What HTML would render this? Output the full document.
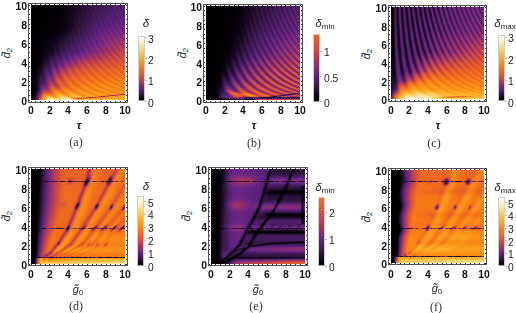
<!DOCTYPE html><html><head><meta charset="utf-8"><style>
*{margin:0;padding:0}
html,body{width:516px;height:313px;background:#fff;overflow:hidden}
body{position:relative;font-family:"Liberation Sans",sans-serif}
.hm{position:absolute;display:flex;flex-direction:column}
.hm i{display:block;height:1px;flex:0 0 1px;background:linear-gradient(90deg,var(--g))}
.fr{position:absolute;border:1px solid #505050;box-sizing:border-box}
b{position:absolute;background:#2a2a2a;display:block}
.t{position:absolute;white-space:nowrap;line-height:1;will-change:transform}
.tk{font-weight:bold;font-size:10.4px;color:#111}
.cl{font-size:10.3px;color:#1a1a1a}
.ctl{font-size:11.5px;color:#222}
.ctl sub{font-size:8px;vertical-align:-2px}
.cb{position:absolute;box-sizing:border-box;border:1px solid #cdcdcd;border-bottom-color:#999}
b.ct{width:2px;height:1px;background:#bbb}
.tau{font-size:11px;font-weight:bold;font-style:italic;color:#111}
.g0,.d2{font-size:11px;color:#222}
.d2{will-change:auto}
.g0 sub,.d2 sub{font-size:8px;vertical-align:-2px}
.cap{font-family:"Liberation Serif",serif;font-size:12px;color:#333}
</style></head><body>
<div class="hm" style="left:31px;top:5px;width:94px;height:95px"><i style="--g:#000000 0px,#040106 30px,#0f0517 40px,#14071e 44px,#1a0a25 46px,#190924 48px,#230e30 50px,#1d0b2a 52px,#291137 55px,#250f32 57px,#311541 59px,#2a1138 61px,#371749 64px,#301440 66px,#3e1952 68px,#361747 70px,#421a59 73px,#3a184c 75px,#471b5f 77px,#3e1952 79px,#3f1954 80px,#4b1c66 82px,#401a56 84px,#4f1d6b 86px,#451b5d 89px,#541f71 91px,#471b60 93px"></i><i style="--g:#000000 0px,#040106 30px,#0f0517 40px,#14071e 44px,#1b0a27 46px,#190924 48px,#230e31 50px,#210d2e 53px,#2b123a 55px,#250f32 57px,#321542 59px,#2d133c 62px,#39184c 64px,#311541 66px,#3e1952 68px,#381749 71px,#441a5b 73px,#3b184e 75px,#471b60 78px,#3e1953 80px,#4c1d67 82px,#421a59 84px,#441a5b 85px,#511e6d 87px,#451b5d 89px,#551f71 91px,#4a1c64 93px"></i><i style="--g:#000000 0px,#040106 30px,#0f0517 40px,#1a0a25 45px,#1e0c2b 49px,#240f32 51px,#210d2e 53px,#2d133c 55px,#260f34 57px,#341645 60px,#2d133c 62px,#3b184e 64px,#331644 66px,#411a56 69px,#38184a 71px,#441b5c 73px,#3d1951 76px,#4a1c64 78px,#3f1955 80px,#4d1d69 83px,#431a5a 85px,#521e6f 87px,#471b60 89px,#481c62 90px,#572074 92px,#501d6c 93px"></i><i style="--g:#000000 0px,#040106 30px,#0f0517 40px,#1a0a25 45px,#1d0b29 47px,#1e0c2a 49px,#261034 51px,#210d2e 53px,#2e133d 55px,#2a1138 58px,#361748 60px,#2e133d 62px,#3c184f 65px,#351746 67px,#421a59 69px,#3a184d 71px,#471b60 74px,#3d1951 76px,#4a1c65 78px,#411a58 81px,#501d6c 83px,#441b5c 85px,#541f70 88px,#481b61 90px,#582075 92px,#561f72 93px"></i><i style="--g:#000000 0px,#040106 30px,#0e0517 40px,#190925 45px,#1f0c2b 47px,#1d0b2a 49px,#281036 51px,#220e2f 53px,#30143f 56px,#2a1138 58px,#381749 60px,#321543 63px,#3e1953 65px,#361748 67px,#431a5a 69px,#3b184f 72px,#491c62 74px,#3f1954 76px,#411a56 77px,#4d1d68 79px,#421a58 81px,#501e6c 83px,#501e6c 84px,#461b5e 86px,#561f73 88px,#4a1c64 90px,#4b1c66 91px,#5a2077 93px"></i><i style="--g:#000000 0px,#040106 30px,#12061c 41px,#190924 45px,#210d2e 47px,#1e0b2a 49px,#291138 51px,#260f34 54px,#321542 56px,#2a1239 58px,#39184b 61px,#321542 63px,#401955 65px,#3a184d 68px,#461b5e 70px,#3c1950 72px,#491c62 74px,#4a1c64 75px,#401a56 77px,#4e1d6a 79px,#451b5c 81px,#451b5d 82px,#531f70 84px,#471b60 86px,#572074 89px,#4a1c65 91px,#5b2179 93px"></i><i style="--g:#000000 0px,#040107 30px,#12061c 41px,#190924 45px,#230e30 47px,#1e0c2a 49px,#2b1239 52px,#260f34 54px,#341644 56px,#2f143e 59px,#3b184e 61px,#331644 63px,#411a57 66px,#3a184d 68px,#471b60 70px,#3f1955 73px,#4c1d68 75px,#421a58 77px,#501e6c 80px,#451b5d 82px,#541f71 84px,#491c63 87px,#5a2077 89px,#4c1d68 91px,#592076 93px"></i><i style="--g:#000000 0px,#040107 30px,#12061c 41px,#1f0c2c 46px,#220e2f 48px,#230e30 50px,#2d133c 52px,#261034 54px,#341645 56px,#2f143e 59px,#3c1950 61px,#371749 64px,#431a5b 66px,#3b184e 68px,#491c63 71px,#3f1955 73px,#4d1d69 75px,#441a5b 78px,#521e6f 80px,#471b60 82px,#491c62 83px,#572074 85px,#4a1c64 87px,#592076 89px,#5a2077 90px,#4d1d69 92px,#551f72 93px"></i><i style="--g:#000000 0px,#050207 30px,#12061c 41px,#180923 44px,#240f32 48px,#220e2f 50px,#2e133e 52px,#281036 54px,#371749 57px,#2f143f 59px,#3e1952 62px,#371749 64px,#451b5c 66px,#3e1953 69px,#4c1c66 71px,#411a57 73px,#501d6c 76px,#441b5c 78px,#521e6f 80px,#531e70 81px,#481b61 83px,#582075 85px,#4c1d67 88px,#5d217b 90px,#4f1d6b 92px,#511e6d 93px"></i><i style="--g:#000000 0px,#050208 30px,#12061c 41px,#1b0a27 43px,#1e0c2b 46px,#271035 48px,#220e30 50px,#2f143f 52px,#2b123a 55px,#38184b 57px,#311541 59px,#401955 62px,#38184a 64px,#471b5f 67px,#3e1953 69px,#4c1d67 71px,#431a59 74px,#511e6e 76px,#471b60 79px,#561f73 81px,#491c63 83px,#5a2077 86px,#4c1d67 88px,#5d217a 90px,#5e217b 91px,#501d6c 93px"></i><i style="--g:#000000 0px,#040107 28px,#12061c 41px,#1c0b28 44px,#1e0c2a 46px,#291137 48px,#230e30 50px,#321542 53px,#2b123a 55px,#39184c 57px,#341644 60px,#411a57 62px,#3b184f 65px,#491c63 67px,#401956 69px,#4f1d6b 72px,#441a5b 74px,#531e6f 77px,#471b60 79px,#571f73 81px,#4b1c65 84px,#5c2179 86px,#4f1d6b 89px,#61227e 91px,#521e6e 93px"></i><i style="--g:#000000 0px,#040107 28px,#0d0415 37px,#180923 42px,#1e0c2a 44px,#1e0c2a 46px,#2a1139 48px,#271035 51px,#341644 53px,#2c123b 55px,#3b184f 58px,#351645 60px,#431a5a 63px,#3b184f 65px,#4a1c64 67px,#421a58 70px,#511e6d 72px,#461b5f 75px,#551f72 77px,#491c63 79px,#4b1c65 80px,#5a2077 82px,#4c1c67 84px,#5e217b 87px,#4f1d6b 89px,#60227e 91px,#62227f 92px,#582075 93px"></i><i style="--g:#000000 0px,#040107 28px,#0d0415 37px,#170923 42px,#200d2c 44px,#1e0c2a 46px,#2b123a 48px,#271035 51px,#351746 53px,#301440 56px,#3d1951 58px,#361748 60px,#451b5d 63px,#3d1951 65px,#4d1d68 68px,#431a5a 70px,#521e6f 73px,#461b5f 75px,#561f72 77px,#4d1d69 79px,#4a1c64 80px,#5b2178 82px,#4e1d69 85px,#60227d 87px,#521e6e 90px,#642382 92px,#5f227d 93px"></i><i style="--g:#000000 0px,#040107 28px,#11061a 38px,#170822 42px,#210d2e 44px,#1e0c2b 46px,#2d133c 49px,#271035 51px,#361748 54px,#301440 56px,#3e1952 58px,#38184a 61px,#461b5e 63px,#3f1955 66px,#4f1d6b 68px,#461b5e 71px,#551f71 73px,#491c62 75px,#4a1c64 76px,#592076 78px,#4c1c67 80px,#5e217b 83px,#4f1d6b 85px,#62227f 88px,#521e6e 90px,#652383 93px"></i><i style="--g:#000000 0px,#040107 28px,#11061a 38px,#170822 42px,#230e30 44px,#230e30 47px,#2f143f 49px,#281137 51px,#38184a 54px,#311541 56px,#401a56 59px,#39184b 61px,#481c62 64px,#401955 66px,#4f1d6b 68px,#501e6d 69px,#461b5e 71px,#551f72 73px,#491c63 76px,#5a2077 78px,#4d1d68 81px,#5f227c 83px,#501e6d 86px,#632381 88px,#541f71 91px,#682485 93px"></i><i style="--g:#000000 0px,#040107 28px,#11061a 38px,#1d0b2a 43px,#240f32 45px,#230e30 47px,#301440 49px,#2c123b 52px,#39184c 54px,#351646 57px,#421a58 59px,#3c1950 62px,#4a1c65 64px,#421a58 66px,#441a5b 67px,#531e70 69px,#481b61 71px,#592075 74px,#4b1c66 76px,#5d217a 79px,#4e1d6a 81px,#61227f 84px,#521e6e 86px,#652483 89px,#551f72 91px,#652483 93px"></i><i style="--g:#000000 0px,#040107 28px,#11061a 38px,#170822 41px,#261034 45px,#230e30 47px,#321542 50px,#2c123b 52px,#3a184d 54px,#351646 57px,#421a59 59px,#3c1950 62px,#4b1c66 64px,#431a5b 67px,#541f71 69px,#491c63 72px,#5a2077 74px,#4c1d68 77px,#5e217b 79px,#501d6c 82px,#622380 84px,#531e70 87px,#672485 89px,#571f74 92px,#60227e 93px"></i><i style="--g:#000000 0px,#040107 28px,#10051a 38px,#180924 41px,#1c0b28 43px,#281036 45px,#240e31 47px,#341645 50px,#2d133c 52px,#3d1951 55px,#361747 57px,#451b5d 60px,#3d1952 62px,#4e1d6a 65px,#451b5c 67px,#572074 70px,#4a1c65 72px,#5c2179 75px,#4e1d6a 77px,#61227e 80px,#511e6e 82px,#652383 85px,#551f71 87px,#6a2584 90px,#582075 92px,#5b2178 93px"></i><i style="--g:#000000 0px,#040107 28px,#100519 38px,#1a0a26 41px,#1c0b28 43px,#291138 45px,#271036 48px,#351746 50px,#311440 53px,#3e1952 55px,#39184b 58px,#471b5f 60px,#401a56 63px,#501e6c 65px,#481b61 68px,#592076 70px,#4c1d68 73px,#5e217b 75px,#4f1d6c 78px,#62237f 80px,#531e6f 83px,#662484 85px,#561f73 88px,#6b2583 90px,#5e227b 92px,#592076 93px"></i><i style="--g:#000000 0px,#040107 28px,#150820 39px,#1c0b28 43px,#2b123a 46px,#271035 48px,#361747 50px,#301440 53px,#3e1953 55px,#39184b 58px,#471b60 60px,#431a5a 62px,#411a56 63px,#501d6c 65px,#521e6f 66px,#481c61 68px,#5b2178 71px,#4d1d69 73px,#60227d 76px,#511e6d 78px,#642382 81px,#541f71 83px,#692484 86px,#582075 88px,#5a2077 89px,#662484 90px,#6f2681 91px,#662484 92px,#5c2179 93px"></i><i style="--g:#000000 0px,#040107 28px,#150720 39px,#1c0b28 42px,#220e2f 44px,#2d133c 46px,#281036 48px,#38184a 51px,#311542 53px,#411a57 56px,#3a184d 58px,#4b1c65 61px,#421a59 63px,#551f71 66px,#4b1c65 68px,#561f73 70px,#5e217b 71px,#501d6c 74px,#62237f 76px,#531e6f 79px,#652483 81px,#561f72 84px,#6a2584 86px,#692484 87px,#592076 89px,#6e2682 91px,#702681 92px,#632380 93px"></i><i style="--g:#000000 0px,#040107 28px,#15071f 39px,#1f0c2c 41px,#210d2e 44px,#2f143e 46px,#2c123b 49px,#3a184c 51px,#351746 54px,#421a59 56px,#3d1951 59px,#4c1c67 61px,#441b5c 64px,#551f72 66px,#4c1c67 69px,#5d217b 71px,#5f227c 72px,#501e6c 74px,#632381 77px,#541f70 79px,#682484 82px,#582074 84px,#5a2077 85px,#652483 86px,#6e2681 87px,#662484 88px,#5c2179 89px,#5c2179 90px,#682485 91px,#74277f 92px,#6d2582 93px"></i><i style="--g:#000000 0px,#040107 28px,#12061c 37px,#1b0a27 40px,#210d2e 44px,#301440 46px,#2c123b 49px,#3a184d 51px,#351746 54px,#441b5c 57px,#3d1951 59px,#4e1d6b 62px,#451b5d 64px,#5a2076 67px,#4e1d6a 69px,#62237f 72px,#531e70 75px,#662483 77px,#561f72 80px,#6a2584 82px,#682485 83px,#592075 85px,#6e2682 87px,#6f2681 88px,#5c2179 90px,#76277e 93px"></i><i style="--g:#000000 0px,#050208 28px,#14071e 37px,#1b0a27 40px,#230e30 42px,#220d2f 44px,#331543 47px,#2d133c 49px,#3d1951 52px,#371748 54px,#461b5f 57px,#3f1954 59px,#4a1c64 61px,#511e6d 62px,#481c62 65px,#5b2178 67px,#501d6c 70px,#622380 72px,#622380 73px,#531f70 75px,#682485 78px,#572074 80px,#662484 82px,#6e2681 83px,#662483 84px,#5c2179 85px,#5c217a 86px,#682484 87px,#74277f 88px,#5f227c 91px,#6a2584 92px,#78287d 93px"></i><i style="--g:#000000 0px,#050208 25px,#11061a 35px,#1c0b28 40px,#260f34 42px,#230e30 44px,#361746 47px,#2f143e 49px,#3f1954 52px,#3a184c 55px,#481b61 57px,#411a57 60px,#511e6e 62px,#4d1d68 64px,#491c63 65px,#5f227c 68px,#521e6e 70px,#662484 73px,#572074 75px,#572074 76px,#6b2583 78px,#672485 79px,#592076 81px,#702681 83px,#702681 84px,#5d217a 86px,#73277f 88px,#78287d 89px,#6b2583 90px,#61227e 91px,#642382 92px,#74277e 93px"></i><i style="--g:#000000 0px,#060209 25px,#12061b 35px,#180923 38px,#1d0b29 40px,#291138 42px,#291137 45px,#381749 47px,#331543 50px,#401a56 52px,#3b184e 55px,#4b1c66 58px,#431a5a 60px,#561f73 63px,#4c1d67 65px,#582075 67px,#61227f 68px,#541f71 71px,#672485 73px,#5e217b 75px,#582074 76px,#6a2583 78px,#702681 79px,#652383 80px,#5c2179 81px,#5f227c 82px,#6c2582 83px,#77287d 84px,#62237f 86px,#61227e 87px,#6d2582 88px,#7c297b 89px,#79287c 90px,#692584 91px,#632381 92px,#6d2582 93px"></i><i style="--g:#000000 0px,#050208 24px,#0c0413 30px,#13061d 35px,#1c0b28 38px,#1e0c2a 40px,#2c123b 42px,#2a1138 45px,#39184b 47px,#341645 50px,#441a5b 53px,#3c1950 55px,#4e1d6a 58px,#461b5f 61px,#582075 63px,#4e1d6a 66px,#642382 69px,#561f73 71px,#652383 73px,#6d2582 74px,#662484 75px,#5b2179 77px,#662484 78px,#73277f 79px,#702681 80px,#5e227c 82px,#672485 83px,#77287d 84px,#7a287c 85px,#632380 87px,#672485 88px,#832a78 90px,#692484 92px,#692484 93px"></i><i style="--g:#000000 0px,#060209 24px,#0d0414 30px,#12061c 33px,#1b0a27 36px,#1f0c2c 40px,#301440 43px,#2c123a 45px,#3d1951 48px,#371748 50px,#461b5f 53px,#3f1955 56px,#4f1d6b 58px,#471b60 61px,#5c217a 64px,#511e6d 66px,#5f227c 68px,#672485 69px,#592075 72px,#6f2681 74px,#6f2681 75px,#5d217a 77px,#722680 79px,#79287c 80px,#622380 82px,#632381 83px,#802a79 85px,#7b297b 86px,#6b2583 87px,#662484 88px,#852b77 90px,#862b76 91px,#6b2583 93px"></i><i style="--g:#000000 0px,#07020a 24px,#0e0516 30px,#160820 33px,#160820 35px,#240e31 38px,#210d2e 40px,#341644 43px,#2e133e 45px,#3f1954 48px,#3a184c 51px,#471b60 53px,#411a57 56px,#541f70 59px,#4a1c64 61px,#561f72 63px,#5f227c 64px,#531e6f 67px,#672485 69px,#6b2583 70px,#5b2178 72px,#6b2583 74px,#75277e 75px,#62227f 77px,#60227e 78px,#6c2583 79px,#7c297b 80px,#7b287b 81px,#642382 83px,#6c2582 84px,#7f2979 85px,#862b76 86px,#6b2583 88px,#6d2582 89px,#8d2d71 91px,#882b75 92px,#76277e 93px"></i><i style="--g:#000000 0px,#060209 20px,#0d0414 26px,#0f0517 30px,#190925 33px,#170922 35px,#281036 38px,#230e31 40px,#371748 43px,#331543 46px,#411a56 48px,#3b184e 51px,#4c1c67 54px,#431a5a 56px,#451b5d 57px,#561f72 59px,#4c1c67 62px,#622380 65px,#551f72 67px,#652383 69px,#702681 70px,#5d217a 73px,#662484 74px,#76277e 75px,#78287d 76px,#6b2583 77px,#62237f 78px,#662484 79px,#822a78 81px,#6a2583 83px,#682484 84px,#892c74 86px,#882c75 87px,#6e2682 89px,#78287d 90px,#8b2c73 91px,#922f6d 92px,#872b75 93px"></i><i style="--g:#000000 0px,#07020a 20px,#0e0516 26px,#100519 30px,#1d0b29 33px,#190a25 35px,#2b123a 38px,#291137 41px,#38184b 43px,#341645 46px,#441b5c 49px,#3d1951 51px,#471b60 53px,#4e1d69 54px,#451b5d 57px,#5a2077 60px,#4e1d6a 62px,#652383 65px,#582075 68px,#702681 70px,#73277f 71px,#682485 72px,#5f227d 73px,#632380 74px,#7e297a 76px,#652383 79px,#832a77 81px,#862b76 82px,#6b2583 84px,#722680 85px,#902e6f 87px,#77287d 89px,#74277f 90px,#952f6b 92px,#952f6b 93px"></i><i style="--g:#000000 0px,#07020b 20px,#0f0517 26px,#160821 31px,#200d2d 33px,#200c2c 36px,#2e133d 38px,#2a1139 41px,#3c1950 44px,#371748 46px,#471b5f 49px,#3f1955 52px,#4e1d6a 54px,#4c1c67 56px,#471b60 57px,#5c2179 60px,#511e6d 63px,#652383 65px,#692484 66px,#5b2178 68px,#5e217b 69px,#6c2583 70px,#78287d 71px,#62227f 74px,#6c2583 75px,#7d297a 76px,#822a78 77px,#682484 79px,#6c2583 80px,#8c2c73 82px,#862b76 83px,#76277e 84px,#702681 85px,#902e6f 87px,#942f6c 88px,#79287c 90px,#7c297b 91px,#9c3265 93px"></i><i style="--g:#000000 0px,#08030c 20px,#100519 26px,#13061d 29px,#170922 31px,#240e31 33px,#210d2e 36px,#321542 39px,#2c123c 41px,#3f1954 44px,#3a184c 47px,#481b61 49px,#451b5c 51px,#411a57 52px,#541f70 55px,#4a1c65 58px,#5d217a 60px,#592076 62px,#531e70 63px,#6d2582 66px,#5d217a 69px,#662484 70px,#77287d 71px,#7c297b 72px,#652382 74px,#672485 75px,#862b76 77px,#822a78 78px,#6b2583 80px,#8a2c74 82px,#902e6f 83px,#76277e 85px,#77287d 86px,#983068 88px,#96306a 89px,#7c297b 91px,#9a3167 93px"></i><i style="--g:#000000 0px,#050208 15px,#0b0412 21px,#11061a 26px,#190924 28px,#180924 31px,#271035 33px,#230e30 36px,#361747 39px,#321543 42px,#411a56 44px,#3b184e 47px,#4c1d67 50px,#451b5c 53px,#551f72 55px,#4c1c67 58px,#632380 61px,#561f73 64px,#6d2582 66px,#722680 67px,#672485 68px,#60227d 69px,#632380 70px,#802a79 72px,#7c297b 73px,#662484 75px,#842b77 77px,#8b2c73 78px,#722680 80px,#722680 81px,#932f6c 83px,#922f6d 84px,#78287d 86px,#812a78 87px,#9e3263 89px,#872b76 91px,#822a78 92px,#912e6e 93px"></i><i style="--g:#000000 0px,#050208 15px,#0c0413 21px,#11061b 26px,#1c0b28 28px,#1a0a25 31px,#291138 33px,#250f32 36px,#38184a 39px,#331644 42px,#441b5c 45px,#3d1951 47px,#4e1d6a 50px,#451b5e 53px,#5a2077 56px,#4f1d6c 59px,#632381 61px,#5e227b 63px,#582075 64px,#692584 66px,#76277e 67px,#622380 70px,#6c2583 71px,#7e297a 72px,#852b77 73px,#6c2583 75px,#6d2582 76px,#8e2d71 78px,#8d2d71 79px,#74277f 81px,#7c297b 82px,#9a3167 84px,#7e297a 87px,#9e3263 89px,#a3345f 90px,#882c75 92px,#8a2c74 93px"></i><i style="--g:#000000 0px,#060209 15px,#0d0414 21px,#12061c 26px,#1f0c2b 28px,#1b0a27 31px,#2e133e 34px,#281036 36px,#3a184d 39px,#351746 42px,#471b5f 45px,#401955 48px,#4f1d6b 50px,#4d1d68 52px,#481b61 53px,#5c2179 56px,#511e6d 59px,#6a2584 62px,#5b2178 65px,#652383 66px,#75277e 67px,#7b287c 68px,#652483 70px,#672485 71px,#872b75 73px,#862b76 74px,#6e2682 76px,#76277e 77px,#942f6c 79px,#78287d 82px,#993167 84px,#9e3263 85px,#842b77 87px,#862b76 88px,#a7355b 90px,#a6355d 91px,#8b2c73 93px"></i><i style="--g:#000000 0px,#060209 15px,#0d0414 21px,#11061a 24px,#13061d 26px,#210d2e 28px,#1d0b29 31px,#311542 34px,#2c123b 37px,#3e1953 40px,#381749 42px,#481c62 45px,#411a57 48px,#541f71 51px,#4a1c64 54px,#60227d 57px,#551f71 60px,#6b2583 62px,#6d2582 63px,#5d217b 65px,#61227f 66px,#7e297a 68px,#7c297b 69px,#672485 71px,#8d2d71 74px,#76277e 76px,#73277f 77px,#942f6c 79px,#983069 80px,#7e297a 82px,#802a79 83px,#a23360 85px,#a03361 86px,#872b75 88px,#8f2d70 89px,#ae3856 91px,#a7355b 92px,#963069 93px"></i><i style="--g:#000000 0px,#050207 14px,#0a030f 19px,#13061d 24px,#13071e 26px,#240e31 28px,#1f0c2c 31px,#341645 34px,#2e133d 37px,#411a56 40px,#3b184e 43px,#4c1d67 46px,#441a5b 48px,#4d1d68 50px,#571f73 52px,#4c1c67 54px,#622380 57px,#561f72 60px,#692484 62px,#72277f 63px,#60227e 66px,#6b2583 67px,#7d297a 68px,#842b77 69px,#6d2582 71px,#6d2582 72px,#8e2d71 74px,#902e6f 75px,#76287e 77px,#7b297b 78px,#9c3165 80px,#993167 81px,#812a78 83px,#8a2c74 84px,#a8355a 86px,#8c2d72 89px,#ac3758 91px,#b23a53 92px,#a8355b 93px"></i><i style="--g:#000000 0px,#050208 14px,#0b0411 19px,#160820 24px,#15071f 26px,#291137 29px,#250f32 32px,#361748 34px,#301440 37px,#431a59 40px,#3c1950 43px,#4e1d6a 46px,#461b5e 49px,#5a2077 52px,#4f1d6b 55px,#662484 58px,#592076 60px,#5a2077 61px,#652383 62px,#73277f 63px,#76277e 64px,#632381 66px,#662484 67px,#872b76 69px,#862b76 70px,#6e2681 72px,#76277e 73px,#952f6b 75px,#902e6f 76px,#7a287c 78px,#a13360 81px,#862b76 84px,#a7355b 86px,#ad3757 87px,#932f6c 89px,#922f6d 90px,#b43b52 92px,#b63c51 93px"></i><i style="--g:#000000 0px,#050208 14px,#0c0412 19px,#14071e 22px,#190924 24px,#160821 26px,#2c123b 29px,#260f34 32px,#3b184e 35px,#351746 38px,#461b5e 41px,#3e1953 43px,#481c61 45px,#511e6d 47px,#481b61 49px,#5c2179 52px,#511e6d 55px,#692484 58px,#5b2178 61px,#712680 63px,#7b297b 64px,#652483 67px,#8d2d72 70px,#76277e 72px,#73277f 73px,#932f6c 75px,#993167 76px,#812a78 78px,#802a79 79px,#a23360 81px,#a5355d 82px,#8c2d72 84px,#8d2d71 85px,#af3855 87px,#b03955 88px,#96306a 90px,#9a3167 91px,#ba3e4d 93px"></i><i style="--g:#000000 0px,#060209 14px,#0d0414 19px,#14071f 22px,#1c0b28 24px,#180923 26px,#2f143f 29px,#281036 32px,#3d1951 35px,#371748 38px,#491c62 41px,#411a57 44px,#541f71 47px,#4b1c65 50px,#60227d 53px,#541f71 56px,#692484 58px,#6e2682 59px,#662484 60px,#5f227d 62px,#6b2583 63px,#7c297b 64px,#7f2a79 65px,#692584 67px,#6c2583 68px,#8e2d71 70px,#8f2e70 71px,#77287d 73px,#7b287b 74px,#9c3265 76px,#9c3265 77px,#832a77 79px,#892c74 80px,#aa3659 82px,#a8355b 83px,#8f2d70 85px,#96306a 86px,#b63c51 88px,#b23a53 89px,#993167 91px,#b53b51 93px"></i><i style="--g:#000000 0px,#040105 11px,#0e0516 19px,#0f0517 21px,#1f0c2b 24px,#1a0a25 26px,#311541 29px,#2a1139 32px,#3f1954 35px,#39184b 38px,#4b1c65 41px,#431a5a 44px,#571f73 47px,#4c1c67 50px,#622380 53px,#551f72 56px,#662484 58px,#722680 59px,#60227d 62px,#662484 63px,#842b77 65px,#6c2583 68px,#942f6b 71px,#7a287c 74px,#a23460 77px,#872b75 80px,#af3955 83px,#932f6c 86px,#bb3e4d 89px,#9e3263 92px,#ab3659 93px"></i><i style="--g:#000000 0px,#040106 11px,#0e0516 17px,#0f0518 21px,#210d2f 24px,#1f0c2b 27px,#331643 29px,#321543 31px,#2f143f 33px,#401a56 35px,#401955 37px,#3c1950 39px,#4e1d6a 42px,#461b5f 45px,#5a2077 48px,#501d6c 51px,#662484 54px,#592076 57px,#632381 58px,#77287d 60px,#642382 62px,#642382 63px,#832a77 65px,#892c75 66px,#722780 68px,#722680 69px,#932f6c 71px,#983068 72px,#812a78 74px,#802a79 75px,#a13361 77px,#a7355c 78px,#8f2d70 80px,#8d2d71 81px,#ae3856 83px,#b43b52 84px,#9b3166 86px,#993167 87px,#ba3e4d 89px,#c04149 90px,#a7355b 92px,#a4345e 93px"></i><i style="--g:#000000 0px,#040106 11px,#0b0411 16px,#11061a 19px,#100519 21px,#240f32 24px,#200d2d 27px,#39184b 30px,#311441 33px,#461b5e 36px,#3e1952 39px,#511e6d 42px,#471b60 45px,#5d217a 48px,#511e6d 51px,#692484 54px,#5b2178 57px,#6e2682 59px,#7a287c 60px,#78287d 61px,#652483 63px,#6c2583 64px,#8c2d72 66px,#8b2c73 67px,#74277f 69px,#7a287c 70px,#9b3166 72px,#9a3166 73px,#832a77 75px,#882c75 76px,#a93659 78px,#aa3659 79px,#912e6e 81px,#942f6b 82px,#b63c51 84px,#b73c50 85px,#9e3263 87px,#a03361 88px,#c24248 90px,#c44346 91px,#aa3659 93px"></i><i style="--g:#000000 0px,#040106 11px,#0b0411 16px,#12061d 19px,#10051a 21px,#261034 24px,#220d2f 27px,#3b184e 30px,#331643 33px,#481b61 36px,#401955 39px,#531e6f 42px,#4a1c64 45px,#60227d 49px,#541f70 51px,#5e227c 53px,#692584 54px,#6e2582 55px,#5e227c 57px,#5f227c 58px,#692484 59px,#79287c 60px,#802a79 61px,#6c2583 63px,#6a2584 64px,#8a2c74 66px,#912e6e 67px,#78287d 70px,#a13361 73px,#872b76 76px,#af3955 79px,#ac3758 80px,#942f6b 82px,#9c3264 83px,#bc3f4c 85px,#ba3e4e 86px,#a13360 88px,#a8355b 89px,#c84544 91px,#c74545 92px,#b93d4e 93px"></i><i style="--g:#000000 0px,#040106 11px,#100518 17px,#12061c 20px,#160820 22px,#281037 24px,#240e31 27px,#3c1950 30px,#3a184c 32px,#38184a 34px,#491c62 36px,#471b60 38px,#431a5a 40px,#572074 43px,#4c1d67 46px,#632381 49px,#561f72 52px,#672485 54px,#722680 55px,#60227d 58px,#652383 59px,#832a77 61px,#832a78 62px,#6d2582 64px,#712680 65px,#922f6d 67px,#942f6b 68px,#7d297a 70px,#7f2979 71px,#a03361 73px,#a5355d 74px,#8e2d70 76px,#8c2d72 77px,#ad3857 79px,#b43b52 80px,#993167 83px,#c24248 86px,#a6355c 89px,#cd4941 92px,#ca4643 93px"></i><i style="--g:#000000 0px,#040107 11px,#100519 17px,#170822 19px,#160821 22px,#2e133d 25px,#271035 27px,#341645 29px,#411a57 31px,#39184c 34px,#4e1d6a 37px,#441b5c 40px,#5a2077 43px,#4e1d6a 46px,#652383 49px,#5f227d 51px,#5b2178 53px,#642382 54px,#77287d 56px,#652382 58px,#642382 59px,#8a2c74 62px,#712680 65px,#9a3167 68px,#8a2c74 70px,#802a79 71px,#882c75 72px,#a9365a 74px,#a9365a 75px,#902e6f 77px,#932f6c 78px,#b53b51 80px,#b93d4f 81px,#a03361 83px,#9f3362 84px,#c04149 86px,#c74445 87px,#ab3758 90px,#d14c3f 93px"></i><i style="--g:#000000 0px,#050208 11px,#11061a 17px,#1a0a26 19px,#170822 22px,#321542 25px,#2b123a 28px,#441b5c 31px,#3b184f 34px,#511e6d 37px,#471b61 40px,#5e227c 44px,#531e6f 47px,#662484 49px,#6c2582 50px,#672485 51px,#5c2179 53px,#712680 55px,#7d297a 56px,#6f2681 58px,#672485 59px,#6c2582 60px,#8d2d72 62px,#8f2e70 63px,#78287d 65px,#79287c 66px,#9a3167 68px,#a03361 69px,#872b76 72px,#b03955 75px,#ac3758 76px,#952f6b 78px,#9c3265 79px,#bd3f4c 81px,#bd3f4c 82px,#a4345e 84px,#a6355c 85px,#c74545 87px,#cb4742 88px,#b43b52 90px,#b03955 91px,#ce4941 93px"></i><i style="--g:#000000 0px,#060209 11px,#12061c 17px,#1e0c2a 19px,#190925 22px,#361748 25px,#2e133e 28px,#471b60 31px,#431a5a 33px,#411a57 35px,#541f70 37px,#531e6f 39px,#4c1c67 41px,#642382 44px,#571f73 47px,#662484 49px,#73277f 50px,#74277f 51px,#622380 53px,#632381 54px,#812a78 56px,#872b75 57px,#6f2681 60px,#973069 63px,#7e297a 66px,#852b77 67px,#a5345d 69px,#a6355c 70px,#8f2d70 72px,#8f2e70 73px,#b03955 75px,#b63c50 76px,#9b3166 79px,#c44347 82px,#c14149 83px,#a9365a 85px,#ae3856 86px,#cd4941 88px,#ce4a40 89px,#b73c50 91px,#b63c51 92px,#c44247 93px"></i><i style="--g:#000000 0px,#07020a 11px,#14071e 17px,#220e30 19px,#1c0b28 22px,#3a184d 25px,#321543 28px,#401a56 30px,#4d1d68 32px,#431a5a 35px,#5c2179 38px,#501d6c 41px,#692484 44px,#642382 46px,#5e217b 48px,#672485 49px,#7f2a79 51px,#682485 54px,#8f2e70 57px,#8f2e70 58px,#78287d 60px,#7b297b 61px,#9b3165 63px,#a13361 64px,#872b76 67px,#af3955 70px,#ac3757 71px,#942f6b 73px,#993167 74px,#ba3e4e 76px,#bd3f4c 77px,#a5345e 79px,#a23460 80px,#c24148 82px,#c94643 83px,#c54346 84px,#ae3857 86px,#b53b51 87px,#d24d3e 89px,#d24d3e 90px,#bb3e4d 92px,#ba3e4e 93px"></i><i style="--g:#000000 0px,#050207 10px,#0f0517 14px,#160820 17px,#271035 19px,#200c2c 22px,#331543 24px,#401a56 26px,#371749 28px,#38184a 29px,#521e6e 32px,#461b5f 35px,#60227d 38px,#5c2179 40px,#571f73 42px,#6d2582 44px,#76277e 45px,#672485 47px,#682484 49px,#882b75 51px,#892c75 52px,#73277f 54px,#73277f 55px,#932f6c 57px,#9a3166 58px,#802a79 61px,#9b3166 63px,#a8355a 64px,#a8355a 65px,#902e6f 67px,#912e6e 68px,#b13954 70px,#b83d4f 71px,#9b3165 74px,#c34247 77px,#c24248 78px,#a93659 80px,#aa3659 81px,#c94643 83px,#ce4a40 84px,#b23a53 87px,#d7503b 90px,#ca4743 92px,#be404b 93px"></i><i style="--g:#000000 0px,#060209 10px,#11061a 14px,#11061b 16px,#2b123a 19px,#240e31 22px,#281036 23px,#401955 25px,#451b5c 26px,#3b184e 29px,#561f72 32px,#4b1c65 35px,#571f74 37px,#682484 39px,#5b2178 42px,#6f2681 44px,#7e297a 45px,#7f2a79 46px,#6b2583 48px,#6c2583 49px,#8c2d73 51px,#942f6c 52px,#7a287c 55px,#932f6c 57px,#a13360 58px,#a3345f 59px,#8c2d72 61px,#8b2c73 62px,#b23a53 65px,#973069 68px,#9c3265 69px,#bc3f4c 71px,#bf404a 72px,#a7355b 74px,#a3345f 75px,#ca4643 78px,#c74445 79px,#ae3856 81px,#b13a54 82px,#cf4a40 84px,#d34d3d 85px,#b73c50 88px,#da5338 91px,#d95239 92px,#cd4941 93px"></i><i style="--g:#000000 0px,#06020a 10px,#13061d 14px,#13061d 16px,#2f143f 19px,#2e133d 21px,#2a1139 23px,#491c63 26px,#3e1953 29px,#4d1d69 31px,#5c2179 33px,#4f1d6b 36px,#642381 38px,#6f2681 39px,#662484 41px,#632380 43px,#8b2c73 46px,#73277f 49px,#7a287c 50px,#9a3166 52px,#9d3264 53px,#872b75 55px,#852b76 56px,#ad3757 59px,#aa3659 60px,#922f6d 62px,#96306a 63px,#b63c51 65px,#bb3e4d 66px,#9e3263 69px,#c64346 72px,#c54346 73px,#ac3758 75px,#ab3658 76px,#c94644 78px,#cf4a40 79px,#b33a53 82px,#b83d4f 83px,#d54e3c 85px,#d7503b 86px,#bc3f4c 89px,#dd5634 92px,#db5437 93px"></i><i style="--g:#000000 0px,#07020b 10px,#160821 14px,#1b0a27 17px,#331543 19px,#371749 20px,#2d133c 23px,#4c1d68 26px,#4e1d69 27px,#421a59 29px,#441a5b 30px,#61227f 33px,#531e70 36px,#642382 38px,#7a287c 40px,#662484 43px,#922e6e 46px,#932f6c 47px,#7e297a 49px,#7d297a 50px,#a7355c 53px,#8d2d71 56px,#912e6e 57px,#b13954 59px,#b63c51 60px,#9a3167 63px,#c14149 66px,#c24148 67px,#aa3659 69px,#a7355c 70px,#cc4842 73px,#bc3f4c 75px,#b03954 76px,#b23a53 77px,#cf4b40 79px,#d44e3d 80px,#b83d4f 83px,#d95239 86px,#d14c3e 88px,#c14149 90px,#df5832 93px"></i><i style="--g:#000000 0px,#08030d 10px,#190a25 14px,#1d0b29 17px,#3b184f 20px,#311440 23px,#441a5b 25px,#4f1d6b 26px,#4e1d6a 28px,#461b5e 30px,#652383 33px,#5f227d 35px,#5a2077 37px,#642381 38px,#822a78 40px,#76277e 42px,#6e2682 43px,#72277f 44px,#95306a 46px,#9d3264 47px,#852b77 50px,#8c2c73 51px,#ac3758 53px,#b03955 54px,#95306b 57px,#bc3f4c 60px,#bd3f4c 61px,#a5345d 63px,#a2345f 64px,#c94643 67px,#c74445 68px,#ae3856 70px,#af3955 71px,#cc4842 73px,#d24c3e 74px,#b53b51 77px,#ba3e4e 78px,#d54f3c 80px,#d8513a 81px,#bd3f4c 84px,#dc5535 87px,#d44e3c 89px,#c54346 91px,#db5437 93px"></i><i style="--g:#000000 0px,#09030e 10px,#1d0b29 14px,#1f0c2b 17px,#3f1954 20px,#351746 23px,#39184b 24px,#511e6d 26px,#582075 27px,#491c63 30px,#5b2178 32px,#682485 33px,#6f2681 34px,#60227d 36px,#5d217a 37px,#642382 38px,#872b75 40px,#8c2d72 41px,#77287d 44px,#a4345e 47px,#a6355c 48px,#902e6f 50px,#8e2d70 51px,#b83d4f 54px,#ac3758 56px,#9f3362 57px,#9f3362 58px,#c64445 61px,#b53b51 63px,#ab3659 64px,#ac3757 65px,#ca4743 67px,#d04b3f 68px,#b43b52 71px,#b73c50 72px,#d34d3d 74px,#d7503b 75px,#bb3e4d 78px,#da5338 81px,#d44e3d 83px,#c24148 85px,#df5832 88px,#d8513a 90px,#c84544 92px,#d04b3f 93px"></i><i style="--g:#000000 0px,#08030d 9px,#13071d 12px,#210d2d 14px,#210d2e 17px,#421a59 20px,#3f1954 22px,#3a184d 24px,#5d217a 27px,#551f72 29px,#501d6c 31px,#6a2583 33px,#77287d 34px,#632381 37px,#652483 38px,#8a2c74 40px,#942f6b 41px,#892c75 43px,#802a79 44px,#852b76 45px,#a7355b 47px,#b03955 48px,#96306a 51px,#9a3166 52px,#ba3e4d 54px,#c24148 55px,#a6355d 58px,#aa3659 59px,#c84544 61px,#c74445 63px,#b03955 65px,#b63c51 66px,#d24c3e 68px,#d54f3c 69px,#b93d4e 72px,#d95239 75px,#d34d3d 77px,#c0414a 79px,#dd5634 82px,#d8513a 84px,#c64445 86px,#e25a2f 89px,#db5437 91px,#cb4742 93px"></i><i style="--g:#000000 0px,#07020a 7px,#0f0517 11px,#250f33 14px,#240e31 17px,#451b5d 20px,#491c63 21px,#3d1951 24px,#61227f 27px,#652383 28px,#541f70 31px,#6c2583 33px,#7d297a 34px,#822a78 35px,#6b2583 38px,#9b3166 41px,#9f3362 42px,#8b2c73 45px,#b53b51 48px,#b83d4f 49px,#9e3263 52px,#c74445 55px,#c84644 56px,#ad3757 59px,#d04b3f 62px,#ca4643 64px,#b73c50 66px,#d95239 69px,#d14c3e 71px,#bf404a 73px,#dd5634 76px,#d7503b 78px,#c54346 80px,#e15930 83px,#db5337 85px,#ca4643 87px,#e55d2c 90px,#de5733 92px,#d44e3d 93px"></i><i style="--g:#000000 0px,#050208 6px,#100519 11px,#2a1138 14px,#271035 17px,#3c184f 19px,#4e1d6a 21px,#411a57 24px,#461b5f 25px,#652383 27px,#6f2681 28px,#60227d 30px,#5a2077 31px,#5e227c 32px,#6e2682 33px,#832a77 34px,#8d2d71 35px,#75277e 38px,#7a287c 39px,#aa3659 42px,#9d3264 44px,#942f6b 45px,#973069 46px,#c14149 49px,#b33a53 51px,#a9365a 52px,#a9365a 53px,#cf4a40 56px,#c34247 58px,#b63c50 59px,#b43b52 60px,#d7513a 63px,#cc4841 65px,#be3f4b 67px,#dd5634 70px,#d44e3c 72px,#c54346 74px,#e15930 77px,#da5238 79px,#c94644 81px,#e45c2c 84px,#de5633 86px,#cd4941 88px,#e75f29 91px,#e25a2f 93px"></i><i style="--g:#000000 0px,#060209 6px,#11061b 11px,#2f143e 14px,#2b123a 17px,#301440 18px,#531e6f 21px,#4b1c66 23px,#461b5e 24px,#491c62 25px,#682484 27px,#79287c 28px,#79287c 29px,#622380 31px,#622380 32px,#702681 33px,#96306a 35px,#983068 36px,#832a77 38px,#812a78 39px,#b03955 42px,#b43b52 43px,#9d3264 46px,#c54346 49px,#c44247 51px,#af3855 53px,#b43b52 54px,#d04b3f 56px,#d64f3b 57px,#bb3e4d 60px,#bd3f4c 61px,#d7503b 63px,#da5238 65px,#c64346 67px,#c54346 68px,#e15a30 71px,#d8513a 73px,#c94643 75px,#e45c2c 78px,#dc5535 80px,#cd4941 82px,#e75f29 85px,#e15a2f 87px,#d14c3f 89px,#ea6325 93px"></i><i style="--g:#000000 0px,#060209 6px,#13071e 11px,#341644 14px,#341645 16px,#331543 18px,#572074 21px,#531e70 23px,#4c1c66 25px,#6b2583 27px,#812a78 28px,#882b75 29px,#692484 32px,#73277f 33px,#9c3265 35px,#a5345e 36px,#8c2d73 39px,#902e6f 40px,#be404b 43px,#b23a53 45px,#a8355a 47px,#cf4a40 50px,#c74545 52px,#b73c50 54px,#d95239 57px,#d44e3d 59px,#c14149 61px,#e05931 65px,#c94643 68px,#d54f3c 70px,#e55d2b 72px,#cd4941 76px,#e75f29 79px,#e05831 81px,#d04b3f 83px,#ea6325 87px,#d54f3c 90px,#e15930 92px,#e96226 93px"></i><i style="--g:#000000 0px,#030105 5px,#160820 11px,#38174a 14px,#39184c 16px,#361747 18px,#5a2077 21px,#60227e 22px,#501e6c 25px,#582075 26px,#6c2583 27px,#872b76 28px,#922f6d 29px,#8e2d70 30px,#74277f 32px,#77287d 33px,#ae3856 36px,#af3856 37px,#993168 39px,#96306a 40px,#c44247 43px,#c34248 45px,#af3955 47px,#b43b52 48px,#d04b3f 50px,#d44e3d 52px,#c0414a 54px,#bf404a 55px,#de5733 58px,#d7503b 60px,#c74445 62px,#e45c2c 66px,#cd4941 69px,#da5338 71px,#e86028 73px,#d14c3e 77px,#e96226 80px,#e35b2d 82px,#d44e3c 84px,#ec6622 88px,#d95239 91px,#e15a30 93px"></i><i style="--g:#000000 0px,#030105 5px,#180923 11px,#3b184f 14px,#3f1954 16px,#38184a 18px,#3f1954 19px,#5d217a 21px,#662484 22px,#561f73 25px,#5a2077 26px,#6c2582 27px,#892c74 28px,#9b3166 29px,#9c3264 30px,#832a78 32px,#7f297a 33px,#8b2c73 34px,#b33a53 36px,#ba3e4e 37px,#a03361 40px,#a4345e 41px,#c54346 43px,#ce4a40 45px,#b73c50 48px,#d95238 51px,#d8513a 53px,#c64346 55px,#d24d3d 57px,#e35b2e 59px,#cb4842 63px,#e65e2a 66px,#e25a2f 68px,#d14c3e 70px,#dd5634 72px,#ea6424 74px,#d54f3c 78px,#eb6523 81px,#e75f29 83px,#d8513a 85px,#ef691f 89px,#db5337 93px"></i><i style="--g:#000000 0px,#040106 5px,#1a0a26 11px,#451b5c 15px,#3c184f 18px,#401956 19px,#5e227b 21px,#6c2583 22px,#6f2681 23px,#662483 24px,#5e217b 26px,#6d2582 27px,#a03361 29px,#a9365a 30px,#8a2c74 33px,#8e2d71 34px,#c24248 37px,#c34247 38px,#aa3659 41px,#d14c3e 44px,#d34d3d 46px,#c04149 48px,#c04149 49px,#e05831 52px,#da5337 54px,#ca4743 56px,#e75f29 60px,#d04b3f 64px,#e96226 67px,#e55d2b 69px,#d54f3c 71px,#e05930 73px,#ed6721 75px,#d8513a 79px,#ed6820 82px,#ea6325 84px,#db5437 86px,#e45c2c 88px,#f06c1d 90px,#e96226 92px,#e05931 93px"></i><i style="--g:#000000 0px,#040106 5px,#260f34 12px,#491c63 15px,#441b5c 17px,#411a58 19px,#5f227c 21px,#79287c 23px,#672485 25px,#632381 26px,#6e2682 27px,#a3345f 29px,#b13954 30px,#b03955 31px,#973069 33px,#942f6c 34px,#c74445 37px,#c84644 39px,#b33b52 41px,#b43b52 42px,#db5337 45px,#d7503b 47px,#c64445 49px,#d54f3c 51px,#e55d2b 53px,#cf4b3f 57px,#ea6325 61px,#d54f3c 65px,#ec6622 68px,#e86028 70px,#d95239 72px,#e35b2d 74px,#ef6a1e 76px,#db5437 80px,#f16c1d 84px,#dd5634 88px,#f16e1c 91px,#ed6721 93px"></i><i style="--g:#000000 0px,#040107 5px,#1c0b28 10px,#281036 12px,#4d1d68 15px,#4a1c64 17px,#441a5b 19px,#5e227c 21px,#832a78 23px,#812a78 24px,#6c2582 26px,#712680 27px,#882c75 28px,#b73c50 30px,#bc3f4c 31px,#9d3264 34px,#a2345f 35px,#c74544 37px,#d34d3d 39px,#bb3e4d 42px,#e15930 46px,#cb4842 50px,#e96226 54px,#d44e3c 58px,#ed6721 62px,#da5338 65px,#e05931 67px,#ef691f 69px,#ea6325 71px,#dc5536 73px,#e55d2b 75px,#f16d1c 77px,#ea6325 79px,#dd5634 81px,#f2701b 85px,#df5832 89px,#f3721b 93px"></i><i style="--g:#000000 0px,#050207 5px,#1f0c2b 10px,#2a1138 12px,#501e6c 15px,#501e6d 17px,#471b5f 19px,#4d1d69 20px,#5e217b 21px,#76277e 22px,#8b2c74 23px,#8f2e70 24px,#7a287c 26px,#78287d 27px,#882c75 28px,#b93d4e 30px,#c54346 31px,#c34248 32px,#aa3659 34px,#a7355b 35px,#d44e3d 38px,#d8513a 40px,#c34247 43px,#e65e2a 47px,#d14c3e 51px,#ec6622 55px,#d95239 59px,#ee6820 62px,#eb6424 64px,#dd5535 66px,#e35b2d 68px,#f16d1c 70px,#ed6721 72px,#df5732 74px,#e65f29 76px,#f2701b 78px,#ee6820 80px,#e05931 82px,#e96226 84px,#f3721b 86px,#ee691f 88px,#e25a2f 90px,#f26f1c 93px"></i><i style="--g:#000000 0px,#050208 5px,#220d2f 10px,#2b123a 12px,#531e6f 15px,#572074 17px,#4b1c65 19px,#4e1d6a 20px,#5e217b 21px,#77287d 22px,#902e6f 23px,#9b3166 24px,#822a78 27px,#8a2c74 28px,#c94644 31px,#c64445 33px,#b03955 35px,#b33a52 36px,#dc5535 39px,#da5338 41px,#c94643 43px,#d54f3c 45px,#e86028 47px,#e55d2b 49px,#d6503b 51px,#de5633 53px,#ed6820 55px,#ea6424 57px,#dc5535 59px,#e25b2e 61px,#f06c1d 63px,#ed6721 65px,#df5832 67px,#e55e2b 69px,#f26f1c 71px,#ef6a1e 73px,#e25a2f 75px,#e75f29 77px,#f3721b 79px,#f16d1c 81px,#e45c2d 83px,#e86127 85px,#f4741a 87px,#f26f1c 89px,#e65e2a 91px,#ea6325 93px"></i><i style="--g:#000000 0px,#060209 5px,#250f33 10px,#2d133c 12px,#551f71 15px,#5e217b 17px,#501e6c 19px,#511e6d 20px,#5e217b 21px,#78287d 22px,#952f6b 23px,#a5345d 24px,#a6355c 25px,#8f2e6f 27px,#8f2d70 28px,#ca4743 31px,#d34d3d 32px,#c84544 34px,#b83d4f 36px,#e25b2e 40px,#ce4940 44px,#dc5535 46px,#eb6523 48px,#e65f29 50px,#d95239 52px,#e25b2e 54px,#f06b1d 56px,#ec6622 58px,#de5733 60px,#e55d2b 62px,#f2701b 65px,#e15930 69px,#f3721b 72px,#f16f1c 74px,#e35b2e 77px,#f57719 81px,#e45d2c 85px,#f67918 89px,#e65e2a 93px"></i><i style="--g:#000000 0px,#06020a 5px,#281137 10px,#2f143f 12px,#62227f 16px,#5e227c 18px,#551f71 20px,#5e217b 21px,#77287d 22px,#ad3757 24px,#b33b52 25px,#973069 28px,#9e3263 29px,#c94644 31px,#d6503b 32px,#d44e3c 34px,#c14149 36px,#cc4842 38px,#e35b2d 40px,#e45c2c 42px,#d34d3d 45px,#ee6820 49px,#dc5436 53px,#f16f1c 57px,#ee6820 59px,#e15930 61px,#e75f29 63px,#f3741a 66px,#e35b2d 70px,#f57719 74px,#e55d2b 78px,#f67918 82px,#e75f29 86px,#ee6820 88px,#f67b18 90px,#f4741a 92px,#ef691f 93px"></i><i style="--g:#000001 0px,#07020a 5px,#2c123b 10px,#311541 12px,#471b5f 14px,#652382 16px,#6b2583 17px,#672484 18px,#5a2077 20px,#60227d 21px,#76277e 22px,#b13a54 24px,#be404b 25px,#bc3f4c 26px,#a3345f 28px,#a23360 29px,#d7503b 32px,#dd5634 34px,#c64445 37px,#d6503b 39px,#e86127 41px,#e65e2a 43px,#d8513a 46px,#f06c1d 50px,#de5733 54px,#f3721b 58px,#f06b1d 60px,#e35b2e 63px,#f4741a 66px,#f3721b 68px,#e55d2b 71px,#f67a18 75px,#e76028 79px,#ed6721 81px,#f67b18 83px,#f47619 85px,#e86127 88px,#f78018 92px,#f67c18 93px"></i><i style="--g:#010001 0px,#07020b 5px,#2f143f 10px,#3a184e 13px,#672485 16px,#73277f 17px,#672485 19px,#622380 21px,#75277e 22px,#b33a52 24px,#c64445 25px,#c94644 26px,#aa3659 29px,#af3955 30px,#df5832 33px,#e05831 35px,#cc4841 38px,#ec6622 42px,#e15930 45px,#dc5436 47px,#f06c1d 50px,#f06c1d 52px,#e15930 55px,#f4751a 59px,#f16e1c 61px,#e55d2b 64px,#f67a18 68px,#e76028 72px,#f4741a 75px,#f77d18 77px,#e96127 81px,#f88018 85px,#ea6424 89px,#f06c1d 91px,#f88018 93px"></i><i style="--g:#010001 0px,#08030c 5px,#331643 10px,#3b184f 13px,#692484 16px,#79287c 17px,#7d297b 18px,#672485 21px,#75277e 22px,#b33a53 24px,#c94643 25px,#d24c3e 26px,#c34247 28px,#b63c51 29px,#b33a53 30px,#df5732 33px,#e75f29 35px,#d34d3d 38px,#da5337 40px,#ef6a1e 43px,#de5633 47px,#ed6820 50px,#f3731a 52px,#e45c2d 56px,#f57819 60px,#f3721b 62px,#e75f29 65px,#f77d18 69px,#f3731a 71px,#ea6325 73px,#ee6820 75px,#f88118 78px,#ea6424 82px,#f16d1c 84px,#f88118 86px,#f77d18 88px,#ec6523 91px,#f3721b 93px"></i><i style="--g:#010001 0px,#08030d 5px,#371748 10px,#3d1951 13px,#561f73 15px,#692584 16px,#7e297a 17px,#872b76 18px,#712680 21px,#78287d 22px,#902e6f 23px,#ca4743 25px,#d8513a 26px,#d14c3e 28px,#bb3e4d 30px,#be404b 31px,#e75f29 34px,#e96325 36px,#d7503b 39px,#e05931 41px,#f06b1d 43px,#f06c1d 45px,#e15930 48px,#f06b1d 51px,#f57719 53px,#e65e2a 57px,#f77c18 62px,#e86127 66px,#f77f18 70px,#f67a18 72px,#ea6424 75px,#f88317 79px,#f67b18 81px,#ec6622 84px,#f98617 88px,#f77d18 90px,#ef691f 92px,#ed6820 93px"></i><i style="--g:#010001 0px,#09030e 5px,#3a184c 10px,#3e1953 13px,#551f72 15px,#692584 16px,#822a78 17px,#8f2e70 18px,#872b75 20px,#7d297a 21px,#7d297a 22px,#8f2d70 23px,#c94644 25px,#da5338 26px,#dc5535 28px,#c24248 31px,#ec6523 35px,#ec6523 37px,#db5337 40px,#f2701b 44px,#f26f1c 46px,#e35c2d 49px,#f16e1c 52px,#f67a18 54px,#e86127 58px,#f3731a 61px,#f78018 63px,#eb6424 67px,#f06c1d 69px,#f98417 72px,#ed6721 76px,#f16e1c 78px,#f98717 81px,#ee691f 85px,#f26f1c 87px,#fa8a17 90px,#f3721b 93px"></i><i style="--g:#010001 0px,#09030e 5px,#3d1951 10px,#411a57 13px,#551f72 15px,#692484 16px,#96306a 18px,#9c3165 19px,#862b76 22px,#8f2d70 23px,#d95239 26px,#e45c2d 28px,#c94643 31px,#d34d3d 33px,#f06b1d 36px,#ed6721 38px,#de5633 41px,#f4741a 45px,#f3721b 47px,#e65e2a 50px,#f2711b 53px,#f77e18 55px,#ea6424 59px,#ef691f 61px,#f88317 64px,#f26f1c 67px,#ec6622 69px,#f98717 73px,#f77f18 75px,#ee6820 78px,#f78018 81px,#fa8a17 83px,#ef6a1e 87px,#f4741a 89px,#fa8a17 91px,#fa8917 93px"></i><i style="--g:#010001 0px,#09030f 5px,#2b123a 8px,#401a56 10px,#4a1c64 14px,#692584 16px,#9c3265 18px,#a7355c 19px,#9b3166 21px,#912e6e 22px,#912e6e 23px,#a13361 24px,#d44e3d 26px,#e75f29 28px,#cc4941 32px,#db5337 34px,#ef691f 36px,#f26f1c 38px,#e15930 42px,#f57819 46px,#f47619 48px,#e86127 51px,#f3731a 54px,#f88218 56px,#ec6523 61px,#f98617 65px,#f88118 67px,#ee691f 70px,#f3721b 72px,#fa8b17 75px,#f06c1d 79px,#f2701b 81px,#fa8d18 84px,#f98617 86px,#f16d1c 89px,#f57819 91px,#fa8d18 93px"></i><i style="--g:#010001 0px,#0a030f 5px,#1d0b29 7px,#441a5b 10px,#4d1d68 14px,#6a2584 16px,#a23360 18px,#b03955 19px,#aa3659 21px,#973069 23px,#9d3264 24px,#dd5634 27px,#e86127 29px,#d04b3f 33px,#e05831 35px,#f16e1c 37px,#f3721b 39px,#e45c2c 43px,#f77c18 47px,#f67a18 49px,#eb6424 52px,#ef6a1e 54px,#f98517 57px,#f77e18 59px,#ee6820 62px,#f77d18 65px,#fa8b17 67px,#f06b1d 72px,#fa8c18 76px,#fa8917 78px,#f16e1c 81px,#f4741a 83px,#fb9019 86px,#f98817 88px,#f26f1c 91px,#f67a18 93px"></i><i style="--g:#010001 0px,#0a030f 5px,#1e0c2a 7px,#481b61 10px,#501e6d 12px,#521e6e 14px,#6b2583 16px,#a5355d 18px,#b73c50 19px,#bd3f4b 20px,#a03362 23px,#9d3264 24px,#c0414a 26px,#e35b2e 28px,#e86127 30px,#d44e3d 34px,#f3721b 38px,#f4741a 40px,#e75f29 44px,#f78018 48px,#f77f18 50px,#ee6820 53px,#f06b1d 55px,#f98817 58px,#f98517 60px,#f06c1d 63px,#f2701b 65px,#fa8d18 68px,#fa8917 70px,#f16e1c 73px,#f4741a 75px,#fb9019 78px,#fa8a17 80px,#f2701b 83px,#f57719 85px,#fb9319 88px,#fa8b17 90px,#f2711b 93px"></i><i style="--g:#010001 0px,#050208 4px,#11061a 6px,#4c1c67 10px,#582075 12px,#5d217b 15px,#6d2582 16px,#a7355c 18px,#bc3f4c 19px,#c64445 20px,#bb3e4d 22px,#a3345f 24px,#a6355d 25px,#dd5535 28px,#ea6424 30px,#d95239 35px,#f47619 39px,#f57819 41px,#e96226 45px,#f98717 50px,#ef691f 55px,#f77f18 58px,#fa8d18 60px,#f67a18 63px,#f16d1c 65px,#f88217 68px,#fb9219 70px,#fa8a17 72px,#f2701b 75px,#f57819 77px,#fb931a 80px,#fa8d18 82px,#f3721b 85px,#f67918 87px,#fc951a 90px,#fb8f19 92px,#f98517 93px"></i><i style="--g:#010001 0px,#050208 4px,#11061b 6px,#501e6c 10px,#60227e 12px,#622380 15px,#702681 16px,#8a2c74 17px,#c04149 19px,#cd4941 20px,#ca4743 22px,#ab3658 25px,#b13a54 26px,#e45c2d 29px,#ed6820 31px,#dd5535 35px,#ec6622 38px,#f77e18 41px,#ec6622 46px,#f67a18 49px,#fa8a17 51px,#f98417 53px,#f16d1c 56px,#f3731a 58px,#fb8f18 61px,#fa8d18 63px,#f2701b 67px,#fc951a 72px,#f88118 75px,#f3721b 77px,#f67b18 79px,#fc951a 82px,#fb9019 84px,#f4751a 87px,#f67918 89px,#fc951a 92px,#fc981b 93px"></i><i style="--g:#010001 0px,#050208 4px,#12061b 6px,#541f70 10px,#6a2584 12px,#6c2583 15px,#76277e 16px,#8d2d72 17px,#c34248 19px,#d95238 21px,#d14b3f 23px,#ba3e4e 25px,#b83d4f 26px,#e15930 29px,#f06c1d 31px,#eb6523 34px,#e35b2d 37px,#f77e18 41px,#f88317 43px,#ef691f 47px,#f67a18 50px,#fb8f18 53px,#f26f1c 58px,#f98417 61px,#fb931a 64px,#f4741a 68px,#f57719 70px,#fc971b 74px,#f88317 77px,#f4741a 79px,#f67b18 81px,#fc971b 84px,#fb941a 86px,#f4751a 90px,#fa8b17 93px"></i><i style="--g:#010001 0px,#060209 4px,#13061d 6px,#682485 11px,#7d297a 13px,#802a79 16px,#912e6e 17px,#c54346 19px,#e05931 21px,#e05930 23px,#c94644 26px,#d34d3d 28px,#f16e1c 31px,#f57719 33px,#e86028 38px,#f88217 42px,#fa8917 44px,#f16d1c 49px,#fb9219 54px,#f88317 57px,#f3721b 60px,#fc961b 65px,#f98617 68px,#f4751a 71px,#fc981b 76px,#f98717 79px,#f47619 82px,#fc9a1c 87px,#f98817 90px,#f57719 93px"></i><i style="--g:#010001 0px,#06020a 4px,#14071e 6px,#5b2178 10px,#702680 11px,#842b77 12px,#8e2d70 14px,#8e2d71 16px,#983068 17px,#d95239 20px,#eb6424 22px,#e25a2f 25px,#d7503b 27px,#df5832 29px,#f57918 32px,#f88018 34px,#ec6523 39px,#fa8c18 44px,#f88417 47px,#f2701b 50px,#f88217 53px,#fc961b 56px,#f4751a 61px,#f88317 64px,#fc991b 67px,#fa8917 70px,#f47619 73px,#fc991c 78px,#fa8d18 81px,#f57619 84px,#fa8a17 87px,#fc9b1c 90px,#f98617 93px"></i><i style="--g:#010001 0px,#07020b 4px,#160820 6px,#5f227c 10px,#7a287c 11px,#912e6e 12px,#a13360 14px,#a4345e 17px,#da5338 20px,#ef6a1e 22px,#f2701b 24px,#e15a2f 28px,#f06b1d 31px,#fa8817 34px,#f77c18 37px,#ef6a1e 40px,#f77c18 43px,#fb9319 46px,#f88417 49px,#f3731a 52px,#fc981b 57px,#fb8f18 60px,#f57719 63px,#f98417 66px,#fc9b1c 69px,#fa8d18 72px,#f57719 75px,#fa8917 78px,#fc9c1d 81px,#fa8a17 84px,#f57719 87px,#fc9b1c 92px,#fc9c1d 93px"></i><i style="--g:#010002 0px,#08030c 4px,#190924 6px,#662484 10px,#a13360 12px,#b73c50 14px,#b43b52 17px,#cb4743 19px,#f16e1c 22px,#f77e18 24px,#ea6325 29px,#f3731a 32px,#fb8f18 35px,#f98617 38px,#f2701b 41px,#f77d18 44px,#fc961a 47px,#fb8f18 50px,#f57819 53px,#f88417 56px,#fc9b1d 59px,#fb9219 62px,#f67a18 65px,#f88417 68px,#fc9c1d 71px,#fb931a 74px,#f57918 78px,#fc9d1d 84px,#f57918 90px,#fa8c18 93px"></i><i style="--g:#010002 0px,#09030e 4px,#1e0c2a 6px,#582075 9px,#76277e 10px,#b63c51 12px,#c84544 13px,#ce4a40 15px,#ca4743 18px,#e96226 21px,#f77e18 23px,#fa8c17 25px,#f06b1d 30px,#f57819 33px,#fc951a 36px,#fb9019 39px,#f4751a 43px,#f98717 46px,#fc9d1d 49px,#fb9219 52px,#f77c18 55px,#f98617 58px,#fda01f 62px,#f67b18 68px,#fa8b17 71px,#fc9f1e 74px,#fb931a 77px,#f67c18 80px,#f98617 83px,#fc9f1e 87px,#f67a18 93px"></i><i style="--g:#010002 0px,#0b0411 4px,#250f32 6px,#632381 9px,#8a2c74 10px,#ae3856 11px,#ca4743 12px,#e15930 14px,#dc5535 19px,#f2701b 22px,#fb941a 25px,#fa8d18 28px,#f3731a 31px,#f77d18 34px,#fc9f1e 38px,#fb941a 41px,#f67b18 45px,#fda220 51px,#fc981b 54px,#f77e18 58px,#fda320 64px,#fc971b 67px,#f77d18 71px,#fda21f 77px,#fc961a 80px,#f77c18 84px,#fda11f 90px,#fc951a 93px"></i><i style="--g:#020103 0px,#0d0414 4px,#2c123b 6px,#551f72 8px,#73277f 9px,#bf404a 11px,#d95239 12px,#ee691f 14px,#e96127 20px,#f77e18 23px,#fc9f1e 26px,#fc9f1e 28px,#f67a18 33px,#fa8b17 36px,#fda722 40px,#fb9119 44px,#f88118 47px,#fda823 54px,#f88218 60px,#fa8c18 63px,#fda622 67px,#fc991b 70px,#f78018 74px,#fc961b 78px,#fda521 81px,#f77d18 88px,#f88417 92px,#f77d18 93px"></i><i style="--g:#020103 0px,#08030d 3px,#1e0c2a 5px,#60227e 8px,#852b76 9px,#ce4941 11px,#f16d1c 13px,#f78018 15px,#f26f1c 21px,#fc971b 25px,#fdad2b 28px,#fb941a 32px,#f98517 35px,#fda722 40px,#fdae2b 43px,#fa8a17 48px,#fa8c18 51px,#fdac28 56px,#fda01f 59px,#f98517 63px,#fb8f18 66px,#fda824 70px,#fc9f1e 73px,#f88317 77px,#fb9119 83px,#f77e18 85px,#f16d1c 86px,#cb4842 88px,#993167 90px,#912e6e 91px,#9a3167 92px,#b03955 93px"></i><i style="--g:#020103 0px,#09030f 3px,#11061a 4px,#531e6f 7px,#702681 8px,#bd3f4c 10px,#da5337 11px,#ed6721 12px,#fa8c18 14px,#fc981b 16px,#f88118 22px,#fda521 26px,#febc41 29px,#feb83a 31px,#fc9f1e 34px,#fb9219 37px,#fda824 41px,#feb839 44px,#fdab27 47px,#fa8d18 51px,#fb9219 54px,#feb02e 59px,#fda421 62px,#fa8817 66px,#fb9219 70px,#fc9c1d 73px,#fa8d18 75px,#ef6a1e 77px,#ca4743 79px,#9c3265 81px,#932f6c 82px,#993167 83px,#c84544 85px,#f06a1e 87px,#fb8f18 89px,#fc9c1d 91px,#fc951a 93px"></i><i style="--g:#020104 0px,#0b0411 3px,#14071f 4px,#60227d 7px,#862b76 8px,#cd4941 10px,#f3731a 12px,#fc9d1d 14px,#feb230 16px,#feb231 18px,#fc9d1d 21px,#fc991c 24px,#fda925 26px,#fecd61 30px,#fece63 32px,#fda824 37px,#fc9f1e 40px,#feaf2c 43px,#febe43 46px,#feb737 49px,#fc9d1d 52px,#fb8e18 55px,#fda621 62px,#fa8a17 65px,#ec6622 67px,#b63c51 70px,#9c3264 72px,#9f3262 73px,#c24248 75px,#e96127 77px,#f88317 79px,#fc951a 81px,#fa8917 87px,#fda722 92px,#fdac29 93px"></i><i style="--g:#030104 0px,#0d0413 3px,#190924 4px,#4f1d6b 6px,#712680 7px,#bf404a 9px,#ed6721 11px,#f77f18 12px,#fc971b 13px,#febd42 15px,#fecf66 17px,#fed26a 18px,#fec958 20px,#feb332 23px,#feb332 26px,#fecc5f 29px,#fee18e 32px,#fee290 34px,#fed777 36px,#feba3c 39px,#fda521 42px,#fdae2b 49px,#fc961a 52px,#f57719 54px,#c54346 58px,#ac3757 60px,#ac3758 62px,#d7503b 65px,#ef6a1e 67px,#fa8b17 70px,#fb9119 77px,#fdad29 81px,#feb839 84px,#fda521 88px,#fb9019 92px,#fb9019 93px"></i><i style="--g:#030105 0px,#0e0516 3px,#1e0c2a 4px,#592076 6px,#842b77 7px,#ae3856 8px,#cf4a40 9px,#f2711b 11px,#fa8a17 12px,#fda220 13px,#fed97b 16px,#ffe6a2 18px,#ffe6a1 20px,#fec958 25px,#fec652 27px,#fed470 30px,#ffeab0 34px,#ffecb7 36px,#ffe6a1 38px,#fee18c 39px,#febb3f 41px,#fda11f 42px,#f98717 43px,#f16e1c 44px,#c14148 47px,#bc3f4d 48px,#f16d1c 54px,#fa8b17 58px,#fc981b 65px,#fdad2a 68px,#fec047 72px,#feb83a 75px,#fc9d1d 79px,#fc9a1c 83px,#fdac29 86px,#fec149 90px,#feba3e 93px"></i><i style="--g:#040105 0px,#100518 3px,#210d2e 4px,#61227f 6px,#922e6d 7px,#bc3e4d 8px,#d95239 9px,#f57819 11px,#fda823 13px,#fedf88 16px,#ffeebe 18px,#fff3d3 20px,#fff1c8 22px,#fed776 28px,#fed470 30px,#fee18e 33px,#ffefc3 37px,#ffefc2 39px,#ffe6a2 41px,#feb93b 45px,#fda823 47px,#fda622 51px,#fec856 58px,#fec550 61px,#fda622 66px,#fc9d1d 70px,#fdac28 73px,#fec754 78px,#fec44f 81px,#fda722 86px,#fda01f 90px,#feaf2d 93px"></i></div>
<div class="fr" style="left:28px;top:3px;width:100px;height:100px"></div><b style="left:30.50px;top:101px;width:1px;height:1px"></b><b style="left:30.50px;top:4px;width:1px;height:1px"></b><b style="left:29px;top:99.50px;width:1px;height:1px"></b><b style="left:126px;top:99.50px;width:1px;height:1px"></b><b style="left:35.20px;top:101px;width:1px;height:1px"></b><b style="left:35.20px;top:4px;width:1px;height:1px"></b><b style="left:29px;top:94.75px;width:1px;height:1px"></b><b style="left:126px;top:94.75px;width:1px;height:1px"></b><b style="left:39.90px;top:101px;width:1px;height:1px"></b><b style="left:39.90px;top:4px;width:1px;height:1px"></b><b style="left:29px;top:90.00px;width:1px;height:1px"></b><b style="left:126px;top:90.00px;width:1px;height:1px"></b><b style="left:44.60px;top:101px;width:1px;height:1px"></b><b style="left:44.60px;top:4px;width:1px;height:1px"></b><b style="left:29px;top:85.25px;width:1px;height:1px"></b><b style="left:126px;top:85.25px;width:1px;height:1px"></b><b style="left:49.30px;top:101px;width:1px;height:1px"></b><b style="left:49.30px;top:4px;width:1px;height:1px"></b><b style="left:29px;top:80.50px;width:1px;height:1px"></b><b style="left:126px;top:80.50px;width:1px;height:1px"></b><b style="left:54.00px;top:101px;width:1px;height:1px"></b><b style="left:54.00px;top:4px;width:1px;height:1px"></b><b style="left:29px;top:75.75px;width:1px;height:1px"></b><b style="left:126px;top:75.75px;width:1px;height:1px"></b><b style="left:58.70px;top:101px;width:1px;height:1px"></b><b style="left:58.70px;top:4px;width:1px;height:1px"></b><b style="left:29px;top:71.00px;width:1px;height:1px"></b><b style="left:126px;top:71.00px;width:1px;height:1px"></b><b style="left:63.40px;top:101px;width:1px;height:1px"></b><b style="left:63.40px;top:4px;width:1px;height:1px"></b><b style="left:29px;top:66.25px;width:1px;height:1px"></b><b style="left:126px;top:66.25px;width:1px;height:1px"></b><b style="left:68.10px;top:101px;width:1px;height:1px"></b><b style="left:68.10px;top:4px;width:1px;height:1px"></b><b style="left:29px;top:61.50px;width:1px;height:1px"></b><b style="left:126px;top:61.50px;width:1px;height:1px"></b><b style="left:72.80px;top:101px;width:1px;height:1px"></b><b style="left:72.80px;top:4px;width:1px;height:1px"></b><b style="left:29px;top:56.75px;width:1px;height:1px"></b><b style="left:126px;top:56.75px;width:1px;height:1px"></b><b style="left:77.50px;top:101px;width:1px;height:1px"></b><b style="left:77.50px;top:4px;width:1px;height:1px"></b><b style="left:29px;top:52.00px;width:1px;height:1px"></b><b style="left:126px;top:52.00px;width:1px;height:1px"></b><b style="left:82.20px;top:101px;width:1px;height:1px"></b><b style="left:82.20px;top:4px;width:1px;height:1px"></b><b style="left:29px;top:47.25px;width:1px;height:1px"></b><b style="left:126px;top:47.25px;width:1px;height:1px"></b><b style="left:86.90px;top:101px;width:1px;height:1px"></b><b style="left:86.90px;top:4px;width:1px;height:1px"></b><b style="left:29px;top:42.50px;width:1px;height:1px"></b><b style="left:126px;top:42.50px;width:1px;height:1px"></b><b style="left:91.60px;top:101px;width:1px;height:1px"></b><b style="left:91.60px;top:4px;width:1px;height:1px"></b><b style="left:29px;top:37.75px;width:1px;height:1px"></b><b style="left:126px;top:37.75px;width:1px;height:1px"></b><b style="left:96.30px;top:101px;width:1px;height:1px"></b><b style="left:96.30px;top:4px;width:1px;height:1px"></b><b style="left:29px;top:33.00px;width:1px;height:1px"></b><b style="left:126px;top:33.00px;width:1px;height:1px"></b><b style="left:101.00px;top:101px;width:1px;height:1px"></b><b style="left:101.00px;top:4px;width:1px;height:1px"></b><b style="left:29px;top:28.25px;width:1px;height:1px"></b><b style="left:126px;top:28.25px;width:1px;height:1px"></b><b style="left:105.70px;top:101px;width:1px;height:1px"></b><b style="left:105.70px;top:4px;width:1px;height:1px"></b><b style="left:29px;top:23.50px;width:1px;height:1px"></b><b style="left:126px;top:23.50px;width:1px;height:1px"></b><b style="left:110.40px;top:101px;width:1px;height:1px"></b><b style="left:110.40px;top:4px;width:1px;height:1px"></b><b style="left:29px;top:18.75px;width:1px;height:1px"></b><b style="left:126px;top:18.75px;width:1px;height:1px"></b><b style="left:115.10px;top:101px;width:1px;height:1px"></b><b style="left:115.10px;top:4px;width:1px;height:1px"></b><b style="left:29px;top:14.00px;width:1px;height:1px"></b><b style="left:126px;top:14.00px;width:1px;height:1px"></b><b style="left:119.80px;top:101px;width:1px;height:1px"></b><b style="left:119.80px;top:4px;width:1px;height:1px"></b><b style="left:29px;top:9.25px;width:1px;height:1px"></b><b style="left:126px;top:9.25px;width:1px;height:1px"></b><b style="left:124.50px;top:101px;width:1px;height:1px"></b><b style="left:124.50px;top:4px;width:1px;height:1px"></b><b style="left:29px;top:4.50px;width:1px;height:1px"></b><b style="left:126px;top:4.50px;width:1px;height:1px"></b>
<div class="t tk" style="left:30.80px;top:110.90px;transform:translate(-50%,-50%)">0</div><div class="t tk" style="left:26.90px;top:102.10px;transform:translate(-100%,-50%)">0</div><div class="t tk" style="left:49.60px;top:110.90px;transform:translate(-50%,-50%)">2</div><div class="t tk" style="left:26.90px;top:83.10px;transform:translate(-100%,-50%)">2</div><div class="t tk" style="left:68.40px;top:110.90px;transform:translate(-50%,-50%)">4</div><div class="t tk" style="left:26.90px;top:64.10px;transform:translate(-100%,-50%)">4</div><div class="t tk" style="left:87.20px;top:110.90px;transform:translate(-50%,-50%)">6</div><div class="t tk" style="left:26.90px;top:45.10px;transform:translate(-100%,-50%)">6</div><div class="t tk" style="left:106.00px;top:110.90px;transform:translate(-50%,-50%)">8</div><div class="t tk" style="left:26.90px;top:26.10px;transform:translate(-100%,-50%)">8</div><div class="t tk" style="left:124.80px;top:110.90px;transform:translate(-50%,-50%)">10</div><div class="t tk" style="left:26.90px;top:7.10px;transform:translate(-100%,-50%)">10</div>
<div class="cb" style="left:137.5px;top:35.7px;width:7px;height:65.8px;background:linear-gradient(0deg,#000000 0.0%,#14071f 4.3%,#321542 8.7%,#491c63 13.0%,#61227e 17.4%,#802a79 21.7%,#9f3263 26.1%,#b93d4e 30.4%,#cf4a40 34.8%,#de5733 39.1%,#ea6325 43.5%,#f2701b 47.8%,#f77e18 52.2%,#fa8d18 56.5%,#fc9a1c 60.9%,#fda824 65.2%,#feb636 69.6%,#fec34d 73.9%,#fed168 78.3%,#fede85 82.6%,#ffe6a1 87.0%,#ffeebe 91.3%,#fff5da 95.7%,#fffef8 100.0%)"></div><div class="t cl" style="left:148.00px;top:103.60px;transform:translate(0,-50%)">0</div><b class="ct" style="left:144.5px;top:101.0px"></b><div class="t cl" style="left:148.00px;top:82.24px;transform:translate(0,-50%)">1</div><b class="ct" style="left:144.5px;top:79.6px"></b><div class="t cl" style="left:148.00px;top:60.87px;transform:translate(0,-50%)">2</div><b class="ct" style="left:144.5px;top:58.3px"></b><div class="t cl" style="left:148.00px;top:39.51px;transform:translate(0,-50%)">3</div><b class="ct" style="left:144.5px;top:36.9px"></b><div class="t ctl" style="left:145.70px;top:23.50px;transform:translate(-50%,-50%)"><i>δ</i></div>
<div class="t tau" style="left:78.60px;top:124.50px;transform:translate(-50%,-50%)">τ</div><div class="t d2" style="left:6.50px;top:52.50px;transform:translate(-50%,-50%) rotate(-90deg)"><i>d&#771;</i><sub>2</sub></div><div class="t cap" style="left:75.80px;top:142.40px;transform:translate(-50%,-50%)">(a)</div>
<div class="hm" style="left:206px;top:6px;width:94px;height:94px"><i style="--g:#000000 0px,#040106 31px,#0b0410 39px,#12061c 41px,#0e0516 43px,#1d0b29 45px,#14071e 47px,#160820 48px,#271035 50px,#180924 52px,#2e133d 54px,#2c123b 55px,#200d2d 56px,#200c2c 57px,#371749 59px,#230e30 61px,#2b123a 62px,#3b184e 63px,#3b184f 64px,#2d133d 65px,#291138 66px,#431a5a 68px,#2e133d 70px,#341645 71px,#441b5c 72px,#471b60 73px,#311542 75px,#4d1d68 77px,#471b5f 78px,#371749 79px,#39184c 80px,#4b1c66 81px,#521e6e 82px,#38184b 84px,#561f73 86px,#521e6e 87px,#401955 88px,#3e1953 89px,#521e6e 90px,#5d217a 91px,#3f1954 93px"></i><i style="--g:#000000 0px,#040106 31px,#0a0310 39px,#13061d 41px,#0e0516 43px,#1d0b29 45px,#1e0c2a 46px,#15071f 48px,#281137 50px,#1a0a25 52px,#1e0c2b 53px,#2c123c 54px,#301440 55px,#1f0c2b 57px,#381749 59px,#341644 60px,#260f34 61px,#271035 62px,#38184a 63px,#3e1953 64px,#291137 66px,#421a59 68px,#411a57 69px,#331644 70px,#30143f 71px,#4a1c64 73px,#331643 75px,#39184c 76px,#4a1c65 77px,#4d1d68 78px,#3e1952 79px,#361748 80px,#531f70 82px,#4c1c67 83px,#3c184f 84px,#3e1952 85px,#511e6d 86px,#582075 87px,#3c1950 89px,#5c2179 91px,#592075 92px,#441b5c 93px"></i><i style="--g:#000000 0px,#040107 31px,#0a0310 39px,#14071e 41px,#11061b 44px,#200d2d 46px,#15071f 48px,#291137 50px,#271035 51px,#1c0b28 52px,#1c0b28 53px,#331543 55px,#200d2d 57px,#271035 58px,#371748 59px,#38184a 60px,#250f33 62px,#3f1955 64px,#3a184d 65px,#2c123b 66px,#2f143f 67px,#401955 68px,#451b5d 69px,#2f143f 71px,#491c63 73px,#471b60 74px,#38184a 75px,#351746 76px,#501e6c 78px,#38174a 80px,#3e1952 81px,#501e6c 82px,#531f70 83px,#3a184d 85px,#5a2077 87px,#531e6f 88px,#401a56 89px,#411a57 90px,#561f72 91px,#60227d 92px,#4f1d6b 93px"></i><i style="--g:#000000 0px,#020104 30px,#0b0411 38px,#0e0516 40px,#15071f 42px,#11061a 44px,#220e2f 46px,#160821 48px,#281137 50px,#2b1239 51px,#1c0b28 53px,#341644 55px,#30143f 56px,#230e30 57px,#240f32 58px,#341645 59px,#3b184e 60px,#261034 62px,#3f1954 64px,#3f1954 65px,#321542 66px,#2c123b 67px,#471b60 69px,#411a56 70px,#321543 71px,#361747 72px,#461b5e 73px,#4c1c67 74px,#341645 76px,#4f1d6c 78px,#4d1d69 79px,#3d1951 80px,#39184c 81px,#572074 83px,#4c1d67 84px,#3c1950 85px,#411a57 86px,#561f72 87px,#5b2178 88px,#3e1953 90px,#60227d 92px,#5b2178 93px"></i><i style="--g:#000000 0px,#040107 31px,#0c0413 38px,#0e0515 40px,#170822 42px,#11061a 44px,#230e31 46px,#180923 48px,#1a0a25 49px,#2d133d 51px,#1d0b29 53px,#331644 55px,#341645 56px,#230e30 58px,#3c1950 60px,#381749 61px,#291138 62px,#2b123a 63px,#3c1950 64px,#431a59 65px,#2d133c 67px,#461b5e 69px,#461b5f 70px,#38184b 71px,#321543 72px,#4e1d69 74px,#471b60 75px,#38174a 76px,#3a184c 77px,#4b1c66 78px,#531e6f 79px,#39184b 81px,#421a59 82px,#551f72 83px,#551f72 84px,#431a5a 85px,#3d1951 86px,#5e217b 88px,#541f71 89px,#421a58 90px,#441a5b 91px,#592076 92px,#622380 93px"></i><i style="--g:#000000 0px,#040107 31px,#0a0310 36px,#0d0415 40px,#190924 42px,#11061a 44px,#230e31 46px,#240f32 47px,#190924 49px,#2f143f 51px,#1f0c2b 53px,#220d2f 54px,#311541 55px,#381749 56px,#230e31 58px,#3c184f 60px,#3c1950 61px,#2f143f 62px,#291138 63px,#441a5b 65px,#3f1954 66px,#311441 67px,#321542 68px,#421a59 69px,#4a1c65 70px,#331644 72px,#3b184e 73px,#4c1c67 74px,#4d1d69 75px,#3e1953 76px,#371748 77px,#541f71 79px,#4e1d6a 80px,#3d1952 81px,#3d1951 82px,#4f1d6b 83px,#5a2077 84px,#3e1952 86px,#451b5d 87px,#5a2077 88px,#5e217b 89px,#401a56 91px,#632381 93px"></i><i style="--g:#000000 0px,#040107 31px,#0a0310 36px,#0d0414 40px,#1a0a26 42px,#12061c 44px,#271035 47px,#190924 49px,#2f143f 51px,#2f133e 52px,#230e30 53px,#200d2d 54px,#39184b 56px,#261034 58px,#291137 59px,#39184c 60px,#3f1955 61px,#2a1139 63px,#331644 64px,#431a59 65px,#441a5b 66px,#30143f 68px,#4b1c66 70px,#461b5f 71px,#381749 72px,#371748 73px,#511e6d 75px,#39184b 77px,#3e1953 78px,#501e6d 79px,#551f72 80px,#3b184e 82px,#5a2077 84px,#572074 85px,#441b5c 86px,#3f1955 87px,#61227f 89px,#571f73 90px,#441a5b 91px,#461b5e 92px,#5c2179 93px"></i><i style="--g:#000000 0px,#040107 31px,#0a0310 36px,#0f0518 38px,#0d0414 40px,#1b0a27 42px,#150720 45px,#291137 47px,#1a0a26 49px,#1f0c2c 50px,#2e133d 51px,#321543 52px,#200d2d 54px,#39184b 56px,#39184b 57px,#2b123a 58px,#271035 59px,#411a57 61px,#3c184f 62px,#2e133d 63px,#2f143f 64px,#3f1955 65px,#471b60 66px,#311541 68px,#38184b 69px,#491c62 70px,#4c1d67 71px,#351746 73px,#511e6d 75px,#4e1d6a 76px,#3e1953 77px,#3a184d 78px,#582075 80px,#4f1d6b 81px,#3e1953 82px,#401956 83px,#541f70 84px,#5e217b 85px,#3f1955 87px,#481b61 88px,#5e217b 89px,#61227e 90px,#421a59 92px,#511e6d 93px"></i><i style="--g:#000000 0px,#040107 31px,#0e0516 37px,#0d0415 40px,#1d0b29 43px,#15071f 45px,#2a1138 47px,#1d0b29 49px,#1e0b2a 50px,#351645 52px,#220e2f 54px,#271035 55px,#371749 56px,#3c184f 57px,#271035 59px,#401955 61px,#411a56 62px,#2d133c 64px,#481b61 66px,#441b5c 67px,#361747 68px,#341645 69px,#4f1d6b 71px,#38174a 73px,#3b184e 74px,#4d1d68 75px,#541f70 76px,#3a184d 78px,#421a59 79px,#561f72 80px,#572074 81px,#3d1951 83px,#5e217b 85px,#592076 86px,#461b5e 87px,#421a58 88px,#652383 90px,#5a2077 91px,#461b5e 92px,#481b61 93px"></i><i style="--g:#000000 0px,#050207 31px,#0a030f 34px,#0e0516 37px,#100519 39px,#11061a 41px,#1f0c2c 43px,#15071f 45px,#2a1138 47px,#2b123a 48px,#1d0b29 50px,#351746 52px,#331543 53px,#260f34 54px,#250f32 55px,#3e1952 57px,#2a1139 59px,#2d133c 60px,#3d1952 61px,#441a5b 62px,#2e133e 64px,#361748 65px,#461b5e 66px,#491c63 67px,#331644 69px,#4e1d6a 71px,#4d1d69 72px,#3e1952 73px,#38174a 74px,#551f72 76px,#4f1d6b 77px,#3e1953 78px,#3d1951 79px,#4f1d6b 80px,#5c2179 81px,#501e6c 82px,#3f1955 83px,#431a5a 84px,#582075 85px,#61227e 86px,#411a58 88px,#4b1c65 89px,#61227f 90px,#642382 91px,#441b5c 93px"></i><i style="--g:#000000 0px,#040107 30px,#0e0515 37px,#11061b 39px,#100519 41px,#210d2d 43px,#160821 45px,#1b0a27 46px,#2e133d 48px,#1d0b2a 50px,#351645 52px,#371748 53px,#240f32 55px,#3e1952 57px,#3c1950 58px,#2f143f 59px,#2b123a 60px,#451b5d 62px,#401a56 63px,#331543 64px,#321542 65px,#4c1c67 67px,#361747 69px,#39184c 70px,#4a1c65 71px,#521e6e 72px,#39184b 74px,#401955 75px,#521e6e 76px,#561f73 77px,#3c184f 79px,#5a2077 81px,#5a2077 82px,#471b60 83px,#3f1954 84px,#62227f 86px,#5c2179 87px,#481b61 88px,#441a5b 89px,#692484 91px,#5d217b 92px,#481c62 93px"></i><i style="--g:#000000 0px,#030105 28px,#0a030f 35px,#13071d 39px,#100519 41px,#220d2f 43px,#190a25 46px,#30143f 48px,#1f0c2c 50px,#230e30 51px,#39184c 53px,#260f33 55px,#2c123b 56px,#3c1950 57px,#401a56 58px,#2b123a 60px,#441a5b 62px,#461b5e 63px,#311441 65px,#4c1c66 67px,#4a1c65 68px,#3c184f 69px,#371748 70px,#531e6f 72px,#4e1d69 73px,#3d1952 74px,#3b184e 75px,#592076 77px,#501e6c 78px,#3f1954 79px,#401a56 80px,#531f70 81px,#5f227c 82px,#411a57 84px,#461b5e 85px,#5c2179 86px,#642382 87px,#441a5b 89px,#4c1d68 90px,#642382 91px,#692484 92px,#541f70 93px"></i><i style="--g:#000000 0px,#030105 28px,#0b0411 35px,#0d0414 37px,#150720 39px,#100519 41px,#220d2f 43px,#230e31 44px,#190924 46px,#301440 48px,#2e133e 49px,#230e30 50px,#210d2e 51px,#3a184d 53px,#371748 54px,#291138 55px,#291138 56px,#421a59 58px,#2e133e 60px,#311441 61px,#411a56 62px,#491c62 63px,#331643 65px,#38174a 66px,#481c62 67px,#4f1d6b 68px,#371749 70px,#3e1953 71px,#501e6c 72px,#541f71 73px,#3a184d 75px,#572074 77px,#592075 78px,#3e1952 80px,#5e227b 82px,#5c2179 83px,#491c62 84px,#411a58 85px,#652383 87px,#5f227d 88px,#4a1c65 89px,#461b5e 90px,#592076 91px,#6d2582 92px,#62237f 93px"></i><i style="--g:#000000 0px,#030105 28px,#0c0412 35px,#0c0413 37px,#170822 39px,#100519 41px,#260f34 44px,#190925 46px,#2f143f 48px,#321543 49px,#210d2e 51px,#3a184d 53px,#3b184e 54px,#281036 56px,#421a59 58px,#411a57 59px,#341645 60px,#2e133e 61px,#491c63 63px,#461b5e 64px,#38184a 65px,#351645 66px,#501e6d 68px,#4b1c65 69px,#3b184f 70px,#3a184d 71px,#572074 73px,#4e1d6a 74px,#3e1953 75px,#3e1953 76px,#501e6d 77px,#5d217a 78px,#511e6e 79px,#411a56 80px,#431a5a 81px,#572074 82px,#622380 83px,#431a5a 85px,#481c62 86px,#5f227c 87px,#682485 88px,#461b5e 90px,#4e1d6a 91px,#662484 92px,#6e2682 93px"></i><i style="--g:#000000 0px,#040105 28px,#0d0414 35px,#0c0413 37px,#180923 39px,#14071e 42px,#281036 44px,#1b0a27 46px,#1f0c2b 47px,#351746 49px,#230e30 51px,#281036 52px,#38184a 53px,#3e1952 54px,#2a1138 56px,#311440 57px,#401a56 58px,#451b5d 59px,#2f143f 61px,#381749 62px,#471b60 63px,#4b1c65 64px,#351645 66px,#3d1952 67px,#4e1d6a 68px,#511e6d 69px,#39184b 71px,#551f72 73px,#561f73 74px,#3c1950 76px,#5b2178 78px,#5b2178 79px,#401955 81px,#62237f 83px,#5f227d 84px,#4b1c66 85px,#431a5b 86px,#692484 88px,#642381 89px,#4e1d69 90px,#471b60 91px,#5a2077 92px,#712680 93px"></i><i style="--g:#000000 0px,#040106 28px,#0a030f 33px,#0c0413 37px,#180924 39px,#13071d 42px,#281137 44px,#1d0b2a 47px,#361747 49px,#260f34 51px,#260f33 52px,#3f1954 54px,#3b184e 55px,#2e133d 56px,#2d133c 57px,#471b5f 59px,#331644 61px,#331644 62px,#4d1d69 64px,#38184a 66px,#39184b 67px,#491c63 68px,#541f71 69px,#4b1c65 70px,#3c1850 71px,#3d1952 72px,#4f1d6b 73px,#5a2077 74px,#4f1d6b 75px,#3f1954 76px,#411a58 77px,#551f72 78px,#60227e 79px,#421a59 81px,#461b5e 82px,#5b2178 83px,#662484 84px,#451b5d 86px,#4a1c64 87px,#61227e 88px,#6d2582 89px,#5b2178 90px,#491c62 91px,#4e1d6a 92px,#662484 93px"></i><i style="--g:#000000 0px,#040106 28px,#09030f 33px,#0d0414 36px,#100519 38px,#1b0a27 40px,#13071d 42px,#281037 44px,#2a1239 45px,#1d0b29 47px,#361747 49px,#371748 50px,#250f33 52px,#3f1954 54px,#3f1954 55px,#2c123b 57px,#461b5f 59px,#461b5e 60px,#321542 62px,#4d1d68 64px,#4c1d67 65px,#3e1953 66px,#371749 67px,#541f70 69px,#531e6f 70px,#431a59 71px,#3b184e 72px,#5a2077 74px,#582075 75px,#461b5f 76px,#3e1953 77px,#5f227d 79px,#5e217b 80px,#4a1c65 81px,#421a58 82px,#652383 84px,#632381 85px,#4e1d6a 86px,#451b5d 87px,#6c2582 89px,#692484 90px,#521e6e 91px,#491c62 92px,#5a2077 93px"></i><i style="--g:#000000 0px,#040106 28px,#0d0415 34px,#0f0518 38px,#1d0b29 40px,#14071e 42px,#2d133c 45px,#1e0c2b 47px,#240f32 48px,#341645 49px,#39184c 50px,#261034 52px,#2d133c 53px,#3d1951 54px,#421a59 55px,#2e133d 57px,#341645 58px,#431a5b 59px,#4a1c64 60px,#341644 62px,#39184b 63px,#491c63 64px,#511e6d 65px,#39184b 67px,#3d1952 68px,#4f1d6b 69px,#582074 70px,#3d1951 72px,#411a57 73px,#541f71 74px,#5e217b 75px,#411a56 77px,#441b5c 78px,#592076 79px,#642381 80px,#441b5c 82px,#481b61 83px,#5e217b 84px,#6a2583 85px,#5b2178 86px,#481c61 87px,#4b1c66 88px,#622380 89px,#72277f 90px,#61227e 91px,#4c1c67 92px,#4e1d6a 93px"></i><i style="--g:#000000 0px,#040106 28px,#0d0414 34px,#0f0517 38px,#1e0c2a 40px,#160820 42px,#180923 43px,#2f143e 45px,#210d2e 47px,#220e2f 48px,#3b184e 50px,#2a1138 52px,#2a1139 53px,#441a5b 55px,#3f1955 56px,#321543 57px,#311441 58px,#4b1c66 60px,#461b5f 61px,#39184b 62px,#361747 63px,#521e6e 65px,#4d1d69 66px,#3e1953 67px,#3a184d 68px,#582075 70px,#541f71 71px,#431a5a 72px,#3d1952 73px,#5e217b 75px,#5b2178 76px,#481b61 77px,#411a56 78px,#632381 80px,#61227e 81px,#4d1d68 82px,#441a5b 83px,#682484 85px,#672485 86px,#521e6f 87px,#471b60 88px,#561f72 89px,#6f2681 90px,#702681 91px,#582075 92px,#4a1c64 93px"></i><i style="--g:#000000 0px,#040106 28px,#0d0414 34px,#11061a 36px,#0f0517 38px,#1f0c2b 40px,#170922 43px,#2f143f 45px,#2f143f 46px,#210d2e 48px,#3b184e 50px,#3b184e 51px,#291137 53px,#431a5a 55px,#441b5c 56px,#301440 58px,#4a1c63 60px,#4c1c66 61px,#361747 63px,#3e1953 64px,#4f1d6b 65px,#531e70 66px,#3a184d 68px,#421a58 69px,#541f71 70px,#5b2178 71px,#3e1953 73px,#441b5c 74px,#582075 75px,#61227e 76px,#421a59 78px,#471b60 79px,#5c2179 80px,#672485 81px,#471b60 83px,#491c63 84px,#5f227d 85px,#6f2681 86px,#60227e 87px,#4b1c66 88px,#4c1c67 89px,#622380 90px,#77287d 91px,#672485 92px,#501e6c 93px"></i><i style="--g:#000000 0px,#040106 28px,#0c0413 34px,#12061c 36px,#0f0517 38px,#210d2e 41px,#180923 43px,#2e133e 45px,#331543 46px,#220d2f 48px,#2a1138 49px,#39184c 50px,#3e1952 51px,#2a1239 53px,#311541 54px,#411a57 55px,#471b60 56px,#321543 58px,#361748 59px,#4f1d6b 61px,#39184b 63px,#3a184c 64px,#561f72 66px,#4e1d6a 67px,#3e1953 68px,#3d1951 69px,#5c217a 71px,#561f73 72px,#441b5c 73px,#401955 74px,#61227f 76px,#5d217b 77px,#4a1c64 78px,#431a59 79px,#662484 81px,#652383 82px,#461b5e 84px,#531f70 85px,#6b2583 86px,#6e2682 87px,#491c63 89px,#551f72 90px,#702680 91px,#78287d 92px,#5f227c 93px"></i><i style="--g:#000000 0px,#040106 28px,#09030f 32px,#13071d 36px,#0f0517 38px,#240e31 41px,#190924 43px,#1e0c2a 44px,#351646 46px,#240f32 48px,#271035 49px,#3f1955 51px,#2e133e 53px,#2e133d 54px,#491c62 56px,#451b5c 57px,#381749 58px,#341644 59px,#4f1d6b 61px,#4d1d68 62px,#3e1953 63px,#38174a 64px,#541f71 66px,#551f72 67px,#3c1950 69px,#592076 71px,#5d217b 72px,#401a56 74px,#471b60 75px,#5c2179 76px,#642382 77px,#451b5c 79px,#491c62 80px,#5e227c 81px,#6c2583 82px,#5e217b 83px,#4a1c64 84px,#4a1c64 85px,#60227e 86px,#74277f 87px,#662484 88px,#501e6c 89px,#4c1d67 90px,#61227f 91px,#7b297b 92px,#712680 93px"></i><i style="--g:#000000 0px,#040106 28px,#0a0310 32px,#11061a 35px,#12061c 37px,#12061c 39px,#250f33 41px,#1c0b28 44px,#361747 46px,#341644 47px,#281036 48px,#250f33 49px,#3f1955 51px,#3f1955 52px,#2d133c 54px,#471b60 56px,#4a1c64 57px,#341645 59px,#3c184f 60px,#4c1c67 61px,#521e6e 62px,#3a184c 64px,#3e1953 65px,#4f1d6c 66px,#5a2077 67px,#4f1d6b 68px,#401955 69px,#401a56 70px,#60227e 72px,#582075 73px,#461b5e 74px,#421a59 75px,#652383 77px,#61227e 78px,#4d1d68 79px,#451b5c 80px,#692584 82px,#6a2583 83px,#481b61 85px,#541f70 86px,#6d2582 87px,#75277e 88px,#5e227b 89px,#4c1d67 90px,#541f70 91px,#6f2681 92px,#7e297a 93px"></i><i style="--g:#000000 0px,#040106 28px,#0b0412 32px,#100519 35px,#150720 37px,#11061b 39px,#260f34 41px,#1c0b28 44px,#361746 46px,#381749 47px,#260f34 49px,#3e1953 51px,#431a5a 52px,#2f143f 54px,#351646 55px,#4d1d68 57px,#381749 59px,#38174a 60px,#541f70 62px,#4e1d6a 63px,#3f1954 64px,#3b184e 65px,#592076 67px,#582075 68px,#3e1953 70px,#5e217b 72px,#61227e 73px,#421a59 75px,#4a1c64 76px,#5f227d 77px,#692484 78px,#471b60 80px,#4a1c64 81px,#60227e 82px,#722680 83px,#632381 84px,#4e1d6a 85px,#4b1c66 86px,#60227d 87px,#78287d 88px,#702681 89px,#561f73 90px,#4d1d69 91px,#5f227c 92px,#7c297b 93px"></i><i style="--g:#000000 0px,#040106 26px,#0c0413 32px,#0c0412 34px,#180923 37px,#12061c 39px,#2a1138 42px,#1d0b29 44px,#240f32 45px,#341645 46px,#3a184d 47px,#281137 49px,#2b123a 50px,#451b5c 52px,#401a56 53px,#341645 54px,#321542 55px,#4d1d68 57px,#4b1c66 58px,#3d1952 59px,#371748 60px,#521e6e 62px,#551f71 63px,#3b184f 65px,#421a59 66px,#551f72 67px,#5e217b 68px,#411a58 70px,#431a5b 71px,#642382 73px,#5c2179 74px,#481c62 75px,#451b5c 76px,#6a2584 78px,#662484 79px,#511e6d 80px,#471b60 81px,#551f71 82px,#6d2582 83px,#722780 84px,#5c2179 85px,#4b1c66 86px,#531f70 87px,#6e2681 88px,#7d297a 89px,#672485 90px,#511e6d 91px,#531e6f 92px,#6d2582 93px"></i><i style="--g:#000000 0px,#030105 25px,#09030f 30px,#0c0413 33px,#100519 35px,#1b0a26 37px,#13061d 39px,#2d133c 42px,#200c2c 44px,#220e2f 45px,#3c184f 47px,#39184b 48px,#2d133c 49px,#2a1139 50px,#451b5c 52px,#451b5d 53px,#321542 55px,#3b184f 56px,#4b1c65 57px,#501e6c 58px,#39184b 60px,#3c1950 61px,#4d1d69 62px,#582075 63px,#501d6c 64px,#401a56 65px,#3e1953 66px,#5f227c 68px,#5b2178 69px,#411a57 71px,#622380 73px,#652383 74px,#451b5d 76px,#4c1d67 77px,#632380 78px,#702681 79px,#5f227d 80px,#4b1c66 81px,#4c1c67 82px,#62227f 83px,#78287d 84px,#6d2582 85px,#541f71 86px,#4d1d68 87px,#5f227d 88px,#7d297b 89px,#7c297b 90px,#60227d 91px,#501e6c 92px,#5c2179 93px"></i><i style="--g:#000000 0px,#030105 25px,#09030f 30px,#0e0515 33px,#100518 35px,#1d0b29 37px,#15071f 39px,#180923 40px,#2e133e 42px,#220d2f 45px,#3c184f 47px,#3d1952 48px,#2b1239 50px,#341644 51px,#431a5a 52px,#491c63 53px,#351746 55px,#371749 56px,#521e6f 58px,#4c1d68 59px,#3e1952 60px,#3a184d 61px,#582075 63px,#582075 64px,#3e1952 66px,#471b60 67px,#5b2178 68px,#622380 69px,#441b5b 71px,#461b5f 72px,#5b2178 73px,#6a2584 74px,#60227e 75px,#4c1d67 76px,#471b60 77px,#6f2681 79px,#6e2682 80px,#4a1c64 82px,#561f72 83px,#712680 84px,#7c297b 85px,#642382 86px,#501e6c 87px,#531f70 88px,#6e2682 89px,#862b76 90px,#76277e 91px,#592076 92px,#531e6f 93px"></i><i style="--g:#000000 0px,#030105 25px,#0a030f 30px,#0f0518 33px,#0f0518 35px,#1f0c2c 37px,#170923 40px,#2f143f 42px,#311542 43px,#220e30 45px,#401a56 48px,#2e133d 50px,#301440 51px,#4a1c65 53px,#471b60 54px,#3a184d 55px,#361747 56px,#511e6d 58px,#531e6f 59px,#3b184e 61px,#411a57 62px,#531f70 63px,#5d217a 64px,#421a59 66px,#421a58 67px,#642382 69px,#5f227d 70px,#4c1d67 71px,#441a5b 72px,#662484 74px,#6c2583 75px,#481c62 77px,#4e1d6a 78px,#652483 79px,#77287d 80px,#672485 81px,#511e6d 82px,#4d1d69 83px,#622380 84px,#7e297a 85px,#79287c 86px,#5d217a 87px,#501d6c 88px,#5e217b 89px,#7e297a 90px,#892c75 91px,#6d2582 92px,#561f72 93px"></i><i style="--g:#000000 0px,#040106 25px,#0e0516 31px,#11061b 33px,#0f0518 35px,#200d2d 37px,#180923 40px,#351746 43px,#250f33 45px,#281137 46px,#421a58 48px,#3f1954 49px,#331644 50px,#2f143e 51px,#4a1c64 53px,#4c1d67 54px,#371748 56px,#3d1951 57px,#4d1d69 58px,#571f74 59px,#4e1d6a 60px,#3f1954 61px,#3d1952 62px,#5d217b 64px,#5b2178 65px,#411a56 67px,#4b1c65 68px,#60227d 69px,#672485 70px,#471b60 72px,#491c63 73px,#5e217b 74px,#712680 75px,#662484 76px,#511e6d 77px,#4a1c64 78px,#5a2077 79px,#74277f 80px,#78287d 81px,#5f227c 82px,#4e1d6a 83px,#561f72 84px,#722680 85px,#852b77 86px,#722680 87px,#572074 88px,#541f70 89px,#6b2583 90px,#8b2c73 91px,#862b76 92px,#652382 93px"></i><i style="--g:#000000 0px,#040106 25px,#0e0516 31px,#13071e 33px,#100519 35px,#250f33 38px,#1a0a25 40px,#1f0c2b 41px,#371749 43px,#271035 46px,#421a58 48px,#431a5a 49px,#301440 51px,#371749 52px,#471b5f 53px,#4f1d6b 54px,#3b184e 56px,#39184c 57px,#572074 59px,#561f72 60px,#3d1951 62px,#461b5e 63px,#592076 64px,#61227f 65px,#441b5c 67px,#451b5d 68px,#692584 70px,#642382 71px,#501e6c 72px,#471b5f 73px,#531f70 74px,#6b2583 75px,#74277f 76px,#5f227d 77px,#4c1d68 78px,#501d6c 79px,#672485 80px,#7e297a 81px,#722780 82px,#582075 83px,#4f1d6b 84px,#61227f 85px,#812a78 86px,#862b76 87px,#682484 88px,#551f71 89px,#5c2179 90px,#7c297b 91px,#912e6e 92px,#802a79 93px"></i><i style="--g:#000000 0px,#040106 25px,#0e0516 31px,#160821 33px,#10051a 35px,#281036 38px,#1e0c2a 41px,#381749 43px,#39184b 44px,#281036 46px,#461b5f 49px,#341645 51px,#341645 52px,#501e6c 54px,#4f1d6b 55px,#39184c 57px,#421a58 58px,#541f70 59px,#5b2178 60px,#411a57 62px,#411a57 63px,#632380 65px,#5f227d 66px,#431a5b 68px,#4e1d6a 69px,#642382 70px,#6e2682 71px,#5d217a 72px,#4b1c65 73px,#4b1c66 74px,#60227e 75px,#77287d 76px,#702681 77px,#572074 78px,#4c1d67 79px,#5a2077 80px,#77287d 81px,#822a78 82px,#692484 83px,#531f70 84px,#551f72 85px,#702680 86px,#8c2c73 87px,#822a78 88px,#61227f 89px,#551f72 90px,#662484 91px,#8b2c73 92px,#932f6c 93px"></i><i style="--g:#000000 0px,#040106 25px,#0a0310 29px,#180924 33px,#12061b 35px,#200c2c 37px,#291138 38px,#1e0c2a 41px,#371749 43px,#3c184f 44px,#2b1239 46px,#2e133d 47px,#481b61 49px,#451b5d 50px,#331644 52px,#4e1d69 54px,#541f70 55px,#3c1950 57px,#3d1952 58px,#5c217a 60px,#592076 61px,#401955 63px,#4a1c64 64px,#5f227c 65px,#662484 66px,#471b60 68px,#481b61 69px,#5b2178 70px,#702681 71px,#6b2583 72px,#491c63 74px,#551f71 75px,#6f2681 76px,#7c297b 77px,#672485 78px,#521e6e 79px,#511e6d 80px,#672485 81px,#842b77 82px,#7f2a79 83px,#61227f 84px,#531e6f 85px,#5f227c 86px,#812a78 87px,#902e6f 88px,#7b287c 89px,#5d217a 90px,#5a2077 91px,#76277e 92px,#95306b 93px"></i><i style="--g:#000000 0px,#040106 25px,#0b0411 29px,#0e0515 31px,#1a0a26 33px,#14071f 36px,#2a1139 38px,#2d133c 39px,#1f0c2c 41px,#250f33 42px,#3e1952 44px,#2c123b 47px,#471b60 49px,#4a1c64 50px,#361747 52px,#3a184c 53px,#561f72 55px,#511e6d 56px,#421a59 57px,#3c184f 58px,#5a2076 60px,#5f227d 61px,#431a5a 63px,#441b5c 64px,#682485 66px,#642382 67px,#461b5f 69px,#511e6d 70px,#682484 71px,#75277e 72px,#632381 73px,#4f1d6b 74px,#4d1d69 75px,#61227f 76px,#7d297a 77px,#7b287b 78px,#60227d 79px,#501d6c 80px,#592076 81px,#78287d 82px,#8b2c73 83px,#79287c 84px,#5c2179 85px,#561f72 86px,#6c2583 87px,#8e2d70 88px,#912e6e 89px,#722780 90px,#5a2077 91px,#61227f 92px,#862b76 93px"></i><i style="--g:#000000 0px,#040107 25px,#0c0413 29px,#0e0515 31px,#1c0b28 33px,#15071f 36px,#301440 39px,#220e2f 41px,#240e31 42px,#3e1953 44px,#3f1954 45px,#2d133c 47px,#351746 48px,#4d1d68 50px,#3a184d 52px,#371749 53px,#541f71 55px,#582074 56px,#3e1952 58px,#411a58 59px,#62227f 61px,#5c2179 62px,#421a59 64px,#4e1d6a 65px,#632381 66px,#6d2582 67px,#5d217b 68px,#4b1c66 69px,#4a1c64 70px,#5e217b 71px,#76277e 72px,#74277f 73px,#5c2179 74px,#4d1d68 75px,#561f72 76px,#712680 77px,#842b77 78px,#74277f 79px,#592076 80px,#521e6e 81px,#652383 82px,#872b75 83px,#8c2d72 84px,#702681 85px,#582075 86px,#5c2179 87px,#7d297b 88px,#973069 89px,#8e2d71 90px,#6a2584 91px,#5b2178 92px,#6c2583 93px"></i><i style="--g:#000000 0px,#050207 25px,#0e0515 29px,#0e0515 31px,#1f0c2c 34px,#160821 36px,#321543 39px,#230e31 42px,#3d1952 44px,#431a59 45px,#311441 47px,#321542 48px,#4d1d69 50px,#4d1d68 51px,#38174a 53px,#3f1954 54px,#501e6c 55px,#5b2178 56px,#531e70 57px,#441a5b 58px,#3f1954 59px,#5f227c 61px,#642382 62px,#461b5e 64px,#471b60 65px,#5b2178 66px,#6f2681 67px,#6a2583 68px,#491c63 70px,#531e6f 71px,#6c2583 72px,#7d297a 73px,#6c2582 74px,#551f71 75px,#4f1d6b 76px,#61227f 77px,#802a79 78px,#862b76 79px,#6b2583 80px,#551f72 81px,#582075 82px,#75277e 83px,#912e6e 84px,#8a2c74 85px,#672485 86px,#582075 87px,#652483 88px,#8c2d72 89px,#9c3265 90px,#892c75 91px,#652382 92px,#5e227c 93px"></i><i style="--g:#000000 0px,#040106 24px,#0f0518 29px,#0e0516 31px,#220d2f 34px,#180924 36px,#1a0a26 37px,#331644 39px,#351646 40px,#250f32 42px,#2b123a 43px,#441b5c 45px,#411a57 46px,#311541 48px,#4b1c66 50px,#511e6e 51px,#3b184f 53px,#3b184f 54px,#5a2077 56px,#5b2178 57px,#401a56 59px,#451b5d 60px,#672485 62px,#61227e 63px,#4e1d6a 64px,#451b5d 65px,#511e6d 66px,#672485 67px,#75277e 68px,#642381 69px,#4f1d6b 70px,#4c1d67 71px,#5f227c 72px,#7b297b 73px,#7e297a 74px,#642381 75px,#511e6d 76px,#551f72 77px,#702680 78px,#8b2c73 79px,#822a78 80px,#632380 81px,#551f71 82px,#62227f 83px,#862b76 84px,#96306a 85px,#842b77 86px,#622380 87px,#5b2178 88px,#74277f 89px,#983068 90px,#9e3263 91px,#822a78 92px,#62237f 93px"></i><i style="--g:#000000 0px,#040106 23px,#0b0411 27px,#0f0517 30px,#12061c 32px,#240e31 34px,#1a0a26 37px,#331643 39px,#38184a 40px,#281036 42px,#291138 43px,#451b5c 45px,#461b5e 46px,#331543 48px,#38184a 49px,#531e70 51px,#4f1d6b 52px,#3a184e 54px,#441a5b 55px,#561f73 56px,#60227d 57px,#561f73 58px,#461b5e 59px,#411a58 60px,#642382 62px,#692584 63px,#491c62 65px,#4a1c64 66px,#5d217b 67px,#75277e 68px,#73277f 69px,#5c2179 70px,#4c1d68 71px,#541f70 72px,#6e2682 73px,#842b77 74px,#79287c 75px,#5d217a 76px,#511e6d 77px,#5f227d 78px,#812a78 79px,#902e6f 80px,#7b297b 81px,#5d217b 82px,#582075 83px,#6f2681 84px,#922f6d 85px,#983068 86px,#7c297b 87px,#5f227c 88px,#61227e 89px,#842b77 90px,#a13360 91px,#9d3264 92px,#7a287c 93px"></i><i style="--g:#000000 0px,#040106 23px,#0b0411 27px,#11061a 30px,#12061b 32px,#250f33 34px,#1b0a27 37px,#3a184d 40px,#291137 43px,#431a5a 45px,#4a1c63 46px,#371749 48px,#361747 49px,#521e6e 51px,#551f72 52px,#3d1952 54px,#3f1954 55px,#60227d 57px,#5f227c 58px,#421a59 60px,#481c61 61px,#5d217a 62px,#6e2582 63px,#662484 64px,#481b61 66px,#531e6f 67px,#6c2583 68px,#7c297b 69px,#6c2582 70px,#551f72 71px,#4e1d6a 72px,#5f227c 73px,#7e297a 74px,#882c75 75px,#702680 76px,#582074 77px,#551f72 78px,#6d2582 79px,#8e2d71 80px,#902e6f 81px,#73277f 82px,#5a2077 83px,#5e217b 84px,#7f2a79 85px,#9c3265 86px,#96306a 87px,#74277e 88px,#5e227b 89px,#692484 90px,#922e6e 91px,#a8355b 92px,#9a3167 93px"></i><i style="--g:#000000 0px,#040107 23px,#0b0411 27px,#14071e 29px,#11061b 32px,#260f34 34px,#2a1138 35px,#1d0b29 37px,#210d2d 38px,#3b184e 40px,#3c184f 41px,#2a1139 43px,#311441 44px,#4b1c66 46px,#491c62 47px,#361747 49px,#3d1952 50px,#4e1d6a 51px,#592076 52px,#521e6e 53px,#431a5a 54px,#3d1951 55px,#5c2179 57px,#652382 58px,#481c62 60px,#441b5c 61px,#692484 63px,#712680 64px,#5f227d 65px,#4d1d68 66px,#4b1c66 67px,#5f227c 68px,#7a287c 69px,#7d297a 70px,#642382 71px,#511e6d 72px,#541f70 73px,#6d2582 74px,#8a2c74 75px,#872b76 76px,#672485 77px,#551f72 78px,#5d217a 79px,#7e297a 80px,#973069 81px,#8e2d71 82px,#6b2583 83px,#5a2077 84px,#672485 85px,#8e2d70 86px,#a23460 87px,#932f6c 88px,#6e2682 89px,#60227d 90px,#76277e 91px,#9d3264 92px,#ac3758 93px"></i><i style="--g:#000000 0px,#030104 22px,#0b0411 27px,#150820 30px,#11061b 32px,#2c123c 35px,#200d2d 38px,#3a184d 40px,#3f1954 41px,#2e133d 43px,#2e133d 44px,#4a1c65 46px,#4e1d69 47px,#38184b 49px,#3a184c 50px,#582075 52px,#5a2077 53px,#3f1955 55px,#421a59 56px,#652483 58px,#642381 59px,#451b5d 61px,#4b1c65 62px,#60227e 63px,#75277e 64px,#6e2682 65px,#4b1c65 67px,#541f70 68px,#6e2682 69px,#842b77 70px,#79287c 71px,#5d217a 72px,#501e6d 73px,#5d217a 74px,#7e297a 75px,#902e6f 76px,#812a78 77px,#61227e 78px,#561f73 79px,#662484 80px,#8d2d71 81px,#9b3165 82px,#882c75 83px,#652383 84px,#5d217a 85px,#74277e 86px,#9b3166 87px,#a6355d 88px,#8e2d70 89px,#692584 90px,#632381 91px,#832a77 92px,#a7355b 93px"></i><i style="--g:#000000 0px,#030105 22px,#0b0411 27px,#180923 30px,#12061c 32px,#2e133e 35px,#200d2d 38px,#411a57 41px,#3e1953 42px,#2e133d 44px,#511e6d 47px,#4b1c66 48px,#3e1952 49px,#38184a 50px,#541f71 52px,#5e217b 53px,#551f72 54px,#451b5d 55px,#401955 56px,#61227e 58px,#6b2583 59px,#5e227c 60px,#4c1c66 61px,#461b5f 62px,#6e2681 64px,#7a287c 65px,#662484 66px,#521e6e 67px,#4d1d68 68px,#5f227c 69px,#7e297a 70px,#882b75 71px,#702680 72px,#572074 73px,#541f70 74px,#692484 75px,#8c2d72 76px,#932f6d 77px,#79287c 78px,#5c217a 79px,#5a2077 80px,#76277e 81px,#983168 82px,#9d3264 83px,#812a78 84px,#62227f 85px,#61227f 86px,#832a77 87px,#a5345d 88px,#a7355b 89px,#672485 91px,#692484 92px,#8f2e70 93px"></i><i style="--g:#000000 0px,#030105 22px,#100518 28px,#1b0a26 30px,#14071e 32px,#170822 33px,#2f143f 35px,#321542 36px,#230e30 38px,#261034 39px,#411a58 41px,#431a5a 42px,#301440 44px,#341645 45px,#511e6d 47px,#511e6e 48px,#3a184d 50px,#3e1952 51px,#5e227c 53px,#5e217b 54px,#421a58 56px,#451b5d 57px,#592076 58px,#6c2583 59px,#6a2584 60px,#481b61 62px,#4c1d67 63px,#622380 64px,#7b297b 65px,#78287d 66px,#5f227d 67px,#4e1d6a 68px,#541f70 69px,#6e2682 70px,#8a2c74 71px,#862b76 72px,#672485 73px,#551f71 74px,#5a2077 75px,#7a287c 76px,#96306a 77px,#912e6e 78px,#712680 79px,#5a2077 80px,#61227f 81px,#862b76 82px,#a23360 83px,#9c3265 84px,#7b287c 85px,#60227e 86px,#682484 87px,#912e6e 88px,#ad3757 89px,#a7355c 90px,#842b77 91px,#662484 92px,#712680 93px"></i><i style="--g:#000000 0px,#030105 22px,#0f0518 28px,#1d0b29 30px,#160821 33px,#351746 36px,#261034 38px,#250f33 39px,#401a56 41px,#461b5f 42px,#351746 44px,#321542 45px,#4f1d6b 47px,#561f73 48px,#4d1d69 49px,#3f1954 50px,#3b184e 51px,#5b2178 53px,#632381 54px,#592076 55px,#481b61 56px,#421a59 57px,#652383 59px,#73277f 60px,#642382 61px,#501e6c 62px,#481c62 63px,#561f73 64px,#722680 65px,#822a78 66px,#722780 67px,#582075 68px,#4f1d6b 69px,#5d217b 70px,#7f297a 71px,#902e6f 72px,#812a79 73px,#61227e 74px,#551f71 75px,#642381 76px,#8a2c74 77px,#9c3265 78px,#8e2d71 79px,#692484 80px,#5b2178 81px,#6b2583 82px,#932f6c 83px,#a8355b 84px,#9a3167 85px,#74277e 86px,#61227f 87px,#73277f 88px,#9d3264 89px,#b23a53 90px,#a6355d 91px,#802a79 92px,#672485 93px"></i><i style="--g:#000000 0px,#030105 22px,#0f0517 28px,#1f0c2b 30px,#170822 33px,#371749 36px,#361747 37px,#260f33 39px,#2e133d 40px,#481b61 42px,#461b5e 43px,#331643 45px,#3a184c 46px,#582074 48px,#551f72 49px,#3c1950 51px,#411a57 52px,#642382 54px,#632381 55px,#441b5c 57px,#481b61 58px,#5c2179 59px,#72277f 60px,#73277f 61px,#5d217a 62px,#4c1c66 63px,#4d1d69 64px,#632380 65px,#802a79 66px,#842b77 67px,#692584 68px,#541f70 69px,#531e6f 70px,#6a2584 71px,#8d2d72 72px,#932f6d 73px,#79287c 74px,#5c2179 75px,#582075 76px,#712680 77px,#96306a 78px,#a03362 79px,#882c75 80px,#642382 81px,#5e217b 82px,#78287d 83px,#9f3362 84px,#ac3758 85px,#96306a 86px,#702681 87px,#632381 88px,#7f2979 89px,#a8355b 90px,#b73c50 91px,#a4345e 92px,#7c297b 93px"></i><i style="--g:#000000 0px,#030105 22px,#0e0516 28px,#200c2c 30px,#1d0b29 32px,#180923 33px,#1d0b29 34px,#38184a 36px,#3a184d 37px,#281036 39px,#2b123a 40px,#481b61 42px,#4b1c66 43px,#371748 45px,#371748 46px,#561f72 48px,#5b2178 49px,#411a57 51px,#3e1952 52px,#60227e 54px,#6a2584 55px,#5e227c 56px,#4b1c66 57px,#441b5c 58px,#511e6d 59px,#692484 60px,#7b297b 61px,#6d2582 62px,#561f73 63px,#4b1c65 64px,#561f73 65px,#73277f 66px,#8a2c74 67px,#802a79 68px,#62237f 69px,#521e6e 70px,#5a2077 71px,#7b297b 72px,#96306a 73px,#912e6e 74px,#702680 75px,#592076 76px,#5e227c 77px,#812a78 78px,#a03361 79px,#a03361 80px,#822a78 81px,#62237f 82px,#622380 83px,#862b76 84px,#aa3659 85px,#ae3856 86px,#932f6d 87px,#6d2582 88px,#672485 89px,#8a2c74 90px,#b13954 91px,#ba3e4e 92px,#a23460 93px"></i><i style="--g:#000000 0px,#030105 22px,#0c0413 26px,#0e0516 28px,#250f32 31px,#1a0a26 33px,#1c0b28 34px,#381749 36px,#3d1951 37px,#2a1138 40px,#4e1d6a 43px,#491c63 44px,#361747 46px,#3f1954 47px,#511e6d 48px,#5e217b 49px,#5a2076 50px,#3e1953 52px,#441b5c 53px,#582075 54px,#6b2583 55px,#6a2584 56px,#471b60 58px,#491c63 59px,#5d217b 60px,#78287d 61px,#7d297a 62px,#652483 63px,#501e6d 64px,#4e1d69 65px,#61227f 66px,#832a77 67px,#8f2e70 68px,#7a287c 69px,#5c2179 70px,#531e70 71px,#642382 72px,#8b2c73 73px,#9d3264 74px,#8e2d71 75px,#692484 76px,#592076 77px,#662484 78px,#902e6f 79px,#a8365a 80px,#9f3362 81px,#7b297b 82px,#61227e 83px,#692484 84px,#932f6d 85px,#b13a54 86px,#af3955 87px,#6b2583 89px,#6d2582 90px,#b83d4f 92px,#bd3f4c 93px"></i><i style="--g:#000000 0px,#030105 22px,#0e0515 26px,#0e0516 28px,#271036 31px,#1c0b28 34px,#3f1954 37px,#3d1952 38px,#2b123a 40px,#321542 41px,#4f1d6b 43px,#501d6c 44px,#39184b 46px,#3a184d 47px,#5c217a 49px,#61227e 50px,#441a5b 52px,#401a56 53px,#652383 55px,#73277f 56px,#652383 57px,#501e6c 58px,#471b5f 59px,#521e6e 60px,#6c2583 61px,#832a77 62px,#7a287c 63px,#5e227c 64px,#4e1d6a 65px,#541f71 66px,#712680 67px,#902e6f 68px,#902e6f 69px,#722680 70px,#582075 71px,#582074 72px,#73277f 73px,#983069 74px,#a03361 75px,#892c75 76px,#642381 77px,#5b2178 78px,#73277f 79px,#9c3265 80px,#ae3856 81px,#9d3264 82px,#76277e 83px,#61227f 84px,#73277f 85px,#9e3263 86px,#b83d4f 87px,#b03955 88px,#8c2d72 89px,#6b2583 90px,#73277f 91px,#be404b 93px"></i><i style="--g:#000000 0px,#040106 22px,#0f0518 26px,#0e0516 28px,#2a1138 31px,#230e30 33px,#1d0b2a 34px,#230e30 35px,#401955 37px,#421a59 38px,#2f143e 40px,#2f143e 41px,#4e1d69 43px,#551f72 44px,#4d1d68 45px,#3f1954 46px,#39184c 47px,#431a5b 48px,#582074 49px,#652383 50px,#5f227d 51px,#411a57 53px,#471b60 54px,#5c2179 55px,#74277f 56px,#75277e 57px,#5e227c 58px,#4b1c66 59px,#4a1c64 60px,#5e217b 61px,#7d297a 62px,#892c74 63px,#74277f 64px,#582075 65px,#4f1d6b 66px,#5e227c 67px,#832a77 68px,#983068 69px,#8d2d71 70px,#692584 71px,#561f73 72px,#5e227c 73px,#832a77 74px,#a23460 75px,#a13360 76px,#822a78 77px,#61227e 78px,#5f227d 79px,#802a79 80px,#a7355b 81px,#b13a54 82px,#9a3166 83px,#722680 84px,#632381 85px,#7c297b 86px,#a8355a 87px,#bd3f4c 88px,#b03955 89px,#8a2c74 90px,#6b2583 91px,#79287c 92px,#a5345d 93px"></i><i style="--g:#000000 0px,#040107 22px,#12061c 26px,#13061d 29px,#2b123a 31px,#2f143f 32px,#210d2d 34px,#210d2f 35px,#3f1954 37px,#461b5f 38px,#2f143e 41px,#39184b 42px,#582075 44px,#561f73 45px,#3c184f 47px,#3e1953 48px,#642382 50px,#692584 51px,#5b2178 52px,#481b61 53px,#431a5a 54px,#521e6e 55px,#6c2583 56px,#7e297a 57px,#712680 58px,#582075 59px,#4a1c64 60px,#521e6e 61px,#6e2682 62px,#8c2d73 63px,#8b2c73 64px,#6c2582 65px,#551f71 66px,#531e70 67px,#6c2583 68px,#922f6d 69px,#9e3263 70px,#892c74 71px,#642382 72px,#572074 73px,#672485 74px,#922f6d 75px,#aa3659 76px,#a13361 77px,#7c297b 78px,#5f227d 79px,#652382 80px,#8d2d71 81px,#b03955 82px,#b43b52 83px,#973069 84px,#6f2681 85px,#652383 86px,#862b76 87px,#b03954 88px,#c24148 89px,#b13954 90px,#882c75 91px,#6c2583 92px,#7e297a 93px"></i><i style="--g:#000000 0px,#050208 22px,#150820 26px,#13061d 29px,#341644 32px,#220d2f 35px,#2c123b 36px,#481c62 38px,#481b61 39px,#321542 41px,#351746 42px,#572074 44px,#5e217b 45px,#531e6f 46px,#421a59 47px,#3d1951 48px,#481c62 49px,#5f227c 50px,#702681 51px,#682484 52px,#451b5d 54px,#491c63 55px,#60227d 56px,#7d297a 57px,#832a77 58px,#6a2584 59px,#521e6e 60px,#4c1c67 61px,#5d217a 62px,#812a78 63px,#952f6b 64px,#892c75 65px,#652383 66px,#531e6f 67px,#5b2178 68px,#7e297a 69px,#9f3263 70px,#a13361 71px,#832a77 72px,#60227d 73px,#5a2077 74px,#75277e 75px,#9f3362 76px,#b03955 77px,#9f3362 78px,#77287d 79px,#5f227d 80px,#6c2582 81px,#993168 82px,#b73c50 83px,#b63c51 84px,#6d2582 86px,#682484 87px,#8e2d70 88px,#b73c50 89px,#c64346 90px,#b13954 91px,#872b75 92px,#6c2582 93px"></i><i style="--g:#000000 0px,#050207 19px,#08030c 23px,#190925 26px,#13071e 29px,#371748 32px,#361748 33px,#240e31 35px,#291137 36px,#491c62 38px,#4d1d69 39px,#38184a 41px,#341644 42px,#401955 43px,#541f70 44px,#62237f 45px,#5e227b 46px,#3f1954 48px,#421a59 49px,#561f73 50px,#6f2681 51px,#77287d 52px,#632381 53px,#4e1d6a 54px,#461b5e 55px,#541f70 56px,#722680 57px,#8a2c74 58px,#822a78 59px,#632380 60px,#4f1d6b 61px,#511e6e 62px,#6c2583 63px,#912e6e 64px,#9a3166 65px,#832b77 66px,#60227d 67px,#541f71 68px,#642382 69px,#8f2e70 70px,#a9365a 71px,#a13361 72px,#7d297a 73px,#5e217b 74px,#5f227c 75px,#832a77 76px,#aa3659 77px,#b43b52 78px,#9d3264 79px,#73277f 80px,#60227e 81px,#75277e 82px,#a3345f 83px,#be404b 84px,#b73c50 85px,#6c2583 87px,#6c2583 88px,#be3f4b 90px,#c84644 91px,#b23a53 92px,#872b75 93px"></i><i style="--g:#000000 0px,#040106 18px,#0d0415 24px,#1d0b29 26px,#15071f 29px,#1b0a27 30px,#38184a 32px,#3b184e 33px,#281137 35px,#271035 36px,#511e6d 39px,#4d1d69 40px,#361747 42px,#3b184e 43px,#62227f 45px,#672485 46px,#471b5f 48px,#401956 49px,#4c1d68 50px,#652483 51px,#7d297a 52px,#77287d 53px,#5d217a 54px,#4a1c64 55px,#4b1c65 56px,#61227f 57px,#852b77 58px,#912e6e 59px,#7d297a 60px,#5c217a 61px,#4e1d6a 62px,#5a2077 63px,#7f2a79 64px,#9e3264 65px,#9c3265 66px,#7d297a 67px,#5c2179 68px,#582074 69px,#722780 70px,#9d3264 71px,#af3955 72px,#9f3362 73px,#77287d 74px,#5d217a 75px,#652383 76px,#b33a53 78px,#b73c50 79px,#9b3166 80px,#6f2681 81px,#62237f 82px,#7e297a 83px,#ac3758 84px,#c34247 85px,#b93d4f 86px,#6c2583 88px,#6f2681 89px,#c34248 91px,#cb4842 92px,#b43b52 93px"></i><i style="--g:#000000 0px,#040107 18px,#0d0415 24px,#200c2c 26px,#1d0b29 28px,#170822 29px,#1a0a26 30px,#38184a 32px,#3f1954 33px,#281036 36px,#311541 37px,#521e6f 39px,#551f72 40px,#3b184f 42px,#38184a 43px,#5d217a 45px,#6e2682 46px,#672485 47px,#431a5a 49px,#451b5d 50px,#5a2077 51px,#79287c 52px,#852b76 53px,#722680 54px,#561f73 55px,#491c63 56px,#541f70 57px,#73277f 58px,#932f6c 59px,#942f6c 60px,#76277e 61px,#572074 62px,#511e6d 63px,#652483 64px,#912e6e 65px,#a7355b 66px,#9c3265 67px,#76277e 68px,#5a2077 69px,#5d217a 70px,#822a78 71px,#aa3659 72px,#b43b52 73px,#9d3264 74px,#722680 75px,#5d217a 76px,#6d2582 77px,#9b3166 78px,#bb3e4d 79px,#b93d4e 80px,#993168 81px,#6d2582 82px,#642381 83px,#852b76 84px,#b33a53 85px,#c74544 86px,#bb3e4d 87px,#922f6d 88px,#6c2583 89px,#722680 90px,#c64445 92px,#ce4a40 93px"></i><i style="--g:#000000 0px,#050207 18px,#0a0310 22px,#0e0515 24px,#271035 27px,#1a0a25 30px,#411a58 33px,#411a57 34px,#2b123a 36px,#2d133d 37px,#501e6d 39px,#5b2178 40px,#541f70 41px,#39184c 43px,#3f1955 44px,#551f71 45px,#6d2582 46px,#75277e 47px,#622380 48px,#4c1d67 49px,#431a5a 50px,#4f1d6b 51px,#6b2583 52px,#892c74 53px,#882b75 54px,#692484 55px,#501e6d 56px,#4c1c67 57px,#60227d 58px,#882b75 59px,#9d3264 60px,#922f6d 61px,#6d2582 62px,#541f71 63px,#561f73 64px,#76277e 65px,#a03362 66px,#ad3857 67px,#993167 68px,#6f2681 69px,#592076 70px,#642381 71px,#b33a53 73px,#b73c50 74px,#9a3166 75px,#6e2582 76px,#5e227c 77px,#75277e 78px,#a5355d 79px,#c14149 80px,#bc3e4d 81px,#6c2582 83px,#662483 84px,#8c2c73 85px,#b83d4f 86px,#cb4742 87px,#be3f4b 88px,#942f6c 89px,#6d2582 90px,#73277f 91px,#c94644 93px"></i><i style="--g:#000000 0px,#030104 17px,#0d0414 21px,#0e0515 24px,#2b123a 27px,#1b0a27 30px,#220e2f 31px,#421a59 33px,#461b5f 34px,#321542 36px,#2c123b 37px,#39184b 38px,#5d217a 40px,#5e217b 41px,#3f1954 43px,#3c1850 44px,#4b1c66 45px,#652483 46px,#7c297b 47px,#75277e 48px,#5b2178 49px,#471b60 50px,#471b60 51px,#5c2179 52px,#802a79 53px,#932f6d 54px,#852b77 55px,#61227f 56px,#4d1d69 57px,#521e6e 58px,#702681 59px,#983068 60px,#a4345e 61px,#8f2d70 62px,#662483 63px,#531f70 64px,#5e217b 65px,#882c75 66px,#ac3757 67px,#b13a54 68px,#96306a 69px,#6a2584 70px,#5a2077 71px,#6d2582 72px,#9c3265 73px,#bb3e4d 74px,#b93d4e 75px,#983069 76px,#6b2583 77px,#60227d 78px,#7e297a 79px,#ae3856 80px,#c74445 81px,#be404b 82px,#6c2583 84px,#672485 85px,#902e6f 86px,#bd3f4b 87px,#ce4a40 88px,#c14149 89px,#6e2682 91px,#73277f 92px,#a13361 93px"></i><i style="--g:#000000 0px,#030105 17px,#0f0517 21px,#0e0516 24px,#2f143e 27px,#2f143e 28px,#1d0b2a 30px,#200d2d 31px,#411a58 33px,#4a1c64 34px,#461b5f 35px,#2f143e 37px,#341644 38px,#5b2178 40px,#652382 41px,#5c2179 42px,#3d1951 44px,#431a5a 45px,#5b2178 46px,#7a287c 47px,#852b77 48px,#6f2681 49px,#541f70 50px,#461b5e 51px,#4f1d6b 52px,#6e2682 53px,#922e6e 54px,#983069 55px,#7e297a 56px,#5b2178 57px,#4d1d69 58px,#5b2178 59px,#842b77 60px,#a5345d 61px,#a7355b 62px,#8a2c74 63px,#61227e 64px,#551f71 65px,#672485 66px,#973069 67px,#b63c51 68px,#b43b52 69px,#922f6d 70px,#662484 71px,#5c2179 72px,#77287d 73px,#a8355b 74px,#c24248 75px,#bb3e4d 76px,#692484 78px,#62237f 79px,#852b76 80px,#b43b52 81px,#ca4743 82px,#c14149 83px,#6c2582 85px,#682484 86px,#922f6d 87px,#c14149 88px,#d24c3e 89px,#c64446 90px,#702681 92px,#722680 93px"></i><i style="--g:#000000 0px,#040105 17px,#11061b 21px,#0e0516 24px,#230e31 26px,#311541 27px,#351646 28px,#220e2f 30px,#200c2c 31px,#2c123b 32px,#4c1d68 34px,#4e1d6a 35px,#351746 37px,#311541 38px,#3f1954 39px,#551f72 40px,#682485 41px,#682485 42px,#431a5b 44px,#3f1954 45px,#4f1d6b 46px,#6e2681 47px,#8a2c74 48px,#862b76 49px,#662484 50px,#4e1d69 51px,#481c62 52px,#5c2179 53px,#842b77 54px,#9e3263 55px,#993168 56px,#75277e 57px,#561f72 58px,#501e6c 59px,#662484 60px,#95306b 61px,#af3955 62px,#a8355b 63px,#832a77 64px,#5d217a 65px,#582075 66px,#75277e 67px,#a5355d 68px,#be404b 69px,#b53b51 70px,#8f2d70 71px,#642381 72px,#5e227c 73px,#812a79 74px,#b13954 75px,#c74544 76px,#bd3f4c 77px,#682484 79px,#632381 80px,#8a2c74 81px,#ba3e4e 82px,#ce4a40 83px,#c54346 84px,#6e2682 86px,#692484 87px,#932f6c 88px,#c34248 89px,#d54f3c 90px,#ca4743 91px,#73277f 93px"></i><i style="--g:#000000 0px,#040106 17px,#14071e 22px,#0f0518 24px,#14071e 25px,#321542 27px,#39184b 28px,#210d2e 31px,#281036 32px,#4c1d68 34px,#541f71 35px,#4d1d68 36px,#331644 38px,#39184c 39px,#662484 41px,#74277f 42px,#662484 43px,#411a57 45px,#461b5f 46px,#5f227d 47px,#852b76 48px,#942f6c 49px,#822a78 50px,#5f227c 51px,#4b1c65 52px,#4e1d6a 53px,#6b2583 54px,#973069 55px,#a7355b 56px,#963069 57px,#6d2582 58px,#531e6f 59px,#561f72 60px,#78287d 61px,#a5345d 62px,#b73c50 63px,#a8355b 64px,#7d297a 65px,#5b2178 66px,#5c2179 67px,#832a78 68px,#b13954 69px,#c54346 70px,#b63c50 71px,#8c2d72 72px,#622380 73px,#61227f 74px,#892c74 75px,#b83d4f 76px,#cc4842 77px,#c0404a 78px,#682484 80px,#652382 81px,#8e2d71 82px,#be3f4b 83px,#d24c3e 84px,#c84544 85px,#702680 87px,#692484 88px,#922e6e 89px,#c34247 90px,#d8513a 91px,#cf4b40 92px,#a9365a 93px"></i><i style="--g:#000000 0px,#050207 17px,#180924 22px,#11061a 24px,#13061d 25px,#3c1950 28px,#3b184f 29px,#250f33 31px,#260f33 32px,#582075 35px,#572074 36px,#3a184c 38px,#371748 39px,#451b5e 40px,#60227d 41px,#79287c 42px,#79287c 43px,#61227e 44px,#4a1c64 45px,#431a59 46px,#521e6e 47px,#75277e 48px,#96306a 49px,#983068 50px,#7b297b 51px,#582075 52px,#4b1c65 53px,#582075 54px,#812a78 55px,#a6355c 56px,#ad3757 57px,#922f6d 58px,#652483 59px,#521e6f 60px,#5d217a 61px,#892c74 62px,#b23a54 63px,#bd3f4c 64px,#a6355c 65px,#78287d 66px,#5a2077 67px,#61227f 68px,#8f2e70 69px,#bb3e4d 70px,#c94643 71px,#b73c50 72px,#8a2c74 73px,#62237f 74px,#632381 75px,#902e6f 76px,#be404b 77px,#cf4b3f 78px,#c34247 79px,#692584 81px,#652383 82px,#8f2e70 83px,#c04149 84px,#d54f3c 85px,#cd4941 86px,#a6355d 87px,#74277f 88px,#672485 89px,#8e2d71 90px,#c14149 91px,#d95239 92px,#d54f3c 93px"></i><i style="--g:#000000 0px,#040106 15px,#0b0411 19px,#1d0b29 22px,#13061d 25px,#301440 27px,#3e1952 28px,#411a57 29px,#260f34 32px,#311541 33px,#592076 35px,#60227e 36px,#561f72 37px,#38184a 39px,#3e1953 40px,#561f72 41px,#75277e 42px,#872b76 43px,#78287d 44px,#5a2077 45px,#471b5f 46px,#481c61 47px,#61227e 48px,#8c2d72 49px,#a23460 50px,#983068 51px,#722780 52px,#531e6f 53px,#4e1d69 54px,#642382 55px,#952f6b 56px,#b23a53 57px,#af3855 58px,#8d2d71 59px,#61227e 60px,#531f70 61px,#662483 62px,#983068 63px,#bc3f4c 64px,#c14149 65px,#a5345d 66px,#74277f 67px,#5b2178 68px,#662484 69px,#c34247 71px,#cd4941 72px,#b83d4f 73px,#892c74 74px,#62237f 75px,#652483 76px,#942f6b 77px,#c34247 78px,#d34d3d 79px,#c74445 80px,#6c2583 82px,#652383 83px,#8e2d70 84px,#c14149 85px,#d8513a 86px,#d24c3e 87px,#ae3856 88px,#7a287c 89px,#672485 90px,#882c75 91px,#bd3f4c 92px,#da5238 93px"></i><i style="--g:#000000 0px,#020104 14px,#0b0411 19px,#210d2e 22px,#14071e 25px,#1b0a27 26px,#3e1952 28px,#451b5d 29px,#411a58 30px,#291137 32px,#2d133c 33px,#561f73 35px,#662484 36px,#632380 37px,#3f1953 39px,#3b184e 40px,#4b1c65 41px,#692484 42px,#8a2c74 43px,#8d2d71 44px,#722780 45px,#531e70 46px,#461b5e 47px,#511e6e 48px,#75277e 49px,#9e3263 50px,#aa3659 51px,#952f6b 52px,#692484 53px,#501e6d 54px,#541f70 55px,#76277e 56px,#a6355d 57px,#bb3e4d 58px,#b03955 59px,#882b75 60px,#5e217b 61px,#561f73 62px,#712680 63px,#a6355c 64px,#c64346 65px,#c54346 66px,#a4345e 67px,#722680 68px,#5c2179 69px,#6d2582 70px,#a23360 71px,#c94644 72px,#d04b3f 73px,#bb3e4d 74px,#8a2c74 75px,#622380 76px,#662484 77px,#c64445 79px,#d7503b 80px,#cb4842 81px,#6f2681 83px,#642382 84px,#8b2c73 85px,#bf404a 86px,#d95239 87px,#d7503a 88px,#b83d4f 89px,#842b77 90px,#662484 91px,#7f2a79 92px,#b53b51 93px"></i><i style="--g:#000000 0px,#030104 14px,#0b0411 19px,#250f33 22px,#160821 25px,#190925 26px,#481c62 29px,#491c62 30px,#301440 32px,#2b123a 33px,#39184c 34px,#662484 36px,#702681 37px,#60227e 38px,#3c1950 40px,#421a59 41px,#5b2178 42px,#822a78 43px,#983068 44px,#8e2d71 45px,#692484 46px,#4e1d6a 47px,#491c63 48px,#5e217b 49px,#8c2d72 50px,#ad3757 51px,#ae3856 52px,#902e6f 53px,#622380 54px,#501e6c 55px,#5b2179 56px,#892c75 57px,#b33b52 58px,#c24148 59px,#af3955 60px,#822a78 61px,#5c2179 62px,#5a2077 63px,#7e297a 64px,#b13954 65px,#cc4842 66px,#c84544 67px,#a4345e 68px,#712680 69px,#5d217a 70px,#722680 71px,#a8355b 72px,#cd4941 73px,#d44e3c 74px,#bf404b 75px,#8d2d71 76px,#642381 77px,#662484 78px,#c74545 80px,#d95238 81px,#d04b3f 82px,#aa3659 83px,#75277e 84px,#642382 85px,#852b76 86px,#bb3e4d 87px,#da5338 88px,#dc5436 89px,#c44247 90px,#902e6f 91px,#682484 92px,#75277e 93px"></i><i style="--g:#000000 0px,#030104 14px,#0b0411 19px,#291137 22px,#2a1139 23px,#1a0a26 25px,#190924 26px,#250f32 27px,#491c63 29px,#4f1d6b 30px,#481b61 31px,#2e133d 33px,#341644 34px,#622380 36px,#78287d 37px,#73277f 38px,#5b2178 39px,#451b5c 40px,#3e1953 41px,#4e1d69 42px,#702680 43px,#973069 44px,#a03361 45px,#8a2c74 46px,#61227f 47px,#4b1c66 48px,#4f1d6b 49px,#6f2681 50px,#9f3362 51px,#b73c50 52px,#af3855 53px,#8a2c74 54px,#5e217b 55px,#521e6e 56px,#642382 57px,#983068 58px,#bf404a 59px,#c74445 60px,#af3856 61px,#7e297a 62px,#5b2178 63px,#5e217b 64px,#882c75 65px,#ba3e4e 66px,#d14c3f 67px,#ca4743 68px,#a6355d 69px,#712680 70px,#5e217b 71px,#75277e 72px,#ac3758 73px,#d04b3f 74px,#d8513a 75px,#c44247 76px,#922f6d 77px,#652483 78px,#662484 79px,#942f6c 80px,#c74445 81px,#db5436 82px,#d6503b 83px,#b43b52 84px,#7e297a 85px,#642381 86px,#7d297b 87px,#b43b52 88px,#d95239 89px,#df5832 90px,#ce4a40 91px,#9f3362 92px,#6f2681 93px"></i><i style="--g:#000000 0px,#030105 14px,#0b0411 19px,#2b123a 22px,#30143f 23px,#1a0a25 26px,#210d2e 27px,#481b61 29px,#531e70 30px,#511e6d 31px,#351746 33px,#311541 34px,#401955 35px,#5a2077 36px,#78287d 37px,#832a77 38px,#6f2681 39px,#541f70 40px,#421a58 41px,#441b5c 42px,#5d217b 43px,#8a2c74 44px,#a7355c 45px,#a4345e 46px,#832a77 47px,#5b2178 48px,#4b1c66 49px,#582075 50px,#842b77 51px,#af3955 52px,#bf404a 53px,#af3856 54px,#832b77 55px,#5b2178 56px,#551f71 57px,#702680 58px,#a6355c 59px,#c84544 60px,#ca4743 61px,#af3856 62px,#7c297b 63px,#5b2178 64px,#61227f 65px,#902e6f 66px,#c24248 67px,#d64f3b 68px,#ce4a40 69px,#a9365a 70px,#73277f 71px,#5f227c 72px,#76277e 73px,#ad3757 74px,#d34d3d 75px,#db5437 76px,#c94643 77px,#692484 79px,#642382 80px,#8f2e70 81px,#c44347 82px,#dc5535 83px,#db5436 84px,#c0404a 85px,#8b2c73 86px,#652483 87px,#73277f 88px,#a9365a 89px,#d44e3c 90px,#e25a2f 91px,#d95239 92px,#b23a54 93px"></i><i style="--g:#000000 0px,#030105 14px,#0c0412 17px,#0b0412 19px,#1e0b2a 21px,#341645 23px,#271035 25px,#1d0b29 26px,#1f0c2b 27px,#551f72 30px,#5a2077 31px,#4f1d6b 32px,#331644 34px,#39184c 35px,#4f1d6b 36px,#702681 37px,#8b2c74 38px,#872b75 39px,#682485 40px,#4d1d69 41px,#421a59 42px,#4e1d6a 43px,#722680 44px,#9f3362 45px,#b13954 46px,#a3345f 47px,#7a287c 48px,#561f73 49px,#4e1d6a 50px,#632380 51px,#96306a 52px,#bc3f4c 53px,#c54346 54px,#ae3856 55px,#7e297a 56px,#5a2077 57px,#582075 58px,#7c297b 59px,#b13954 60px,#ce4940 61px,#cd4941 62px,#af3955 63px,#7c297b 64px,#5c2179 65px,#642382 66px,#96306a 67px,#c74545 68px,#d95238 69px,#d24c3e 70px,#ad3857 71px,#77287d 72px,#5f227d 73px,#75277e 74px,#ac3758 75px,#d34e3d 76px,#dd5634 77px,#d04b3f 78px,#702681 80px,#632381 81px,#872b76 82px,#be3f4b 83px,#dc5536 84px,#df5831 85px,#cc4842 86px,#9a3166 87px,#6b2583 88px,#6a2583 89px,#993167 90px,#cd4941 91px,#e25a2f 92px,#e05831 93px"></i><i style="--g:#000000 0px,#040106 14px,#0e0515 17px,#100519 20px,#38174a 23px,#39184b 24px,#230e30 26px,#1f0c2b 27px,#2a1138 28px,#541f70 30px,#60227d 31px,#5c2179 32px,#3b184e 34px,#371748 35px,#451b5d 36px,#622380 37px,#882b75 38px,#952f6b 39px,#852b76 40px,#61227f 41px,#491c63 42px,#461b5e 43px,#5b2178 44px,#8b2c74 45px,#af3955 46px,#b73c50 47px,#a03362 48px,#722680 49px,#531e70 50px,#521e6e 51px,#712680 52px,#a6355c 53px,#c64445 54px,#c84544 55px,#ac3757 56px,#7a287c 57px,#592076 58px,#5c217a 59px,#872b76 60px,#ba3e4e 61px,#d34d3d 62px,#d04b3f 63px,#b13a54 64px,#7d297a 65px,#5d217b 66px,#662484 67px,#ca4743 69px,#dc5535 70px,#d6503b 71px,#b43b52 72px,#7e297a 73px,#60227e 74px,#712680 75px,#a8355b 76px,#d24d3e 77px,#e05831 78px,#d7503b 79px,#b13954 80px,#7a287c 81px,#622380 82px,#7c297b 83px,#b33a52 84px,#d95238 85px,#e35b2e 86px,#d7503b 87px,#ad3857 88px,#77287d 89px,#652483 90px,#882b75 91px,#bf404a 92px,#df5733 93px"></i><i style="--g:#000000 0px,#040107 14px,#100519 17px,#100519 20px,#3a184d 23px,#3e1953 24px,#220e2f 27px,#261034 28px,#632380 31px,#672485 32px,#5a2077 33px,#39184c 35px,#3e1952 36px,#541f71 37px,#7b287b 38px,#993168 39px,#9a3166 40px,#802a79 41px,#5b2178 42px,#481b61 43px,#4d1d68 44px,#6b2583 45px,#9e3263 46px,#bb3e4d 47px,#ba3e4e 48px,#9b3165 49px,#6a2583 50px,#521e6e 51px,#582075 52px,#802a79 53px,#b33a53 54px,#cd4941 55px,#ca4743 56px,#ab3758 57px,#77287d 58px,#592076 59px,#60227d 60px,#8e2d71 61px,#c04149 62px,#d7503b 63px,#d34e3d 64px,#b53b51 65px,#812a79 66px,#5f227c 67px,#662484 68px,#ca4743 70px,#de5634 71px,#da5338 72px,#bc3f4c 73px,#872b76 74px,#622380 75px,#6c2583 76px,#cf4a40 78px,#e15930 79px,#dc5535 80px,#bf404a 81px,#892c74 82px,#642382 83px,#702681 84px,#a5345e 85px,#d34d3d 86px,#e35c2d 87px,#df5732 88px,#c24248 89px,#8c2d73 90px,#662484 91px,#74277f 92px,#aa3659 93px"></i><i style="--g:#000000 0px,#020103 13px,#14071e 17px,#100519 20px,#2b123a 22px,#3c1850 23px,#441a5b 24px,#411a57 25px,#291137 27px,#260f33 28px,#341645 29px,#62227f 31px,#712680 32px,#6a2584 33px,#421a59 35px,#3b184f 36px,#481c61 37px,#662484 38px,#912e6e 39px,#a5345d 40px,#9b3165 41px,#78287d 42px,#561f72 43px,#491c62 44px,#561f72 45px,#802a79 46px,#af3856 47px,#c44247 48px,#bb3e4d 49px,#973069 50px,#662484 51px,#531e6f 52px,#5e217b 53px,#8d2d72 54px,#bc3f4c 55px,#d14c3e 56px,#cc4842 57px,#ab3758 58px,#77287d 59px,#5a2077 60px,#622380 61px,#922f6d 62px,#c44346 63px,#da5238 64px,#d7503b 65px,#ba3e4e 66px,#872b76 67px,#61227e 68px,#662483 69px,#96306a 70px,#c94644 71px,#de5733 72px,#de5634 73px,#c64446 74px,#922e6d 75px,#662483 76px,#662484 77px,#942f6c 78px,#c84544 79px,#e05831 80px,#e15930 81px,#cc4841 82px,#9b3165 83px,#6b2583 84px,#662484 85px,#922e6e 86px,#c74545 87px,#e15930 88px,#e45d2c 89px,#d34d3d 90px,#a5345d 91px,#722680 92px,#672485 93px"></i><i style="--g:#000000 0px,#020103 13px,#180924 17px,#11061b 20px,#180923 21px,#471b61 24px,#491c63 25px,#291137 28px,#2f143f 29px,#5c217a 31px,#75277e 32px,#7c297b 33px,#682484 34px,#401a56 36px,#411a57 37px,#561f72 38px,#7f297a 39px,#a3345f 40px,#ad3757 41px,#9a3167 42px,#712680 43px,#521e6f 44px,#4c1c67 45px,#60227e 46px,#922e6d 47px,#bb3e4d 48px,#c94644 49px,#bb3e4d 50px,#932f6c 51px,#632381 52px,#541f70 53px,#632381 54px,#96306a 55px,#c44347 56px,#d54f3c 57px,#ce4a40 58px,#ad3757 59px,#78287d 60px,#5b2178 61px,#632381 62px,#942f6c 63px,#c64446 64px,#db5436 65px,#da5337 66px,#c14149 67px,#8f2d70 68px,#642382 69px,#642382 70px,#8f2e70 71px,#c44247 72px,#de5633 73px,#e15930 74px,#cf4a40 75px,#6e2682 77px,#632380 78px,#862b76 79px,#bc3f4c 80px,#dd5535 81px,#e45c2c 82px,#d95239 83px,#b13954 84px,#7b297b 85px,#642381 86px,#7c297b 87px,#b33a53 88px,#da5337 89px,#e75f29 90px,#df5832 91px,#c14149 92px,#8b2c73 93px"></i><i style="--g:#000000 0px,#030104 13px,#1d0b29 17px,#14071e 20px,#170822 21px,#4a1c64 24px,#501e6c 25px,#4b1c66 26px,#301440 28px,#2d133d 29px,#3c184f 30px,#541f70 31px,#712680 32px,#862b76 33px,#802a79 34px,#642382 35px,#4c1d67 36px,#411a56 37px,#491c62 38px,#652383 39px,#942f6c 40px,#b03955 41px,#b13954 42px,#973069 43px,#6b2583 44px,#511e6d 45px,#501e6d 46px,#6c2583 47px,#a03361 48px,#c44346 49px,#cc4841 50px,#bb3e4d 51px,#912e6e 52px,#632380 53px,#561f72 54px,#682485 55px,#c84544 57px,#d8513a 58px,#d14c3f 59px,#b03955 60px,#7c297b 61px,#5d217a 62px,#632381 63px,#922f6d 64px,#c54346 65px,#dc5535 66px,#dd5634 67px,#c94643 68px,#6a2584 70px,#622380 71px,#852b76 72px,#bb3e4d 73px,#db5436 74px,#e35b2d 75px,#d8513a 76px,#b23a53 77px,#7d297a 78px,#622380 79px,#75277e 80px,#ab3658 81px,#d64f3c 82px,#e55d2b 83px,#e15930 84px,#c74544 85px,#942f6c 86px,#692484 87px,#6b2583 88px,#993168 89px,#cc4842 90px,#e45c2d 91px,#e75f29 92px,#d7503b 93px"></i><i style="--g:#000000 0px,#030104 13px,#220d2f 17px,#1f0c2b 19px,#180923 21px,#230e30 22px,#4a1c63 24px,#561f72 25px,#561f72 26px,#311441 29px,#371748 30px,#672484 32px,#882b75 33px,#912e6e 34px,#802a79 35px,#60227d 36px,#491c63 37px,#441a5b 38px,#531e70 39px,#7a287c 40px,#a6355d 41px,#ba3e4e 42px,#b43b52 43px,#942f6c 44px,#672484 45px,#511e6e 46px,#561f72 47px,#79287c 48px,#ac3758 49px,#ca4743 50px,#cf4b3f 51px,#bc3f4c 52px,#912e6e 53px,#632381 54px,#582075 55px,#6c2583 56px,#a03361 57px,#cb4742 58px,#da5337 59px,#d44e3c 60px,#b63c51 61px,#842b77 62px,#60227d 63px,#632380 64px,#8e2d71 65px,#c14149 66px,#dc5535 67px,#e05930 68px,#d14c3e 69px,#a8355b 70px,#74277e 71px,#61227f 72px,#79287c 73px,#ae3856 74px,#d6503b 75px,#e45c2c 76px,#df5732 77px,#c54346 78px,#922e6d 79px,#672485 80px,#682484 81px,#942f6b 82px,#c84544 83px,#e15a30 84px,#e65e2a 85px,#d95239 86px,#b13954 87px,#7d297a 88px,#652383 89px,#7c297b 90px,#b13a54 91px,#da5338 92px,#e76028 93px"></i><i style="--g:#000000 0px,#030105 13px,#0e0515 15px,#260f34 17px,#2a1239 18px,#1a0a25 21px,#210d2e 22px,#582075 25px,#5f227c 26px,#572074 27px,#39184b 29px,#351746 30px,#411a57 31px,#5b2178 32px,#7f2a79 33px,#973069 34px,#973069 35px,#7e297a 36px,#5c2179 37px,#491c62 38px,#491c62 39px,#5f227c 40px,#8e2d71 41px,#b33a52 42px,#c14149 43px,#b53b51 44px,#652383 46px,#531e6f 47px,#5b2178 48px,#832a77 49px,#b43b52 50px,#cf4a40 51px,#d24d3e 52px,#bf404a 53px,#942f6c 54px,#662483 55px,#5a2077 56px,#6e2582 57px,#cb4842 59px,#dc5536 60px,#d95239 61px,#be404b 62px,#8e2d71 63px,#642382 64px,#61227f 65px,#862b76 66px,#ba3e4e 67px,#da5337 68px,#e35b2e 69px,#da5338 70px,#b83d4f 71px,#852b77 72px,#642381 73px,#6d2582 74px,#9c3265 75px,#cc4842 76px,#e25a2f 77px,#e45c2c 78px,#d54e3c 79px,#78287d 81px,#642382 82px,#7c297b 83px,#b03955 84px,#d95139 85px,#e65f29 86px,#e35b2d 87px,#cd4941 88px,#9d3264 89px,#6f2681 90px,#692484 91px,#8f2e70 92px,#c34247 93px"></i><i style="--g:#000000 0px,#040105 13px,#0e0516 15px,#291138 17px,#311441 18px,#1e0c2a 21px,#200d2c 22px,#2f143e 23px,#582074 25px,#652382 26px,#642381 27px,#39184b 30px,#3c184f 31px,#4e1d6a 32px,#6f2681 33px,#942f6c 34px,#a3345f 35px,#993167 36px,#7a287c 37px,#592075 38px,#491c63 39px,#4f1d6b 40px,#6c2582 41px,#9d3264 42px,#be404b 43px,#c74445 44px,#b73c50 45px,#652383 47px,#551f71 48px,#5f227d 49px,#8b2c73 50px,#ba3e4e 51px,#d34d3d 52px,#d64f3b 53px,#c34247 54px,#6a2584 56px,#5c2179 57px,#6d2582 58px,#ca4743 60px,#dd5634 61px,#dc5535 62px,#c84544 63px,#6c2583 65px,#61227e 66px,#7c297b 67px,#af3955 68px,#d6503b 69px,#e45c2d 70px,#e05831 71px,#c94644 72px,#6c2582 74px,#652483 75px,#882c75 76px,#bb3e4d 77px,#dc5536 78px,#e65e2a 79px,#e05831 80px,#c64346 81px,#942f6c 82px,#6b2583 83px,#6a2584 84px,#922f6d 85px,#c54346 86px,#e05930 87px,#e86028 88px,#df5732 89px,#c14149 90px,#8f2d70 91px,#6a2584 92px,#702681 93px"></i><i style="--g:#000000 0px,#040106 13px,#0e0516 15px,#361747 18px,#361748 19px,#210d2e 22px,#2b123a 23px,#672485 26px,#702680 27px,#662484 28px,#421a58 30px,#3b184f 31px,#451b5c 32px,#5e217b 33px,#862b76 34px,#a4345e 35px,#ac3758 36px,#9a3166 37px,#76277e 38px,#572074 39px,#4c1c67 40px,#571f74 41px,#7c297b 42px,#ab3659 43px,#c74445 44px,#cb4742 45px,#b93d4e 46px,#662484 48px,#572074 49px,#632380 50px,#8f2e70 51px,#bd3f4c 52px,#d64f3b 53px,#d95239 54px,#c94644 55px,#712680 57px,#5e217b 58px,#6a2583 59px,#c74545 61px,#dd5535 62px,#df5832 63px,#d14c3f 64px,#ab3659 65px,#7a287c 66px,#622380 67px,#712680 68px,#cd4941 70px,#e25a2f 71px,#e45c2c 72px,#d7503b 73px,#b13954 74px,#802a79 75px,#652383 76px,#74277f 77px,#cf4a40 79px,#e35c2d 80px,#e65e2a 81px,#d95239 82px,#b43b52 83px,#832a77 84px,#672485 85px,#75277e 86px,#a4345e 87px,#d14c3f 88px,#e55d2b 89px,#e86028 90px,#db5436 91px,#b83d4f 92px,#862b76 93px"></i><i style="--g:#000000 0px,#050207 13px,#0e0516 15px,#3a184d 18px,#3d1951 19px,#250f33 22px,#291137 23px,#652483 26px,#79287c 27px,#79287c 28px,#652483 29px,#421a58 31px,#401a56 32px,#501d6c 33px,#702681 34px,#993167 35px,#b13954 36px,#b13a54 37px,#9b3166 38px,#74277f 39px,#572074 40px,#4f1d6b 41px,#5e227c 42px,#892c74 43px,#b43b52 44px,#cd4941 45px,#cf4a40 46px,#bd3f4c 47px,#6a2584 49px,#5a2077 50px,#652383 51px,#912e6e 52px,#be404b 53px,#d7513a 54px,#dc5436 55px,#ce4a40 56px,#ac3758 57px,#7c297b 58px,#61227f 59px,#672485 60px,#902e6f 61px,#c0414a 62px,#db5437 63px,#e25a2f 64px,#da5338 65px,#bc3f4c 66px,#8e2d71 67px,#682484 68px,#682484 69px,#8e2d71 70px,#be404b 71px,#dc5535 72px,#e65e2a 73px,#e05931 74px,#c94644 75px,#712680 77px,#682485 78px,#872b75 79px,#b73c50 80px,#da5338 81px,#e75f29 82px,#e45c2c 83px,#d14c3e 84px,#7a287c 86px,#682484 87px,#802a79 88px,#d7513a 90px,#e75f29 91px,#e76028 92px,#d95239 93px"></i><i style="--g:#000000 0px,#040106 12px,#0e0516 15px,#3d1951 18px,#431a5a 19px,#38174a 21px,#2a1139 23px,#351746 24px,#60227e 26px,#7b297b 27px,#882b75 28px,#7e297a 29px,#642382 30px,#441a5b 32px,#471b60 33px,#5c217a 34px,#852b76 35px,#aa3659 36px,#bb3e4d 37px,#b63c50 38px,#9d3264 39px,#75277e 40px,#592076 41px,#541f70 42px,#652383 43px,#932f6d 44px,#bc3f4c 45px,#d24c3e 46px,#d34e3d 47px,#c24248 48px,#702681 50px,#5d217a 51px,#662484 52px,#8f2e70 53px,#bd3f4c 54px,#d8513a 55px,#de5733 56px,#d54f3c 57px,#b83d4f 58px,#8b2c73 59px,#672485 60px,#652382 61px,#852b76 62px,#b43b52 63px,#d6503b 64px,#e35b2e 65px,#e05831 66px,#cd4941 67px,#79287c 69px,#662484 70px,#7a287c 71px,#d04b3f 73px,#e35b2d 74px,#e65e2a 75px,#da5337 76px,#ba3e4d 77px,#8c2d72 78px,#6b2583 79px,#702681 80px,#973069 81px,#c54346 82px,#df5832 83px,#e86028 84px,#e25b2e 85px,#cc4842 86px,#76287e 88px,#6b2583 89px,#872b75 90px,#b63c51 91px,#da5238 92px,#e76028 93px"></i><i style="--g:#000000 0px,#030104 11px,#0e0516 15px,#3f1954 18px,#481c62 19px,#491c63 20px,#301440 23px,#331644 24px,#592076 26px,#77287d 27px,#8f2d70 28px,#922e6e 29px,#812a78 30px,#642382 31px,#4f1d6b 32px,#471b60 33px,#501e6c 34px,#6b2583 35px,#973069 36px,#b83d4f 37px,#c54346 38px,#bc3f4d 39px,#a03361 40px,#78287d 41px,#5c2179 42px,#582075 43px,#6c2583 44px,#c24248 46px,#d6503b 47px,#d8513a 48px,#c94644 49px,#7a287c 51px,#61227f 52px,#662484 53px,#8b2c73 54px,#b83d4f 55px,#d6503b 56px,#e05831 57px,#db5436 58px,#c64445 59px,#74277f 61px,#652383 62px,#78287d 63px,#cd4941 65px,#e05930 66px,#e55d2c 67px,#db5437 68px,#be404b 69px,#922e6d 70px,#6f2681 71px,#6d2582 72px,#8e2d71 73px,#bb3e4d 74px,#da5337 75px,#e65e2a 76px,#e55d2c 77px,#d54e3c 78px,#842b77 80px,#6b2583 81px,#78287d 82px,#cc4842 84px,#e25a2f 85px,#e86127 86px,#e15a2f 87px,#cb4743 88px,#78287d 90px,#6d2582 91px,#882c75 92px,#b53b51 93px"></i><i style="--g:#000000 0px,#030105 11px,#0e0516 15px,#2e133d 17px,#4d1d68 19px,#521e6e 20px,#431a5a 22px,#361746 24px,#3d1952 25px,#6d2582 27px,#8e2d71 28px,#9d3264 29px,#993167 30px,#842b77 31px,#642382 32px,#521e6e 33px,#4d1d68 34px,#5a2076 35px,#7c297b 36px,#a7355c 37px,#c34247 38px,#cb4742 39px,#c24148 40px,#a6355d 41px,#7e297a 42px,#61227e 43px,#5d217a 44px,#722680 45px,#c54346 47px,#d95239 48px,#db5436 49px,#cf4b3f 50px,#b13954 51px,#872b75 52px,#672485 53px,#662484 54px,#832b77 55px,#af3955 56px,#d14c3e 57px,#e05831 58px,#e05931 59px,#d34d3d 60px,#b23a53 61px,#882b75 62px,#6a2583 63px,#6e2682 64px,#912e6e 65px,#bd3f4c 66px,#da5338 67px,#e55d2b 68px,#e35b2d 69px,#d44e3d 70px,#862b76 72px,#6c2582 73px,#76277e 74px,#c74445 76px,#df5732 77px,#e76028 78px,#e35b2d 79px,#d14c3f 80px,#812a78 82px,#6d2582 83px,#7d297b 84px,#cd4941 86px,#e25b2e 87px,#e86127 88px,#e25b2e 89px,#cd4941 90px,#7d297a 92px,#6f2681 93px"></i><i style="--g:#000000 0px,#040106 11px,#0f0517 15px,#2c123b 17px,#501e6c 19px,#592076 20px,#501d6c 22px,#3b184f 24px,#3c1950 25px,#491c62 26px,#61227e 27px,#842b77 28px,#9f3362 29px,#a9365a 30px,#a03361 31px,#672485 33px,#551f72 34px,#531e6f 35px,#632380 36px,#8b2c74 37px,#b23a54 38px,#ca4743 39px,#d14c3f 40px,#c84544 41px,#ad3857 42px,#882b75 43px,#672485 44px,#61227f 45px,#74277f 46px,#c54346 48px,#d95238 49px,#de5733 50px,#d7503b 51px,#bf404b 52px,#73277f 54px,#672485 55px,#7a287c 56px,#c94643 58px,#de5634 59px,#e35c2d 60px,#dd5535 61px,#c74545 62px,#7a287c 64px,#6b2583 65px,#7d297a 66px,#cc4842 68px,#e05931 69px,#e75f29 70px,#e15930 71px,#cd4941 72px,#802a79 74px,#6e2681 75px,#7e297a 76px,#cb4842 78px,#e15930 79px,#e86028 80px,#e35b2e 81px,#d04b3f 82px,#842b77 84px,#702681 85px,#7d297a 86px,#cb4743 88px,#e15930 89px,#e86127 90px,#e55d2b 91px,#d44e3d 92px,#b13954 93px"></i><i style="--g:#000000 0px,#040106 11px,#100519 15px,#2a1139 17px,#511e6d 19px,#632381 21px,#521e6e 23px,#401955 25px,#441b5c 26px,#561f72 27px,#74277f 28px,#983069 29px,#ae3856 30px,#b33a53 31px,#a7355b 32px,#6c2583 34px,#5a2077 35px,#592076 36px,#6c2583 37px,#ba3e4e 39px,#d04b3f 40px,#d7503b 41px,#cf4a40 42px,#b73c50 43px,#712680 45px,#652383 46px,#74277f 47px,#c14149 49px,#d95239 50px,#e05930 51px,#dd5634 52px,#cc4842 53px,#842b77 55px,#6c2582 56px,#72277f 57px,#932f6d 58px,#bb3e4d 59px,#d8513a 60px,#e35b2d 61px,#e35b2d 62px,#d8513a 63px,#bc3f4c 64px,#952f6b 65px,#75277e 66px,#712680 67px,#8b2c73 68px,#d34e3d 70px,#e35b2d 71px,#e75f29 72px,#df5832 73px,#ca4743 74px,#802a79 76px,#712680 77px,#812a78 78px,#cc4842 80px,#e05930 81px,#e86028 82px,#e45c2c 83px,#d44e3c 84px,#8d2d72 86px,#74277f 87px,#7a287c 88px,#c34248 90px,#dc5535 91px,#e76028 92px,#e76028 93px"></i><i style="--g:#000000 0px,#020102 10px,#1a0a25 16px,#3d1951 18px,#61227f 20px,#6e2682 21px,#6e2682 22px,#632380 23px,#481c62 25px,#451b5d 26px,#4e1d6a 27px,#632380 28px,#882c75 29px,#a8355b 30px,#ba3d4e 31px,#bc3f4d 32px,#ae3856 33px,#74277f 35px,#60227e 36px,#60227d 37px,#74277f 38px,#be404b 40px,#d44e3d 41px,#db5437 42px,#d64f3b 43px,#c34247 44px,#7e297a 46px,#6b2583 47px,#73277f 48px,#922f6d 49px,#b83d4f 50px,#d54f3c 51px,#e15930 52px,#e25a2f 53px,#d8513a 54px,#bf404a 55px,#7a287c 57px,#702681 58px,#822a78 59px,#ca4743 61px,#de5733 62px,#e65e2a 63px,#e25a2e 64px,#d44e3d 65px,#902e6f 67px,#76277e 68px,#77287d 69px,#922f6d 70px,#b83d4f 71px,#d6503b 72px,#e45c2c 73px,#e75f29 74px,#e05831 75px,#cc4842 76px,#852b76 78px,#74277f 79px,#802a79 80px,#c74544 82px,#de5633 83px,#e76028 84px,#e65e2a 85px,#db5437 86px,#c14149 87px,#7c297b 89px,#76287e 90px,#8d2d71 91px,#d34d3d 93px"></i><i style="--g:#000000 0px,#020103 10px,#1d0b29 16px,#3c184f 18px,#62227f 20px,#75277e 21px,#7e297a 22px,#78287d 23px,#662484 24px,#4c1d68 26px,#4c1c67 27px,#582075 28px,#722780 29px,#b43b52 31px,#c44346 32px,#c54346 33px,#b73c50 34px,#7e297a 36px,#672485 37px,#652383 38px,#79287c 39px,#c04149 41px,#d6503b 42px,#de5733 43px,#dc5535 44px,#ce4a40 45px,#8f2e70 47px,#75277e 48px,#722780 49px,#892c74 50px,#cd4941 52px,#de5733 53px,#e45d2c 54px,#e05930 55px,#d14c3e 56px,#912e6e 58px,#77287d 59px,#77287d 60px,#8f2e70 61px,#d14c3e 63px,#e15a2f 64px,#e65f29 65px,#e25a2f 66px,#d24d3e 67px,#912e6e 69px,#79287c 70px,#7a287c 71px,#942f6b 72px,#d54f3c 74px,#e45c2d 75px,#e76028 76px,#e25a2f 77px,#d14c3e 78px,#8f2e70 80px,#79287c 81px,#7d297b 82px,#bc3f4c 84px,#d8513a 85px,#e55d2b 86px,#e86028 87px,#e15a2f 88px,#d04b3f 89px,#8d2d71 91px,#79287c 92px,#7f2979 93px"></i><i style="--g:#000000 0px,#020103 10px,#210d2e 16px,#632381 20px,#8a2c74 22px,#8c2d72 23px,#6c2582 25px,#521e6e 27px,#531e70 28px,#61227f 29px,#802a79 30px,#bf404a 32px,#cc4841 33px,#cd4941 34px,#c24148 35px,#8b2c73 37px,#722680 38px,#6b2583 39px,#7b297b 40px,#be404b 42px,#d6503b 43px,#e15a2f 45px,#d95239 46px,#c44346 47px,#842b77 49px,#76277e 50px,#7f2a79 51px,#bf404a 53px,#d8513a 54px,#e65e2a 56px,#df5733 57px,#cd4941 58px,#8e2d71 60px,#79287c 61px,#7d297a 62px,#96306a 63px,#d44e3c 65px,#e75f29 67px,#d44e3c 69px,#973069 71px,#7e297a 72px,#7b297b 73px,#902e6f 74px,#d04b3f 76px,#e15930 77px,#e76028 78px,#e55d2b 79px,#da5338 80px,#c24148 81px,#832a77 83px,#7a287c 84px,#8a2c74 85px,#ca4743 87px,#de5733 88px,#e75f29 89px,#e75f29 90px,#de5634 91px,#c94643 92px,#a9365a 93px"></i><i style="--g:#000000 0px,#020103 10px,#200c2c 15px,#311542 17px,#582075 19px,#702681 20px,#993167 22px,#a03362 23px,#9b3165 24px,#76277e 26px,#62227f 27px,#592075 28px,#5b2178 29px,#6a2583 30px,#8c2d72 31px,#ae3856 32px,#c84544 33px,#d44e3d 34px,#d64f3c 35px,#cc4841 36px,#7f2979 39px,#72277f 40px,#7c297b 41px,#d34d3d 44px,#e55e2b 46px,#d44e3d 48px,#9a3167 50px,#812a78 51px,#7c297b 52px,#8c2d72 53px,#c94643 55px,#dd5535 56px,#e65e2a 58px,#cc4841 60px,#902e6f 62px,#7d297a 63px,#812a79 64px,#b83d4f 66px,#d34d3d 67px,#e76028 69px,#da5338 71px,#c34247 72px,#882b75 74px,#7c297b 75px,#892c75 76px,#c54346 78px,#da5337 79px,#e76028 81px,#d24d3e 83px,#973069 85px,#812a79 86px,#7f297a 87px,#922f6d 88px,#ce4a40 90px,#e75f29 92px,#e65e2a 93px"></i><i style="--g:#000000 0px,#020103 10px,#260f34 15px,#301440 17px,#3f1954 18px,#561f72 19px,#78287d 20px,#9c3265 21px,#b23a53 22px,#bc3f4c 24px,#9f3362 26px,#6e2682 28px,#622380 29px,#632381 30px,#75277e 31px,#b53b51 33px,#ce4940 34px,#da5337 35px,#d8513a 37px,#c74544 38px,#902e6f 40px,#7e297a 41px,#7e297a 42px,#912e6e 43px,#cc4841 45px,#e75f29 47px,#e05931 49px,#d04b3f 50px,#983069 52px,#842b77 53px,#822a78 54px,#942f6b 55px,#cd4941 57px,#e75f29 59px,#e05931 61px,#d04b3f 62px,#983069 64px,#842b77 65px,#822a78 66px,#942f6c 67px,#cd4941 69px,#e75f29 71px,#e05831 73px,#d04b3f 74px,#973069 76px,#832a77 77px,#812a78 78px,#932f6d 79px,#cc4842 81px,#e65e2a 83px,#e05831 85px,#d04b3f 86px,#973069 88px,#832a78 89px,#802a79 90px,#922e6e 91px,#cb4742 93px"></i><i style="--g:#000000 0px,#020103 10px,#180923 13px,#301440 16px,#3a184d 18px,#481b61 19px,#622380 20px,#912e6e 21px,#b83d4f 22px,#cf4a40 23px,#da5338 25px,#c14149 27px,#8d2d72 29px,#79287c 30px,#75277e 31px,#842b77 32px,#d44e3d 35px,#e45c2c 37px,#d7503b 39px,#8f2e70 42px,#852b77 43px,#8d2d71 44px,#d8513a 47px,#ea6325 49px,#e15930 51px,#b73c50 53px,#8a2c74 55px,#882c75 56px,#983069 57px,#cd4941 59px,#e75f29 61px,#e45c2c 63px,#c34248 65px,#8e2d71 67px,#842b77 68px,#8d2d72 69px,#d6503b 72px,#e76028 74px,#dd5634 76px,#b13954 78px,#95306a 79px,#842b77 80px,#842b77 81px,#952f6b 82px,#cb4742 84px,#e45d2c 86px,#e05931 88px,#d34d3d 89px,#882c75 92px,#7f2a79 93px"></i><i style="--g:#000000 0px,#020102 10px,#0d0414 12px,#321542 15px,#421a59 19px,#4f1d6b 20px,#692484 21px,#c0404a 23px,#da5338 24px,#ea6424 26px,#e05930 28px,#a7355b 31px,#9c3264 32px,#a13361 33px,#db5436 36px,#eb6523 38px,#e55d2c 40px,#c34247 42px,#95306a 44px,#902e6f 45px,#9a3166 46px,#dd5634 49px,#ec6622 51px,#e45c2c 53px,#c04149 55px,#912e6e 57px,#8c2d73 58px,#96306a 59px,#da5337 62px,#e96226 64px,#e15930 66px,#bb3e4d 68px,#8d2d71 70px,#882c75 71px,#932f6d 72px,#d8513a 75px,#e75f29 77px,#dd5634 79px,#b53b51 81px,#882c75 83px,#832a77 84px,#8f2e70 85px,#d44e3d 88px,#e15930 90px,#dc5536 91px,#cc4842 92px,#ab3758 93px"></i><i style="--g:#000000 0px,#010002 10px,#0c0413 12px,#3f1954 16px,#4b1c66 20px,#582074 21px,#702681 22px,#bd3f4c 24px,#d95239 25px,#ef6a1e 27px,#ef691f 29px,#cc4842 33px,#d24c3e 35px,#f06b1d 38px,#f4751a 40px,#ed6721 42px,#cf4a40 44px,#a6355c 46px,#9f3362 47px,#a7355b 48px,#df5832 51px,#ee6820 53px,#e96226 55px,#ce4941 57px,#9f3362 59px,#922e6d 60px,#932f6c 61px,#b93d4e 63px,#df5732 65px,#ea6325 67px,#e05930 69px,#bc3f4c 71px,#902e6f 73px,#8a2c74 74px,#922f6d 75px,#d24d3e 78px,#e55d2b 80px,#de5733 82px,#cf4a40 83px,#b43b52 84px,#692584 86px,#441a5b 88px,#260f34 91px,#281036 92px,#38174a 93px"></i><i style="--g:#000000 0px,#010002 10px,#0b0411 12px,#451b5d 16px,#4f1d6b 18px,#541f71 21px,#60227e 22px,#78287d 23px,#d44e3d 26px,#ec6523 28px,#ec6622 31px,#de5733 35px,#f16e1c 38px,#fb8e18 41px,#fa8917 43px,#f16c1d 45px,#c44346 48px,#b93d4e 49px,#ba3e4e 50px,#eb6424 54px,#f16e1c 56px,#ea6325 58px,#cf4a40 60px,#a5345d 62px,#9a3167 63px,#9c3165 64px,#d14c3e 67px,#e86028 69px,#ea6325 71px,#d95239 73px,#ab3758 75px,#7b297b 77px,#642382 79px,#501e6c 81px,#351746 83px,#2f143e 84px,#361748 85px,#652383 88px,#79287c 92px,#892c75 93px"></i><i style="--g:#000000 0px,#040106 11px,#14071e 13px,#491c62 16px,#592076 18px,#5c2179 22px,#662484 23px,#9a3166 25px,#d04b3f 27px,#e75f29 29px,#e86127 32px,#d8513a 36px,#ea6424 39px,#f78018 41px,#fc961b 43px,#fc971b 45px,#f2701b 48px,#d04b3f 51px,#cd4941 53px,#f06c1d 57px,#f4751a 59px,#ef691f 61px,#c84544 64px,#a6355d 66px,#a3345f 68px,#af3855 70px,#ac3757 71px,#9c3165 72px,#7c297b 73px,#582075 74px,#3f1955 75px,#301440 76px,#2e133d 77px,#6c2583 82px,#a13361 84px,#cf4a40 86px,#e35b2e 88px,#e25b2e 90px,#cf4b3f 92px,#be404b 93px"></i><i style="--g:#000000 0px,#030105 11px,#11061b 13px,#561f73 17px,#632380 19px,#61227e 23px,#692584 24px,#96306a 26px,#c94643 28px,#e25a2f 30px,#e45c2c 33px,#b63c51 38px,#bd3f4c 40px,#ef691f 44px,#f77d18 47px,#ec6622 50px,#ba3e4e 54px,#b73c50 56px,#de5733 60px,#db5436 62px,#cc4842 63px,#ac3757 64px,#7c297b 65px,#511e6d 66px,#361748 67px,#220e2f 68px,#1d0b29 69px,#230e30 70px,#471b60 72px,#61227f 73px,#8a2c74 74px,#af3856 75px,#ca4743 76px,#df5831 78px,#d6503b 81px,#96306a 85px,#8d2d72 87px,#a2345f 89px,#cf4b40 92px,#d7503a 93px"></i><i style="--g:#000000 0px,#030104 11px,#190924 14px,#491c62 17px,#5a2077 19px,#5c2179 25px,#642382 26px,#8c2d72 28px,#b03955 30px,#bb3e4d 32px,#aa3659 34px,#7b297b 36px,#60227e 37px,#351645 40px,#2c123b 42px,#4c1c66 49px,#481c62 52px,#2a1139 56px,#0d0414 59px,#0a030f 62px,#250f33 65px,#3e1952 68px,#38184a 71px,#271035 75px,#331543 79px,#411a57 84px,#230e31 92px,#240e31 93px"></i><i style="--g:#000000 0px,#030104 12px,#170822 16px,#331543 20px,#341645 27px,#471b5f 30px,#6a2584 33px,#7e297a 35px,#78287d 37px,#6c2583 38px,#441b5c 42px,#3c1950 45px,#4c1c67 49px,#5c2179 52px,#511e6d 54px,#3d1951 57px,#39184b 64px,#592076 71px,#511e6d 75px,#371748 80px,#371748 83px,#511e6d 89px,#4b1c66 93px"></i><i style="--g:#000000 0px,#040106 14px,#170822 23px,#170822 29px,#421a58 35px,#3f1954 37px,#160821 41px,#100519 44px,#14071f 45px,#5f227c 49px,#77287d 50px,#b23a53 53px,#c64445 56px,#c74545 93px"></i></div>
<div class="fr" style="left:203px;top:4px;width:100px;height:99px"></div><b style="left:205.50px;top:101px;width:1px;height:1px"></b><b style="left:205.50px;top:5px;width:1px;height:1px"></b><b style="left:204px;top:99.50px;width:1px;height:1px"></b><b style="left:301px;top:99.50px;width:1px;height:1px"></b><b style="left:210.20px;top:101px;width:1px;height:1px"></b><b style="left:210.20px;top:5px;width:1px;height:1px"></b><b style="left:204px;top:94.80px;width:1px;height:1px"></b><b style="left:301px;top:94.80px;width:1px;height:1px"></b><b style="left:214.90px;top:101px;width:1px;height:1px"></b><b style="left:214.90px;top:5px;width:1px;height:1px"></b><b style="left:204px;top:90.10px;width:1px;height:1px"></b><b style="left:301px;top:90.10px;width:1px;height:1px"></b><b style="left:219.60px;top:101px;width:1px;height:1px"></b><b style="left:219.60px;top:5px;width:1px;height:1px"></b><b style="left:204px;top:85.40px;width:1px;height:1px"></b><b style="left:301px;top:85.40px;width:1px;height:1px"></b><b style="left:224.30px;top:101px;width:1px;height:1px"></b><b style="left:224.30px;top:5px;width:1px;height:1px"></b><b style="left:204px;top:80.70px;width:1px;height:1px"></b><b style="left:301px;top:80.70px;width:1px;height:1px"></b><b style="left:229.00px;top:101px;width:1px;height:1px"></b><b style="left:229.00px;top:5px;width:1px;height:1px"></b><b style="left:204px;top:76.00px;width:1px;height:1px"></b><b style="left:301px;top:76.00px;width:1px;height:1px"></b><b style="left:233.70px;top:101px;width:1px;height:1px"></b><b style="left:233.70px;top:5px;width:1px;height:1px"></b><b style="left:204px;top:71.30px;width:1px;height:1px"></b><b style="left:301px;top:71.30px;width:1px;height:1px"></b><b style="left:238.40px;top:101px;width:1px;height:1px"></b><b style="left:238.40px;top:5px;width:1px;height:1px"></b><b style="left:204px;top:66.60px;width:1px;height:1px"></b><b style="left:301px;top:66.60px;width:1px;height:1px"></b><b style="left:243.10px;top:101px;width:1px;height:1px"></b><b style="left:243.10px;top:5px;width:1px;height:1px"></b><b style="left:204px;top:61.90px;width:1px;height:1px"></b><b style="left:301px;top:61.90px;width:1px;height:1px"></b><b style="left:247.80px;top:101px;width:1px;height:1px"></b><b style="left:247.80px;top:5px;width:1px;height:1px"></b><b style="left:204px;top:57.20px;width:1px;height:1px"></b><b style="left:301px;top:57.20px;width:1px;height:1px"></b><b style="left:252.50px;top:101px;width:1px;height:1px"></b><b style="left:252.50px;top:5px;width:1px;height:1px"></b><b style="left:204px;top:52.50px;width:1px;height:1px"></b><b style="left:301px;top:52.50px;width:1px;height:1px"></b><b style="left:257.20px;top:101px;width:1px;height:1px"></b><b style="left:257.20px;top:5px;width:1px;height:1px"></b><b style="left:204px;top:47.80px;width:1px;height:1px"></b><b style="left:301px;top:47.80px;width:1px;height:1px"></b><b style="left:261.90px;top:101px;width:1px;height:1px"></b><b style="left:261.90px;top:5px;width:1px;height:1px"></b><b style="left:204px;top:43.10px;width:1px;height:1px"></b><b style="left:301px;top:43.10px;width:1px;height:1px"></b><b style="left:266.60px;top:101px;width:1px;height:1px"></b><b style="left:266.60px;top:5px;width:1px;height:1px"></b><b style="left:204px;top:38.40px;width:1px;height:1px"></b><b style="left:301px;top:38.40px;width:1px;height:1px"></b><b style="left:271.30px;top:101px;width:1px;height:1px"></b><b style="left:271.30px;top:5px;width:1px;height:1px"></b><b style="left:204px;top:33.70px;width:1px;height:1px"></b><b style="left:301px;top:33.70px;width:1px;height:1px"></b><b style="left:276.00px;top:101px;width:1px;height:1px"></b><b style="left:276.00px;top:5px;width:1px;height:1px"></b><b style="left:204px;top:29.00px;width:1px;height:1px"></b><b style="left:301px;top:29.00px;width:1px;height:1px"></b><b style="left:280.70px;top:101px;width:1px;height:1px"></b><b style="left:280.70px;top:5px;width:1px;height:1px"></b><b style="left:204px;top:24.30px;width:1px;height:1px"></b><b style="left:301px;top:24.30px;width:1px;height:1px"></b><b style="left:285.40px;top:101px;width:1px;height:1px"></b><b style="left:285.40px;top:5px;width:1px;height:1px"></b><b style="left:204px;top:19.60px;width:1px;height:1px"></b><b style="left:301px;top:19.60px;width:1px;height:1px"></b><b style="left:290.10px;top:101px;width:1px;height:1px"></b><b style="left:290.10px;top:5px;width:1px;height:1px"></b><b style="left:204px;top:14.90px;width:1px;height:1px"></b><b style="left:301px;top:14.90px;width:1px;height:1px"></b><b style="left:294.80px;top:101px;width:1px;height:1px"></b><b style="left:294.80px;top:5px;width:1px;height:1px"></b><b style="left:204px;top:10.20px;width:1px;height:1px"></b><b style="left:301px;top:10.20px;width:1px;height:1px"></b><b style="left:299.50px;top:101px;width:1px;height:1px"></b><b style="left:299.50px;top:5px;width:1px;height:1px"></b><b style="left:204px;top:5.50px;width:1px;height:1px"></b><b style="left:301px;top:5.50px;width:1px;height:1px"></b>
<div class="t tk" style="left:205.80px;top:111.30px;transform:translate(-50%,-50%)">0</div><div class="t tk" style="left:201.90px;top:102.10px;transform:translate(-100%,-50%)">0</div><div class="t tk" style="left:224.60px;top:111.30px;transform:translate(-50%,-50%)">2</div><div class="t tk" style="left:201.90px;top:83.30px;transform:translate(-100%,-50%)">2</div><div class="t tk" style="left:243.40px;top:111.30px;transform:translate(-50%,-50%)">4</div><div class="t tk" style="left:201.90px;top:64.50px;transform:translate(-100%,-50%)">4</div><div class="t tk" style="left:262.20px;top:111.30px;transform:translate(-50%,-50%)">6</div><div class="t tk" style="left:201.90px;top:45.70px;transform:translate(-100%,-50%)">6</div><div class="t tk" style="left:281.00px;top:111.30px;transform:translate(-50%,-50%)">8</div><div class="t tk" style="left:201.90px;top:26.90px;transform:translate(-100%,-50%)">8</div><div class="t tk" style="left:299.80px;top:111.30px;transform:translate(-50%,-50%)">10</div><div class="t tk" style="left:201.90px;top:8.10px;transform:translate(-100%,-50%)">10</div>
<div class="cb" style="left:313.3px;top:33.6px;width:7px;height:68.2px;background:linear-gradient(0deg,#000000 0.0%,#09030d 4.3%,#11061b 8.7%,#1e0c2a 13.0%,#2b1239 17.4%,#371749 21.7%,#411a57 26.1%,#4b1c65 30.4%,#551f71 34.8%,#60227d 39.1%,#6b2583 43.5%,#7a287c 47.8%,#892c74 52.2%,#96306a 56.5%,#a3345f 60.9%,#af3856 65.2%,#b93d4e 69.6%,#c44346 73.9%,#cd4941 78.3%,#d54f3c 82.6%,#db5436 87.0%,#e15930 91.3%,#e65f29 95.7%,#eb6424 100.0%)"></div><div class="t cl" style="left:323.80px;top:103.90px;transform:translate(0,-50%)">0</div><b class="ct" style="left:320.3px;top:101.3px"></b><div class="t cl" style="left:323.80px;top:78.64px;transform:translate(0,-50%)">0.5</div><b class="ct" style="left:320.3px;top:76.0px"></b><div class="t cl" style="left:323.80px;top:53.38px;transform:translate(0,-50%)">1</div><b class="ct" style="left:320.3px;top:50.8px"></b><div class="t ctl" style="left:325.30px;top:24.20px;transform:translate(-50%,-50%)"><i>δ</i><sub>min</sub></div>
<div class="t tau" style="left:253.50px;top:124.70px;transform:translate(-50%,-50%)">τ</div><div class="t d2" style="left:183.00px;top:53.00px;transform:translate(-50%,-50%) rotate(-90deg)"><i>d&#771;</i><sub>2</sub></div><div class="t cap" style="left:253.70px;top:142.80px;transform:translate(-50%,-50%)">(b)</div>
<div class="hm" style="left:391px;top:7px;width:93px;height:92px"><i style="--g:#0a030f 0px,#010002 2px,#451b5d 4px,#3c184f 5px,#040106 6px,#180924 7px,#571f73 8px,#5b2178 9px,#210d2e 10px,#020103 11px,#411a57 12px,#5f227c 13px,#481b61 14px,#050208 15px,#170822 16px,#582075 17px,#5c2179 18px,#250f33 19px,#010002 20px,#3f1955 21px,#61227f 22px,#4c1d67 23px,#07020b 24px,#150720 25px,#5b2178 26px,#62237f 27px,#2c123b 28px,#020103 29px,#411a56 30px,#662484 31px,#531e70 32px,#0b0412 33px,#170822 34px,#5f227c 35px,#682484 36px,#06020a 38px,#431a5a 39px,#6e2582 40px,#5b2178 41px,#14071f 42px,#1e0c2b 43px,#632381 44px,#702680 45px,#411a57 46px,#0f0518 47px,#481b61 48px,#72277f 49px,#622380 50px,#260f34 51px,#2a1139 52px,#642382 53px,#722780 54px,#4b1c65 55px,#210d2e 56px,#4c1d67 57px,#74277f 58px,#672485 59px,#361747 60px,#361746 61px,#672485 62px,#77287d 63px,#531f70 64px,#2e133e 65px,#511e6d 66px,#79287c 67px,#6f2681 68px,#401a56 69px,#3d1951 70px,#6b2583 71px,#7c297b 72px,#5b2178 73px,#38184a 74px,#541f71 75px,#7c297b 76px,#75277e 77px,#471b60 78px,#411a57 79px,#6d2582 80px,#7f2979 81px,#61227e 82px,#3e1953 83px,#571f74 84px,#7e297a 85px,#7a287c 86px,#4e1d6a 87px,#461b5e 88px,#702681 89px,#822a78 90px,#662484 91px,#451b5c 92px"></i><i style="--g:#0a030f 0px,#010002 2px,#461b5e 4px,#3d1951 5px,#050207 6px,#150820 7px,#561f72 8px,#5c2179 9px,#261034 10px,#010002 11px,#3d1951 12px,#5f227c 13px,#4c1d67 14px,#08030c 15px,#11061a 16px,#551f71 17px,#5e217b 18px,#000000 20px,#38184a 21px,#61227e 22px,#531e6f 23px,#0c0413 24px,#0d0415 25px,#551f72 26px,#642381 27px,#39184c 28px,#010002 29px,#652483 31px,#5c2179 32px,#14071f 33px,#0d0414 34px,#561f73 35px,#6b2583 36px,#441b5c 37px,#07020b 38px,#6b2583 40px,#652383 41px,#250f33 42px,#11061a 43px,#572074 44px,#722780 45px,#511e6d 46px,#12061c 47px,#381749 48px,#6e2682 49px,#6d2582 50px,#38184b 51px,#1d0b2a 52px,#572074 53px,#74277f 54px,#5b2178 55px,#271035 56px,#3c1950 57px,#6e2682 58px,#72277f 59px,#461b5e 60px,#2a1139 61px,#592075 62px,#78287d 63px,#642382 64px,#371748 65px,#401a56 66px,#712680 67px,#79287c 68px,#511e6e 69px,#361747 70px,#5a2077 71px,#7c297b 72px,#6e2682 73px,#411a56 74px,#431a5a 75px,#722680 76px,#7e297a 77px,#5a2077 78px,#3c184f 79px,#5a2077 80px,#7f2979 81px,#76277e 82px,#491c63 83px,#461b5e 84px,#722780 85px,#812a78 86px,#632380 87px,#421a58 88px,#5a2077 89px,#812a78 90px,#7c297b 91px,#511e6d 92px"></i><i style="--g:#0a030f 0px,#010002 2px,#461b5e 4px,#3f1954 5px,#060209 6px,#12061c 7px,#541f71 8px,#5d217a 9px,#000001 11px,#39184b 12px,#5f227c 13px,#501e6c 14px,#0b0412 15px,#0d0414 16px,#511e6d 17px,#5f227c 18px,#371749 19px,#000000 20px,#60227d 22px,#582075 23px,#13071d 24px,#08030c 25px,#4e1d6a 26px,#652382 27px,#441a5b 28px,#030105 29px,#261034 30px,#632381 31px,#622380 32px,#240e31 33px,#07020b 34px,#4b1c65 35px,#6b2583 36px,#511e6e 37px,#0c0412 38px,#220e2f 39px,#642382 40px,#6c2583 41px,#0c0413 43px,#491c62 44px,#722780 45px,#5f227d 46px,#1e0c2a 47px,#250f32 48px,#642382 49px,#73277f 50px,#491c63 51px,#1a0a25 52px,#471b60 53px,#73277f 54px,#682484 55px,#361747 56px,#2d133c 57px,#622380 58px,#76287e 59px,#582074 60px,#2b123a 61px,#471b60 62px,#75277e 63px,#73277f 64px,#451b5d 65px,#351645 66px,#61227f 67px,#7b297b 68px,#642382 69px,#3a184c 70px,#481c61 71px,#77287d 72px,#7b297b 73px,#511e6e 74px,#3a184d 75px,#5f227d 76px,#7f2979 77px,#6f2681 78px,#431a5a 79px,#481b61 80px,#76277e 81px,#802a79 82px,#5d217a 83px,#3f1955 84px,#5d217a 85px,#812a78 86px,#79287c 87px,#4d1d68 88px,#491c62 89px,#74277e 90px,#842b77 91px,#672484 92px"></i><i style="--g:#0a030f 0px,#010001 2px,#461b5e 4px,#401a56 5px,#07020a 6px,#100519 7px,#531e6f 8px,#5e217b 9px,#000000 11px,#341645 12px,#5f227c 13px,#541f70 14px,#0f0518 15px,#09030e 16px,#4d1d68 17px,#60227d 18px,#3e1953 19px,#020102 20px,#250f32 21px,#5e227b 22px,#5d217a 23px,#1f0c2b 24px,#040106 25px,#461b5e 26px,#652383 27px,#4d1d69 28px,#08030c 29px,#180923 30px,#5e217b 31px,#662484 32px,#040106 34px,#3e1953 35px,#6b2583 36px,#5d217a 37px,#160821 38px,#13061d 39px,#5b2178 40px,#6f2681 41px,#481c62 42px,#0d0414 43px,#6f2681 45px,#6b2583 46px,#311541 47px,#170822 48px,#572074 49px,#74277f 50px,#5a2077 51px,#210d2e 52px,#381749 53px,#6c2583 54px,#72277f 55px,#461b5f 56px,#250f32 57px,#531e6f 58px,#77287d 59px,#672485 60px,#371749 61px,#39184b 62px,#6a2584 63px,#79287c 64px,#572074 65px,#321542 66px,#501d6c 67px,#7a287c 68px,#75277e 69px,#471b60 70px,#3b184f 71px,#662484 72px,#7e297a 73px,#652383 74px,#3d1951 75px,#4c1d68 76px,#7a287c 77px,#7d297a 78px,#541f71 79px,#3e1952 80px,#622380 81px,#822a78 82px,#73277f 83px,#471b60 84px,#4a1c65 85px,#78287d 86px,#832a77 87px,#61227f 88px,#431a5a 89px,#5e217b 90px,#842b77 91px,#7e297a 92px"></i><i style="--g:#0a0310 0px,#010001 2px,#461b5f 4px,#421a58 5px,#08030c 6px,#0e0516 7px,#511e6e 8px,#5e227c 9px,#361747 10px,#000000 11px,#5e217b 13px,#571f74 14px,#14071f 15px,#060209 16px,#481c61 17px,#60227d 18px,#451b5d 19px,#040106 20px,#1b0a26 21px,#5b2178 22px,#60227d 23px,#2b123a 24px,#010002 25px,#3d1951 26px,#652383 27px,#561f73 28px,#0f0517 29px,#0e0516 30px,#571f73 31px,#682484 32px,#421a58 33px,#050208 34px,#30143f 35px,#672485 36px,#652383 37px,#271035 38px,#0b0411 39px,#4f1d6b 40px,#702681 41px,#572074 42px,#13061d 43px,#261034 44px,#662484 45px,#722780 46px,#431a5a 47px,#12061c 48px,#471b60 49px,#74277f 50px,#672485 51px,#311440 52px,#271035 53px,#60227e 54px,#76277e 55px,#582075 56px,#271036 57px,#421a59 58px,#72277f 59px,#74277f 60px,#471b5f 61px,#2e133d 62px,#5a2077 63px,#7a287c 64px,#682484 65px,#3b184e 66px,#401955 67px,#702681 68px,#7d297a 69px,#5a2077 70px,#38174a 71px,#541f71 72px,#7d297a 73px,#78287d 74px,#4a1c64 75px,#3f1954 76px,#692484 77px,#812a78 78px,#692484 79px,#411a57 80px,#4e1d6a 81px,#7c297b 82px,#812a78 83px,#5a2077 84px,#411a57 85px,#622380 86px,#842b77 87px,#79287c 88px,#4d1d68 89px,#4b1c66 90px,#78287d 91px,#862b76 92px"></i><i style="--g:#0a0310 0px,#010001 2px,#471b5f 4px,#431a5a 5px,#09030e 6px,#0d0414 7px,#501d6c 8px,#5f227c 9px,#3a184c 10px,#010001 11px,#281036 12px,#5d217a 13px,#5a2077 14px,#1b0a27 15px,#030105 16px,#431a5a 17px,#60227e 18px,#4b1c66 19px,#08030c 20px,#11061b 21px,#572074 22px,#622380 23px,#371748 24px,#010001 25px,#642381 27px,#5d217a 28px,#1a0a25 29px,#08030c 30px,#4d1d69 31px,#692484 32px,#4e1d6a 33px,#09030f 34px,#1f0c2b 35px,#622380 36px,#6a2583 37px,#08030d 39px,#411a56 40px,#6f2681 41px,#632381 42px,#220e30 43px,#160821 44px,#5b2178 45px,#74277f 46px,#541f70 47px,#170822 48px,#371748 49px,#6e2682 50px,#722680 51px,#421a58 52px,#1f0c2b 53px,#511e6d 54px,#76277e 55px,#672484 56px,#351746 57px,#331644 58px,#662484 59px,#79287c 60px,#592076 61px,#2e133e 62px,#491c62 63px,#77287d 64px,#77287d 65px,#4a1c65 66px,#361747 67px,#5f227c 68px,#7e297a 69px,#6d2582 70px,#401955 71px,#431a5a 72px,#72277f 73px,#802a79 74px,#5e217b 75px,#3c184f 76px,#561f72 77px,#7f2a79 78px,#7c297b 79px,#501d6c 80px,#411a57 81px,#692484 82px,#842b77 83px,#712680 84px,#461b5f 85px,#4e1d6a 86px,#7c297b 87px,#852b76 88px,#61227f 89px,#451b5c 90px,#60227e 91px,#862b76 92px"></i><i style="--g:#0a0310 0px,#010001 2px,#471b60 4px,#441b5c 5px,#0b0411 6px,#0b0411 7px,#4e1d69 8px,#5f227d 9px,#3d1952 10px,#010002 11px,#220e2f 12px,#5c2179 13px,#5c2179 14px,#230e30 15px,#010002 16px,#3d1951 17px,#60227e 18px,#511e6d 19px,#0c0413 20px,#0c0412 21px,#521e6e 22px,#632381 23px,#401a56 24px,#020104 25px,#250f33 26px,#61227e 27px,#62237f 28px,#281137 29px,#040106 30px,#421a59 31px,#692484 32px,#592075 33px,#11061a 34px,#11061a 35px,#592076 36px,#6d2582 37px,#481b61 38px,#0a030f 39px,#301440 40px,#6a2583 41px,#6c2583 42px,#361748 43px,#0f0517 44px,#4c1d67 45px,#74277f 46px,#622380 47px,#250f32 48px,#250f32 49px,#622380 50px,#76277e 51px,#531e70 52px,#200d2d 53px,#401a56 54px,#722680 55px,#73277f 56px,#451b5d 57px,#291137 58px,#571f73 59px,#79287c 60px,#6a2584 61px,#3a184d 62px,#3a184c 63px,#6a2584 64px,#7c297b 65px,#5d217b 66px,#361747 67px,#4c1d67 68px,#7a287c 69px,#7b297b 70px,#501e6c 71px,#3a184d 72px,#5f227d 73px,#812a79 74px,#73277f 75px,#451b5d 76px,#441b5c 77px,#72277f 78px,#832a77 79px,#652383 80px,#401a56 81px,#541f71 82px,#802a79 83px,#822a78 84px,#582075 85px,#431a5a 86px,#662484 87px,#872b76 88px,#7a287c 89px,#4e1d6a 90px,#4d1d68 91px,#7a287c 92px"></i><i style="--g:#0a0310 0px,#000001 2px,#471b60 4px,#461b5e 5px,#0c0413 6px,#09030e 7px,#4c1c67 8px,#60227d 9px,#411a57 10px,#030104 11px,#1c0b28 12px,#5a2077 13px,#5e217b 14px,#000000 16px,#371748 17px,#60227d 18px,#561f72 19px,#12061c 20px,#07020b 21px,#4b1c66 22px,#632381 23px,#491c62 24px,#060209 25px,#180924 26px,#5c217a 27px,#652383 28px,#371749 29px,#030104 30px,#672485 32px,#61227e 33px,#200d2c 34px,#09030f 35px,#4e1d69 36px,#6e2682 37px,#561f72 38px,#100519 39px,#1e0c2a 40px,#62237f 41px,#712680 42px,#471b5f 43px,#0f0517 44px,#712680 46px,#6e2682 47px,#38184a 48px,#190925 49px,#541f70 50px,#76287e 51px,#632381 52px,#2d133c 53px,#311440 54px,#662484 55px,#78287d 56px,#571f74 57px,#2a1138 58px,#451b5d 59px,#75277e 60px,#77287d 61px,#4a1c65 62px,#301440 63px,#592076 64px,#7d297a 65px,#702681 66px,#411a57 67px,#3d1952 68px,#6c2583 69px,#802a79 70px,#642382 71px,#3c1950 72px,#4c1d68 73px,#7b297b 74px,#802a79 75px,#582075 76px,#3d1951 77px,#5d217b 78px,#832a77 79px,#7b297b 80px,#4d1d69 81px,#441b5c 82px,#6f2681 83px,#862b76 84px,#702681 85px,#471b5f 86px,#511e6d 87px,#7f2a79 88px,#872b75 89px,#632381 90px,#461b5f 91px,#61227e 92px"></i><i style="--g:#0a0310 0px,#000001 2px,#471b60 4px,#471b60 5px,#0e0515 6px,#08030c 7px,#491c63 8px,#60227d 9px,#451b5d 10px,#040107 11px,#170822 12px,#582075 13px,#5f227d 14px,#000000 16px,#5f227c 18px,#5a2077 19px,#1b0a27 20px,#040106 21px,#441a5b 22px,#642381 23px,#511e6d 24px,#0b0412 25px,#0f0517 26px,#561f73 27px,#662484 28px,#431a59 29px,#050207 30px,#271035 31px,#642381 32px,#662484 33px,#311541 34px,#060209 35px,#411a56 36px,#6d2582 37px,#61227e 38px,#1f0c2b 39px,#11061a 40px,#561f73 41px,#722780 42px,#561f73 43px,#150720 44px,#2a1138 45px,#672485 46px,#75277e 47px,#491c63 48px,#170822 49px,#431a5a 50px,#74277f 51px,#702681 52px,#3e1953 53px,#240f32 54px,#572074 55px,#79287c 56px,#672485 57px,#361748 58px,#371748 59px,#682485 60px,#7b297b 61px,#5d217a 62px,#331543 63px,#471b60 64px,#77287d 65px,#7c297b 66px,#531e6f 67px,#371748 68px,#592076 69px,#7f2a79 70px,#78287d 71px,#491c63 72px,#3f1954 73px,#692484 74px,#832a77 75px,#6e2682 76px,#431a5a 77px,#4a1c64 78px,#79287c 79px,#852b77 80px,#622380 81px,#411a57 82px,#592076 83px,#842b77 84px,#832a77 85px,#582075 86px,#451b5d 87px,#682484 88px,#892c74 89px,#7d297a 90px,#501e6c 91px,#4d1d69 92px"></i><i style="--g:#0b0410 0px,#000001 2px,#481b61 4px,#481c62 5px,#0f0518 6px,#06020a 7px,#471b60 8px,#60227e 9px,#481c62 10px,#06020a 11px,#11061b 12px,#551f72 13px,#60227e 14px,#39184c 15px,#010001 16px,#260f34 17px,#5d217a 18px,#5d217a 19px,#250f33 20px,#010002 21px,#3c1950 22px,#632381 23px,#582074 24px,#12061d 25px,#09030e 26px,#4e1d69 27px,#672485 28px,#4d1d69 29px,#09030f 30px,#180923 31px,#5d217b 32px,#6a2584 33px,#401a56 34px,#06020a 35px,#311542 36px,#692484 37px,#692484 38px,#321542 39px,#0b0411 40px,#481b61 41px,#722680 42px,#632381 43px,#250f32 44px,#1a0a25 45px,#5b2178 46px,#76277e 47px,#5a2077 48px,#1f0c2c 49px,#321542 50px,#6a2584 51px,#77287d 52px,#4f1d6c 53px,#230e30 54px,#461b5f 55px,#76277e 56px,#75277e 57px,#461b5f 58px,#2c123b 59px,#582075 60px,#7c297b 61px,#6f2681 62px,#3f1954 63px,#39184c 64px,#672485 65px,#7f2979 66px,#662484 67px,#3c184f 68px,#471b60 69px,#77287d 70px,#812a78 71px,#5d217a 72px,#3b184f 73px,#551f72 74px,#802a79 75px,#7f2a79 76px,#541f70 77px,#3f1955 78px,#642382 79px,#862b76 80px,#7a287c 81px,#4c1d67 82px,#471b60 83px,#74277f 84px,#882c75 85px,#712680 86px,#481c61 87px,#531e6f 88px,#812a78 89px,#8a2c74 90px,#662484 91px,#481b61 92px"></i><i style="--g:#0b0411 0px,#09030e 1px,#000000 2px,#1f0c2c 3px,#481b61 4px,#4a1c64 5px,#11061b 6px,#050208 7px,#451b5c 8px,#61227e 9px,#4c1c67 10px,#09030e 11px,#0e0516 12px,#521e6e 13px,#61227e 14px,#3f1954 15px,#020103 16px,#1d0b2a 17px,#5b2178 18px,#60227d 19px,#010001 21px,#622380 23px,#5d217a 24px,#1f0c2b 25px,#040107 26px,#441b5c 27px,#672485 28px,#571f74 29px,#11061a 30px,#0e0515 31px,#551f71 32px,#6b2583 33px,#4d1d69 34px,#0a0310 35px,#200c2c 36px,#622380 37px,#6e2682 38px,#421a59 39px,#0b0411 40px,#6e2682 42px,#6d2582 43px,#39184b 44px,#11061b 45px,#4b1c66 46px,#76277e 47px,#682485 48px,#301440 49px,#220e2f 50px,#5d217a 51px,#79287c 52px,#61227e 53px,#2d133c 54px,#371748 55px,#6a2583 56px,#7a287c 57px,#592076 58px,#2d133c 59px,#461b5f 60px,#77287d 61px,#7b297b 62px,#501e6d 63px,#331543 64px,#561f72 65px,#7e297a 66px,#78287d 67px,#4a1c64 68px,#3b184f 69px,#642382 70px,#822a78 71px,#722780 72px,#451b5c 73px,#441b5c 74px,#73277f 75px,#852b77 76px,#692584 77px,#421a58 78px,#4f1d6b 79px,#7e297a 80px,#862b76 81px,#61227f 82px,#421a59 83px,#5c2179 84px,#862b76 85px,#852b76 86px,#5a2077 87px,#461b5f 88px,#6a2584 89px,#8b2c73 90px,#812a78 91px,#541f70 92px"></i><i style="--g:#0b0411 0px,#09030e 1px,#000000 2px,#1e0c2b 3px,#481b61 4px,#4b1c65 5px,#14071e 6px,#040106 7px,#421a59 8px,#61227e 9px,#4f1d6b 10px,#0b0412 11px,#0b0411 12px,#4e1d6a 13px,#61227f 14px,#451b5c 15px,#040107 16px,#150720 17px,#572074 18px,#61227f 19px,#39184c 20px,#010002 21px,#271036 22px,#60227d 23px,#61227f 24px,#2c123b 25px,#020103 26px,#3a184d 27px,#662484 28px,#5f227c 29px,#1e0c2a 30px,#08030c 31px,#4a1c64 32px,#6c2583 33px,#592076 34px,#13061d 35px,#11061a 36px,#582075 37px,#702681 38px,#511e6d 39px,#100518 40px,#260f33 41px,#652383 42px,#73277f 43px,#491c63 44px,#12061b 45px,#3b184e 46px,#712680 47px,#73277f 48px,#421a59 49px,#1b0a27 50px,#4c1c67 51px,#77287d 52px,#6f2681 53px,#3d1951 54px,#291138 55px,#5b2178 56px,#7b297b 57px,#6a2584 58px,#3a184c 59px,#381749 60px,#682485 61px,#7e297a 62px,#642381 63px,#38184a 64px,#441a5b 65px,#75277e 66px,#802a79 67px,#5e217b 68px,#3a184d 69px,#511e6d 70px,#7e297a 71px,#812a79 72px,#572074 73px,#3d1951 74px,#5d217a 75px,#842b77 76px,#7f297a 77px,#511e6d 78px,#421a59 79px,#692484 80px,#882c75 81px,#7a287c 82px,#4c1d68 83px,#4a1c64 84px,#77287d 85px,#8b2c74 86px,#74277f 87px,#4a1c64 88px,#531e70 89px,#822a78 90px,#8c2d72 91px,#6c2582 92px"></i><i style="--g:#0b0411 0px,#09030e 1px,#000000 2px,#1d0b2a 3px,#481c61 4px,#4c1c67 5px,#160821 6px,#030104 7px,#3f1955 8px,#61227e 9px,#521e6f 10px,#0f0517 11px,#08030c 12px,#4a1c65 13px,#62237f 14px,#4a1c64 15px,#08030c 16px,#0f0517 17px,#531e6f 18px,#622380 19px,#411a57 20px,#030105 21px,#1c0b28 22px,#5c2179 23px,#642382 24px,#39184b 25px,#020104 26px,#2d133d 27px,#642381 28px,#642382 29px,#2e133d 30px,#050207 31px,#3d1952 32px,#6a2583 33px,#622380 34px,#230e30 35px,#0a030f 36px,#4b1c66 37px,#702681 38px,#5e227c 39px,#1d0b29 40px,#160820 41px,#592076 42px,#74277e 43px,#592076 44px,#1b0a27 45px,#291137 46px,#652483 47px,#77287d 48px,#541f70 49px,#1f0c2b 50px,#3b184f 51px,#702681 52px,#78287d 53px,#4f1d6b 54px,#261034 55px,#4a1c64 56px,#78287d 57px,#78287d 58px,#4a1c64 59px,#2e133e 60px,#571f73 61px,#7e297a 62px,#76277e 63px,#461b5f 64px,#38184a 65px,#622380 66px,#822a78 67px,#722780 68px,#441b5c 69px,#411a57 70px,#6e2681 71px,#842b77 72px,#6d2582 73px,#421a59 74px,#4a1c64 75px,#79287c 76px,#872b76 77px,#672485 78px,#421a59 79px,#541f70 80px,#822a78 81px,#882c75 82px,#62237f 83px,#441a5b 84px,#5e217b 85px,#892c75 86px,#882c75 87px,#5d217a 88px,#471b60 89px,#692484 90px,#8d2d72 91px,#862b76 92px"></i><i style="--g:#0b0411 0px,#09030f 1px,#000000 2px,#1d0b29 3px,#481c61 4px,#4d1d68 5px,#190a25 6px,#020103 7px,#3c1950 8px,#61227e 9px,#551f72 10px,#12061c 11px,#050209 12px,#461b5f 13px,#62237f 14px,#4f1d6b 15px,#0b0412 16px,#0a0310 17px,#4e1d69 18px,#622380 19px,#481c62 20px,#07020b 21px,#12061c 22px,#572074 23px,#652383 24px,#431a59 25px,#050207 26px,#1f0c2c 27px,#5f227d 28px,#672485 29px,#3c1950 30px,#050207 31px,#2f143f 32px,#662484 33px,#682484 34px,#07020b 36px,#3d1951 37px,#6e2682 38px,#682485 39px,#30143f 40px,#0e0516 41px,#4a1c65 42px,#74277f 43px,#662484 44px,#2d133c 45px,#1a0a25 46px,#572074 47px,#78287d 48px,#642381 49px,#2c123c 50px,#2a1239 51px,#622380 52px,#7b287b 53px,#61227e 54px,#2f143f 55px,#3a184c 56px,#6d2582 57px,#7d297a 58px,#5d217a 59px,#321542 60px,#451b5c 61px,#76277e 62px,#7f2979 63px,#5a2077 64px,#361747 65px,#4f1d6b 66px,#7d297a 67px,#802a79 68px,#571f73 69px,#3b184e 70px,#5a2077 71px,#832a77 72px,#802a79 73px,#531e70 74px,#3f1954 75px,#632381 76px,#872b75 77px,#7e297a 78px,#501e6c 79px,#451b5c 80px,#6d2582 81px,#8a2c74 82px,#7c297b 83px,#4e1d6a 84px,#4b1c65 85px,#78287d 86px,#8d2d72 87px,#79287c 88px,#4d1d69 89px,#521e6f 90px,#822a78 91px,#8f2d70 92px"></i><i style="--g:#0b0411 0px,#0a030f 1px,#000000 2px,#1c0b28 3px,#481c61 4px,#4e1d6a 5px,#1d0b29 6px,#010002 7px,#39184c 8px,#61227e 9px,#582075 10px,#170822 11px,#030105 12px,#421a58 13px,#622380 14px,#531f70 15px,#100519 16px,#07020a 17px,#481b61 18px,#632380 19px,#4f1d6b 20px,#0c0413 21px,#0c0412 22px,#501e6c 23px,#662484 24px,#4c1c67 25px,#09030f 26px,#13061d 27px,#592075 28px,#692484 29px,#481c61 30px,#08030d 31px,#1f0c2b 32px,#60227e 33px,#6d2582 34px,#441b5c 35px,#09030d 36px,#2c123b 37px,#672485 38px,#6f2681 39px,#411a57 40px,#0d0414 41px,#702681 43px,#712680 44px,#3f1955 45px,#14071e 46px,#471b5f 47px,#76277e 48px,#712680 49px,#3f1954 50px,#200d2d 51px,#521e6e 52px,#7a287c 53px,#712680 54px,#3f1954 55px,#2d133c 56px,#5c2179 57px,#7e297a 58px,#6f2681 59px,#3f1954 60px,#371749 61px,#652382 62px,#812a78 63px,#6e2682 64px,#401955 65px,#3f1955 66px,#6e2682 67px,#842b77 68px,#6c2583 69px,#411a57 70px,#471b60 71px,#77287d 72px,#862b76 73px,#692484 74px,#421a58 75px,#4f1d6b 76px,#7e297a 77px,#882c75 78px,#662484 79px,#431a5a 80px,#561f73 81px,#852b77 82px,#8a2c74 83px,#642382 84px,#451b5e 85px,#5e227b 86px,#8a2c74 87px,#8b2c73 88px,#622380 89px,#491c62 90px,#662484 91px,#8e2d71 92px"></i><i style="--g:#0b0411 0px,#0a030f 1px,#000000 2px,#1b0a26 3px,#481c62 4px,#4f1d6b 5px,#200c2c 6px,#010001 7px,#361748 8px,#60227e 9px,#5a2077 10px,#1d0b29 11px,#020103 12px,#3d1951 13px,#62237f 14px,#582074 15px,#170822 16px,#030105 17px,#421a58 18px,#632380 19px,#551f72 20px,#12061c 21px,#07020b 22px,#491c62 23px,#662484 24px,#551f71 25px,#100519 26px,#0b0412 27px,#501d6c 28px,#6a2584 29px,#531e70 30px,#0f0517 31px,#11061a 32px,#572074 33px,#6e2682 34px,#521e6e 35px,#0e0517 36px,#1a0a26 37px,#5e227c 38px,#722680 39px,#511e6d 40px,#12061b 41px,#281036 42px,#652483 43px,#76277e 44px,#501e6d 45px,#180923 46px,#361747 47px,#6d2582 48px,#78287d 49px,#501e6d 50px,#210d2e 51px,#411a56 52px,#74277f 53px,#7a287c 54px,#511e6d 55px,#2a1139 56px,#4a1c64 57px,#7a287c 58px,#7c297b 59px,#511e6d 60px,#311541 61px,#521e6e 62px,#7e297a 63px,#7d297a 64px,#511e6d 65px,#38174a 66px,#5a2077 67px,#822a78 68px,#7e297a 69px,#511e6e 70px,#3d1952 71px,#61227f 72px,#862b76 73px,#7f2979 74px,#511e6d 75px,#421a58 76px,#682485 77px,#892c74 78px,#7f2a79 79px,#511e6d 80px,#461b5f 81px,#702681 82px,#8c2d72 83px,#7f2a79 84px,#511e6d 85px,#4b1c66 86px,#78287d 87px,#8f2d70 88px,#7f2a79 89px,#511e6e 90px,#511e6d 91px,#7f297a 92px"></i><i style="--g:#0b0412 0px,#0a0310 1px,#000000 2px,#1a0a25 3px,#481c61 4px,#501e6c 5px,#230e30 6px,#000000 7px,#60227d 9px,#5c217a 10px,#230e30 11px,#010001 12px,#381749 13px,#61227f 14px,#5b2178 15px,#1f0c2b 16px,#010002 17px,#3b184e 18px,#622380 19px,#5b2178 20px,#1d0b29 21px,#040106 22px,#401a56 23px,#662483 24px,#5c2179 25px,#1c0b27 26px,#06020a 27px,#461b5e 28px,#6a2584 29px,#5d217a 30px,#1b0a27 31px,#0a0310 32px,#4b1c66 33px,#6e2682 34px,#5e217b 35px,#1b0a27 36px,#0e0516 37px,#521e6e 38px,#722780 39px,#5f227c 40px,#200d2c 41px,#180923 42px,#592076 43px,#77287d 44px,#60227e 45px,#260f33 46px,#240e31 47px,#5f227d 48px,#7a287c 49px,#62237f 50px,#2d133c 51px,#301440 52px,#652483 53px,#7d297a 54px,#632381 55px,#341645 56px,#3a184d 57px,#6c2583 58px,#802a79 59px,#642382 60px,#38184a 61px,#411a57 62px,#722780 63px,#832a78 64px,#652383 65px,#3c1950 66px,#481b61 67px,#78287d 68px,#852b76 69px,#662484 70px,#401955 71px,#4d1d69 72px,#7d297a 73px,#882c75 74px,#672485 75px,#421a59 76px,#521e6f 77px,#822a78 78px,#8a2c74 79px,#672485 80px,#451b5c 81px,#582074 82px,#862b76 83px,#8d2d72 84px,#682485 85px,#471b60 86px,#5d217a 87px,#8b2c74 88px,#8f2d70 89px,#692484 90px,#4a1c65 91px,#62227f 92px"></i><i style="--g:#0b0412 0px,#0a0310 1px,#000000 2px,#190924 3px,#481c61 4px,#511e6d 5px,#000000 7px,#5f227d 9px,#5e227c 10px,#291138 11px,#000000 12px,#60227e 14px,#5e217b 15px,#281036 16px,#000000 17px,#61227f 19px,#5f227c 20px,#281036 21px,#020103 22px,#371748 23px,#642382 24px,#61227f 25px,#2a1138 26px,#040106 27px,#3b184e 28px,#682485 29px,#642381 30px,#2c123b 31px,#06020a 32px,#3e1953 33px,#6c2582 34px,#662484 35px,#2e133d 36px,#09030e 37px,#431a5a 38px,#712680 39px,#6a2584 40px,#341644 41px,#100519 42px,#491c63 43px,#75277e 44px,#6e2682 45px,#39184b 46px,#190a25 47px,#4f1d6b 48px,#79287c 49px,#712680 50px,#3e1953 51px,#250f32 52px,#551f72 53px,#7d297b 54px,#74277f 55px,#431a5b 56px,#2f143e 57px,#5a2077 58px,#802a79 59px,#77287d 60px,#471b60 61px,#361747 62px,#5f227c 63px,#832a78 64px,#7a287c 65px,#4b1c65 66px,#3c184f 67px,#632381 68px,#862b76 69px,#7c297b 70px,#4e1d6a 71px,#401a56 72px,#672485 73px,#892c75 74px,#7f2979 75px,#501e6c 76px,#441a5b 77px,#6b2583 78px,#8b2c73 79px,#812a78 80px,#531e6f 81px,#471b60 82px,#702681 83px,#8e2d71 84px,#842b77 85px,#551f72 86px,#4b1c66 87px,#75277e 88px,#912e6e 89px,#872b76 90px,#582075 91px,#4e1d6a 92px"></i><i style="--g:#0c0412 0px,#0b0410 1px,#000000 2px,#180923 3px,#481c61 4px,#521e6e 5px,#000000 7px,#2a1138 8px,#5e227c 9px,#60227d 10px,#000000 12px,#2a1138 13px,#5f227c 14px,#60227e 15px,#000000 17px,#291137 18px,#5f227c 19px,#62227f 20px,#020103 22px,#2b1239 23px,#61227f 24px,#652383 25px,#38174a 26px,#040106 27px,#2d133c 28px,#642382 29px,#682484 30px,#3b184f 31px,#06020a 32px,#2f143f 33px,#672485 34px,#6d2582 35px,#3f1954 36px,#09030e 37px,#331543 38px,#6a2583 39px,#712680 40px,#451b5c 41px,#100519 42px,#39184b 43px,#6f2681 44px,#76277e 45px,#4b1c65 46px,#190925 47px,#3e1952 48px,#72277f 49px,#7a287c 50px,#501e6d 51px,#240f32 52px,#431a5a 53px,#76277e 54px,#7d297a 55px,#561f73 56px,#2e133e 57px,#481b61 58px,#79287c 59px,#812a79 60px,#5b2178 61px,#361747 62px,#4b1c66 63px,#7c297b 64px,#842b77 65px,#5f227d 66px,#3b184f 67px,#4f1d6b 68px,#7e297a 69px,#872b76 70px,#632381 71px,#401955 72px,#521e6e 73px,#812a78 74px,#8a2c74 75px,#672484 76px,#431a5a 77px,#551f71 78px,#842b77 79px,#8c2d72 80px,#6b2583 81px,#471b5f 82px,#572074 83px,#872b76 84px,#8f2e70 85px,#702681 86px,#4a1c64 87px,#5a2077 88px,#8a2c74 89px,#922e6d 90px,#74277f 91px,#4d1d69 92px"></i><i style="--g:#0c0412 0px,#0b0411 1px,#000000 2px,#170822 3px,#481b61 4px,#531e6f 5px,#000000 7px,#250f33 8px,#5d217a 9px,#61227f 10px,#361747 11px,#010001 12px,#230e30 13px,#5c217a 14px,#62237f 15px,#39184b 16px,#010002 17px,#1f0c2b 18px,#5c2179 19px,#632381 20px,#3d1952 21px,#030105 22px,#1e0c2b 23px,#5d217a 24px,#672485 25px,#431a5a 26px,#06020a 27px,#1e0c2a 28px,#5e227b 29px,#6b2583 30px,#481c62 31px,#0a030f 32px,#1e0c2a 33px,#5f227d 34px,#702681 35px,#4e1d6a 36px,#0e0516 37px,#200c2c 38px,#61227e 39px,#74277f 40px,#551f71 41px,#180923 42px,#260f33 43px,#622380 44px,#78287d 45px,#5c2179 46px,#240e31 47px,#2c123b 48px,#642382 49px,#7c297b 50px,#622380 51px,#301440 52px,#331644 53px,#662484 54px,#802a79 55px,#692484 56px,#3a184d 57px,#39184b 58px,#682485 59px,#822a78 60px,#6f2681 61px,#401a56 62px,#3c1950 63px,#692484 64px,#852b76 65px,#75277e 66px,#471b60 67px,#401a56 68px,#6b2583 69px,#882c75 70px,#7b297b 71px,#4c1d68 72px,#431a5a 73px,#6c2583 74px,#8b2c73 75px,#802a79 76px,#511e6e 77px,#451b5d 78px,#6d2582 79px,#8d2d71 80px,#852b76 81px,#561f73 82px,#481b61 83px,#6e2682 84px,#902e6f 85px,#8a2c74 86px,#5c2179 87px,#4b1c65 88px,#6f2681 89px,#922f6d 90px,#8e2d71 91px,#60227e 92px"></i><i style="--g:#0c0412 0px,#0b0411 1px,#000000 2px,#160821 3px,#481b61 4px,#531e70 5px,#301440 6px,#010001 7px,#210d2e 8px,#5c2179 9px,#622380 10px,#3b184e 11px,#020103 12px,#1c0a27 13px,#5a2077 14px,#632381 15px,#401955 16px,#030105 17px,#160820 18px,#572074 19px,#652382 20px,#461b5e 21px,#07020b 22px,#13061d 23px,#571f73 24px,#682485 25px,#4d1d68 26px,#0c0412 27px,#11061b 28px,#561f72 29px,#6c2582 30px,#541f71 31px,#11061b 32px,#10051a 33px,#541f71 34px,#702680 35px,#5b2178 36px,#1a0a26 37px,#11061b 38px,#541f70 39px,#74277e 40px,#632381 41px,#281137 42px,#170922 43px,#541f70 44px,#78287d 45px,#6b2583 46px,#371748 47px,#1f0c2c 48px,#541f71 49px,#7c297b 50px,#73277f 51px,#411a57 52px,#281036 53px,#551f72 54px,#7f297a 55px,#7a287c 56px,#4b1c65 57px,#301440 58px,#551f72 59px,#802a79 60px,#7f2979 61px,#531e6f 62px,#371748 63px,#551f72 64px,#822a78 65px,#842b77 66px,#5b2178 67px,#3c1950 68px,#561f72 69px,#832a77 70px,#882b75 71px,#62237f 72px,#411a57 73px,#551f72 74px,#842b77 75px,#8b2c73 76px,#692484 77px,#451b5d 78px,#551f72 79px,#852b76 80px,#8f2d70 81px,#712680 82px,#4a1c63 83px,#551f72 84px,#862b76 85px,#922e6e 86px,#79287c 87px,#4e1d6a 88px,#561f72 89px,#862b76 90px,#942f6b 91px,#812a79 92px"></i><i style="--g:#0c0412 0px,#0b0412 1px,#000000 2px,#150720 3px,#471b60 4px,#541f70 5px,#341644 6px,#010002 7px,#1c0b28 8px,#5a2077 9px,#632381 10px,#401955 11px,#030105 12px,#15071f 13px,#561f73 14px,#642381 15px,#461b5f 16px,#06020a 17px,#0f0517 18px,#521e6e 19px,#652383 20px,#4e1d6a 21px,#0c0413 22px,#0c0413 23px,#4f1d6b 24px,#682484 25px,#561f73 26px,#14071e 27px,#0a0310 28px,#4b1c66 29px,#6c2582 30px,#5e227c 31px,#200d2d 32px,#0a030f 33px,#471b60 34px,#702681 35px,#662484 36px,#2d133c 37px,#0c0412 38px,#441b5c 39px,#722780 40px,#6e2681 41px,#12061c 43px,#431a5a 44px,#74277f 45px,#76277e 46px,#481c61 47px,#1d0b29 48px,#421a59 49px,#75277e 50px,#7c297b 51px,#541f70 52px,#291138 53px,#431a5a 54px,#76277e 55px,#812a78 56px,#5f227c 57px,#351645 58px,#431a5a 59px,#75277e 60px,#842b77 61px,#672485 62px,#3d1951 63px,#431a5a 64px,#73277f 65px,#872b75 66px,#722680 67px,#451b5d 68px,#451b5c 69px,#712680 70px,#8a2c74 71px,#7b297b 72px,#4c1d68 73px,#451b5d 74px,#6f2681 75px,#8d2d72 76px,#832a78 77px,#541f71 78px,#461b5f 79px,#6c2582 80px,#8f2e70 81px,#8a2c74 82px,#5c2179 83px,#481c62 84px,#6a2584 85px,#912e6e 86px,#8f2e70 87px,#642382 88px,#4b1c66 89px,#672485 90px,#922f6d 91px,#942f6c 92px"></i><i style="--g:#0c0413 0px,#0c0412 1px,#000000 2px,#14071e 3px,#471b60 4px,#551f71 5px,#371748 6px,#020103 7px,#180923 8px,#582074 9px,#642381 10px,#441b5c 11px,#060209 12px,#100518 13px,#521e6e 14px,#642382 15px,#4c1d67 16px,#0b0411 17px,#0a030f 18px,#4b1c66 19px,#652383 20px,#551f72 21px,#13071e 22px,#07020b 23px,#461b5e 24px,#682484 25px,#5e227b 26px,#220e2f 27px,#06020a 28px,#401955 29px,#6b2583 30px,#662484 31px,#321542 32px,#07020b 33px,#6b2583 35px,#6e2682 36px,#3f1954 37px,#0b0412 38px,#341644 39px,#6b2583 40px,#75277e 41px,#4d1d68 42px,#160821 43px,#311541 44px,#692484 45px,#7a287c 46px,#5a2077 47px,#260f33 48px,#311542 49px,#672485 50px,#7f297a 51px,#662484 52px,#361748 53px,#341645 54px,#642382 55px,#822a78 56px,#73277f 57px,#421a59 58px,#371748 59px,#61227f 60px,#852b77 61px,#7c297b 62px,#4d1d68 63px,#3a184c 64px,#5e217b 65px,#862b76 66px,#842b77 67px,#582075 68px,#3e1953 69px,#5b2178 70px,#872b76 71px,#8a2c74 72px,#622380 73px,#421a59 74px,#572074 75px,#862b76 76px,#8e2d71 77px,#6d2582 78px,#481b61 79px,#551f71 80px,#852b76 81px,#912e6e 82px,#7a287c 83px,#4e1d6a 84px,#531e6f 85px,#832a78 86px,#942f6b 87px,#852b77 88px,#561f72 89px,#521e6e 90px,#7f2a79 91px,#973069 92px"></i><i style="--g:#0c0413 0px,#0c0412 1px,#000000 2px,#13061d 3px,#471b60 4px,#551f72 5px,#3a184c 6px,#030105 7px,#14071e 8px,#551f72 9px,#642382 10px,#491c62 11px,#08030d 12px,#0c0412 13px,#4d1d69 14px,#642382 15px,#521e6e 16px,#100519 17px,#060209 18px,#441b5b 19px,#652383 20px,#5b2178 21px,#1f0c2c 22px,#040106 23px,#3c1850 24px,#662484 25px,#642382 26px,#050208 28px,#662484 30px,#6b2583 31px,#411a57 32px,#09030e 33px,#271036 34px,#642381 35px,#722780 36px,#4f1d6b 37px,#11061a 38px,#210d2d 39px,#60227d 40px,#77287d 41px,#5e217b 42px,#230e31 43px,#200d2d 44px,#5b2178 45px,#7b297b 46px,#6b2583 47px,#381749 48px,#240e31 49px,#561f73 50px,#7e297a 51px,#78287d 52px,#471b60 53px,#2c123a 54px,#521e6f 55px,#802a79 56px,#812a78 57px,#561f72 58px,#341645 59px,#4e1d69 60px,#7f297a 61px,#872b76 62px,#632380 63px,#3c1950 64px,#4a1c65 65px,#7c297b 66px,#8a2c74 67px,#712680 68px,#461b5e 69px,#491c62 70px,#77287d 71px,#8d2d71 72px,#7e297a 73px,#4f1d6b 74px,#471b60 75px,#712680 76px,#902e6f 77px,#892c75 78px,#5a2077 79px,#481c61 80px,#6b2583 81px,#922e6e 82px,#902e6f 83px,#652383 84px,#4b1c65 85px,#652383 86px,#922f6d 87px,#96306a 88px,#73277f 89px,#4f1d6b 90px,#61227f 91px,#912e6e 92px"></i><i style="--g:#0c0413 0px,#0c0413 1px,#000000 2px,#12061c 3px,#461b5f 4px,#561f73 5px,#3c1950 6px,#040106 7px,#11061a 8px,#521e6f 9px,#642382 10px,#4d1d68 11px,#0c0412 12px,#08030d 13px,#481c62 14px,#642382 15px,#572074 16px,#180923 17px,#030104 18px,#3c1950 19px,#642382 20px,#60227e 21px,#2c123b 22px,#030104 23px,#632381 25px,#682485 26px,#3f1954 27px,#07020b 28px,#220e30 29px,#60227d 30px,#6e2681 31px,#4e1d6a 32px,#0f0517 33px,#170822 34px,#592076 35px,#73277f 36px,#5d217b 37px,#200c2c 38px,#13061d 39px,#511e6e 40px,#77287d 41px,#6c2583 42px,#381749 43px,#170822 44px,#4a1c65 45px,#79287c 46px,#79287c 47px,#4a1c64 48px,#220d2f 49px,#451b5c 50px,#78287d 51px,#812a78 52px,#5c2179 53px,#311441 54px,#411a57 55px,#75277e 56px,#862b76 57px,#6c2583 58px,#3e1953 59px,#3e1953 60px,#6d2582 61px,#8a2c74 62px,#7b297b 63px,#4b1c66 64px,#3f1953 65px,#662484 66px,#8c2d73 67px,#872b75 68px,#592076 69px,#421a58 70px,#60227d 71px,#8c2d72 72px,#8e2d70 73px,#672485 74px,#461b5f 75px,#5a2077 76px,#8b2c73 77px,#932f6c 78px,#78287d 79px,#4d1d69 80px,#551f72 81px,#862b76 82px,#973069 83px,#872b75 84px,#582074 85px,#531e6f 86px,#802a79 87px,#9a3167 88px,#922f6d 89px,#632381 90px,#531e6f 91px,#78287d 92px"></i><i style="--g:#0c0413 0px,#0c0413 1px,#000000 2px,#11061a 3px,#461b5e 4px,#561f73 5px,#3f1954 6px,#050209 7px,#0e0516 8px,#4f1d6b 9px,#642382 10px,#511e6d 11px,#0f0518 12px,#050208 13px,#431a5a 14px,#642382 15px,#5c2179 16px,#210d2e 17px,#010002 18px,#622380 20px,#642381 21px,#38184a 22px,#040106 23px,#230e30 24px,#5e227c 25px,#6a2584 26px,#4a1c64 27px,#0c0412 28px,#14071f 29px,#571f73 30px,#6f2681 31px,#5b2178 32px,#1c0b27 33px,#0e0515 34px,#4c1c67 35px,#73277f 36px,#692484 37px,#341645 38px,#0e0516 39px,#421a58 40px,#73277f 41px,#76287e 42px,#4a1c64 43px,#190924 44px,#3a184c 45px,#702681 46px,#7e297a 47px,#5e217b 48px,#2c123a 49px,#351746 50px,#692484 51px,#842b77 52px,#712680 53px,#3f1955 54px,#351746 55px,#61227f 56px,#882b75 57px,#812a78 58px,#501e6c 59px,#38174a 60px,#592076 61px,#882b75 62px,#8b2c74 63px,#61227f 64px,#3f1954 65px,#521e6e 66px,#842b77 67px,#902e6f 68px,#75277e 69px,#491c63 70px,#4d1d69 71px,#7e297a 72px,#932f6c 73px,#862b76 74px,#551f72 75px,#4b1c65 76px,#75277e 77px,#96306a 78px,#922e6e 79px,#642381 80px,#4c1d68 81px,#6b2583 82px,#963069 83px,#993167 84px,#77287d 85px,#521e6e 86px,#632381 87px,#942f6b 88px,#9e3263 89px,#8a2c74 90px,#5b2178 91px,#5e227b 92px"></i><i style="--g:#0c0413 0px,#0c0413 1px,#000001 2px,#100519 3px,#451b5d 4px,#572074 5px,#411a57 6px,#07020b 7px,#0c0412 8px,#4c1d67 9px,#642382 10px,#551f71 11px,#14071f 12px,#030105 13px,#3d1951 14px,#632381 15px,#5f227c 16px,#010001 18px,#291137 19px,#5f227d 20px,#662484 21px,#421a59 22px,#07020b 23px,#160821 24px,#572074 25px,#6b2583 26px,#551f71 27px,#14071e 28px,#0c0413 29px,#4b1c66 30px,#6f2681 31px,#642382 32px,#2e133d 33px,#0a030f 34px,#3d1952 35px,#6f2681 36px,#722780 37px,#451b5e 38px,#100519 39px,#301440 40px,#692484 41px,#7b287b 42px,#5c2179 43px,#250f32 44px,#281137 45px,#61227e 46px,#802a79 47px,#712680 48px,#3d1952 49px,#291137 50px,#572074 51px,#832a77 52px,#812a78 53px,#531e6f 54px,#321542 55px,#4e1d6a 56px,#822a78 57px,#8b2c73 58px,#672485 59px,#3d1952 60px,#471b60 61px,#7a287c 62px,#8f2d70 63px,#7d297a 64px,#4c1c67 65px,#441a5b 66px,#6f2681 67px,#922e6e 68px,#8c2d72 69px,#5d217b 70px,#461b5e 71px,#642382 72px,#922e6d 73px,#95306b 74px,#712680 75px,#4c1c67 76px,#5c2179 77px,#8e2d70 78px,#9a3166 79px,#872b76 80px,#572074 81px,#561f73 82px,#872b76 83px,#9e3263 84px,#96306a 85px,#662484 86px,#551f72 87px,#7c297b 88px,#a03361 89px,#a03362 90px,#7c297b 91px,#592076 92px"></i><i style="--g:#0c0413 0px,#0d0414 1px,#010001 2px,#0f0518 3px,#451b5d 4px,#582074 5px,#441a5b 6px,#09030e 7px,#09030f 8px,#491c62 9px,#642382 10px,#582075 11px,#1b0a27 12px,#020102 13px,#371748 14px,#622380 15px,#62237f 16px,#361747 17px,#020103 18px,#1e0c2a 19px,#5b2178 20px,#672485 21px,#4b1c66 22px,#0c0413 23px,#0e0515 24px,#4e1d6a 25px,#6b2583 26px,#5e217b 27px,#230e30 28px,#08030c 29px,#3f1954 30px,#6c2583 31px,#6c2582 32px,#3f1954 33px,#0b0411 34px,#2c123b 35px,#662484 36px,#76277e 37px,#561f73 38px,#1a0a26 39px,#1f0c2b 40px,#5c2179 41px,#7c297b 42px,#6c2583 43px,#38184a 44px,#1e0c2a 45px,#501d6c 46px,#7e297a 47px,#7e297a 48px,#511e6d 49px,#281137 50px,#451b5d 51px,#7b297b 52px,#882c75 53px,#682484 54px,#3b184f 55px,#3f1953 56px,#702680 57px,#8d2d71 58px,#802a79 59px,#4d1d69 60px,#3d1951 61px,#632381 62px,#8f2d70 63px,#8e2d70 64px,#622380 65px,#421a59 66px,#582075 67px,#8c2d73 68px,#95306a 69px,#7b297b 70px,#4e1d69 71px,#511e6d 72px,#832a77 73px,#993167 74px,#8f2e70 75px,#5e217b 76px,#4e1d6a 77px,#76277e 78px,#9c3265 79px,#9b3165 80px,#74277f 81px,#531e6f 82px,#682484 83px,#9a3167 84px,#a23460 85px,#8c2d72 86px,#5d217b 87px,#61227f 88px,#932f6c 89px,#a6355c 90px,#9d3264 91px,#6f2681 92px"></i><i style="--g:#0c0413 0px,#0d0414 1px,#010001 2px,#0f0517 3px,#441b5c 4px,#582075 5px,#461b5f 6px,#0b0411 7px,#07020b 8px,#451b5d 9px,#642382 10px,#5b2178 11px,#220e2f 12px,#010001 13px,#60227d 15px,#642381 16px,#3e1952 17px,#040107 18px,#14071e 19px,#551f71 20px,#672485 21px,#541f70 22px,#14071e 23px,#08030d 24px,#441b5c 25px,#6a2584 26px,#652382 27px,#07020b 29px,#301440 30px,#662484 31px,#712680 32px,#4d1d69 33px,#100519 34px,#1b0a27 35px,#5b2178 36px,#77287d 37px,#642382 38px,#2d133c 39px,#14071e 40px,#4c1c66 41px,#7a287c 42px,#79287c 43px,#4a1c65 44px,#1e0c2a 45px,#3e1953 46px,#75277e 47px,#842b77 48px,#652383 49px,#351746 50px,#361747 51px,#682485 52px,#8a2c74 53px,#7f2a79 54px,#4c1d68 55px,#371748 56px,#5b2178 57px,#8b2c73 58px,#8e2d71 59px,#642382 60px,#3f1954 61px,#4f1d6b 62px,#842b77 63px,#942f6c 64px,#802a79 65px,#4e1d6a 66px,#491c62 67px,#77287d 68px,#983069 69px,#932f6d 70px,#632381 71px,#4a1c64 72px,#662484 73px,#973069 74px,#9c3264 75px,#7f2979 76px,#531e70 77px,#5d217a 78px,#902e6f 79px,#a13360 80px,#952f6b 81px,#642381 82px,#582075 83px,#842b77 84px,#a4345e 85px,#a3345f 86px,#7d297a 87px,#5c2179 88px,#76277e 89px,#a3345f 90px,#aa3659 91px,#95306a 92px"></i><i style="--g:#0c0413 0px,#0d0414 1px,#010001 2px,#0e0516 3px,#431a5b 4px,#582075 5px,#491c62 6px,#0d0414 7px,#050208 8px,#411a57 9px,#642381 10px,#5e217b 11px,#2a1138 12px,#010001 13px,#261034 14px,#5d217a 15px,#652383 16px,#451b5d 17px,#08030d 18px,#0d0415 19px,#4e1d69 20px,#682485 21px,#5b2178 22px,#200d2d 23px,#050208 24px,#39184c 25px,#672485 26px,#6a2584 27px,#411a57 28px,#09030f 29px,#200c2c 30px,#5e217b 31px,#722780 32px,#5b2178 33px,#1e0c2a 34px,#100519 35px,#4c1d67 36px,#76277e 37px,#712680 38px,#401956 39px,#12061c 40px,#3b184e 41px,#712680 42px,#7f2979 43px,#5e217b 44px,#291138 45px,#2e133d 46px,#642381 47px,#862b76 48px,#7a287c 49px,#461b5f 50px,#2d133c 51px,#551f71 52px,#872b75 53px,#8c2c73 54px,#632380 55px,#3a184d 56px,#481c61 57px,#7e297a 58px,#922e6d 59px,#802a79 60px,#4d1d68 61px,#421a59 62px,#6c2582 63px,#952f6b 64px,#932f6c 65px,#662483 66px,#461b5f 67px,#5d217a 68px,#912e6e 69px,#9b3165 70px,#852b77 71px,#541f71 72px,#541f70 73px,#862b76 74px,#a03362 75px,#993167 76px,#6a2584 77px,#531e6f 78px,#74277e 79px,#a03361 80px,#a5345e 81px,#892c75 82px,#5c2179 83px,#662484 84px,#993167 85px,#aa3659 86px,#9f3263 87px,#702681 88px,#62227f 89px,#8d2d71 90px,#ac3757 91px,#ac3758 92px"></i><i style="--g:#0c0413 0px,#0d0414 1px,#010001 2px,#0d0414 3px,#431a59 4px,#592076 5px,#4b1c66 6px,#0f0518 7px,#040106 8px,#3d1952 9px,#632380 10px,#60227d 11px,#010002 13px,#1e0c2a 14px,#592076 15px,#662483 16px,#4c1d68 17px,#0d0415 18px,#09030d 19px,#461b5e 20px,#672485 21px,#61227f 22px,#040107 24px,#2c123b 25px,#622380 26px,#6d2582 27px,#4d1d69 28px,#0f0518 29px,#12061c 30px,#521e6f 31px,#722780 32px,#662484 33px,#311541 34px,#0c0413 35px,#3d1951 36px,#702681 37px,#78287d 38px,#521e6e 39px,#1a0a26 40px,#291137 41px,#632380 42px,#802a79 43px,#702681 44px,#3c1950 45px,#230e31 46px,#511e6e 47px,#832a78 48px,#862b76 49px,#5b2178 50px,#311541 51px,#431a59 52px,#79287c 53px,#8f2e70 54px,#7d297b 55px,#491c62 56px,#3c1950 57px,#662484 58px,#922e6d 59px,#912e6e 60px,#642382 61px,#421a58 62px,#561f72 63px,#8c2d72 64px,#9a3167 65px,#862b76 66px,#531e6f 67px,#4d1d68 68px,#7c297b 69px,#9d3264 70px,#9a3166 71px,#6e2682 72px,#4f1d6b 73px,#672485 74px,#9b3166 75px,#a4345e 76px,#8e2d70 77px,#5d217a 78px,#5d217a 79px,#8f2e70 80px,#a8355a 81px,#a3345f 82px,#78287d 83px,#5d217a 84px,#7e297a 85px,#a8355b 86px,#ad3857 87px,#96306a 88px,#682484 89px,#6f2681 90px,#a03362 91px,#b23a54 92px"></i><i style="--g:#0c0413 0px,#0d0415 1px,#010002 2px,#0c0413 3px,#421a58 4px,#592076 5px,#4d1d69 6px,#12061c 7px,#020104 8px,#39184c 9px,#62237f 10px,#62227f 11px,#38184a 12px,#030104 13px,#160821 14px,#551f71 15px,#662484 16px,#531e6f 17px,#14071e 18px,#050208 19px,#3d1951 20px,#662483 21px,#652383 22px,#3b184e 23px,#06020a 24px,#1e0b2a 25px,#5b2178 26px,#6d2582 27px,#592075 28px,#1c0b27 29px,#0c0412 30px,#451b5d 31px,#702681 32px,#6f2681 33px,#421a59 34px,#0e0516 35px,#2b123a 36px,#652383 37px,#7a287c 38px,#622380 39px,#2b123a 40px,#1c0b27 41px,#521e6f 42px,#7f2979 43px,#7e297a 44px,#4f1d6b 45px,#240f32 46px,#401955 47px,#77287d 48px,#8a2c74 49px,#722780 50px,#401955 51px,#361748 52px,#632381 53px,#8f2d70 54px,#8d2d71 55px,#5f227c 56px,#3c1850 57px,#511e6d 58px,#892c75 59px,#973069 60px,#822a78 61px,#4f1d6b 62px,#471b60 63px,#75277e 64px,#9b3166 65px,#993168 66px,#6c2582 67px,#4b1c65 68px,#60227e 69px,#96306a 70px,#a23360 71px,#902e6f 72px,#5d217a 73px,#561f73 74px,#862b76 75px,#a6355d 76px,#a4345e 77px,#7d297b 78px,#592076 79px,#712680 80px,#a23360 81px,#ac3757 82px,#9c3165 83px,#6b2583 84px,#652383 85px,#952f6b 86px,#b03955 87px,#ae3856 88px,#682484 90px,#842b77 91px,#ad3857 92px"></i><i style="--g:#0c0413 0px,#0d0415 1px,#010002 2px,#0c0412 3px,#411a57 4px,#5a2077 5px,#501d6c 6px,#160820 7px,#010002 8px,#351645 9px,#60227e 10px,#632381 11px,#3e1952 12px,#050208 13px,#100519 14px,#4f1d6b 15px,#662484 16px,#592076 17px,#1e0c2b 18px,#030105 19px,#632380 21px,#682485 22px,#461b5e 23px,#0b0410 24px,#11061b 25px,#511e6e 26px,#6e2682 27px,#62237f 28px,#2c123b 29px,#09030e 30px,#6a2584 32px,#74277f 33px,#521e6e 34px,#160821 35px,#1a0a26 36px,#582074 37px,#7b287b 38px,#712680 39px,#3f1954 40px,#180923 41px,#411a57 42px,#77287d 43px,#842b77 44px,#632381 45px,#321542 46px,#301440 47px,#632381 48px,#8b2c73 49px,#852b76 50px,#531f70 51px,#331644 52px,#4f1d6b 53px,#872b76 54px,#932f6c 55px,#7a287c 56px,#481b61 57px,#421a59 58px,#712680 59px,#983068 60px,#95306a 61px,#662484 62px,#451b5d 63px,#5b2178 64px,#922e6d 65px,#9f3362 66px,#8d2d71 67px,#592076 68px,#501e6c 69px,#7e297a 70px,#a3345f 71px,#a3345f 72px,#7d297b 73px,#551f72 74px,#672485 75px,#9c3265 76px,#ab3658 77px,#9d3264 78px,#6c2583 79px,#5e227c 80px,#8b2c73 81px,#ad3857 82px,#ae3856 83px,#912e6e 84px,#662484 85px,#77287d 86px,#a7355c 87px,#b53b51 88px,#ac3758 89px,#832a78 90px,#6f2681 91px,#973069 92px"></i><i style="--g:#0c0413 0px,#0e0515 1px,#010002 2px,#0b0411 3px,#401955 4px,#5a2077 5px,#521e6e 6px,#1a0a25 7px,#010001 8px,#5f227c 10px,#642382 11px,#431a5a 12px,#08030c 13px,#0c0412 14px,#4a1c64 15px,#662484 16px,#5e217b 17px,#2a1138 18px,#030104 19px,#271036 20px,#5e227c 21px,#6a2584 22px,#4f1d6c 23px,#11061b 24px,#0b0411 25px,#471b5f 26px,#6c2582 27px,#692484 28px,#3c1950 29px,#0a0310 30px,#260f34 31px,#61227e 32px,#75277e 33px,#60227d 34px,#271035 35px,#11061a 36px,#481b61 37px,#77287d 38px,#7b287b 39px,#511e6d 40px,#1e0c2b 41px,#30143f 42px,#672484 43px,#852b76 44px,#78287d 45px,#441a5b 46px,#281036 47px,#501d6c 48px,#852b76 49px,#8e2d71 50px,#6b2583 51px,#3d1951 52px,#3f1954 53px,#722680 54px,#952f6b 55px,#8f2e70 56px,#5d217a 57px,#3f1954 58px,#592076 59px,#902e6f 60px,#9c3265 61px,#872b75 62px,#521e6f 63px,#4b1c66 64px,#7a287c 65px,#a03361 66px,#9f3362 67px,#77287d 68px,#501e6c 69px,#61227f 70px,#983068 71px,#a8365a 72px,#9c3265 73px,#682484 74px,#592076 75px,#832a77 76px,#aa3659 77px,#ad3857 78px,#912e6e 79px,#632381 80px,#6c2582 81px,#a03362 82px,#b33a53 83px,#ad3757 84px,#852b76 85px,#682484 86px,#8c2d72 87px,#b33a53 88px,#b83d4f 89px,#a7355c 90px,#7d297a 91px,#7c297b 92px"></i><i style="--g:#0c0413 0px,#0e0515 1px,#020103 2px,#0a0310 3px,#3f1954 4px,#5a2077 5px,#541f70 6px,#1e0c2a 7px,#000000 8px,#291138 9px,#5d217a 10px,#642382 11px,#481c62 12px,#0b0412 13px,#08030c 14px,#431a5a 15px,#652383 16px,#62227f 17px,#040106 19px,#1c0b28 20px,#582075 21px,#6a2583 22px,#592075 23px,#1d0b2a 24px,#07020b 25px,#3b184e 26px,#682485 27px,#6e2682 28px,#4a1c64 29px,#0f0518 30px,#170822 31px,#551f71 32px,#75277e 33px,#6b2583 34px,#0f0518 36px,#371749 37px,#6d2582 38px,#7e297a 39px,#632380 40px,#2e133e 41px,#210d2e 42px,#551f72 43px,#842b77 44px,#852b77 45px,#582075 46px,#2d133c 47px,#3e1953 48px,#75277e 49px,#902e6f 50px,#832a77 51px,#4e1d6a 52px,#38174a 53px,#5a2077 54px,#902e6f 55px,#983068 56px,#7a287c 57px,#491c63 58px,#481b61 59px,#7a287c 60px,#9d3264 61px,#9a3166 62px,#6c2583 63px,#4a1c64 64px,#5e227c 65px,#96306a 66px,#a5355d 67px,#973069 68px,#622380 69px,#531f70 70px,#7e297a 71px,#a7355b 72px,#ab3658 73px,#8e2d71 74px,#5f227c 75px,#652383 76px,#9b3166 77px,#b13954 78px,#ac3758 79px,#832a77 80px,#632381 81px,#832a77 82px,#af3856 83px,#b73c50 84px,#a8355b 85px,#7b297b 86px,#73277f 87px,#9f3362 88px,#ba3e4d 89px,#bb3e4d 90px,#a03361 91px,#7b297b 92px"></i><i style="--g:#0c0413 0px,#0e0516 1px,#020103 2px,#09030f 3px,#3e1952 4px,#5b2178 5px,#561f73 6px,#230e30 7px,#000000 8px,#230e31 9px,#5a2077 10px,#652383 11px,#4d1d69 12px,#100518 13px,#050208 14px,#3d1951 15px,#642382 16px,#642382 17px,#3e1953 18px,#07020b 19px,#11061b 20px,#501e6d 21px,#6a2583 22px,#60227d 23px,#2c123b 24px,#060209 25px,#2c123b 26px,#62237f 27px,#702681 28px,#571f73 29px,#1b0a27 30px,#0e0516 31px,#471b5f 32px,#72277f 33px,#74277f 34px,#4b1c66 35px,#15071f 36px,#250f32 37px,#5f227d 38px,#7f2979 39px,#74277f 40px,#411a58 41px,#1d0b29 42px,#431a5a 43px,#7a287c 44px,#892c74 45px,#6e2682 46px,#3c1950 47px,#311541 48px,#5f227c 49px,#8e2d70 50px,#902e6f 51px,#652483 52px,#3d1951 53px,#471b60 54px,#7e297a 55px,#9a3167 56px,#922e6d 57px,#5e217b 58px,#431a5a 59px,#5f227c 60px,#96306a 61px,#a13360 62px,#8e2d71 63px,#582075 64px,#4f1d6b 65px,#7d297a 66px,#a5345d 67px,#a7355c 68px,#852b76 69px,#582074 70px,#61227f 71px,#983068 72px,#ae3856 73px,#a8355a 74px,#7c297b 75px,#5d217b 76px,#7d297a 77px,#ac3758 78px,#b53b52 79px,#a5355d 80px,#77287d 81px,#6b2583 82px,#993168 83px,#b83d4f 84px,#b93d4e 85px,#a03361 86px,#77287d 87px,#832a77 88px,#af3856 89px,#c0404a 90px,#bb3e4d 91px,#9a3166 92px"></i><i style="--g:#0c0413 0px,#0e0516 1px,#020103 2px,#09030d 3px,#3d1951 4px,#5b2178 5px,#582075 6px,#271035 7px,#000000 8px,#1e0b2a 9px,#572074 10px,#652383 11px,#521e6f 12px,#160820 13px,#030105 14px,#62227f 16px,#662484 17px,#471b5f 18px,#0b0412 19px,#0c0412 20px,#481b61 21px,#692584 22px,#652483 23px,#3a184d 24px,#08030c 25px,#1d0b29 26px,#592076 27px,#702680 28px,#61227f 29px,#2d133c 30px,#0b0411 31px,#6b2583 33px,#78287d 34px,#5b2178 35px,#230e31 36px,#170922 37px,#4f1d6b 38px,#7c297b 39px,#7f297a 40px,#551f71 41px,#250f32 42px,#331543 43px,#672485 44px,#8a2c74 45px,#822a78 46px,#4f1d6b 47px,#2e133e 48px,#4b1c65 49px,#832a77 50px,#942f6b 51px,#822a78 52px,#4c1d68 53px,#3d1951 54px,#642381 55px,#963069 56px,#9c3265 57px,#7d297a 58px,#4c1c67 59px,#4c1d68 60px,#812a79 61px,#a3345f 62px,#a13361 63px,#76277e 64px,#4f1d6b 65px,#60227d 66px,#983168 67px,#ab3758 68px,#a23360 69px,#702681 70px,#572074 71px,#7a287c 72px,#aa3659 73px,#b23a54 74px,#9f3362 75px,#6d2582 76px,#652382 77px,#952f6b 78px,#b53b51 79px,#b73c50 80px,#9c3265 81px,#702681 82px,#7b297b 83px,#ab3658 84px,#bd3f4b 85px,#ba3d4e 86px,#7a287c 88px,#942f6c 89px,#ba3e4e 90px,#c44347 91px,#ba3e4e 92px"></i><i style="--g:#0c0413 0px,#0e0516 1px,#020104 2px,#08030c 3px,#3b184f 4px,#5b2178 5px,#5a2077 6px,#010001 8px,#180923 9px,#541f70 10px,#652383 11px,#571f73 12px,#1e0b2a 13px,#020103 14px,#5e227c 16px,#672485 17px,#4e1d6a 18px,#11061b 19px,#07020b 20px,#3e1953 21px,#672485 22px,#6a2584 23px,#461b5e 24px,#0c0413 25px,#11061a 26px,#4e1d6a 27px,#702681 28px,#6a2584 29px,#3d1952 30px,#0d0414 31px,#261034 32px,#60227d 33px,#79287c 34px,#692484 35px,#371749 36px,#12061c 37px,#73277f 39px,#832a78 40px,#672485 41px,#361747 42px,#250f33 43px,#551f71 44px,#872b76 45px,#8c2d72 46px,#652483 47px,#39184b 48px,#3b184e 49px,#6d2582 50px,#942f6b 51px,#922f6d 52px,#642381 53px,#3f1954 54px,#4f1d6b 55px,#882c75 56px,#9f3362 57px,#96306a 58px,#61227f 59px,#471b5f 60px,#632380 61px,#9a3166 62px,#a7355b 63px,#96306a 64px,#60227e 65px,#521e6e 66px,#7d297a 67px,#a9365a 68px,#ae3856 69px,#952f6b 70px,#62227f 71px,#61227e 72px,#952f6b 73px,#b33a53 74px,#b33a53 75px,#932f6d 76px,#662484 77px,#76277e 78px,#a9365a 79px,#bb3e4d 80px,#b63c51 81px,#922e6e 82px,#712680 83px,#8e2d70 84px,#b73c50 85px,#c24148 86px,#b83d4f 87px,#922f6d 88px,#812a78 89px,#c34247 91px,#c74545 92px"></i><i style="--g:#0c0413 0px,#0f0517 1px,#030104 2px,#07020b 3px,#3a184d 4px,#5b2178 5px,#5b2178 6px,#020102 8px,#13061d 9px,#501e6c 10px,#652383 11px,#5a2077 12px,#260f34 13px,#020103 14px,#220e2f 15px,#5a2077 16px,#682485 17px,#561f73 18px,#1c0b28 19px,#050207 20px,#632381 22px,#6c2583 23px,#511e6d 24px,#15071f 25px,#0b0411 26px,#421a58 27px,#6c2582 28px,#702681 29px,#4c1c67 30px,#13061d 31px,#170822 32px,#521e6f 33px,#78287d 34px,#75277e 35px,#491c62 36px,#170822 37px,#2c123b 38px,#632381 39px,#832a77 40px,#7a287c 41px,#481c62 42px,#230e31 43px,#421a59 44px,#7a287c 45px,#8f2d70 46px,#7e297a 47px,#4a1c64 48px,#331644 49px,#561f73 50px,#8e2d71 51px,#993168 52px,#822a78 53px,#4d1d68 54px,#421a59 55px,#6c2583 56px,#9c3265 57px,#a13360 58px,#832a77 59px,#501e6d 60px,#501e6c 61px,#842b77 62px,#a8355b 63px,#a8355b 64px,#832a77 65px,#561f72 66px,#60227d 67px,#983068 68px,#b13954 69px,#ad3757 70px,#842b77 71px,#5d217b 72px,#75277e 73px,#a9365a 74px,#b83d4f 75px,#b03955 76px,#862b76 77px,#682485 78px,#8c2d72 79px,#b63c51 80px,#bf404a 81px,#b23a53 82px,#8a2c74 83px,#79287c 84px,#c14149 86px,#c54346 87px,#b43b52 88px,#8f2e70 89px,#8c2d72 90px,#b23a54 91px,#c94644 92px"></i><i style="--g:#0c0413 0px,#0f0517 1px,#030104 2px,#07020a 3px,#39184b 4px,#5b2179 5px,#5d217a 6px,#361747 7px,#030104 8px,#0f0517 9px,#4c1c67 10px,#652383 11px,#5e217b 12px,#030104 14px,#190925 15px,#541f71 16px,#682485 17px,#5c2179 18px,#281036 19px,#040106 20px,#261034 21px,#5d217a 22px,#6d2582 23px,#5b2178 24px,#230e30 25px,#07020c 26px,#652483 28px,#73277f 29px,#5a2077 30px,#220e2f 31px,#0f0518 32px,#431a5a 33px,#722780 34px,#7a287c 35px,#5a2077 36px,#250f32 37px,#1d0b2a 38px,#531e6f 39px,#812a79 40px,#842b77 41px,#5d217a 42px,#2e133d 43px,#321543 44px,#642382 45px,#8e2d70 46px,#8e2d71 47px,#60227e 48px,#38184b 49px,#441a5b 50px,#7a287c 51px,#9a3167 52px,#95306a 53px,#642382 54px,#421a59 55px,#551f71 56px,#8e2d70 57px,#a4345e 58px,#9c3265 59px,#682485 60px,#4b1c66 61px,#642382 62px,#9d3264 63px,#ad3757 64px,#a13361 65px,#6c2582 66px,#551f72 67px,#79287c 68px,#ab3758 69px,#b43b52 70px,#a5345d 71px,#73277f 72px,#62227f 73px,#8e2d71 74px,#b63c51 75px,#bb3e4d 76px,#a9365a 77px,#7b297b 78px,#722780 79px,#a03362 80px,#bf404a 81px,#c24248 82px,#ad3757 83px,#852b77 84px,#862b76 85px,#b03955 86px,#c74445 87px,#c74545 88px,#b13954 89px,#8f2e6f 90px,#973069 91px,#bd3f4c 92px"></i><i style="--g:#0c0413 0px,#0f0517 1px,#030105 2px,#060209 3px,#371749 4px,#5b2179 5px,#5e227b 6px,#39184c 7px,#040107 8px,#0c0413 9px,#471b60 10px,#642382 11px,#60227e 12px,#371749 13px,#050207 14px,#11061b 15px,#4e1d6a 16px,#682485 17px,#61227f 18px,#060209 20px,#1a0a25 21px,#551f72 22px,#6d2582 23px,#632380 24px,#08030c 26px,#240e31 27px,#5d217a 28px,#73277f 29px,#652383 30px,#351646 31px,#0e0515 32px,#331643 33px,#672485 34px,#7c297b 35px,#692584 36px,#39184b 37px,#180923 38px,#411a57 39px,#76277e 40px,#882b75 41px,#722780 42px,#401955 43px,#291137 44px,#501e6c 45px,#872b76 46px,#932f6d 47px,#7b297b 48px,#471b60 49px,#39184c 50px,#60227d 51px,#952f6b 52px,#9d3264 53px,#852b77 54px,#501e6c 55px,#471b5f 56px,#722780 57px,#a13360 58px,#a7355c 59px,#8c2d72 60px,#572074 61px,#521e6f 62px,#842b77 63px,#ac3758 64px,#af3856 65px,#922f6d 66px,#5f227c 67px,#5f227c 68px,#942f6b 69px,#b53b51 70px,#b63c51 71px,#993167 72px,#682484 73px,#6f2681 74px,#a3345f 75px,#bd3f4b 76px,#bd3f4c 77px,#a03362 78px,#76277e 79px,#822a78 80px,#b03955 81px,#c54346 82px,#c34247 83px,#852b77 85px,#942f6c 86px,#bc3f4c 87px,#cb4742 88px,#c94644 89px,#922f6d 91px,#a3345f 92px"></i><i style="--g:#0c0413 0px,#0f0518 1px,#030105 2px,#050208 3px,#361747 4px,#5b2178 5px,#5f227d 6px,#3d1951 7px,#06020a 8px,#09030e 9px,#431a5a 10px,#642381 11px,#632380 12px,#3e1952 13px,#08030c 14px,#0c0413 15px,#471b60 16px,#672485 17px,#652383 18px,#3f1954 19px,#09030e 20px,#100519 21px,#4c1c66 22px,#6c2583 23px,#682484 24px,#411a57 25px,#0b0412 26px,#150720 27px,#511e6d 28px,#72277f 29px,#6e2681 30px,#451b5c 31px,#11061b 32px,#210d2e 33px,#5a2077 34px,#7c297b 35px,#77287d 36px,#4a1c65 37px,#1c0b28 38px,#2f143f 39px,#642382 40px,#882c75 41px,#832a77 42px,#541f70 43px,#2c123b 44px,#3e1953 45px,#74277f 46px,#942f6c 47px,#8f2d70 48px,#5e217b 49px,#3b184e 50px,#4b1c66 51px,#842b77 52px,#9f3362 53px,#9a3167 54px,#682484 55px,#461b5f 56px,#582075 57px,#922f6d 58px,#a9365a 59px,#a3345f 60px,#74277f 61px,#501e6c 62px,#642382 63px,#9e3263 64px,#b23a53 65px,#ac3758 66px,#802a79 67px,#5b2178 68px,#73277f 69px,#aa3659 70px,#ba3e4e 71px,#b43b52 72px,#8c2d73 73px,#672485 74px,#842b77 75px,#b33a52 76px,#c24248 77px,#bb3e4d 78px,#78287d 80px,#932f6c 81px,#bd3f4c 82px,#c84644 83px,#c34247 84px,#892c75 86px,#a23360 87px,#c64445 88px,#ce4a40 89px,#c94643 90px,#973069 92px"></i><i style="--g:#0c0413 0px,#0f0518 1px,#040106 2px,#050207 3px,#5b2178 5px,#60227e 6px,#411a56 7px,#09030d 8px,#07020a 9px,#3e1953 10px,#622380 11px,#642382 12px,#441b5c 13px,#0b0412 14px,#08030d 15px,#401955 16px,#652383 17px,#682485 18px,#481c62 19px,#0f0517 20px,#0a0310 21px,#411a58 22px,#692484 23px,#6d2582 24px,#4d1d68 25px,#13061d 26px,#0d0414 27px,#441a5b 28px,#6e2681 29px,#74277f 30px,#541f70 31px,#1e0b2a 32px,#14071f 33px,#4a1c64 34px,#77287d 35px,#7e297a 36px,#5d217a 37px,#2b123a 38px,#210d2e 39px,#521e6f 40px,#832a77 41px,#8b2c73 42px,#6a2584 43px,#3b184e 44px,#311541 45px,#5d217a 46px,#8f2e6f 47px,#973069 48px,#7a287c 49px,#481b61 50px,#3e1953 51px,#672485 52px,#9b3166 53px,#a23460 54px,#8b2c74 55px,#551f71 56px,#4a1c64 57px,#75277e 58px,#a5345d 59px,#ac3757 60px,#973069 61px,#61227e 62px,#541f71 63px,#812a78 64px,#ae3856 65px,#b53b51 66px,#a3345f 67px,#6e2681 68px,#5f227d 69px,#8d2d72 70px,#b73c50 71px,#be404b 72px,#ae3856 73px,#802a79 74px,#6d2582 75px,#bf404b 77px,#c64346 78px,#b83d4f 79px,#902e6f 80px,#7f2979 81px,#c64445 83px,#cc4842 84px,#c24148 85px,#9f3362 86px,#902e6f 87px,#cc4842 89px,#d14c3e 90px,#ca4743 91px,#ad3757 92px"></i><i style="--g:#0c0413 0px,#0f0518 1px,#040106 2px,#040106 3px,#5b2178 5px,#61227f 6px,#441b5c 7px,#0b0411 8px,#040107 9px,#39184b 10px,#61227e 11px,#652383 12px,#4a1c65 13px,#100519 14px,#050208 15px,#381749 16px,#622380 17px,#692584 18px,#511e6d 19px,#180923 20px,#07020b 21px,#642381 23px,#6f2681 24px,#582075 25px,#210d2e 26px,#09030e 27px,#662484 29px,#76277e 30px,#62227f 31px,#301440 32px,#100519 33px,#6c2583 35px,#7f2a79 36px,#6e2682 37px,#3e1953 38px,#1d0b29 39px,#401956 40px,#76277e 41px,#8c2d72 42px,#802a79 43px,#4e1d6a 44px,#2f143e 45px,#481c61 46px,#802a79 47px,#983068 48px,#912e6e 49px,#5e227b 50px,#3e1953 51px,#511e6d 52px,#8b2c73 53px,#a4345e 54px,#9f3362 55px,#712680 56px,#4b1c66 57px,#5a2077 58px,#932f6c 59px,#ae3856 60px,#ac3758 61px,#842b77 62px,#582074 63px,#62237f 64px,#9b3166 65px,#b73c50 66px,#b63c51 67px,#95306a 68px,#652382 69px,#6c2583 70px,#a3345f 71px,#bf404a 72px,#c0404a 73px,#a6355d 74px,#78287d 75px,#7b297b 76px,#ab3659 77px,#c64445 78px,#c84544 79px,#b43b52 80px,#8d2d72 81px,#8a2c74 82px,#b23a53 83px,#cc4842 84px,#ce4a40 85px,#c04149 86px,#9e3263 87px,#983068 88px,#ba3e4e 89px,#d14c3e 90px,#d54e3c 91px,#ca4743 92px"></i><i style="--g:#0c0413 0px,#100518 1px,#050207 2px,#040106 3px,#5a2077 5px,#622380 6px,#481b61 7px,#0e0516 8px,#030104 9px,#5e227c 11px,#662484 12px,#501e6c 13px,#170923 14px,#040105 15px,#5e217b 17px,#6a2583 18px,#592076 19px,#250f32 20px,#060209 21px,#281036 22px,#5d217a 23px,#6f2681 24px,#62237f 25px,#09030e 27px,#240f32 28px,#5c2179 29px,#76277e 30px,#6d2582 31px,#421a58 32px,#13061d 33px,#281036 34px,#5e217b 35px,#7f2a79 36px,#7c297b 37px,#511e6e 38px,#250f32 39px,#2f143f 40px,#61227f 41px,#8b2c73 42px,#8d2d72 43px,#642382 44px,#39184c 45px,#39184c 46px,#662484 47px,#96306a 48px,#9b3166 49px,#7d297b 50px,#4a1c65 51px,#431a5a 52px,#6d2582 53px,#a03362 54px,#a8355b 55px,#932f6d 56px,#5c217a 57px,#4d1d69 58px,#74277f 59px,#a8355b 60px,#b23a53 61px,#a4345e 62px,#702681 63px,#582074 64px,#7a287c 65px,#ae3856 66px,#bb3e4d 67px,#b33a53 68px,#872b75 69px,#642381 70px,#812a78 71px,#b33b52 72px,#c44347 73px,#bf404a 74px,#77287d 76px,#8c2c73 77px,#b93d4f 78px,#ca4743 79px,#c94644 80px,#af3955 81px,#8c2d72 82px,#96306a 83px,#be404b 84px,#d04b3f 85px,#d14b3f 86px,#bf404a 87px,#a03362 88px,#a23360 89px,#c44247 90px,#d64f3b 91px,#d7503a 92px"></i><i style="--g:#0c0413 0px,#100519 1px,#050208 2px,#030105 3px,#5a2077 5px,#632380 6px,#4b1c66 7px,#11061b 8px,#010002 9px,#5c2179 11px,#662484 12px,#561f72 13px,#210d2e 14px,#030105 15px,#230e30 16px,#582075 17px,#6b2583 18px,#60227d 19px,#07020b 21px,#1b0a26 22px,#541f70 23px,#6f2681 24px,#6a2584 25px,#411a58 26px,#0e0515 27px,#160820 28px,#4f1d6b 29px,#75277e 30px,#76277e 31px,#531e6f 32px,#1f0c2c 33px,#1a0a26 34px,#4d1d69 35px,#7b297b 36px,#832a77 37px,#652383 38px,#371749 39px,#250f32 40px,#4e1d6a 41px,#842b77 42px,#912e6e 43px,#7f2a79 44px,#4c1c67 45px,#341645 46px,#511e6d 47px,#8b2c73 48px,#9e3263 49px,#95306b 50px,#622380 51px,#431a5a 52px,#551f72 53px,#902e6f 54px,#aa3659 55px,#a7355c 56px,#7e297a 57px,#521e6f 58px,#5a2077 59px,#922f6d 60px,#b33a53 61px,#b43b52 62px,#973069 63px,#632381 64px,#60227e 65px,#942f6b 66px,#ba3e4e 67px,#bf404a 68px,#ac3758 69px,#7b297b 70px,#6a2583 71px,#bf404a 73px,#c74545 74px,#bd3f4c 75px,#952f6b 76px,#7c297b 77px,#c44347 79px,#ce4940 80px,#c94643 81px,#902e6f 83px,#a2345f 84px,#c74544 85px,#d44e3d 86px,#d34d3d 87px,#a3345f 89px,#ab3758 90px,#cb4742 91px,#d95239 92px"></i><i style="--g:#0c0413 0px,#100519 1px,#060209 2px,#030104 3px,#592076 5px,#632381 6px,#4e1d6a 7px,#160821 8px,#010002 9px,#250f33 10px,#582075 11px,#662484 12px,#5b2178 13px,#2b123a 14px,#040107 15px,#190924 16px,#521e6e 17px,#6b2583 18px,#652483 19px,#3f1954 20px,#0b0412 21px,#11061a 22px,#4a1c64 23px,#6e2682 24px,#702680 25px,#501d6c 26px,#190924 27px,#0f0517 28px,#421a59 29px,#702680 30px,#7c297b 31px,#642381 32px,#341645 33px,#170822 34px,#3f1954 35px,#722780 36px,#882c75 37px,#7c297b 38px,#4c1c67 39px,#291137 40px,#3f1954 41px,#74277f 42px,#952f6b 43px,#922f6d 44px,#662484 45px,#3e1952 46px,#431a59 47px,#74277f 48px,#9f3362 49px,#a3345f 50px,#872b76 51px,#531e6f 52px,#4a1c64 53px,#74277f 54px,#a6355c 55px,#b03955 56px,#a03361 57px,#6b2583 58px,#541f70 59px,#73277f 60px,#aa3659 61px,#b93d4e 62px,#b33a53 63px,#8a2c74 64px,#61227e 65px,#74277f 66px,#ab3758 67px,#c24248 68px,#c14149 69px,#a4345e 70px,#77287d 71px,#7a287c 72px,#ab3758 73px,#c84544 74px,#ca4743 75px,#ba3e4e 76px,#922e6d 77px,#872b76 78px,#cb4842 80px,#d14c3e 81px,#ca4743 82px,#96306a 84px,#ce4a40 86px,#d8513a 87px,#d54f3c 88px,#a8355a 90px,#b43b52 91px,#d04b3f 92px"></i><i style="--g:#0c0413 0px,#100519 1px,#06020a 2px,#030104 3px,#291137 4px,#582075 5px,#632381 6px,#521e6e 7px,#1c0b28 8px,#010002 9px,#1f0c2b 10px,#541f71 11px,#662484 12px,#5f227c 13px,#07020b 15px,#11061b 16px,#4a1c64 17px,#692584 18px,#6a2584 19px,#4a1c64 20px,#13061d 21px,#0c0413 22px,#3f1955 23px,#6b2583 24px,#75277e 25px,#5e227c 26px,#2c123b 27px,#0e0516 28px,#361747 29px,#682485 30px,#812a78 31px,#77287d 32px,#491c63 33px,#200c2c 34px,#331543 35px,#652382 36px,#8c2d72 37px,#8d2d71 38px,#652383 39px,#3a184d 40px,#371748 41px,#61227f 42px,#952f6b 43px,#9d3264 44px,#892c74 45px,#531e70 46px,#401955 47px,#5e227c 48px,#983068 49px,#aa3659 50px,#a2345f 51px,#72277f 52px,#4e1d6a 53px,#5e217b 54px,#983069 55px,#b43b52 56px,#b43b52 57px,#952f6b 58px,#622380 59px,#60227e 60px,#932f6c 61px,#b93d4e 62px,#bf404a 63px,#af3856 64px,#7f2a79 65px,#672485 66px,#8f2e70 67px,#bc3f4c 68px,#c84544 69px,#c24148 70px,#7a287c 72px,#8e2d70 73px,#bb3e4d 74px,#cd4941 75px,#cd4941 76px,#b83d4f 77px,#932f6c 78px,#932f6c 79px,#ba3e4e 80px,#d24c3e 81px,#d54f3c 82px,#cb4742 83px,#ac3757 84px,#9e3263 85px,#d44e3d 87px,#d7503b 89px,#ae3856 91px,#bb3e4d 92px"></i><i style="--g:#0c0413 0px,#11061a 1px,#030105 3px,#271035 4px,#571f73 5px,#642381 6px,#551f71 7px,#220e30 8px,#020104 9px,#190924 10px,#501d6c 11px,#662484 12px,#622380 13px,#3e1952 14px,#0b0411 15px,#0d0414 16px,#421a59 17px,#672484 18px,#6d2582 19px,#541f71 20px,#210d2d 21px,#0b0411 22px,#642382 24px,#79287c 25px,#6c2583 26px,#12061c 28px,#281036 29px,#5e227b 30px,#852b77 31px,#862b76 32px,#5f227c 33px,#321542 34px,#2b123a 35px,#572074 36px,#8c2d72 37px,#973069 38px,#842b77 39px,#501d6c 40px,#381749 41px,#521e6e 42px,#8d2d72 43px,#a5345e 44px,#a03361 45px,#74277f 46px,#4a1c64 47px,#501e6d 48px,#872b75 49px,#ad3857 50px,#b13954 51px,#9a3167 52px,#642381 53px,#561f73 54px,#7f2979 55px,#b03955 56px,#bc3f4d 57px,#b33a53 58px,#892c74 59px,#622380 60px,#78287d 61px,#ad3757 62px,#c44247 63px,#c34247 64px,#a9365a 65px,#7b297b 66px,#78287d 67px,#a7355c 68px,#c84544 69px,#cc4842 70px,#c14149 71px,#9a3166 72px,#832b77 73px,#c84544 75px,#d24d3e 76px,#cf4a40 77px,#973069 79px,#a03361 80px,#c54346 81px,#d7503b 82px,#d8513a 83px,#cc4842 84px,#af3855 85px,#a7355b 86px,#d95239 88px,#d95239 90px,#b33a53 92px"></i><i style="--g:#0c0413 0px,#11061a 1px,#030105 3px,#250f32 4px,#551f72 5px,#642381 6px,#572074 7px,#291137 8px,#040106 9px,#14071e 10px,#4b1c66 11px,#652483 12px,#642382 13px,#451b5d 14px,#100519 15px,#0a0310 16px,#632381 18px,#6e2681 19px,#5e217b 20px,#301440 21px,#0c0413 22px,#281036 23px,#5d217a 24px,#7b297b 25px,#78287d 26px,#501e6d 27px,#200c2c 28px,#1f0c2b 29px,#521e6e 30px,#842b77 31px,#8e2d71 32px,#78287d 33px,#461b5e 34px,#2d133c 35px,#4a1c64 36px,#832a77 37px,#9d3264 38px,#993167 39px,#6c2583 40px,#431a5a 41px,#471b60 42px,#7a287c 43px,#a7355c 44px,#ad3857 45px,#983068 46px,#61227e 47px,#4d1d69 48px,#6e2682 49px,#a7355c 50px,#b83d4f 51px,#b33a53 52px,#8c2d72 53px,#5f227d 54px,#682485 55px,#9f3362 56px,#bf404a 57px,#c24148 58px,#ae3856 59px,#7f2979 60px,#6c2583 61px,#bf404a 63px,#c94643 64px,#c54346 65px,#7e297a 67px,#8d2d72 68px,#b93d4e 69px,#ce4a40 70px,#d04b3f 71px,#bf404a 72px,#9a3167 73px,#8f2e70 74px,#cf4b3f 76px,#d6503b 77px,#d14c3f 78px,#9d3264 80px,#ad3757 81px,#cd4941 82px,#da5338 83px,#da5337 84px,#cd4941 85px,#b33a53 86px,#af3855 87px,#dc5436 89px,#db5436 91px,#c94643 92px"></i><i style="--g:#0c0413 0px,#11061b 1px,#030105 3px,#230e30 4px,#541f70 5px,#642381 6px,#5a2077 7px,#060209 9px,#100519 10px,#461b5e 11px,#642382 12px,#662484 13px,#4c1d68 14px,#190924 15px,#08030d 16px,#5e217b 18px,#6f2681 19px,#662484 20px,#10051a 22px,#1d0b29 23px,#521e6f 24px,#7b297b 25px,#812a79 26px,#62237f 27px,#331543 28px,#1c0b28 29px,#451b5d 30px,#7c297b 31px,#932f6c 32px,#8d2d71 33px,#5d217a 34px,#38184a 35px,#411a56 36px,#73277f 37px,#a03362 38px,#a6355d 39px,#8f2d70 40px,#582075 41px,#461b5e 42px,#642382 43px,#a03361 44px,#b43b52 45px,#b03955 46px,#882c75 47px,#592076 48px,#5e227b 49px,#952f6b 50px,#ba3e4e 51px,#bf404a 52px,#ae3856 53px,#7e297a 54px,#642382 55px,#872b75 56px,#b73c50 57px,#c74545 58px,#c54346 59px,#a7355c 60px,#7c297b 61px,#7e297a 62px,#ac3757 63px,#ca4743 64px,#ce4a40 65px,#c44247 66px,#9e3263 67px,#862b76 68px,#a03361 69px,#c74545 70px,#d44e3d 71px,#d24d3e 72px,#be404b 73px,#9c3265 74px,#9c3265 75px,#bf404a 76px,#d64f3b 77px,#d95238 78px,#d24d3e 79px,#a5345e 81px,#b73c50 82px,#d34e3d 83px,#dc5535 85px,#d04b3f 86px,#b83d4f 87px,#b63c51 88px,#de5733 90px,#dd5634 92px"></i><i style="--g:#0c0413 0px,#11061b 1px,#040106 3px,#210d2e 4px,#521e6e 5px,#642381 6px,#5c2179 7px,#361747 8px,#08030d 9px,#0d0415 10px,#411a57 11px,#632380 12px,#672485 13px,#531f70 14px,#230e31 15px,#09030d 16px,#260f34 17px,#572074 18px,#702681 19px,#6d2582 20px,#4b1c65 21px,#1a0a26 22px,#160821 23px,#471b60 24px,#77287d 25px,#862b76 26px,#74277f 27px,#451b5d 28px,#210d2e 29px,#3a184c 30px,#6e2681 31px,#973069 32px,#993167 33px,#79287c 34px,#491c62 35px,#3d1952 36px,#61227f 37px,#9b3165 38px,#ad3757 39px,#a6355c 40px,#78287d 41px,#4f1d6b 42px,#572074 43px,#902e6f 44px,#b63c50 45px,#bc3e4d 46px,#aa3659 47px,#75277e 48px,#5c2179 49px,#7d297a 50px,#b23a54 51px,#c54346 52px,#c34248 53px,#a5355d 54px,#77287d 55px,#75277e 56px,#a3345f 57px,#c74445 58px,#cc4841 59px,#c44346 60px,#802a79 62px,#942f6c 63px,#bf404a 64px,#d14c3e 65px,#d24c3e 66px,#c24148 67px,#9d3264 68px,#912e6e 69px,#d04b3f 71px,#d8513a 72px,#d44e3c 73px,#a13361 75px,#a8355a 76px,#c94643 77px,#da5338 78px,#d44e3d 80px,#ac3758 82px,#d85139 84px,#df5732 86px,#bd3f4c 88px,#bc3f4c 89px,#e15930 91px,#e35c2d 92px"></i><i style="--g:#0c0413 0px,#12061c 1px,#040106 3px,#1f0c2b 4px,#501e6c 5px,#632381 6px,#5e217b 7px,#3b184e 8px,#0b0411 9px,#0b0411 10px,#3b184f 11px,#60227e 12px,#682485 13px,#5a2076 14px,#2e133e 15px,#0a0310 16px,#1c0b28 17px,#4f1d6b 18px,#6e2681 19px,#722780 20px,#572074 21px,#291137 22px,#13071d 23px,#6e2681 25px,#892c74 26px,#842b77 27px,#582075 28px,#2e133d 29px,#311541 30px,#5f227d 31px,#952f6b 32px,#a13361 33px,#932f6c 34px,#5f227d 35px,#431a59 36px,#551f71 37px,#8f2e70 38px,#b13954 39px,#b33b52 40px,#9b3166 41px,#642382 42px,#541f71 43px,#79287c 44px,#b03955 45px,#c24248 46px,#bf404a 47px,#9d3264 48px,#6b2583 49px,#6c2583 50px,#9f3262 51px,#c44346 52px,#ca4743 53px,#c24248 54px,#79287c 56px,#8d2d72 57px,#ba3e4e 58px,#cf4a40 59px,#d04b3f 60px,#c24148 61px,#9b3166 62px,#8a2c74 63px,#cc4842 65px,#d6503b 66px,#d44e3c 67px,#c04149 68px,#9f3362 69px,#9e3263 70px,#c04149 71px,#d7503a 72px,#d6503b 74px,#a7355c 76px,#b33a53 77px,#d04b3f 78px,#dd5634 79px,#d6503b 81px,#bf404a 82px,#b33a53 83px,#dc5436 85px,#e15930 87px,#c34248 89px,#c24248 90px,#e35b2e 92px"></i><i style="--g:#0c0413 0px,#12061c 1px,#040107 3px,#1d0b29 4px,#4e1d6a 5px,#632381 6px,#60227d 7px,#3f1955 8px,#0e0516 9px,#0a030f 10px,#5d217a 12px,#682484 13px,#5f227c 14px,#0e0515 16px,#15071f 17px,#471b60 18px,#6b2583 19px,#75277e 20px,#622380 21px,#38184b 22px,#160820 23px,#311541 24px,#632381 25px,#8b2c74 26px,#8e2d71 27px,#6d2582 28px,#3f1954 29px,#2e133e 30px,#511e6d 31px,#8d2d71 32px,#a6355c 33px,#a4345e 34px,#7f2979 35px,#501e6d 36px,#4e1d69 37px,#7c297b 38px,#af3856 39px,#bb3e4d 40px,#b33a53 41px,#892c74 42px,#5d217b 43px,#672485 44px,#a03361 45px,#c44347 46px,#c94644 47px,#bb3e4d 48px,#8f2e70 49px,#6e2682 50px,#892c75 51px,#b93d4e 52px,#ce4940 53px,#cf4a40 54px,#be3f4b 55px,#952f6b 56px,#842b77 57px,#ca4643 59px,#d54f3c 60px,#d34d3d 61px,#be404b 62px,#9b3166 63px,#973069 64px,#d54e3c 66px,#d6503b 68px,#a4345e 70px,#ab3758 71px,#cb4742 72px,#dc5436 73px,#d8513a 75px,#ae3856 77px,#bd3f4c 78px,#d7503b 79px,#e15930 81px,#d95239 82px,#c44247 83px,#b93d4e 84px,#de5733 86px,#e35c2d 88px,#c84544 90px,#c74445 91px,#d8513a 92px"></i><i style="--g:#0c0413 0px,#12061c 1px,#050207 3px,#1b0a27 4px,#4d1d68 5px,#632381 6px,#61227e 7px,#441a5b 8px,#12061c 9px,#09030d 10px,#592076 12px,#682484 13px,#632380 14px,#421a58 15px,#12061d 16px,#100519 17px,#662484 19px,#77287d 20px,#6d2582 21px,#461b5e 22px,#1d0b29 23px,#271035 24px,#572074 25px,#882c75 26px,#932f6c 27px,#842b77 28px,#511e6e 29px,#341645 30px,#461b5e 31px,#7e297a 32px,#a8355b 33px,#ae3856 34px,#9c3165 35px,#662484 36px,#501e6c 37px,#682484 38px,#a4345e 39px,#bf404a 40px,#c14149 41px,#ab3659 42px,#78287d 43px,#632381 44px,#8b2c73 45px,#bd3f4c 46px,#cd4941 47px,#cc4842 48px,#b33a53 49px,#862b76 50px,#7c297b 51px,#cb4743 53px,#d44e3d 54px,#d14c3f 55px,#b83d4f 56px,#932f6c 57px,#932f6c 58px,#b93d4f 59px,#d44e3d 60px,#d95239 61px,#d44e3c 62px,#9e3263 64px,#a6355c 65px,#c84544 66px,#db5337 67px,#d8513a 69px,#aa3659 71px,#b63c50 72px,#d34d3d 73px,#df5832 74px,#d95238 76px,#b43b52 78px,#db5437 80px,#e35b2d 82px,#db5437 83px,#c84544 84px,#c0404a 85px,#e15930 87px,#e65e2a 89px,#cd4941 91px,#ca4643 92px"></i><i style="--g:#0c0413 0px,#13061d 1px,#050208 3px,#1a0a25 4px,#4b1c65 5px,#632380 6px,#622380 7px,#481c61 8px,#180923 9px,#08030d 10px,#281036 11px,#551f71 12px,#682485 13px,#662484 14px,#4a1c64 15px,#1c0b28 16px,#0e0516 17px,#60227d 19px,#78287d 20px,#76277e 21px,#541f71 22px,#2a1138 23px,#210d2d 24px,#4b1c65 25px,#812a79 26px,#973069 27px,#932f6c 28px,#672485 29px,#401955 30px,#3f1954 31px,#6a2583 32px,#a4345e 33px,#b43b52 34px,#b03955 35px,#8a2c74 36px,#5c2179 37px,#5f227c 38px,#932f6c 39px,#be404b 40px,#c84544 41px,#c24148 42px,#702681 44px,#79287c 45px,#ad3757 46px,#cd4941 47px,#d34d3d 48px,#cb4842 49px,#862b76 51px,#922e6e 52px,#bd3f4c 53px,#d54f3c 54px,#d95239 55px,#d14c3f 56px,#973069 58px,#a5345d 59px,#c94644 60px,#da5337 61px,#d54f3c 63px,#a5345d 65px,#b43b52 66px,#d24c3e 67px,#df5732 68px,#d95239 70px,#b13954 72px,#d95239 74px,#e35b2e 76px,#db5436 77px,#bb3e4d 79px,#de5633 81px,#e65e2a 83px,#c54346 86px,#e25b2e 88px,#e86028 90px,#d24d3e 92px"></i><i style="--g:#0c0413 0px,#13071d 1px,#060209 3px,#180923 4px,#491c62 5px,#622380 6px,#632380 7px,#4c1d67 8px,#1f0c2b 9px,#09030d 10px,#210d2e 11px,#4f1d6b 12px,#672485 13px,#682485 14px,#521e6e 15px,#261034 16px,#0e0516 17px,#2a1139 18px,#582075 19px,#77287d 20px,#7c297b 21px,#62237f 22px,#39184b 23px,#200d2d 24px,#3f1954 25px,#74277f 26px,#993168 27px,#9d3264 28px,#832a78 29px,#511e6d 30px,#3f1954 31px,#5b2178 32px,#993167 33px,#b73c50 34px,#bb3e4d 35px,#a7355b 36px,#76277e 37px,#5f227c 38px,#7f2a79 39px,#b53b51 40px,#cb4842 41px,#cd4941 42px,#bb3e4d 43px,#8f2e6f 44px,#76287d 45px,#973069 46px,#c64446 47px,#d6503b 48px,#d7503b 49px,#c84544 50px,#a23460 51px,#8e2d71 52px,#a9365a 53px,#ce4941 54px,#db5436 55px,#db5436 56px,#cf4b3f 57px,#b13954 58px,#9f3362 59px,#d44e3d 61px,#df5732 62px,#d54f3c 64px,#bc3f4c 65px,#ad3857 66px,#d95238 68px,#e25b2e 70px,#da5337 71px,#b83d4f 73px,#dd5634 75px,#e55d2b 77px,#de5634 78px,#c24148 80px,#e05931 82px,#e76028 84px,#c94643 87px,#e96226 90px,#e45c2c 92px"></i><i style="--g:#0c0413 0px,#13071e 1px,#06020a 3px,#160821 4px,#471b5f 5px,#62227f 6px,#632381 7px,#501e6c 8px,#260f34 9px,#0a030f 10px,#1b0a27 11px,#4a1c64 12px,#652483 13px,#6a2584 14px,#592076 15px,#100519 17px,#210d2d 18px,#4f1d6b 19px,#75277e 20px,#802a79 21px,#702681 22px,#471b60 23px,#260f34 24px,#361747 25px,#642382 26px,#973069 27px,#a3345f 28px,#983068 29px,#662484 30px,#461b5f 31px,#511e6d 32px,#892c74 33px,#b63c50 34px,#c24248 35px,#bc3f4c 36px,#6c2583 38px,#712680 39px,#a5345e 40px,#ca4743 41px,#d24d3e 42px,#ce4a40 43px,#b23a54 44px,#892c74 45px,#892c74 46px,#b43b52 47px,#d44e3c 48px,#d95239 50px,#c34247 51px,#a03362 52px,#9b3165 53px,#d95239 55px,#dd5634 57px,#ce4a40 58px,#b13954 59px,#aa3659 60px,#db5436 62px,#e15a2f 64px,#d6503b 65px,#bf404a 66px,#b63c51 67px,#de5733 69px,#e55d2b 71px,#dc5535 72px,#c0404a 74px,#e05931 76px,#e76028 78px,#c74545 81px,#e96226 84px,#e45c2c 86px,#ce4941 88px,#eb6424 91px,#eb6523 92px"></i><i style="--g:#0c0413 0px,#14071e 1px,#07020b 3px,#150720 4px,#441b5c 5px,#61227e 6px,#642382 7px,#541f70 8px,#2d133c 9px,#0c0412 10px,#160821 11px,#441b5c 12px,#632381 13px,#6a2583 14px,#5f227c 15px,#14071f 17px,#190925 18px,#461b5e 19px,#6f2681 20px,#812a78 21px,#7d297a 22px,#571f74 23px,#321542 24px,#2e133e 25px,#561f73 26px,#902e6f 27px,#a6355c 28px,#a6355c 29px,#852b76 30px,#561f72 31px,#4d1d69 32px,#74277f 33px,#af3856 34px,#c64445 35px,#c84544 36px,#b53b51 37px,#892c74 38px,#712680 39px,#922e6e 40px,#c24148 41px,#d54f3c 42px,#d8513a 43px,#cc4841 44px,#8c2d72 46px,#a03361 47px,#ca4743 48px,#dc5535 49px,#d95239 51px,#a3345f 53px,#ac3757 54px,#cd4941 55px,#df5832 56px,#df5732 58px,#b43b52 60px,#b53b51 61px,#e15930 63px,#e35c2d 65px,#c44247 67px,#bf404a 68px,#e25b2e 70px,#e75f29 72px,#c64445 75px,#e35b2d 77px,#e96226 79px,#cc4842 82px,#ea6424 85px,#e76028 87px,#d24d3e 89px,#d8513a 90px,#ec6523 92px"></i><i style="--g:#0c0413 0px,#14071f 1px,#08030c 3px,#14071e 4px,#421a59 5px,#60227d 6px,#642382 7px,#572074 8px,#0e0516 10px,#12061c 11px,#3e1953 12px,#60227d 13px,#6b2583 14px,#642382 15px,#461b5e 16px,#1d0b29 17px,#15071f 18px,#662484 20px,#832a78 21px,#852b76 22px,#662484 23px,#3f1955 24px,#2d133c 25px,#491c63 26px,#822a78 27px,#a8355b 28px,#ae3856 29px,#9e3263 30px,#6c2582 31px,#521e6e 32px,#642382 33px,#a03361 34px,#c64445 35px,#ce4940 36px,#c94644 37px,#812a78 39px,#852b77 40px,#b13954 41px,#d34d3d 42px,#da5337 44px,#c84544 45px,#a3345f 46px,#973069 47px,#d8513a 49px,#e25a2f 50px,#e25a2f 51px,#d8513a 52px,#aa3659 54px,#bc3f4c 55px,#d95139 56px,#e45c2c 57px,#e05831 59px,#b93d4e 61px,#c14149 62px,#d8513a 63px,#e55d2b 64px,#e65e2a 66px,#c84544 68px,#c74445 69px,#e65e2a 71px,#e96226 73px,#cb4742 76px,#e55d2b 78px,#eb6424 80px,#d04b3f 83px,#d7513a 84px,#ec6523 86px,#ea6325 88px,#d7503b 90px,#d95239 91px,#e45c2c 92px"></i><i style="--g:#0c0413 0px,#14071f 1px,#08030d 3px,#12061d 4px,#401955 5px,#5e227c 6px,#642382 7px,#5a2077 8px,#11061b 10px,#100519 11px,#5c2179 13px,#6b2583 14px,#682485 15px,#4f1d6b 16px,#271036 17px,#14071e 18px,#331543 19px,#5e217b 20px,#822a78 21px,#8b2c74 22px,#79287c 23px,#4f1d6b 24px,#331543 25px,#3f1954 26px,#6f2681 27px,#a4345e 28px,#b33a53 29px,#af3955 30px,#8d2d72 31px,#60227d 32px,#5e217b 33px,#8e2d71 34px,#c04149 35px,#d14c3e 36px,#d34e3d 37px,#c54346 38px,#9d3264 39px,#862b76 40px,#9f3362 41px,#ca4743 42px,#dd5634 43px,#db5437 45px,#a3345f 47px,#a8365a 48px,#cb4742 49px,#e05931 50px,#e45c2d 52px,#d6503b 53px,#bd3f4c 54px,#b43b52 55px,#df5831 57px,#e86028 59px,#e15930 60px,#c04149 62px,#ca4743 63px,#e86127 65px,#e76028 67px,#cd4941 69px,#cd4941 70px,#e86127 72px,#eb6424 74px,#d04b3f 77px,#ec6622 80px,#e96226 82px,#d54f3c 84px,#d95239 85px,#ec6622 87px,#ed6721 89px,#dc5436 91px,#da5338 92px"></i><i style="--g:#0c0413 0px,#15071f 1px,#09030e 3px,#12061b 4px,#3e1952 5px,#5d217a 6px,#642382 7px,#5d217a 8px,#3f1955 9px,#160821 10px,#0f0517 11px,#571f73 13px,#6a2584 14px,#6b2583 15px,#572074 16px,#341644 17px,#160821 18px,#291137 19px,#541f70 20px,#7e297a 21px,#8d2d72 22px,#882c75 23px,#60227e 24px,#3d1952 25px,#39184c 26px,#5e217b 27px,#9b3166 28px,#b53c51 29px,#ba3e4e 30px,#a7355b 31px,#7a287c 32px,#61227e 33px,#7c297b 34px,#b33a53 35px,#d24c3e 36px,#d95239 37px,#d54f3c 38px,#bc3f4d 39px,#983069 40px,#952f6b 41px,#da5338 43px,#e35b2d 44px,#e45c2c 45px,#da5338 46px,#a9365a 48px,#ba3e4e 49px,#d95239 50px,#e65e2a 51px,#e55d2b 53px,#c0404a 55px,#bf404b 56px,#e55d2b 58px,#ea6325 60px,#c74545 63px,#eb6424 66px,#e96226 68px,#d24d3e 70px,#d24d3e 71px,#ea6325 73px,#ed6721 75px,#d44e3c 78px,#ee6820 81px,#ec6622 83px,#da5338 85px,#da5338 86px,#ed6721 88px,#ef6a1e 90px,#e05930 92px"></i><i style="--g:#0c0413 0px,#150720 1px,#0a030f 3px,#11061a 4px,#3b184f 5px,#5b2178 6px,#642382 7px,#5f227c 8px,#451b5c 9px,#1d0b29 10px,#0e0516 11px,#291138 12px,#511e6d 13px,#682484 14px,#6d2582 15px,#5f227c 16px,#1c0b28 18px,#210d2e 19px,#491c63 20px,#76277e 21px,#8e2d70 22px,#912e6e 23px,#76277e 24px,#4c1c66 25px,#3a184c 26px,#501d6c 27px,#8b2c73 28px,#b53b51 29px,#bf404a 30px,#ba3e4e 31px,#712680 33px,#722780 34px,#cd4941 36px,#db5436 37px,#dd5535 38px,#d24d3e 39px,#9a3167 41px,#aa3659 42px,#cf4a40 43px,#e35b2e 44px,#e65e2a 46px,#d8513a 47px,#bc3f4c 48px,#b23a53 49px,#e15930 51px,#ea6424 53px,#e65e2a 54px,#c54346 56px,#c84544 57px,#e96226 59px,#eb6523 61px,#cd4941 64px,#ed6721 67px,#eb6523 69px,#d8513a 71px,#d7503b 72px,#ef6a1e 75px,#ea6325 77px,#d95239 79px,#ef691f 82px,#ef691f 84px,#dc5436 87px,#f06c1d 90px,#ee6820 92px"></i><i style="--g:#0c0413 0px,#150820 1px,#14071e 2px,#0b0411 3px,#10051a 4px,#592076 6px,#642382 7px,#61227e 8px,#4a1c64 9px,#240f32 10px,#0f0517 11px,#230e30 12px,#4b1c65 13px,#662484 14px,#6e2682 15px,#652383 16px,#481c62 17px,#260f33 18px,#1e0c2a 19px,#6b2583 21px,#8f2e70 22px,#973069 23px,#8b2c73 24px,#5e227c 25px,#411a57 26px,#471b60 27px,#76277e 28px,#af3856 29px,#c34247 30px,#c64445 31px,#b53b52 32px,#8e2d71 33px,#77287d 34px,#922f6d 35px,#c24248 36px,#db5436 37px,#df5732 39px,#ce4a40 40px,#b03955 41px,#a4345e 42px,#dd5534 44px,#e96226 45px,#e75f29 47px,#be404b 49px,#be404b 50px,#e76028 52px,#ed6721 54px,#d8513a 56px,#ca4743 57px,#d04b3f 58px,#ec6622 60px,#ed6820 62px,#d34d3d 65px,#ef691f 68px,#ee6820 70px,#dc5436 72px,#da5338 73px,#f06c1d 76px,#ed6721 78px,#dc5535 80px,#e86028 82px,#f16d1c 84px,#ec6622 86px,#de5633 88px,#f16d1c 91px,#f26f1c 92px"></i><i style="--g:#0c0413 0px,#160821 1px,#150720 2px,#0c0412 3px,#100519 4px,#582074 6px,#642382 7px,#632381 8px,#4f1d6b 9px,#2d133c 10px,#11061b 11px,#1f0c2b 12px,#451b5e 13px,#642382 14px,#712680 15px,#6d2582 16px,#551f71 17px,#341645 18px,#210d2e 19px,#39184c 20px,#622380 21px,#8f2e70 22px,#9d3264 23px,#9b3165 24px,#7a287c 25px,#511e6d 26px,#471b60 27px,#652383 28px,#a4345e 29px,#c64445 30px,#cd4941 31px,#c94643 32px,#8d2d72 34px,#8d2d71 35px,#d7503b 37px,#e35b2d 38px,#df5832 40px,#b13a54 42px,#b43b52 43px,#e65f29 45px,#ed6721 47px,#e75f29 48px,#c44247 50px,#ca4743 51px,#ec6523 53px,#ef691f 55px,#cf4b3f 58px,#d7513a 59px,#ee691f 61px,#ef6a1e 63px,#d8513a 66px,#f06c1d 69px,#f06b1d 71px,#dc5535 74px,#f16e1c 77px,#f06b1d 79px,#e05931 81px,#df5832 82px,#f26f1c 85px,#f06b1d 87px,#e15930 89px,#ea6325 91px,#f16d1c 92px"></i><i style="--g:#0c0413 0px,#160821 1px,#160821 2px,#0d0415 3px,#100519 4px,#561f72 6px,#652383 7px,#652483 8px,#561f73 9px,#180924 11px,#1e0c2b 12px,#642382 14px,#78287d 15px,#79287c 16px,#642382 17px,#2e133d 19px,#38184b 20px,#5d217a 21px,#902e6f 22px,#a7355c 23px,#ac3758 24px,#9a3166 25px,#6c2582 26px,#531e6f 27px,#61227e 28px,#9a3167 29px,#c64445 30px,#d44e3d 31px,#d6503b 32px,#cb4743 33px,#993167 35px,#ac3758 36px,#cf4a40 37px,#e35b2d 38px,#e96127 40px,#e05831 41px,#ba3e4e 43px,#c64445 44px,#de5733 45px,#ec6622 46px,#ef6a1e 48px,#ca4743 51px,#d44e3d 52px,#ef6a1e 54px,#f06c1d 56px,#d54f3c 59px,#f06c1d 62px,#f16d1c 64px,#dc5536 67px,#f16e1c 70px,#f16f1c 72px,#df5732 75px,#f2701b 78px,#f26f1c 80px,#e15930 83px,#f2711b 86px,#f2701b 88px,#e25b2e 91px,#e86127 92px"></i><i style="--g:#0c0413 0px,#170821 1px,#180923 2px,#0f0517 3px,#11061a 4px,#541f70 6px,#662484 7px,#682484 8px,#5d217a 9px,#220d2f 11px,#200d2d 12px,#642381 14px,#7f2a79 15px,#852b76 16px,#78287d 17px,#582074 18px,#3e1952 19px,#3c1950 20px,#5a2077 21px,#902e6f 22px,#b03955 23px,#b93d4e 24px,#b43b52 25px,#952f6b 26px,#6b2583 27px,#662484 28px,#922e6e 29px,#c34247 30px,#d95239 31px,#dc5536 33px,#b33a53 35px,#af3856 36px,#df5832 38px,#ea6424 39px,#eb6424 41px,#cd4941 43px,#c54346 44px,#d44e3c 45px,#e76028 46px,#f06c1d 47px,#f06c1d 49px,#da5238 51px,#d14c3e 52px,#f16e1c 55px,#f16f1c 57px,#da5338 60px,#f26f1c 63px,#f2711b 65px,#df5832 68px,#f3731a 72px,#f06b1d 74px,#e15a2f 76px,#f4741a 80px,#f16d1c 82px,#e35b2d 84px,#ed6721 86px,#f4751a 88px,#f16f1c 90px,#e55d2b 92px"></i><i style="--g:#0c0413 0px,#170822 1px,#1a0a25 2px,#100519 3px,#11061b 4px,#521e6e 6px,#662484 7px,#6b2583 8px,#632380 9px,#491c63 10px,#2c123c 11px,#240e31 12px,#3e1953 13px,#622380 14px,#852b76 15px,#8f2e70 16px,#8c2d73 17px,#6e2582 18px,#4e1d6a 19px,#441a5b 20px,#582075 21px,#8d2d72 22px,#b53b51 23px,#c54346 24px,#c74545 25px,#b63c50 26px,#912e6e 27px,#79287c 28px,#8e2d70 29px,#bc3f4c 30px,#da5337 31px,#e55d2b 33px,#df5832 34px,#be404b 36px,#c54346 37px,#e96226 39px,#f06c1d 41px,#e15a2f 43px,#d24c3e 44px,#cf4b3f 45px,#ed6721 47px,#f3721b 49px,#e96226 51px,#d8513a 53px,#f3721b 56px,#f3721b 58px,#dd5634 61px,#f3721b 64px,#f4741a 66px,#e25b2e 69px,#ed6721 71px,#f47619 73px,#f2701b 75px,#e55d2b 77px,#ec6523 79px,#f57619 81px,#f3731a 83px,#e75f29 85px,#eb6424 87px,#f57619 89px,#f4751a 91px,#f16c1d 92px"></i><i style="--g:#0c0413 0px,#170822 1px,#1b0a27 2px,#12061c 3px,#12061c 4px,#2e133e 5px,#501e6c 6px,#662484 7px,#6e2682 8px,#692484 9px,#531e6f 10px,#38174a 11px,#291138 12px,#3d1951 13px,#60227e 14px,#892c74 15px,#983068 16px,#9a3166 17px,#882c75 18px,#632381 19px,#501d6c 20px,#592076 21px,#882b75 22px,#b73c50 23px,#cc4841 24px,#d24d3e 25px,#ce4940 26px,#96306a 28px,#942f6c 29px,#d8513a 31px,#e75f29 32px,#ea6325 34px,#cb4742 37px,#d44e3c 38px,#f06b1d 40px,#f2701b 42px,#ee691f 43px,#d8513a 45px,#d95239 46px,#f16d1c 48px,#f47619 50px,#eb6523 52px,#dd5634 54px,#f06b1d 56px,#f57719 58px,#f06c1d 60px,#e15930 62px,#ee6820 64px,#f57819 66px,#f3721b 68px,#e65e2a 70px,#ec6622 72px,#f57819 74px,#f47619 76px,#e65e2a 79px,#f57719 82px,#f57819 84px,#e75f29 87px,#f06b1d 89px,#f67a18 91px,#f67a18 92px"></i><i style="--g:#0c0413 0px,#1d0b29 2px,#13071d 4px,#2c123c 5px,#4e1d69 6px,#662484 7px,#712680 8px,#702681 9px,#5c2179 10px,#411a58 11px,#311541 12px,#3d1951 13px,#5d217b 14px,#8a2c74 15px,#a03361 16px,#a6355c 17px,#9e3263 18px,#802a79 19px,#61227e 20px,#5f227c 21px,#832a77 22px,#b53b51 23px,#d14c3e 24px,#dc5536 26px,#d14c3f 27px,#a4345e 29px,#b33a53 30px,#d34d3d 31px,#e75f29 32px,#f06b1d 34px,#e55d2b 36px,#d95239 37px,#d64f3b 38px,#f3721b 41px,#f4741a 43px,#f06b1d 44px,#dd5535 46px,#e05831 47px,#f3721b 49px,#f67918 51px,#ee6820 53px,#e15a2f 55px,#f57819 58px,#f67918 60px,#e55d2b 63px,#ef691f 65px,#f67b18 67px,#f57719 69px,#e75f29 72px,#f67918 75px,#f67b18 77px,#e86028 80px,#f06b1d 82px,#f67c18 84px,#f57819 86px,#e86127 89px,#f67a18 92px"></i><i style="--g:#0c0413 0px,#1e0c2a 2px,#15071f 4px,#2b123a 5px,#4c1c66 6px,#652483 7px,#73277f 8px,#76277e 9px,#652383 10px,#39184c 12px,#3e1953 13px,#5b2178 14px,#8a2c74 15px,#a7355c 16px,#af3955 18px,#9b3165 19px,#7a287c 20px,#6a2584 21px,#822a78 22px,#b03955 23px,#d34d3d 24px,#e45c2c 26px,#e15a2f 27px,#bd3f4c 29px,#b93d4f 30px,#e45d2c 32px,#f06a1e 33px,#f3711b 35px,#e86028 37px,#de5733 38px,#de5733 39px,#f26f1c 41px,#f67a18 43px,#f16e1c 45px,#e15a2f 47px,#ef691f 49px,#f77c18 51px,#f57819 53px,#e86127 55px,#e55d2b 56px,#f67a18 59px,#f77d18 61px,#e86127 64px,#ef691f 66px,#f77d18 68px,#f77c18 70px,#e86127 73px,#f16e1c 75px,#f77f18 77px,#f67a18 79px,#e96226 82px,#f77f18 86px,#f57819 88px,#eb6424 90px,#f06b1d 92px"></i><i style="--g:#0c0413 0px,#1f0c2c 2px,#160821 4px,#2a1138 5px,#491c63 6px,#652382 7px,#76277e 8px,#7c297b 9px,#702680 10px,#571f74 11px,#421a58 12px,#411a57 13px,#582075 14px,#872b75 15px,#ab3758 16px,#bd3f4c 18px,#b33a53 19px,#802a79 21px,#862b76 22px,#d24c3e 24px,#e45c2c 25px,#eb6424 27px,#d64f3c 29px,#c84544 30px,#ce4a40 31px,#ef691f 33px,#f57819 35px,#f26f1c 37px,#e45c2d 39px,#ef691f 41px,#f77e18 43px,#f67c18 45px,#e65e2a 48px,#f16e1c 50px,#f88018 52px,#f67c18 54px,#e86127 57px,#f88118 61px,#f67b18 63px,#ec6523 65px,#ee691f 67px,#f77e18 69px,#f88118 71px,#ec6523 74px,#f06b1d 76px,#f78018 78px,#f88118 80px,#eb6523 83px,#f16d1c 85px,#f88118 87px,#f88018 89px,#eb6523 92px"></i><i style="--g:#0c0413 0px,#210d2e 2px,#180923 4px,#291137 5px,#632381 7px,#78287d 8px,#812a79 9px,#7c297b 10px,#632380 11px,#4c1d67 12px,#461b5e 13px,#572074 14px,#832a77 15px,#ad3757 16px,#c14149 17px,#c64445 19px,#9a3167 21px,#922e6e 22px,#aa3659 23px,#ce4a40 24px,#e55d2b 25px,#f16c1d 27px,#e75f29 29px,#da5337 30px,#d54f3c 31px,#f4751a 34px,#f78018 36px,#f3731a 38px,#e86127 40px,#f2701b 42px,#f88317 44px,#f78018 46px,#ea6325 49px,#f3711b 51px,#f88417 53px,#f88018 55px,#eb6424 58px,#f3721b 60px,#f88417 62px,#f88118 64px,#eb6523 67px,#f3721b 69px,#f88417 71px,#f88118 73px,#ec6523 76px,#f3721b 78px,#f98417 80px,#f88218 82px,#ec6622 85px,#f3721b 87px,#f98417 89px,#f88217 91px,#f57819 92px"></i><i style="--g:#0c0413 0px,#220e2f 2px,#1b0a26 4px,#291138 5px,#632381 7px,#7d297a 8px,#892c75 9px,#8a2c74 10px,#75277e 11px,#5b2178 12px,#4f1d6b 13px,#5b2178 14px,#832a77 15px,#b03955 16px,#c94644 17px,#d44e3c 19px,#cc4842 20px,#a7355c 22px,#af3856 23px,#e55d2c 25px,#f06c1d 26px,#f4751a 28px,#e96325 30px,#e15930 31px,#e05930 32px,#f3731a 34px,#f98617 36px,#f88118 38px,#ec6622 41px,#f98717 45px,#f88317 47px,#ed6721 50px,#f4741a 52px,#f98717 54px,#f98517 56px,#ee6820 59px,#f3721b 61px,#f98617 63px,#f98617 65px,#ef691f 68px,#f26f1c 70px,#f98517 72px,#f88118 75px,#f06b1d 77px,#f16d1c 79px,#f98717 82px,#f88317 84px,#ed6820 87px,#f98717 91px,#f98717 92px"></i><i style="--g:#0c0413 0px,#240e31 2px,#1f0c2b 4px,#2b123a 5px,#662484 7px,#882c75 8px,#9c3265 10px,#912e6e 11px,#76277e 12px,#622380 13px,#682485 14px,#8d2d71 15px,#b93d4f 16px,#d34e3d 17px,#e15a2f 19px,#d44e3c 21px,#c54346 22px,#c0404a 23px,#e45c2c 25px,#f16e1c 26px,#f77e18 28px,#f3731a 30px,#e86028 32px,#f16e1c 34px,#fa8917 36px,#f98517 39px,#f06b1d 42px,#fa8b17 46px,#f98817 48px,#f06b1d 51px,#f4751a 53px,#fa8917 55px,#f88217 58px,#f16d1c 60px,#f2711b 62px,#fa8a17 65px,#f98617 67px,#ef6a1e 70px,#f57719 72px,#fa8917 74px,#f88018 77px,#f06c1d 79px,#f3721b 81px,#fa8a17 84px,#f98417 86px,#ef6a1e 89px,#f88417 92px"></i><i style="--g:#0c0413 0px,#250f33 2px,#230e31 4px,#2f143f 5px,#6d2582 7px,#942f6c 8px,#a8355a 9px,#b13954 10px,#ac3757 11px,#832a77 13px,#822a78 14px,#9d3264 15px,#c44347 16px,#dd5634 17px,#ec6523 19px,#e76028 21px,#d54f3c 23px,#d8513a 24px,#f16e1c 26px,#f98517 28px,#f88317 30px,#ee6820 33px,#f67918 35px,#fb8f18 37px,#fa8917 40px,#f16e1c 43px,#fb8e18 47px,#f88317 50px,#f26f1c 52px,#f47619 54px,#fa8a17 56px,#fa8817 59px,#f16e1c 62px,#f67918 64px,#fa8b17 66px,#f98517 69px,#f16e1c 72px,#fa8c17 76px,#f88118 79px,#f16e1c 81px,#f47619 83px,#fa8c18 86px,#f98717 88px,#f16e1c 91px,#f2711b 92px"></i><i style="--g:#0c0413 0px,#261034 2px,#281036 4px,#341644 5px,#4c1c66 6px,#73277f 7px,#a03362 8px,#b83d4f 9px,#c44247 10px,#c44347 11px,#a5345d 13px,#9e3263 14px,#af3856 15px,#e55d2c 17px,#f06b1d 18px,#f4741a 20px,#e35b2e 24px,#f26f1c 26px,#fa8b17 28px,#fa8917 31px,#f2701b 34px,#fb941a 38px,#fa8d18 41px,#f3721b 44px,#fb9019 48px,#fa8917 51px,#f4741a 53px,#f47619 55px,#fb8f18 58px,#f98717 61px,#f3731a 63px,#f57719 65px,#fb8e18 68px,#f98517 71px,#f3721b 73px,#f57819 75px,#fb8e18 78px,#f88317 81px,#f3721b 83px,#f57918 85px,#fb8e18 88px,#f88217 91px,#f57819 92px"></i><i style="--g:#0c0413 0px,#281036 2px,#2d133c 4px,#38174a 5px,#4f1d6b 6px,#7a287c 7px,#ab3658 8px,#c74445 9px,#d54f3c 11px,#b93d4e 14px,#c24148 15px,#ea6325 17px,#f77e18 19px,#f88118 21px,#ee6820 24px,#f2711b 26px,#fb931a 29px,#fb8f18 32px,#f57819 35px,#fc971b 39px,#fb9119 42px,#f4751a 45px,#f88218 47px,#fb941a 50px,#f98517 53px,#f4751a 55px,#f77f18 57px,#fb9219 60px,#f98517 63px,#f4751a 65px,#f77d18 67px,#fb9019 70px,#f98617 73px,#f4751a 75px,#f67b18 77px,#fb9019 80px,#f98717 83px,#f4751a 86px,#fb9019 90px,#fb8e18 92px"></i><i style="--g:#0c0413 0px,#291137 2px,#321543 4px,#3c1950 5px,#541f70 6px,#822a78 7px,#b53b51 8px,#d24c3e 9px,#e15930 11px,#d04b3f 14px,#d14c3e 15px,#f67a18 18px,#fa8c18 20px,#fa8b17 22px,#f3721b 25px,#f77e18 27px,#fc991c 30px,#fb931a 33px,#f77e18 36px,#fc9a1c 40px,#fc951a 43px,#f67918 46px,#f88218 48px,#fc961b 51px,#fa8d18 54px,#f57819 57px,#fb931a 61px,#fb8e18 64px,#f57819 67px,#fb9219 72px,#fa8917 75px,#f57819 78px,#fb9219 82px,#fa8c18 85px,#f57819 88px,#fb9119 92px"></i><i style="--g:#0c0413 0px,#2b1239 2px,#421a58 5px,#5a2077 6px,#8c2d72 7px,#c0404a 8px,#dc5436 9px,#ea6325 11px,#df5732 15px,#ef6a1e 17px,#fa8b17 19px,#fb941a 22px,#f67b18 26px,#fc9e1e 31px,#fc971b 34px,#f88218 37px,#fc9d1e 42px,#fb9119 45px,#f77e18 47px,#f88217 49px,#fc981b 52px,#fb931a 55px,#f77d18 58px,#fa8c18 61px,#fc961a 64px,#f67c18 69px,#fc951a 74px,#fa8d18 77px,#f67b18 80px,#fc951a 85px,#fa8b17 88px,#f77c18 91px,#f88118 92px"></i><i style="--g:#0c0413 0px,#371749 3px,#471b60 5px,#61227e 6px,#96306a 7px,#c94643 8px,#e35b2d 9px,#f06c1d 11px,#ec6622 14px,#eb6523 16px,#fa8d18 19px,#fc9b1d 22px,#f88317 27px,#fda220 32px,#fc9b1c 35px,#f98617 38px,#fc9f1e 43px,#fc971b 46px,#f88118 49px,#fc9b1c 54px,#fb941a 57px,#f88118 60px,#fc981b 65px,#fb9219 68px,#f77f18 71px,#fc971b 77px,#f88118 83px,#fc971b 87px,#fa8c18 91px,#f98417 92px"></i><i style="--g:#0d0413 0px,#3b184e 3px,#4e1d69 5px,#682484 6px,#9f3362 7px,#d04b3f 8px,#e96226 9px,#f47619 11px,#f4751a 14px,#f26f1c 16px,#fc991b 20px,#fda220 23px,#fa8a17 28px,#fda521 33px,#fc9f1e 36px,#fa8a17 39px,#fda11f 45px,#fc961a 48px,#f98617 51px,#fc9d1d 56px,#fb8f18 60px,#f98617 63px,#fc9a1c 67px,#fb9019 71px,#f88317 74px,#fc9a1c 79px,#fa8c18 83px,#f98617 86px,#fc9a1c 90px,#fc991b 92px"></i><i style="--g:#0d0415 0px,#411a57 3px,#582075 5px,#77287d 6px,#ab3758 7px,#d8513a 8px,#ee6820 9px,#f88018 11px,#f98517 14px,#f88018 17px,#fda823 22px,#fda11f 26px,#fb9119 29px,#fda925 34px,#fda421 37px,#fa8d18 41px,#fda421 46px,#fc971b 50px,#fa8b17 53px,#fda01f 58px,#fb931a 62px,#fa8917 65px,#fc9e1e 70px,#fb9019 74px,#fa8917 77px,#fc9e1e 82px,#f98717 88px,#fc9a1c 92px"></i><i style="--g:#100518 0px,#4d1d69 3px,#6b2583 5px,#8f2d70 6px,#e05831 8px,#f2701b 9px,#fa8c17 11px,#fb941a 14px,#fb9119 18px,#feb231 23px,#feb02f 26px,#fc9a1c 30px,#feb12f 36px,#fda01f 40px,#fc951a 43px,#fda925 48px,#fc9c1d 52px,#fb9119 55px,#fda521 60px,#fc9a1c 64px,#fa8d18 67px,#fda220 73px,#fa8c18 79px,#fda220 85px,#fc951a 89px,#fa8d18 92px"></i><i style="--g:#14071e 0px,#491c63 2px,#60227d 3px,#76277e 4px,#8d2d71 5px,#cd4941 7px,#e86127 8px,#f67918 9px,#fc961a 11px,#fda220 15px,#fda01f 19px,#feb534 22px,#febf45 25px,#feb839 28px,#fda622 31px,#feb02e 34px,#feba3d 37px,#feb433 40px,#fda01f 43px,#fda11f 46px,#feaf2d 50px,#fc9d1d 55px,#fc991b 58px,#fdaa25 63px,#fb931a 70px,#fda722 76px,#fb9319 83px,#fda722 88px,#fc9d1d 92px"></i><i style="--g:#190a25 0px,#582075 2px,#79287c 3px,#c54346 6px,#ef6a1e 8px,#fc951a 10px,#fdae2b 13px,#feb230 16px,#fdae2b 20px,#feca5b 25px,#feca5a 28px,#feb433 32px,#feb83a 35px,#fec34c 38px,#feba3d 42px,#fda722 45px,#fda924 48px,#feb535 52px,#fda521 57px,#fc9d1e 60px,#fdae2c 66px,#fc991b 73px,#fdac29 79px,#fc9d1d 84px,#fc991b 87px,#fdab28 92px"></i><i style="--g:#1f0c2c 0px,#672485 2px,#942f6c 3px,#c84544 5px,#f4751a 8px,#fc9d1d 10px,#feb93c 13px,#fec24a 16px,#febb3f 21px,#fed775 26px,#fed674 29px,#febe43 34px,#fec44d 37px,#feca5b 40px,#fec148 44px,#fdac29 48px,#feb93c 55px,#fda320 62px,#feb231 70px,#fc9e1e 76px,#feb130 83px,#fc9d1d 91px,#fda11f 92px"></i><i style="--g:#250f33 0px,#4a1c65 1px,#7c297b 2px,#ac3758 3px,#ca4743 4px,#f16e1c 7px,#fc961a 9px,#feb332 11px,#fecd62 15px,#fed066 18px,#fec754 21px,#fecc5f 23px,#fee290 27px,#fee18e 30px,#fec856 36px,#fed067 42px,#fec24b 47px,#feb231 51px,#febe43 58px,#feb02e 63px,#fda823 66px,#feb738 73px,#fda420 80px,#feaf2d 84px,#feb534 89px,#fdaa27 92px"></i><i style="--g:#2a1239 0px,#531e6f 1px,#8f2e70 2px,#c0404a 3px,#db5437 4px,#f16e1c 6px,#fb8f18 8px,#fdae2c 10px,#fed46f 14px,#fedf89 17px,#fede85 19px,#fed571 22px,#fed979 24px,#ffe7a5 28px,#ffe6a1 32px,#fed169 38px,#fed067 41px,#fed26c 45px,#fec652 50px,#feb738 54px,#fec149 61px,#feb534 66px,#fda722 70px,#feaf2c 78px,#fda220 86px,#feb839 92px"></i><i style="--g:#2e133e 0px,#592076 1px,#9b3166 2px,#cc4842 3px,#e55d2b 4px,#f16e1c 5px,#fc9c1d 8px,#fecb5d 12px,#fee18d 15px,#ffe7a6 18px,#fee394 24px,#ffecb9 30px,#ffe9ad 35px,#fed673 41px,#fed169 49px,#fec34b 53px,#fda722 57px,#f67a18 64px,#ea6325 69px,#f16d1c 74px,#fc991b 79px,#feb534 84px,#feaf2d 92px"></i><i style="--g:#2f143f 0px,#5b2178 1px,#a03362 2px,#d14c3e 3px,#ea6325 4px,#f57819 5px,#fc9a1c 7px,#fec24a 10px,#ffe49a 15px,#ffeebe 19px,#ffeebe 27px,#ffefc3 34px,#ffe9ac 38px,#fec14a 47px,#fc9e1e 52px,#f4751a 57px,#f06b1d 61px,#f98717 66px,#fdab28 71px,#feba3c 76px,#febc40 83px,#fec24a 90px,#fec148 92px"></i><i style="--g:#2f143f 0px,#5b2178 1px,#a13361 2px,#d34e3d 3px,#ec6622 4px,#f77e18 5px,#fda521 7px,#fecb5d 10px,#ffedbc 17px,#fff3d2 21px,#fff5d9 28px,#ffefc3 37px,#fede85 44px,#fed067 47px,#fec958 53px,#fec755 64px,#fec44f 72px,#fec44d 83px,#fec24a 92px"></i></div>
<div class="fr" style="left:388px;top:5px;width:99px;height:97px"></div><b style="left:390.50px;top:100px;width:1px;height:1px"></b><b style="left:390.50px;top:6px;width:1px;height:1px"></b><b style="left:389px;top:98.50px;width:1px;height:1px"></b><b style="left:485px;top:98.50px;width:1px;height:1px"></b><b style="left:395.15px;top:100px;width:1px;height:1px"></b><b style="left:395.15px;top:6px;width:1px;height:1px"></b><b style="left:389px;top:93.90px;width:1px;height:1px"></b><b style="left:485px;top:93.90px;width:1px;height:1px"></b><b style="left:399.80px;top:100px;width:1px;height:1px"></b><b style="left:399.80px;top:6px;width:1px;height:1px"></b><b style="left:389px;top:89.30px;width:1px;height:1px"></b><b style="left:485px;top:89.30px;width:1px;height:1px"></b><b style="left:404.45px;top:100px;width:1px;height:1px"></b><b style="left:404.45px;top:6px;width:1px;height:1px"></b><b style="left:389px;top:84.70px;width:1px;height:1px"></b><b style="left:485px;top:84.70px;width:1px;height:1px"></b><b style="left:409.10px;top:100px;width:1px;height:1px"></b><b style="left:409.10px;top:6px;width:1px;height:1px"></b><b style="left:389px;top:80.10px;width:1px;height:1px"></b><b style="left:485px;top:80.10px;width:1px;height:1px"></b><b style="left:413.75px;top:100px;width:1px;height:1px"></b><b style="left:413.75px;top:6px;width:1px;height:1px"></b><b style="left:389px;top:75.50px;width:1px;height:1px"></b><b style="left:485px;top:75.50px;width:1px;height:1px"></b><b style="left:418.40px;top:100px;width:1px;height:1px"></b><b style="left:418.40px;top:6px;width:1px;height:1px"></b><b style="left:389px;top:70.90px;width:1px;height:1px"></b><b style="left:485px;top:70.90px;width:1px;height:1px"></b><b style="left:423.05px;top:100px;width:1px;height:1px"></b><b style="left:423.05px;top:6px;width:1px;height:1px"></b><b style="left:389px;top:66.30px;width:1px;height:1px"></b><b style="left:485px;top:66.30px;width:1px;height:1px"></b><b style="left:427.70px;top:100px;width:1px;height:1px"></b><b style="left:427.70px;top:6px;width:1px;height:1px"></b><b style="left:389px;top:61.70px;width:1px;height:1px"></b><b style="left:485px;top:61.70px;width:1px;height:1px"></b><b style="left:432.35px;top:100px;width:1px;height:1px"></b><b style="left:432.35px;top:6px;width:1px;height:1px"></b><b style="left:389px;top:57.10px;width:1px;height:1px"></b><b style="left:485px;top:57.10px;width:1px;height:1px"></b><b style="left:437.00px;top:100px;width:1px;height:1px"></b><b style="left:437.00px;top:6px;width:1px;height:1px"></b><b style="left:389px;top:52.50px;width:1px;height:1px"></b><b style="left:485px;top:52.50px;width:1px;height:1px"></b><b style="left:441.65px;top:100px;width:1px;height:1px"></b><b style="left:441.65px;top:6px;width:1px;height:1px"></b><b style="left:389px;top:47.90px;width:1px;height:1px"></b><b style="left:485px;top:47.90px;width:1px;height:1px"></b><b style="left:446.30px;top:100px;width:1px;height:1px"></b><b style="left:446.30px;top:6px;width:1px;height:1px"></b><b style="left:389px;top:43.30px;width:1px;height:1px"></b><b style="left:485px;top:43.30px;width:1px;height:1px"></b><b style="left:450.95px;top:100px;width:1px;height:1px"></b><b style="left:450.95px;top:6px;width:1px;height:1px"></b><b style="left:389px;top:38.70px;width:1px;height:1px"></b><b style="left:485px;top:38.70px;width:1px;height:1px"></b><b style="left:455.60px;top:100px;width:1px;height:1px"></b><b style="left:455.60px;top:6px;width:1px;height:1px"></b><b style="left:389px;top:34.10px;width:1px;height:1px"></b><b style="left:485px;top:34.10px;width:1px;height:1px"></b><b style="left:460.25px;top:100px;width:1px;height:1px"></b><b style="left:460.25px;top:6px;width:1px;height:1px"></b><b style="left:389px;top:29.50px;width:1px;height:1px"></b><b style="left:485px;top:29.50px;width:1px;height:1px"></b><b style="left:464.90px;top:100px;width:1px;height:1px"></b><b style="left:464.90px;top:6px;width:1px;height:1px"></b><b style="left:389px;top:24.90px;width:1px;height:1px"></b><b style="left:485px;top:24.90px;width:1px;height:1px"></b><b style="left:469.55px;top:100px;width:1px;height:1px"></b><b style="left:469.55px;top:6px;width:1px;height:1px"></b><b style="left:389px;top:20.30px;width:1px;height:1px"></b><b style="left:485px;top:20.30px;width:1px;height:1px"></b><b style="left:474.20px;top:100px;width:1px;height:1px"></b><b style="left:474.20px;top:6px;width:1px;height:1px"></b><b style="left:389px;top:15.70px;width:1px;height:1px"></b><b style="left:485px;top:15.70px;width:1px;height:1px"></b><b style="left:478.85px;top:100px;width:1px;height:1px"></b><b style="left:478.85px;top:6px;width:1px;height:1px"></b><b style="left:389px;top:11.10px;width:1px;height:1px"></b><b style="left:485px;top:11.10px;width:1px;height:1px"></b><b style="left:483.50px;top:100px;width:1px;height:1px"></b><b style="left:483.50px;top:6px;width:1px;height:1px"></b><b style="left:389px;top:6.50px;width:1px;height:1px"></b><b style="left:485px;top:6.50px;width:1px;height:1px"></b>
<div class="t tk" style="left:390.80px;top:111.40px;transform:translate(-50%,-50%)">0</div><div class="t tk" style="left:386.90px;top:101.10px;transform:translate(-100%,-50%)">0</div><div class="t tk" style="left:409.40px;top:111.40px;transform:translate(-50%,-50%)">2</div><div class="t tk" style="left:386.90px;top:82.70px;transform:translate(-100%,-50%)">2</div><div class="t tk" style="left:428.00px;top:111.40px;transform:translate(-50%,-50%)">4</div><div class="t tk" style="left:386.90px;top:64.30px;transform:translate(-100%,-50%)">4</div><div class="t tk" style="left:446.60px;top:111.40px;transform:translate(-50%,-50%)">6</div><div class="t tk" style="left:386.90px;top:45.90px;transform:translate(-100%,-50%)">6</div><div class="t tk" style="left:465.20px;top:111.40px;transform:translate(-50%,-50%)">8</div><div class="t tk" style="left:386.90px;top:27.50px;transform:translate(-100%,-50%)">8</div><div class="t tk" style="left:483.80px;top:111.40px;transform:translate(-50%,-50%)">10</div><div class="t tk" style="left:386.90px;top:9.10px;transform:translate(-100%,-50%)">10</div>
<div class="cb" style="left:497.7px;top:35.1px;width:7px;height:66.4px;background:linear-gradient(0deg,#000000 0.0%,#14071f 4.3%,#321542 8.7%,#491c63 13.0%,#61227e 17.4%,#802a79 21.7%,#9f3263 26.1%,#b93d4e 30.4%,#cf4a40 34.8%,#de5733 39.1%,#ea6325 43.5%,#f2701b 47.8%,#f77e18 52.2%,#fa8d18 56.5%,#fc9a1c 60.9%,#fda824 65.2%,#feb636 69.6%,#fec34d 73.9%,#fed168 78.3%,#fede85 82.6%,#ffe6a1 87.0%,#ffeebe 91.3%,#fff5da 95.7%,#fffef8 100.0%)"></div><div class="t cl" style="left:508.20px;top:103.60px;transform:translate(0,-50%)">0</div><b class="ct" style="left:504.7px;top:101.0px"></b><div class="t cl" style="left:508.20px;top:82.18px;transform:translate(0,-50%)">1</div><b class="ct" style="left:504.7px;top:79.6px"></b><div class="t cl" style="left:508.20px;top:60.76px;transform:translate(0,-50%)">2</div><b class="ct" style="left:504.7px;top:58.2px"></b><div class="t cl" style="left:508.20px;top:39.34px;transform:translate(0,-50%)">3</div><b class="ct" style="left:504.7px;top:36.7px"></b><div class="t ctl" style="left:505.40px;top:24.00px;transform:translate(-50%,-50%)"><i>δ</i><sub>max</sub></div>
<div class="t tau" style="left:438.20px;top:124.60px;transform:translate(-50%,-50%)">τ</div><div class="t d2" style="left:366.50px;top:53.60px;transform:translate(-50%,-50%) rotate(-90deg)"><i>d&#771;</i><sub>2</sub></div><div class="t cap" style="left:434.00px;top:142.90px;transform:translate(-50%,-50%)">(c)</div>
<div class="hm" style="left:31px;top:169px;width:94px;height:95px"><i style="--g:#000000 0px,#030104 9px,#3d1951 13px,#652483 17px,#b63c50 24px,#e35b2e 31px,#eb6424 36px,#e86127 55px,#df5832 56px,#c64446 57px,#9d3264 58px,#9b3166 59px,#c64446 60px,#e65e2a 61px,#f3711b 62px,#f88417 65px,#ec6622 71px,#e96226 82px,#e35b2e 83px,#b83d4f 85px,#b43b52 86px,#e86028 88px,#f67a18 90px,#f88118 93px"></i><i style="--g:#000000 0px,#000000 8px,#040106 9px,#3d1951 13px,#662484 17px,#b63c50 24px,#e35b2e 31px,#eb6424 36px,#e75f29 55px,#db5437 56px,#973069 58px,#a4345e 59px,#d04b3f 60px,#eb6424 61px,#f77d18 63px,#f88317 65px,#ec6622 71px,#e65f29 82px,#db5337 83px,#b13954 85px,#c24248 86px,#de5633 87px,#ee691f 88px,#f88118 91px,#f77d18 93px"></i><i style="--g:#000000 0px,#000000 8px,#040107 9px,#481b61 14px,#662484 17px,#b73c50 24px,#e35b2e 31px,#eb6424 36px,#ea6325 54px,#e55d2b 55px,#d54e3c 56px,#af3856 57px,#952f6b 58px,#af3856 59px,#da5338 60px,#ee691f 61px,#f88317 64px,#ec6622 71px,#e86127 81px,#e05930 82px,#b53b52 84px,#b73c50 85px,#e96226 87px,#f67b18 89px,#f77e18 92px,#f67918 93px"></i><i style="--g:#000000 0px,#000000 8px,#050208 9px,#481b61 14px,#662484 17px,#b73c50 24px,#e35b2e 31px,#eb6424 36px,#e96226 54px,#e25a2e 55px,#cc4841 56px,#a4345e 57px,#963069 58px,#bc3e4d 59px,#e15a30 60px,#ef6a1e 61px,#f88317 64px,#ec6523 71px,#e55d2b 81px,#d7503a 82px,#bd3f4b 83px,#b13a54 84px,#e25a2f 86px,#f06b1d 87px,#f88118 90px,#f47619 93px"></i><i style="--g:#000000 0px,#000000 8px,#060209 9px,#3e1953 13px,#672485 17px,#b73c50 24px,#e35b2e 31px,#eb6424 36px,#e86127 54px,#de5733 55px,#c34247 56px,#9b3165 57px,#9c3264 58px,#c84544 59px,#e45d2c 60px,#f78018 63px,#f78018 65px,#ec6622 70px,#e96127 79px,#de5633 81px,#b23a53 83px,#bb3e4d 84px,#d95239 85px,#eb6523 86px,#f77c18 88px,#f77c18 91px,#f3721b 93px"></i><i style="--g:#000000 0px,#000000 8px,#07020a 9px,#3e1953 13px,#672485 17px,#b73c50 24px,#e35b2e 31px,#eb6424 36px,#e75f29 54px,#da5238 55px,#96306a 57px,#a6355c 58px,#d34d3d 59px,#f47619 62px,#f88317 64px,#ec6622 70px,#e96226 78px,#d14c3f 81px,#b93d4f 82px,#b33a53 83px,#e65e2a 85px,#f16e1c 86px,#f88118 89px,#f16f1c 93px"></i><i style="--g:#000000 0px,#000000 8px,#15071f 10px,#491c63 14px,#672485 17px,#b73c50 24px,#e35b2e 31px,#eb6424 36px,#ea6325 53px,#e55d2c 54px,#d34d3d 55px,#ac3757 56px,#952f6b 57px,#b23a53 58px,#d8513a 60px,#ec6622 61px,#f88218 63px,#f4751a 66px,#ec6622 70px,#e65e2b 78px,#b73c50 81px,#b13954 82px,#c14149 83px,#dd5634 84px,#ee6820 85px,#f77d18 87px,#f67b18 90px,#f06c1d 93px"></i><i style="--g:#000000 0px,#000000 8px,#150820 10px,#3f1955 13px,#682485 17px,#b83d4f 24px,#e35b2d 31px,#eb6424 35px,#e96226 53px,#e15a2f 54px,#ca4743 55px,#a23360 56px,#983068 57px,#983068 58px,#ab3758 59px,#d54f3c 60px,#ee6820 61px,#f67b18 62px,#f88118 64px,#ed6721 69px,#e76028 77px,#dc5535 78px,#bf404a 79px,#973069 80px,#942f6b 81px,#d34d3d 83px,#e96127 84px,#f67b18 86px,#f77d18 89px,#f06a1e 93px"></i><i style="--g:#000000 0px,#000000 8px,#4a1c64 14px,#692484 17px,#b83d4f 24px,#e35b2d 31px,#eb6424 35px,#e35b2e 40px,#eb6523 48px,#e86127 53px,#de5634 54px,#9a3166 56px,#78287d 57px,#6b2583 58px,#9c3265 59px,#d8513a 60px,#f16c1d 61px,#f77e18 62px,#f88018 64px,#ec6622 69px,#e96226 76px,#e15a2f 77px,#c74545 78px,#8b2c73 79px,#5f227c 80px,#77287d 81px,#bb3e4d 82px,#e25a2f 83px,#f06b1d 84px,#f88118 87px,#ef691f 93px"></i><i style="--g:#000000 0px,#000000 8px,#4a1c65 14px,#692484 17px,#b93d4f 24px,#e35c2d 31px,#ea6325 35px,#da5238 40px,#eb6523 45px,#e75f29 53px,#d95239 54px,#b53b51 55px,#73277f 56px,#471b60 57px,#521e6e 58px,#9d3264 59px,#de5733 60px,#f3721b 61px,#f88118 62px,#f77f18 64px,#ec6622 69px,#e65f29 76px,#d54f3c 77px,#993167 78px,#4c1d68 79px,#3d1952 80px,#702681 81px,#c74545 82px,#e96226 83px,#f77d18 85px,#f77d18 88px,#ee691f 92px,#ee691f 93px"></i><i style="--g:#000000 0px,#000000 8px,#4b1c65 14px,#6a2584 17px,#b93d4e 24px,#e45c2d 31px,#eb6424 34px,#db5437 37px,#c84544 39px,#ea6325 44px,#ea6325 52px,#e45c2c 53px,#ce4941 54px,#8b2c73 55px,#3f1954 56px,#230e30 57px,#4d1d68 58px,#ae3856 59px,#e76028 60px,#f57819 61px,#f88317 62px,#ec6622 69px,#e96226 75px,#e05831 76px,#b93d4e 77px,#5b2178 78px,#1f0c2b 79px,#311541 80px,#852b77 81px,#d8513a 82px,#f06b1d 83px,#f88018 85px,#f67918 88px,#ee6820 92px,#ee6820 93px"></i><i style="--g:#000000 0px,#000000 8px,#4b1c66 14px,#6b2583 17px,#ba3e4e 24px,#e45c2c 31px,#ea6424 34px,#e05931 36px,#b63c50 39px,#d04b3f 41px,#e75f29 43px,#eb6523 51px,#e86127 52px,#dc5535 53px,#af3855 54px,#521e6e 55px,#10051a 56px,#13061d 57px,#5d217a 58px,#c84544 59px,#ef691f 60px,#f77e18 61px,#f88217 63px,#ed6820 68px,#e75f29 75px,#d44e3c 76px,#8d2d71 77px,#311541 78px,#0b0412 79px,#411a57 80px,#ab3659 81px,#e55d2b 82px,#f3731a 83px,#f88217 85px,#ed6820 92px,#ee6820 93px"></i><i style="--g:#000000 0px,#000000 8px,#421a58 13px,#09030e 14px,#451b5c 15px,#0c0412 16px,#0d0414 17px,#5b2178 18px,#0f0518 19px,#6b2583 20px,#75277e 21px,#13061d 22px,#14071f 23px,#922e6e 24px,#180923 25px,#190925 26px,#aa3659 27px,#b13954 28px,#1e0c2a 29px,#240f32 34px,#d04b3f 35px,#d04b3f 36px,#240f32 37px,#240f32 41px,#d04b3f 42px,#240f32 43px,#240f32 44px,#d04b3f 45px,#240f32 46px,#d04b3f 47px,#240f32 48px,#d04b3f 49px,#240f32 50px,#240f32 51px,#d04b3f 52px,#240f32 53px,#250f32 55px,#010001 56px,#240e31 57px,#291137 58px,#dd5535 59px,#e86127 61px,#2e133e 62px,#281137 65px,#d8513a 66px,#d24c3e 68px,#240f32 69px,#d04b3f 70px,#240f32 71px,#240f32 73px,#d04b3f 74px,#240f32 75px,#240f32 77px,#170821 78px,#190925 79px,#261034 80px,#2a1138 82px,#e35c2d 83px,#e65f29 84px,#2d133d 85px,#2c123b 86px,#e15930 87px,#d24d3e 91px,#250f32 92px,#d34d3d 93px"></i><i style="--g:#000000 0px,#000000 8px,#421a59 13px,#61227e 16px,#6c2582 17px,#bb3e4d 24px,#e55d2b 31px,#eb6424 34px,#df5832 36px,#c24248 38px,#bc3f4c 39px,#e96127 43px,#e96226 51px,#df5732 52px,#b63c50 53px,#572074 54px,#0e0516 55px,#08030c 56px,#4a1c64 57px,#b73c50 58px,#eb6424 59px,#f67c18 60px,#f98517 62px,#ee691f 67px,#e96226 74px,#dc5536 75px,#a9365a 76px,#4d1d68 77px,#220e2f 78px,#471b60 79px,#a9365a 80px,#e45c2c 81px,#f3731a 82px,#f88317 84px,#ed6820 91px,#ee691f 93px"></i><i style="--g:#000000 0px,#000000 8px,#431a5a 13px,#61227f 16px,#7b297b 18px,#c54346 25px,#eb6523 33px,#e35b2d 36px,#cf4a40 39px,#ea6424 43px,#ec6523 50px,#e76028 51px,#d7503b 52px,#9b3166 53px,#421a59 54px,#100519 55px,#2d133c 56px,#842b77 57px,#da5338 58px,#f2711b 59px,#f88218 60px,#f88317 62px,#ee691f 67px,#e76028 74px,#d54f3c 75px,#993167 76px,#511e6d 77px,#491c63 78px,#882c75 79px,#d54e3c 80px,#f06a1e 81px,#f88217 83px,#f67a18 86px,#ed6721 91px,#ed6721 93px"></i><i style="--g:#000000 0px,#000000 8px,#431a5b 13px,#622380 16px,#7c297b 18px,#c54346 25px,#ec6523 33px,#de5633 39px,#ed6721 45px,#eb6424 50px,#e45c2c 51px,#cc4842 52px,#862b76 53px,#411a56 54px,#321542 55px,#60227d 56px,#bf404a 57px,#eb6424 58px,#f67b18 59px,#f98717 61px,#ee6820 67px,#eb6523 73px,#e55d2b 74px,#cf4a40 75px,#9a3166 76px,#6e2682 77px,#862b76 78px,#c64346 79px,#e96226 80px,#f4751a 81px,#f98417 83px,#ee6820 90px,#e76028 93px"></i><i style="--g:#000000 0px,#000000 8px,#441b5b 13px,#632380 16px,#8a2c74 19px,#c64445 25px,#ec6622 33px,#e86127 40px,#ed6721 49px,#e05930 51px,#c34248 52px,#802a79 53px,#521e6f 54px,#5e227c 55px,#a6355c 56px,#e05831 57px,#f3721b 58px,#f88217 59px,#f98617 61px,#ef6a1e 66px,#eb6424 73px,#e45c2d 74px,#cf4a40 75px,#ad3757 76px,#a23360 77px,#c24148 78px,#e35b2e 79px,#f26f1c 80px,#f88417 82px,#f67a18 85px,#e65e2a 92px,#dc5535 93px"></i><i style="--g:#000000 0px,#000000 8px,#451b5c 13px,#632381 16px,#8b2c73 19px,#c64445 25px,#ed6721 33px,#ed6721 49px,#dd5634 51px,#bf404a 52px,#8e2d70 53px,#7b297b 54px,#a03362 55px,#d44e3c 56px,#ee691f 57px,#f98617 59px,#f77d18 62px,#ef6a1e 66px,#e96226 73px,#dd5535 74px,#c54346 75px,#b63c51 76px,#ef6a1e 79px,#f88218 81px,#f77e18 84px,#ee691f 89px,#df5832 92px,#d8513a 93px"></i><i style="--g:#000000 0px,#000000 8px,#3b184e 12px,#642382 16px,#973069 20px,#ce4941 26px,#ee6820 34px,#ec6622 49px,#e86127 50px,#d95238 51px,#b63c51 52px,#9a3166 53px,#ae3856 54px,#e96127 56px,#f4751a 57px,#fa8917 59px,#ef6a1e 66px,#ec6523 72px,#e55d2c 73px,#b93d4e 75px,#be404b 76px,#ed6721 78px,#f98517 81px,#f4751a 85px,#eb6424 90px,#da5338 92px,#da5338 93px"></i><i style="--g:#000000 0px,#000000 8px,#3b184f 12px,#652382 16px,#a3345f 21px,#d54e3c 27px,#ee691f 34px,#ec6622 49px,#e55d2b 50px,#cf4a40 51px,#a9365a 52px,#9d3264 53px,#c14149 54px,#e45c2c 55px,#f26f1c 56px,#f98717 58px,#f88018 61px,#f06b1d 65px,#e96226 72px,#dd5535 73px,#c54346 74px,#b73c50 75px,#e75f29 77px,#f2711b 78px,#f98617 81px,#ed6721 89px,#d8513a 92px,#e15930 93px"></i><i style="--g:#000000 0px,#000001 8px,#3c1850 12px,#652483 16px,#b73c50 23px,#e35c2d 30px,#ef691f 35px,#eb6424 49px,#df5832 50px,#9e3263 52px,#a7355c 53px,#d14c3e 54px,#ec6622 55px,#f88417 57px,#fa8a17 59px,#f06b1d 65px,#ec6622 71px,#e55d2c 72px,#ba3e4e 74px,#c04149 75px,#ef691f 77px,#f88218 79px,#f88217 82px,#f06a1e 87px,#e15a2f 90px,#d95239 91px,#dc5535 92px,#e96226 93px"></i><i style="--g:#000000 0px,#020102 8px,#3d1951 12px,#662484 16px,#b83d4f 23px,#e45c2c 30px,#ef6a1e 35px,#ed6820 48px,#e86127 49px,#d8513a 50px,#b33a53 51px,#9c3165 52px,#b63c50 53px,#de5733 54px,#f16e1c 55px,#f98717 57px,#f88317 60px,#f16c1d 64px,#e96226 71px,#dc5535 72px,#c54346 73px,#b93d4f 74px,#e86127 76px,#f3731a 77px,#f98817 80px,#ec6622 88px,#db5436 90px,#d95238 91px,#f06b1d 93px"></i><i style="--g:#000000 0px,#030104 8px,#3d1951 12px,#672485 16px,#af3955 22px,#db5436 28px,#ef6a1e 34px,#ec6622 48px,#e45c2c 49px,#cc4841 50px,#a6355c 51px,#a13361 52px,#e86028 54px,#f4751a 55px,#fa8a17 57px,#f88118 60px,#f06c1d 64px,#ec6622 70px,#e55d2c 71px,#ba3e4e 73px,#c34247 74px,#f06b1d 76px,#f88317 78px,#f88317 81px,#e96226 88px,#d95239 90px,#f3731a 93px"></i><i style="--g:#000000 0px,#030105 8px,#3e1952 12px,#672485 16px,#b03955 22px,#dc5536 28px,#f06b1d 34px,#ef691f 47px,#eb6424 48px,#de5733 49px,#9e3263 51px,#ad3757 52px,#d7513a 53px,#ef691f 54px,#f98717 56px,#f98617 59px,#f06c1d 64px,#ea6325 70px,#dc5535 71px,#c44346 72px,#ba3e4e 73px,#e96226 75px,#f88018 77px,#f98617 80px,#ec6523 87px,#da5338 89px,#dc5436 90px,#f16e1c 92px,#f67918 93px"></i><i style="--g:#000000 0px,#000000 7px,#040106 8px,#3e1953 12px,#682484 16px,#b13954 22px,#dc5535 28px,#f06b1d 34px,#ee6820 47px,#e86127 48px,#d64f3b 49px,#b03955 50px,#9e3263 51px,#bd3f4b 52px,#e25b2e 53px,#f3721b 54px,#fa8a17 56px,#f98417 59px,#f16e1c 63px,#ed6721 69px,#e55d2c 70px,#bb3e4d 72px,#c64346 73px,#e05931 74px,#f16d1c 75px,#f98517 77px,#f88417 80px,#ee6820 86px,#da5338 89px,#f4751a 92px,#f77e18 93px"></i><i style="--g:#000000 0px,#000000 7px,#050208 8px,#3f1954 12px,#692484 16px,#b13a54 22px,#dd5535 28px,#f06b1d 34px,#ed6721 47px,#e35c2d 48px,#ca4643 49px,#a4345e 50px,#a5355d 51px,#ce4a40 52px,#eb6424 53px,#f57918 54px,#fa8c17 56px,#f88218 59px,#f16d1c 63px,#ef691f 68px,#dc5536 70px,#c44347 71px,#bc3f4c 72px,#eb6424 74px,#f88118 76px,#f98717 79px,#eb6424 86px,#da5338 88px,#eb6424 90px,#f88118 93px"></i><i style="--g:#000000 0px,#000000 7px,#060209 8px,#3f1955 12px,#6a2584 16px,#b23a53 22px,#dd5634 28px,#f06c1d 34px,#ef6a1e 46px,#eb6424 47px,#dd5535 48px,#bb3e4d 49px,#9e3263 50px,#b33a53 51px,#dc5536 52px,#f16d1c 53px,#fa8917 55px,#f98717 58px,#f16d1c 63px,#ed6721 68px,#e45d2c 69px,#bb3e4d 71px,#c84544 72px,#e25a2f 73px,#f16e1c 74px,#f98617 76px,#f98417 79px,#ed6721 85px,#dc5436 87px,#dc5436 88px,#f16d1c 90px,#f88417 93px"></i><i style="--g:#000000 0px,#000000 7px,#06020a 8px,#401955 12px,#5f227d 15px,#6b2583 16px,#bc3f4c 23px,#e65e2a 30px,#f06c1d 35px,#ee691f 46px,#e86028 47px,#d34d3d 48px,#ad3857 49px,#a03361 50px,#c54346 51px,#e65f29 52px,#f4751a 53px,#fa8b17 55px,#f98417 58px,#f16e1c 62px,#ef6a1e 67px,#ea6325 68px,#c44247 70px,#be3f4b 71px,#ec6622 73px,#f88317 75px,#f98717 78px,#ef6a1e 84px,#da5337 87px,#f4751a 90px,#f98517 93px"></i><i style="--g:#000000 0px,#000000 7px,#150820 9px,#401a56 12px,#60227d 15px,#6b2583 16px,#bc3f4c 23px,#e65e2a 30px,#f16d1c 35px,#ed6721 46px,#e25a2e 47px,#a3345f 49px,#aa3659 50px,#d44e3d 51px,#ee6820 52px,#f98817 54px,#fa8917 57px,#f16e1c 62px,#ed6721 67px,#e45c2c 68px,#bc3f4d 70px,#c94643 71px,#e45c2d 72px,#f2701b 73px,#f98717 75px,#f98517 78px,#ec6622 84px,#db5437 86px,#de5733 87px,#f2711b 89px,#f98417 92px,#f98517 93px"></i><i style="--g:#000000 0px,#000000 7px,#160821 9px,#411a57 12px,#60227e 15px,#6c2583 16px,#bd3f4c 23px,#e65f29 30px,#f16d1c 35px,#f06a1e 45px,#ea6424 46px,#db5337 47px,#b73c50 48px,#9f3362 49px,#b93d4e 50px,#e05831 51px,#f2701b 52px,#fa8b17 54px,#f98717 57px,#f2701b 61px,#ef6a1e 66px,#ea6325 67px,#c34247 69px,#bf404a 70px,#ed6721 72px,#f88417 74px,#f98817 77px,#ee691f 83px,#dd5634 85px,#dc5436 86px,#f16c1d 88px,#f88317 91px,#f88317 93px"></i><i style="--g:#000000 0px,#000000 7px,#271036 10px,#561f73 14px,#6d2582 16px,#bd3f4b 23px,#e65f29 30px,#f16d1c 35px,#ee691f 45px,#e75f29 46px,#d04b3f 47px,#aa3659 48px,#a4345e 49px,#e96226 51px,#f57819 52px,#fa8d18 54px,#f98417 57px,#f26f1c 61px,#ed6721 66px,#e45c2d 67px,#bc3f4c 69px,#cb4842 70px,#e55d2b 71px,#f3711b 72px,#f98817 74px,#f98517 77px,#eb6424 83px,#db5437 85px,#f4741a 88px,#f98417 91px,#f88118 93px"></i><i style="--g:#000000 0px,#000000 7px,#4c1d67 13px,#61227f 15px,#7b297b 17px,#c64445 24px,#e96226 31px,#f16d1c 37px,#ec6622 45px,#e05931 46px,#a13360 48px,#af3855 49px,#d95239 50px,#f06b1d 51px,#fa8917 53px,#fa8917 56px,#f16f1c 61px,#ef6a1e 65px,#e96325 66px,#c24248 68px,#c04149 69px,#ee691f 71px,#f98517 73px,#f98817 76px,#ed6721 82px,#dc5536 84px,#de5633 85px,#f2701b 87px,#f88417 90px,#f77e18 93px"></i><i style="--g:#000000 0px,#000000 7px,#4c1d68 13px,#62227f 15px,#7c297b 17px,#c64445 24px,#e55d2c 30px,#f16d1c 38px,#f06a1e 44px,#e96325 45px,#d8513a 46px,#b33a53 47px,#a03361 48px,#b93d4e 49px,#e15930 50px,#f3721b 51px,#fa8c17 53px,#f98617 56px,#f2701b 60px,#ed6721 65px,#e35b2d 66px,#bc3f4c 68px,#cd4941 69px,#e75f29 70px,#f3731a 71px,#fa8817 73px,#f98517 76px,#ef6a1e 81px,#db5436 84px,#f06b1d 86px,#f88317 89px,#f67a18 93px"></i><i style="--g:#000000 0px,#000000 7px,#4d1d69 13px,#622380 15px,#7d297a 17px,#c74545 24px,#e15930 29px,#f16d1c 39px,#ee6820 44px,#e55d2b 45px,#ca4643 46px,#892c74 47px,#73277f 48px,#b03955 49px,#e55d2b 50px,#f57819 51px,#fa8d18 53px,#f88417 56px,#f26f1c 60px,#ef6a1e 64px,#e96226 65px,#c14149 67px,#c24148 68px,#ef6a1e 70px,#f98517 72px,#f98817 75px,#f06c1d 80px,#db5436 83px,#ec6622 85px,#f88218 88px,#f88018 91px,#f57619 93px"></i><i style="--g:#000000 0px,#000000 7px,#4e1d6a 13px,#642381 15px,#8c2d72 18px,#c94644 24px,#e05931 29px,#e25b2e 33px,#f16d1c 38px,#f06b1d 43px,#ec6523 44px,#d8513a 45px,#902e6f 46px,#491c63 47px,#592076 48px,#b93d4f 49px,#ec6523 50px,#f77e18 51px,#fb8e18 53px,#f16f1c 60px,#ed6721 64px,#e25a2f 65px,#b53b51 66px,#932f6d 67px,#c24148 68px,#e76028 69px,#f3741a 70px,#fa8817 72px,#f98517 75px,#f16e1c 79px,#eb6424 80px,#d8513a 81px,#cc4842 82px,#f26f1c 85px,#f88417 88px,#f57719 92px,#f2701b 93px"></i><i style="--g:#000000 0px,#000000 7px,#451b5d 12px,#652383 15px,#b93d4e 22px,#dc5535 27px,#de5733 30px,#dc5535 33px,#f06b1d 37px,#ef6a1e 43px,#e45c2c 44px,#b23a53 45px,#4a1c64 46px,#230e30 47px,#5e227b 48px,#ce4a40 49px,#f26f1c 50px,#f88417 51px,#fb8e18 53px,#f16e1c 60px,#ef6a1e 63px,#e96127 64px,#c14149 65px,#622380 66px,#61227f 67px,#c54346 68px,#ef6a1e 69px,#f98517 71px,#f98717 74px,#ee6820 79px,#d85139 80px,#a03362 81px,#ad3757 82px,#e25b2e 83px,#ef6a1e 84px,#f88317 87px,#f77f18 90px,#f2701b 92px,#e86127 93px"></i><i style="--g:#000000 0px,#000000 7px,#461b5e 12px,#662484 15px,#b23a54 21px,#dd5634 27px,#df5832 30px,#dc5436 33px,#f06b1d 37px,#f06c1d 42px,#ec6523 43px,#d44e3c 44px,#73277f 45px,#190924 46px,#1f0c2b 47px,#872b75 48px,#e25a2f 49px,#f57918 50px,#fb8e18 52px,#f88317 55px,#f26f1c 59px,#ec6523 63px,#da5338 64px,#76277e 65px,#2c123b 66px,#5f227d 67px,#d7503b 68px,#f3731a 69px,#fa8917 71px,#f98417 74px,#f16d1c 78px,#e45c2c 79px,#9e3263 80px,#592076 81px,#a8355b 82px,#e96226 83px,#f67b18 85px,#f88417 88px,#f4741a 91px,#e96226 92px,#c84544 93px"></i><i style="--g:#000000 0px,#000000 7px,#471b60 12px,#682484 15px,#b43b52 21px,#df5732 27px,#e15930 31px,#e65e2a 34px,#f16d1c 38px,#ef6a1e 42px,#e65e2a 43px,#b63c51 44px,#451b5d 45px,#0c0413 46px,#431a5a 47px,#bc3f4c 48px,#ef691f 49px,#f88118 50px,#fb8e18 52px,#f16e1c 59px,#ee6820 62px,#e65e2a 63px,#b83d4f 64px,#3d1952 65px,#210d2e 66px,#8f2e6f 67px,#e86127 68px,#f67b18 69px,#fa8b17 71px,#f67918 75px,#ed6721 78px,#c94643 79px,#511e6e 80px,#4b1c65 81px,#c54346 82px,#f06b1d 83px,#f88317 86px,#f57719 90px,#ef6a1e 91px,#cb4742 92px,#7f2979 93px"></i><i style="--g:#000000 0px,#000000 7px,#481c61 12px,#6a2583 15px,#b63c51 21px,#e05831 27px,#f16d1c 39px,#ed6721 42px,#dc5436 43px,#912e6e 44px,#341644 45px,#2a1138 46px,#822a78 47px,#de5733 48px,#f47619 49px,#fa8d18 51px,#f98417 54px,#f26f1c 58px,#ef6a1e 61px,#db5437 63px,#8e2d71 64px,#30143f 65px,#4e1d6a 66px,#cb4842 67px,#f2711b 68px,#f88317 69px,#fa8917 72px,#f06b1d 77px,#e65e2a 78px,#9b3166 79px,#3c1950 80px,#77287d 81px,#e15a2f 82px,#f4751a 83px,#f98417 86px,#f3721b 90px,#e35b2e 91px,#872b75 92px,#5a2076 93px"></i><i style="--g:#000000 0px,#000000 7px,#3e1953 11px,#60227d 14px,#6c2582 15px,#b83d4f 21px,#e25a2f 27px,#ed6721 33px,#f06b1d 41px,#ea6325 42px,#cf4a40 43px,#7a287c 44px,#421a59 45px,#60227e 46px,#c54346 47px,#ee691f 48px,#f77f18 49px,#fb8e18 51px,#f16f1c 58px,#ec6622 61px,#e15930 62px,#cc4842 63px,#7e297a 64px,#541f70 65px,#a5345d 66px,#ea6325 67px,#f77d18 68px,#fa8b17 70px,#f16d1c 76px,#eb6523 77px,#db5437 78px,#822a78 79px,#60227e 80px,#c54346 81px,#f06b1d 82px,#f88118 84px,#f78018 87px,#ef6a1e 90px,#cc4842 91px,#5f227c 92px,#7f2979 93px"></i><i style="--g:#000000 0px,#000000 7px,#3f1954 11px,#61227f 14px,#6e2681 15px,#ba3e4e 21px,#e35b2d 27px,#f06b1d 32px,#ef6a1e 41px,#e65e2a 42px,#c64346 43px,#812a78 44px,#6e2682 45px,#ae3856 46px,#e55d2c 47px,#f4751a 48px,#fa8c18 50px,#f98617 53px,#f2701b 57px,#ee6820 60px,#e65e2a 61px,#bf404a 63px,#9a3166 64px,#a4345e 65px,#df5733 66px,#f4751a 67px,#f98517 68px,#f98717 71px,#ed6721 76px,#d54f3c 78px,#9e3263 79px,#b63c51 80px,#e86127 81px,#f57819 82px,#f98417 85px,#f06c1d 89px,#e96127 90px,#bb3e4d 91px,#832a77 92px,#c84644 93px"></i><i style="--g:#000000 0px,#000000 7px,#401a56 11px,#632380 14px,#802a79 16px,#c64446 22px,#ec6622 29px,#f16d1c 36px,#ed6721 41px,#e25a2f 42px,#a13360 44px,#ac3758 45px,#d54e3c 46px,#ee6820 47px,#fa8917 49px,#fa8a17 52px,#f26f1c 57px,#ea6325 60px,#c54346 62px,#be404b 63px,#dd5535 65px,#f16e1c 66px,#f88118 67px,#fa8b17 69px,#ef691f 75px,#ce4a40 79px,#f3731a 81px,#f88317 83px,#f77d18 86px,#ea6325 89px,#e35b2d 90px,#c94644 91px,#c94644 92px,#e96226 93px"></i><i style="--g:#000000 0px,#000000 7px,#351645 10px,#642382 14px,#9d3264 18px,#d6503b 24px,#f16d1c 31px,#f06a1e 40px,#ea6325 41px,#d95239 42px,#b53b51 43px,#a03362 44px,#bc3f4d 45px,#e15a2f 46px,#f3711b 47px,#fa8b17 49px,#f98717 52px,#f16e1c 57px,#ec6622 59px,#e25a2f 60px,#bc3f4c 62px,#cb4742 63px,#e45c2d 64px,#f06c1d 65px,#f98717 67px,#f98517 70px,#f06c1d 74px,#db5436 77px,#e86127 79px,#f77c18 81px,#f88317 84px,#f26f1c 87px,#e45c2d 89px,#e05931 91px,#f3721b 93px"></i><i style="--g:#000000 0px,#010002 7px,#361747 10px,#662483 14px,#b63c51 20px,#e25a2e 26px,#f16d1c 31px,#ee6820 40px,#e55d2b 41px,#cc4842 42px,#a7355b 43px,#a6355c 44px,#cd4941 45px,#eb6424 46px,#f67918 47px,#fa8d18 49px,#f88417 52px,#f16d1c 57px,#e75f29 59px,#bf404a 61px,#c34247 62px,#ef691f 64px,#f98517 66px,#f98717 69px,#ec6523 74px,#db5436 76px,#eb6523 78px,#f88118 81px,#f78018 84px,#ec6622 87px,#e45c2c 89px,#f67918 93px"></i><i style="--g:#000000 0px,#020104 7px,#431a5a 11px,#672485 14px,#b83d4f 20px,#e45c2d 26px,#f16d1c 31px,#f06b1d 39px,#eb6523 40px,#dd5634 41px,#bc3f4c 42px,#a03361 43px,#b43b52 44px,#dc5535 45px,#f16e1c 46px,#fa8a17 48px,#fa8817 51px,#f16e1c 56px,#ea6325 58px,#c64445 60px,#bd3f4b 61px,#e96226 63px,#f88217 65px,#fa8917 68px,#ed6820 73px,#dc5535 75px,#de5634 76px,#f26f1c 78px,#f88417 81px,#f67b18 84px,#e65e2a 87px,#e45c2d 88px,#f3731a 91px,#f77d18 93px"></i><i style="--g:#000000 0px,#030105 7px,#441b5c 11px,#692584 14px,#ba3e4e 20px,#e55d2b 26px,#f16d1c 30px,#ef691f 39px,#e76028 40px,#d24c3e 41px,#ad3757 42px,#a23460 43px,#c74445 44px,#e76028 45px,#f47619 46px,#fa8c18 48px,#f98517 51px,#ed6721 57px,#e25b2e 58px,#bc3f4c 60px,#ca4643 61px,#e35b2e 62px,#f26f1c 63px,#f98717 65px,#f98517 68px,#ef6a1e 72px,#dd5634 74px,#dc5535 75px,#f06c1d 77px,#f88317 80px,#f77d18 83px,#e35b2d 87px,#f4741a 90px,#f77d18 93px"></i><i style="--g:#000000 0px,#000000 6px,#040107 7px,#461b5e 11px,#6b2583 14px,#b23a54 19px,#dc5535 24px,#f16d1c 30px,#f06c1d 38px,#e15930 40px,#a23360 42px,#ae3857 43px,#d7503b 44px,#ef6a1e 45px,#fa8917 47px,#fa8917 50px,#ef691f 56px,#d6503b 58px,#c0414a 59px,#c24248 60px,#ee691f 62px,#f98517 64px,#f98717 67px,#f16c1d 71px,#db5436 74px,#f4751a 77px,#f98417 80px,#f47619 83px,#e35b2d 86px,#f3741a 89px,#f77c18 93px"></i><i style="--g:#000000 0px,#000000 6px,#050208 7px,#471b60 11px,#60227d 13px,#6e2682 14px,#bf404a 20px,#e86028 26px,#f16d1c 30px,#ef6a1e 38px,#e96226 39px,#d8513a 40px,#b23a53 41px,#a03361 42px,#be404b 43px,#e35b2d 44px,#f3731a 45px,#fa8c17 47px,#f98617 50px,#f06b1d 55px,#dd5634 57px,#c74445 58px,#bd3f4c 59px,#e96226 61px,#f4751a 62px,#fa8917 64px,#f88317 67px,#ec6622 71px,#db5436 73px,#ec6523 75px,#f88218 78px,#f77f18 81px,#f16d1c 83px,#e35c2d 85px,#f57819 89px,#f67c18 92px,#f57719 93px"></i><i style="--g:#000000 0px,#000000 6px,#06020a 7px,#481c61 11px,#61227f 13px,#812a79 15px,#c14149 20px,#e96127 26px,#f16d1c 30px,#ee6820 38px,#e45c2c 39px,#ca4643 40px,#a6355d 41px,#a8355b 42px,#d04b3f 43px,#ec6622 44px,#f98717 46px,#fa8a17 49px,#ed6721 55px,#e35b2d 56px,#bd3f4c 58px,#c94644 59px,#f16e1c 61px,#f98717 63px,#f98617 66px,#ee6820 70px,#dc5535 72px,#de5633 73px,#f26f1c 75px,#f88417 78px,#f67a18 81px,#e45c2c 84px,#f57819 88px,#f67c18 91px,#f16d1c 93px"></i><i style="--g:#000000 0px,#000000 6px,#07020b 7px,#491c63 11px,#632381 13px,#832a77 15px,#c44247 20px,#ea6325 26px,#f16d1c 29px,#f06b1d 37px,#eb6424 38px,#dc5436 39px,#b93d4e 40px,#a03362 41px,#b73c50 42px,#de5733 43px,#f26f1c 44px,#fa8b17 46px,#f98817 49px,#ef6a1e 54px,#d7503b 56px,#c14149 57px,#c14149 58px,#ee6820 60px,#f98517 62px,#f98817 65px,#f06b1d 69px,#de5634 71px,#dc5535 72px,#f06c1d 74px,#f88317 77px,#f67b18 80px,#e45d2c 83px,#f67b18 88px,#f57719 91px,#ec6523 93px"></i><i style="--g:#000000 0px,#000000 6px,#08030c 7px,#4b1c65 11px,#642382 13px,#952f6b 16px,#ce4a40 21px,#ef6a1e 27px,#ee691f 37px,#e75f29 38px,#d04b3f 39px,#ab3658 40px,#a3345f 41px,#e86127 43px,#f57719 44px,#fa8d18 46px,#f98517 49px,#eb6523 54px,#c74544 56px,#bd3f4c 57px,#d14c3f 58px,#e86127 59px,#f4741a 60px,#fa8917 62px,#f88417 65px,#f16d1c 68px,#db5436 71px,#f4751a 74px,#f98417 77px,#f3731a 80px,#e55d2b 82px,#ec6622 84px,#f77d18 88px,#f16e1c 91px,#ea6424 93px"></i><i style="--g:#000000 0px,#000000 6px,#09030e 7px,#3f1954 10px,#662484 13px,#b23a54 18px,#de5633 23px,#f16d1c 28px,#f06b1d 36px,#ec6622 37px,#df5832 38px,#a13361 40px,#b03955 41px,#d95239 42px,#f06b1d 43px,#fa8a17 45px,#fa8917 48px,#ee6820 53px,#e45c2c 54px,#bd3f4c 56px,#c84544 57px,#f16e1c 59px,#f98717 61px,#f98617 64px,#ec6622 68px,#db5436 70px,#ec6523 72px,#f88218 75px,#f77e18 78px,#e65e2a 81px,#ec6523 83px,#f77d18 87px,#f16f1c 90px,#ea6424 92px,#ed6721 93px"></i><i style="--g:#000000 0px,#000000 6px,#0a030f 7px,#401a56 10px,#682484 13px,#b43b52 18px,#df5832 23px,#f16d1c 28px,#ef6a1e 36px,#e96127 37px,#d64f3c 38px,#b03955 39px,#a13361 40px,#c14149 41px,#e55d2c 42px,#f4741a 43px,#fa8c18 45px,#f98617 48px,#f06b1d 52px,#d8513a 54px,#c14149 55px,#c14149 56px,#ed6721 58px,#f98417 60px,#f98817 63px,#ee691f 67px,#dc5535 69px,#de5733 70px,#f26f1c 72px,#f88417 75px,#f57719 78px,#e75f29 80px,#eb6424 82px,#f77d18 86px,#f26f1c 89px,#eb6424 91px,#f06b1d 93px"></i><i style="--g:#000000 0px,#000000 6px,#1e0c2b 8px,#4f1d6b 11px,#6b2583 13px,#b63c50 18px,#e15930 23px,#f16d1c 27px,#ed6721 36px,#e35b2e 37px,#a4345e 39px,#aa3659 40px,#d24d3e 41px,#ed6721 42px,#fa8817 44px,#fa8a17 47px,#ec6622 52px,#c84544 54px,#bd3f4c 55px,#d04b3f 56px,#e86028 57px,#f3731a 58px,#fa8b17 61px,#f4751a 65px,#e86028 67px,#de5634 68px,#dc5535 69px,#f06c1d 71px,#f88317 74px,#f67918 77px,#e86127 79px,#e55d2b 80px,#f4751a 83px,#f77d18 86px,#eb6424 90px,#f16d1c 93px"></i><i style="--g:#000000 0px,#000000 6px,#200d2c 8px,#501e6c 11px,#6d2582 13px,#b93d4f 18px,#e35b2e 23px,#f16d1c 27px,#f06b1d 35px,#ea6325 36px,#da5337 37px,#b73c50 38px,#a03362 39px,#b93d4e 40px,#e05831 41px,#f2701b 42px,#fa8b17 44px,#f98717 47px,#ef6a1e 51px,#e55d2b 52px,#bd3f4c 54px,#c74545 55px,#e05930 56px,#f4751a 58px,#fa8b17 60px,#f77f18 63px,#ea6424 66px,#dc5436 68px,#f4751a 71px,#f98417 74px,#f67a18 76px,#e55d2b 79px,#f67918 83px,#f57719 86px,#ea6424 88px,#f16d1c 93px"></i><i style="--g:#000000 0px,#000000 6px,#210d2e 8px,#521e6e 11px,#60227d 12px,#702681 13px,#bb3e4d 18px,#e45c2c 23px,#f16d1c 27px,#ee691f 35px,#e65e2a 36px,#ce4941 37px,#a9365a 38px,#a5345d 39px,#ea6325 41px,#f57819 42px,#fa8d18 44px,#f98417 47px,#f16e1c 50px,#d95239 52px,#c24248 53px,#c04149 54px,#d95139 55px,#d95239 56px,#ed6721 57px,#f77f18 58px,#fa8b17 60px,#f3721b 64px,#d64f3b 67px,#d54f3c 68px,#ea6325 69px,#f67c18 71px,#f88217 74px,#f47619 75px,#d6503b 77px,#f06b1d 80px,#f77c18 83px,#f67c18 84px,#f2711b 85px,#e35b2e 86px,#d7503b 87px,#ed6721 89px,#f06c1d 92px,#eb6424 93px"></i><i style="--g:#000000 0px,#000000 6px,#451b5d 10px,#61227f 12px,#852b77 14px,#c94644 19px,#ef691f 25px,#f06b1d 34px,#ec6523 35px,#de5733 36px,#aa3659 37px,#662484 38px,#8d2d71 39px,#da5338 40px,#f16c1d 41px,#fa8a17 43px,#fa8917 46px,#ed6721 50px,#c94643 52px,#b63c50 54px,#a03361 55px,#dd5535 56px,#f57819 57px,#f98817 58px,#f98417 61px,#ef6a1e 64px,#dd5634 65px,#a4345e 66px,#a5345d 67px,#df5832 68px,#f2701b 69px,#f98417 72px,#f88118 73px,#f16e1c 74px,#ca4743 75px,#9e3263 76px,#ce4a40 77px,#e86127 78px,#f57819 81px,#f67a18 83px,#ed6721 84px,#c14149 85px,#a03361 86px,#d54f3c 87px,#ed6721 88px,#f06b1d 91px,#e35c2d 92px,#b23a53 93px"></i><i style="--g:#000000 0px,#000000 6px,#471b5f 10px,#632381 12px,#882b75 14px,#c14149 18px,#e76028 23px,#f16d1c 26px,#ef6a1e 34px,#e86028 35px,#c0404a 36px,#511e6d 37px,#321542 38px,#862b76 39px,#e25a2f 40px,#f4751a 41px,#fa8c18 43px,#f98617 46px,#f06c1d 49px,#e65f29 50px,#be404b 52px,#722780 53px,#541f70 54px,#c64446 55px,#f3731a 56px,#f98617 57px,#f98617 60px,#f06b1d 63px,#ca4743 64px,#5a2077 65px,#61227f 66px,#d24d3e 67px,#f16d1c 68px,#f88417 71px,#f88018 72px,#eb6523 73px,#932f6c 74px,#511e6d 75px,#af3955 76px,#e86028 77px,#f57819 80px,#f57819 82px,#e45c2c 83px,#7f2979 84px,#541f71 85px,#bd3f4c 86px,#eb6523 87px,#f16d1c 89px,#ee691f 90px,#d8513a 91px,#702681 92px,#501e6c 93px"></i><i style="--g:#000000 0px,#000000 6px,#481c62 10px,#652383 12px,#9b3166 15px,#cd4941 19px,#f16d1c 25px,#f06b1d 33px,#ec6622 34px,#dc5436 35px,#79287c 36px,#0f0517 37px,#220e30 38px,#a5345d 39px,#ec6622 40px,#f77d18 41px,#fb8e18 43px,#f88317 46px,#eb6424 49px,#c44247 51px,#481b61 52px,#2d133c 53px,#b33b52 54px,#f26f1c 55px,#f98417 56px,#fa8917 59px,#f67a18 61px,#ef6a1e 62px,#b63c51 63px,#321542 64px,#411a58 65px,#ca4643 66px,#ef6a1e 67px,#f88317 70px,#f77f18 71px,#e65e2a 72px,#61227e 73px,#260f34 74px,#9b3166 75px,#e86028 76px,#f57819 79px,#f57719 81px,#db5437 82px,#4f1d6b 83px,#2d133c 84px,#ad3757 85px,#eb6424 86px,#f16e1c 88px,#ee6820 89px,#cc4841 90px,#481b61 91px,#2b1239 92px,#a7355b 93px"></i><i style="--g:#000000 0px,#000000 6px,#281036 8px,#3c1950 10px,#481b61 11px,#11061a 12px,#1a0a26 15px,#872b75 16px,#a03361 18px,#271035 19px,#b63c51 20px,#2c123c 21px,#321542 23px,#d6503b 24px,#371748 25px,#371748 32px,#da5337 33px,#da5337 34px,#371748 35px,#371749 36px,#010002 37px,#491c63 38px,#d04b3f 39px,#e75f29 40px,#eb6424 41px,#401a56 42px,#ef6a1e 43px,#401a56 44px,#3e1953 45px,#e75f29 46px,#e25a2e 47px,#39184b 48px,#dc5535 49px,#371749 50px,#311541 52px,#3b184f 54px,#e96226 55px,#ed6721 57px,#401955 58px,#39184b 62px,#2e133e 63px,#461b5f 64px,#ce4941 65px,#39184b 66px,#3a184d 67px,#e65f29 68px,#3d1952 69px,#3d1951 72px,#291138 73px,#a4345e 74px,#39184b 75px,#39184b 76px,#e15930 77px,#e35b2e 78px,#3b184f 79px,#3c1950 80px,#d95239 81px,#4a1c65 82px,#321542 83px,#39184c 84px,#de5733 85px,#dd5535 86px,#371749 87px,#db5436 88px,#ca4643 89px,#371749 90px,#2f143e 91px,#371749 92px,#371749 93px"></i><i style="--g:#000000 0px,#000000 6px,#4c1c67 10px,#6b2583 12px,#b03954 16px,#db5436 20px,#f16f1c 25px,#f06b1d 32px,#eb6424 33px,#dc5535 34px,#a3345f 35px,#341644 36px,#2a1139 37px,#9a3167 38px,#ea6325 39px,#f77d18 40px,#fb8f18 42px,#f88317 45px,#f16e1c 47px,#e75f29 48px,#d24d3e 49px,#642381 50px,#5b2178 51px,#ce4a40 52px,#f16d1c 53px,#fa8817 55px,#fa8817 58px,#f88018 59px,#f16e1c 60px,#c44247 61px,#551f71 62px,#712680 63px,#db5437 64px,#eb6523 65px,#f88317 68px,#f88118 69px,#e96226 70px,#872b76 71px,#592076 72px,#c54346 73px,#e86127 74px,#f77d18 78px,#f57819 79px,#e05831 80px,#712680 81px,#5f227c 82px,#ce4a40 83px,#ef691f 84px,#f2701b 86px,#ef6a1e 87px,#d34d3d 88px,#642382 89px,#592076 90px,#c84544 91px,#ed6721 92px,#f2701b 93px"></i><i style="--g:#000000 0px,#000000 6px,#3e1953 9px,#5d217a 11px,#6e2681 12px,#b43b52 16px,#dd5634 20px,#f26f1c 24px,#f16e1c 31px,#e45c2c 33px,#cc4842 34px,#993167 35px,#521e6f 36px,#7d297a 37px,#db5337 38px,#f57619 39px,#fb8f18 41px,#f98717 44px,#eb6523 47px,#da5338 48px,#a8365a 49px,#a8355b 50px,#db5437 51px,#ee6820 52px,#f98717 54px,#fa8b17 57px,#f4741a 59px,#db5437 60px,#a03361 61px,#b73c50 62px,#e05831 63px,#f2701b 65px,#f88417 67px,#f88317 68px,#f16d1c 69px,#c64445 70px,#b03955 71px,#e05930 72px,#f67a18 76px,#f67c18 78px,#eb6424 79px,#b93d4e 80px,#b23a53 81px,#e45c2d 82px,#ef6a1e 83px,#f3721b 85px,#f16d1c 86px,#e05931 87px,#aa3659 88px,#a7355c 89px,#de5733 90px,#f16c1d 91px,#f3721b 93px"></i><i style="--g:#000000 0px,#000000 6px,#401a56 9px,#60227d 11px,#722780 12px,#b83d4f 16px,#e05831 20px,#f2701b 24px,#f06c1d 31px,#e96226 32px,#d8513a 33px,#b63c50 34px,#a3345f 35px,#9e3263 36px,#d14c3f 37px,#f16d1c 38px,#f88317 39px,#fb9119 41px,#f88217 44px,#ef6a1e 46px,#ca4743 48px,#c14149 49px,#d44e3c 50px,#ea6325 51px,#f57719 52px,#fa8d18 54px,#f98717 57px,#f67b18 58px,#eb6424 59px,#d8513a 60px,#e86028 63px,#f67b18 65px,#f98617 67px,#f67918 68px,#e96127 69px,#e35b2e 70px,#f06b1d 71px,#ea6424 72px,#f88018 76px,#f78018 77px,#f3721b 78px,#e45c2c 79px,#e25b2e 80px,#f06c1d 81px,#f3721b 85px,#eb6523 86px,#d95238 87px,#da5338 88px,#ec6523 89px,#f4741a 91px,#f4741a 93px"></i><i style="--g:#000000 0px,#000000 6px,#421a58 9px,#622380 11px,#8b2c73 13px,#c94644 17px,#ed6820 22px,#f3711b 26px,#f16f1c 30px,#ed6820 31px,#e15930 32px,#a7355b 34px,#af3856 35px,#d44e3d 36px,#ed6721 37px,#fa8c17 39px,#fb9219 41px,#f77d18 44px,#e75f29 46px,#d24c3e 47px,#c24148 48px,#ce4940 49px,#e65e2a 50px,#f3731a 51px,#fa8c18 53px,#fa8a17 56px,#ed6721 59px,#e05931 61px,#f16c1d 63px,#fa8917 66px,#ec6622 71px,#f88417 76px,#f3721b 79px,#f3721b 82px,#f47619 84px,#ec6622 86px,#f57719 90px,#f57719 93px"></i><i style="--g:#000000 0px,#000000 6px,#321542 8px,#652383 11px,#b13a54 15px,#de5733 19px,#f3721b 23px,#f06c1d 30px,#e86028 31px,#d24d3e 32px,#b03955 33px,#a8355b 34px,#c74445 35px,#e75f29 36px,#f57719 37px,#fb9119 39px,#fa8b17 42px,#f4751a 44px,#ec6523 45px,#c64346 47px,#c94644 48px,#f16e1c 50px,#fa8b17 52px,#fa8d18 55px,#f2701b 58px,#e25a2f 60px,#ef6a1e 62px,#fa8a17 65px,#f88317 68px,#ee691f 70px,#f3731a 72px,#f98717 75px,#f78018 78px,#f2701b 80px,#f57719 84px,#f67a18 93px"></i><i style="--g:#000000 0px,#010001 6px,#341644 8px,#682485 11px,#b53b51 15px,#e15930 19px,#f3731a 23px,#f26f1c 29px,#ec6622 30px,#dd5535 31px,#be3f4b 32px,#a7355c 33px,#b93d4e 34px,#dd5634 35px,#f26f1c 36px,#fb9019 38px,#fb8e18 41px,#f06b1d 44px,#cb4742 46px,#c64445 47px,#ee6820 49px,#fa8a17 51px,#fb8f19 54px,#f4751a 57px,#e45c2c 59px,#e45d2c 60px,#f57719 62px,#fb8e18 65px,#f98817 67px,#f06c1d 69px,#ef6a1e 70px,#fa8a17 74px,#f98417 77px,#f3721b 79px,#f77c18 83px,#f77d18 93px"></i><i style="--g:#000000 0px,#030104 6px,#361747 8px,#592076 10px,#6c2583 11px,#b93d4e 15px,#e35c2d 19px,#f4741a 23px,#f3721b 28px,#f06b1d 29px,#e55d2b 30px,#ac3757 32px,#af3856 33px,#ed6721 35px,#fa8d18 37px,#fc951a 39px,#f78018 42px,#f3721b 43px,#d24c3e 45px,#c54346 46px,#d44e3d 47px,#ea6325 48px,#f57819 49px,#fb9019 51px,#fa8d18 54px,#f06b1d 57px,#e45c2c 59px,#f88317 62px,#fb9019 65px,#f77e18 67px,#f26f1c 68px,#f06b1d 69px,#fa8c17 73px,#fa8917 76px,#f4751a 78px,#f78018 83px,#f88018 93px"></i><i style="--g:#000000 0px,#000000 5px,#040106 6px,#38174a 8px,#5c2179 10px,#702681 11px,#bd3f4b 15px,#e65e2a 19px,#f4741a 22px,#f26f1c 28px,#eb6424 29px,#d8513a 30px,#b73c50 31px,#aa3659 32px,#c64446 33px,#e65e2a 34px,#f57719 35px,#fa8a17 36px,#fc961a 38px,#f98517 41px,#ec6622 43px,#c74445 45px,#ce4940 46px,#f3731a 48px,#fb8f18 50px,#fb8f18 53px,#f26f1c 56px,#e45c2c 58px,#f88118 61px,#fb9219 64px,#f88217 66px,#f06c1d 68px,#fa8d18 72px,#fa8c18 75px,#f57819 77px,#f88317 83px,#f88317 93px"></i><i style="--g:#000000 0px,#000000 5px,#050208 6px,#3a184c 8px,#5e227c 10px,#74277f 11px,#c24148 15px,#e86127 19px,#f47619 22px,#f3721b 27px,#ef6a1e 28px,#e15930 29px,#aa3659 31px,#b83d4f 32px,#dc5535 33px,#f16f1c 34px,#fb9119 36px,#fb9119 39px,#f06c1d 42px,#cb4742 44px,#ca4643 45px,#f16d1c 47px,#fa8d18 49px,#fb9119 52px,#f4741a 55px,#e55d2b 57px,#f26f1c 59px,#fb9019 62px,#fb9019 64px,#f16d1c 67px,#fa8d18 71px,#fb8f18 74px,#f67a18 76px,#f98617 83px,#f98617 93px"></i><i style="--g:#000000 0px,#000000 5px,#07020a 6px,#3b184f 8px,#61227e 10px,#78287d 11px,#c54346 15px,#ea6325 19px,#f57619 22px,#f16e1c 27px,#e86127 28px,#b13954 30px,#af3856 31px,#ec6622 33px,#f77e18 34px,#fc951a 36px,#fa8d18 39px,#f3721b 41px,#d14c3e 43px,#c84544 44px,#d95239 45px,#ed6721 46px,#fa8b17 48px,#fb9319 51px,#f57819 54px,#e65e2a 56px,#e76028 57px,#f67c18 59px,#fb9319 62px,#fa8a17 64px,#f16f1c 66px,#f77d18 68px,#fb9119 71px,#fb9019 73px,#f67918 76px,#f98717 80px,#f98717 93px"></i><i style="--g:#000000 0px,#000000 5px,#08030d 6px,#3d1951 8px,#632381 10px,#932f6d 12px,#c84544 15px,#ec6622 19px,#f57719 22px,#f3721b 26px,#ed6721 27px,#dc5436 28px,#bc3f4c 29px,#ab3659 30px,#c34247 31px,#e45c2c 32px,#f47619 33px,#fa8a17 34px,#fc971b 36px,#f98717 39px,#eb6523 41px,#d8513a 42px,#c84544 43px,#d24d3e 44px,#f57719 46px,#fb9119 48px,#fb8f18 51px,#f06c1d 54px,#e76028 55px,#e65e2a 56px,#f98617 59px,#fb9219 62px,#f2701b 65px,#f2701b 66px,#fa8b17 69px,#fb9119 72px,#f67918 75px,#f98617 79px,#f98817 93px"></i><i style="--g:#000000 0px,#000000 5px,#09030f 6px,#3f1954 8px,#662484 10px,#ab3659 13px,#d7503b 16px,#f2701b 20px,#f57719 23px,#f06c1d 26px,#e45c2c 27px,#ac3757 29px,#b53c51 30px,#da5338 31px,#f16d1c 32px,#fb9119 34px,#fc971b 36px,#f77e18 39px,#f06b1d 40px,#ca4743 42px,#cd4941 43px,#f2711b 45px,#fb8f18 47px,#fb9019 50px,#f2701b 53px,#e55d2b 55px,#f88317 58px,#fa8d18 62px,#f2711b 64px,#f16f1c 65px,#f98617 68px,#fb9119 71px,#f57918 74px,#f88217 76px,#f98717 93px"></i><i style="--g:#000000 0px,#000000 5px,#0b0411 6px,#411a57 8px,#692484 10px,#ae3856 13px,#d95238 16px,#f3731a 20px,#f4751a 24px,#ea6325 26px,#d54f3c 27px,#822a78 28px,#993168 29px,#cc4841 30px,#ea6325 31px,#f77c18 32px,#fc951a 34px,#fb8e18 37px,#f3721b 39px,#cf4a40 41px,#c94643 42px,#f06a1e 44px,#fa8d18 46px,#fb941a 48px,#f88417 50px,#f3731a 51px,#f3721b 52px,#e55d2b 54px,#f2701b 56px,#f98717 58px,#f77d18 60px,#fa8917 61px,#f3721b 63px,#f16d1c 64px,#f88118 66px,#f57819 68px,#fb8e18 70px,#f57819 73px,#f88018 75px,#f3721b 77px,#f98417 79px,#f98617 93px"></i><i style="--g:#000000 0px,#000000 5px,#0c0413 6px,#421a59 8px,#571f73 9px,#6c2583 10px,#b13a54 13px,#dc5436 16px,#f47619 20px,#f2711b 24px,#ec6622 25px,#dc5535 26px,#a23460 27px,#4d1d69 28px,#b23a53 29px,#e15a2f 30px,#f3741a 31px,#fa8917 32px,#fc971b 34px,#f98517 37px,#ea6325 39px,#d64f3b 40px,#c84544 41px,#d6503b 42px,#eb6424 43px,#f67a18 44px,#fb9219 46px,#fb9219 48px,#f98417 49px,#ed6721 50px,#e76028 52px,#da5338 53px,#f16c1d 55px,#f98517 57px,#ed6721 59px,#f77c18 61px,#e86127 62px,#f3731a 64px,#f77e18 65px,#f77c18 66px,#ee6820 67px,#ee691f 68px,#f88218 69px,#fa8c17 70px,#f57719 72px,#f77e18 74px,#e55d2b 76px,#f77e18 78px,#f98517 92px,#f98517 93px"></i><i style="--g:#000000 0px,#000000 5px,#0d0415 6px,#441b5c 8px,#592076 9px,#702681 10px,#b53b51 13px,#de5633 16px,#f2701b 19px,#f57719 21px,#ee6820 24px,#e05831 25px,#c64445 26px,#642381 27px,#60227d 28px,#d7513a 29px,#f06b1d 30px,#f88317 31px,#fc971b 33px,#fb9119 35px,#f4741a 37px,#da5337 39px,#b43b52 40px,#d04b3f 41px,#d64f3b 42px,#f2711b 43px,#f98717 44px,#fb941a 46px,#fa8917 48px,#eb6523 49px,#d14c3e 50px,#e75f29 51px,#ca4643 52px,#d64f3b 53px,#ef691f 54px,#f98517 56px,#f57719 57px,#e05931 58px,#e45c2c 59px,#f77d18 60px,#d95239 62px,#f26f1c 63px,#f67b18 64px,#f77d18 65px,#e96226 66px,#d95239 67px,#f16c1d 68px,#f98717 69px,#f47619 72px,#f67b18 73px,#f06b1d 74px,#d44e3c 75px,#dc5535 76px,#f3731a 77px,#f88118 78px,#f88317 93px"></i><i style="--g:#000000 0px,#000000 5px,#0f0517 6px,#461b5f 8px,#5b2178 9px,#73277f 10px,#b83d4f 13px,#e05931 16px,#f3731a 19px,#f3741a 22px,#f06b1d 23px,#e45c2d 24px,#b03954 26px,#6b2583 27px,#b73c50 28px,#eb6424 29px,#f77e18 30px,#fb9019 31px,#fc981b 33px,#f88417 35px,#f2711b 36px,#d6503b 38px,#b93d4f 40px,#c24248 41px,#ea6325 42px,#f98617 43px,#fb941a 45px,#f98817 47px,#f16e1c 48px,#cb4742 49px,#d44e3c 50px,#e45c2c 51px,#c24248 52px,#e86127 53px,#f57819 54px,#f98717 55px,#f88118 56px,#e55d2b 57px,#d14c3e 58px,#f06c1d 59px,#f2701b 60px,#da5338 61px,#e25a2f 62px,#f67a18 63px,#f88317 64px,#f06b1d 65px,#cf4b3f 66px,#e15930 67px,#f77e18 68px,#f4741a 71px,#f57918 72px,#f3721b 73px,#d7503b 74px,#c64445 75px,#eb6523 76px,#f77d18 77px,#f88217 93px"></i><i style="--g:#000000 0px,#000000 5px,#100519 6px,#481c62 8px,#5e217b 9px,#77287d 10px,#bc3f4c 13px,#e35b2e 16px,#f57719 19px,#f16e1c 22px,#e76028 23px,#b53c51 25px,#b73c50 27px,#e96226 28px,#f67c18 29px,#fc991b 31px,#fb9219 33px,#f16e1c 35px,#d34d3d 37px,#cd4941 38px,#d7503b 39px,#d34e3d 40px,#e65e2a 41px,#f98517 42px,#fb941a 43px,#fa8d18 45px,#f3721b 47px,#e05831 48px,#d24d3e 49px,#e96127 50px,#e35b2d 52px,#f77e18 53px,#fa8b17 54px,#fa8917 55px,#f3711b 56px,#da5337 57px,#f16e1c 59px,#f16d1c 60px,#e45c2d 61px,#f3731a 62px,#fa8917 63px,#f77e18 64px,#e35c2d 65px,#dc5535 66px,#f3731a 67px,#f67b18 72px,#e96127 73px,#ce4940 74px,#f67918 76px,#f88217 78px,#f88317 93px"></i><i style="--g:#000000 0px,#000000 5px,#12061b 6px,#331644 7px,#60227e 9px,#7b297b 10px,#c0414a 13px,#e55d2b 16px,#f67918 19px,#f2711b 21px,#ea6424 22px,#bc3f4c 24px,#b33a53 25px,#cc4842 26px,#e86127 27px,#f67c18 28px,#fb9119 29px,#fc9c1d 30px,#fb931a 32px,#f06b1d 34px,#d44e3d 36px,#d34e3d 37px,#ee6820 39px,#ef6a1e 40px,#fa8917 41px,#fc971b 42px,#f98717 44px,#ec6523 47px,#e65f29 48px,#f4751a 50px,#f2711b 51px,#fa8c17 53px,#f67b18 55px,#ef691f 56px,#ed6721 57px,#f67a18 59px,#f57819 61px,#fa8c17 62px,#fa8917 63px,#ea6325 65px,#f57719 67px,#f88218 71px,#f4751a 72px,#e86028 73px,#e96325 74px,#f57819 75px,#f98517 77px,#f98517 93px"></i><i style="--g:#000000 0px,#000000 5px,#13071e 6px,#361747 7px,#632381 9px,#7f2a79 10px,#c44247 13px,#ef6a1e 17px,#f57918 19px,#ed6820 21px,#c34247 23px,#b63c51 24px,#ca4743 25px,#e76028 26px,#f67c18 27px,#fb9319 28px,#fc9f1e 29px,#fb941a 31px,#ee691f 33px,#d7503b 35px,#dc5536 36px,#f47619 38px,#fb9219 40px,#fc971b 41px,#f06b1d 45px,#f16f1c 47px,#fb9019 50px,#f77e18 53px,#f4751a 55px,#fb9019 59px,#f98517 62px,#f57819 64px,#f98717 70px,#f3731a 73px,#f98717 75px,#fa8917 93px"></i><i style="--g:#000000 0px,#000000 5px,#160820 6px,#38174a 7px,#662483 9px,#b43b52 12px,#e15930 15px,#f57719 18px,#f06a1e 20px,#c94644 22px,#b83d4f 23px,#c94644 24px,#e65e2a 25px,#f67b18 26px,#fb941a 27px,#fda320 28px,#fb931a 30px,#f77e18 31px,#e05831 33px,#dc5535 34px,#f16e1c 36px,#fc951a 38px,#fc9a1c 39px,#f3721b 43px,#f3741a 45px,#fc951a 48px,#f67a18 53px,#fb941a 57px,#f77f18 63px,#fa8b17 70px,#f98617 73px,#fa8d18 88px,#fa8d18 93px"></i><i style="--g:#000000 0px,#000000 5px,#511e6d 8px,#692484 9px,#b83d4f 12px,#e35b2d 15px,#f4751a 18px,#f06c1d 19px,#e45c2c 20px,#b93d4e 22px,#c64445 23px,#e35b2e 24px,#f57918 25px,#fb941a 26px,#fda320 27px,#fb9019 29px,#f67918 30px,#e15930 32px,#e25a2f 33px,#f67a18 35px,#fc9c1d 37px,#f4741a 42px,#fb8e18 45px,#fc981b 46px,#f77e18 51px,#fc981b 55px,#f88118 60px,#fb8e18 69px,#fb8f18 93px"></i><i style="--g:#000000 0px,#000000 5px,#541f70 8px,#6d2582 9px,#bc3f4c 12px,#e65e2a 15px,#f26f1c 17px,#f16d1c 18px,#e65e2a 19px,#b93d4e 21px,#c04149 22px,#f3731a 24px,#fb9019 25px,#fc9e1e 26px,#fa8917 28px,#e86127 30px,#e25a2f 31px,#f16f1c 33px,#fc961a 35px,#fb8e18 37px,#f57719 40px,#fb8e18 43px,#fc981b 44px,#f77f18 49px,#fc971b 53px,#f88118 58px,#fb8f18 66px,#fb8f18 93px"></i><i style="--g:#000000 0px,#000000 5px,#3e1952 7px,#561f73 8px,#712680 9px,#c04149 12px,#e75f29 15px,#ee691f 17px,#e75f29 18px,#b83d4f 20px,#b93d4f 21px,#ef6a1e 23px,#f98617 24px,#fb9219 25px,#f67a18 27px,#df5732 29px,#ea6424 31px,#fa8817 33px,#fb8f18 34px,#f47619 38px,#fb931a 42px,#f67b18 46px,#fb9119 51px,#f77e18 56px,#fa8c18 63px,#fa8d18 93px"></i><i style="--g:#000000 0px,#000000 5px,#401a56 7px,#592076 8px,#76277e 9px,#c54346 12px,#e45d2c 15px,#e15930 17px,#ce4a40 18px,#9b3166 19px,#a5345d 20px,#cd4941 21px,#e96127 22px,#f67a18 23px,#f88317 24px,#ee691f 26px,#de5634 28px,#ec6622 30px,#f98517 32px,#f2711b 36px,#fa8b17 40px,#f4751a 44px,#fa8a17 48px,#f67a18 54px,#f98817 62px,#f98817 93px"></i><i style="--g:#000000 0px,#000000 5px,#421a59 7px,#5c2179 8px,#7a287c 9px,#c84544 12px,#db5436 14px,#d64f3c 16px,#b03955 18px,#7e297a 19px,#c44346 20px,#e15a2f 21px,#f2701b 22px,#f3721b 23px,#d95239 26px,#d95239 27px,#f47619 30px,#ef691f 34px,#f88018 38px,#f16e1c 42px,#f78018 46px,#f4751a 51px,#f88217 60px,#f88217 93px"></i><i style="--g:#000000 0px,#000000 5px,#451b5c 7px,#5f227c 8px,#7f2a79 9px,#b73c50 11px,#ca4743 12px,#d34d3d 13px,#cc4842 14px,#aa3659 15px,#b93d4f 16px,#ab3658 17px,#b53b52 19px,#dd5634 20px,#ee6820 21px,#e05931 23px,#cf4a40 25px,#e25b2e 27px,#ed6721 28px,#f06c1d 29px,#e96226 32px,#f57719 36px,#ee6820 40px,#f47619 44px,#f3711b 49px,#f77d18 58px,#f77d18 93px"></i><i style="--g:#000000 0px,#000000 5px,#271035 6px,#471b60 7px,#622380 8px,#842b77 9px,#bc3f4c 11px,#cb4842 12px,#cb4742 13px,#973069 14px,#7d297a 15px,#a8365a 16px,#b33a53 17px,#e05831 19px,#eb6523 20px,#ca4643 23px,#cb4742 24px,#ed6721 27px,#e55d2b 30px,#f26f1c 34px,#eb6424 38px,#f3721b 41px,#f16d1c 46px,#f67a18 54px,#f67a18 93px"></i><i style="--g:#000000 0px,#000000 5px,#2a1139 6px,#4a1c64 7px,#652483 8px,#a8355b 10px,#c14149 11px,#cb4742 12px,#bd3f4c 13px,#7b297b 14px,#a13361 15px,#e45c2c 18px,#e55d2b 19px,#ca4743 21px,#c64445 22px,#dc5436 24px,#e86127 25px,#e35b2e 28px,#ef6a1e 32px,#ea6325 36px,#f16d1c 39px,#f16d1c 44px,#f57819 53px,#f57819 93px"></i><i style="--g:#000000 0px,#010001 3px,#11061b 4px,#12061b 5px,#401956 7px,#0a0310 8px,#0e0516 12px,#79287c 13px,#79287c 15px,#0e0516 16px,#0e0516 17px,#79287c 18px,#0e0516 19px,#0e0516 22px,#79287c 23px,#79287c 24px,#0e0516 25px,#0e0516 26px,#79287c 27px,#79287c 28px,#0e0516 29px,#0e0516 30px,#79287c 31px,#79287c 32px,#0e0516 33px,#0e0516 34px,#79287c 35px,#79287c 36px,#0e0516 37px,#79287c 38px,#79287c 39px,#0e0516 40px,#0e0516 43px,#79287c 44px,#0e0516 45px,#0e0516 51px,#79287c 52px,#0e0516 53px,#0e0516 56px,#79287c 57px,#79287c 58px,#0e0516 59px,#0e0516 60px,#79287c 61px,#79287c 62px,#0e0516 63px,#79287c 64px,#79287c 67px,#0e0516 68px,#0e0516 71px,#79287c 72px,#0e0516 73px,#79287c 74px,#0e0516 75px,#0e0516 81px,#79287c 82px,#0e0516 83px,#0e0516 87px,#79287c 88px,#79287c 89px,#0e0516 90px,#0e0516 93px"></i><i style="--g:#000000 0px,#010001 3px,#12061b 4px,#431a5a 5px,#862b76 6px,#cd4941 7px,#ef6a1e 8px,#fa8917 9px,#fc9d1d 10px,#fda220 11px,#fa8d18 12px,#ef6a1e 13px,#e96226 14px,#f4751a 15px,#fa8a17 16px,#fb8f18 17px,#f26f1c 18px,#e65e2a 19px,#f3731a 21px,#f88018 22px,#f67a18 24px,#fb9019 27px,#f98517 30px,#fb9119 34px,#fc981b 39px,#fda421 47px,#fda621 93px"></i><i style="--g:#000000 0px,#010001 3px,#12061c 4px,#451b5d 5px,#8b2c73 6px,#d14c3e 7px,#f16e1c 8px,#fb8f18 9px,#fda320 10px,#fda823 11px,#f67b18 13px,#f77e18 14px,#fda01f 16px,#f4751a 18px,#f2711b 19px,#f88217 20px,#fa8817 21px,#f77f18 22px,#fc971b 25px,#fa8b17 28px,#fc981b 31px,#fc9a1c 35px,#fdab27 42px,#feb02e 93px"></i><i style="--g:#000000 0px,#010001 3px,#13071e 4px,#471b60 5px,#912e6e 6px,#d6503b 7px,#f3731a 8px,#fc951a 9px,#fdab27 10px,#feaf2d 11px,#fc9e1e 12px,#fb931a 13px,#fdad29 16px,#fc991b 17px,#fa8d18 18px,#fc9e1e 20px,#fb9219 21px,#fda621 24px,#fc961b 26px,#fda622 29px,#fda11f 32px,#feb332 39px,#febc40 93px"></i><i style="--g:#000000 0px,#010001 3px,#14071f 4px,#4a1c64 5px,#973069 6px,#db5437 7px,#f67918 8px,#fc9c1d 9px,#feb332 10px,#feb839 11px,#fdad2a 12px,#fdaa25 13px,#feb636 15px,#feb636 16px,#fdab27 17px,#fda824 18px,#fdae2c 19px,#fda924 21px,#feb434 24px,#fdad2a 26px,#feb535 29px,#feb535 32px,#febe43 43px,#fec957 90px,#fec957 93px"></i><i style="--g:#000000 0px,#010001 3px,#160820 4px,#4d1d68 5px,#9e3263 6px,#e05831 7px,#f88018 8px,#fda421 9px,#febb3f 10px,#fec149 11px,#febb3f 13px,#fec047 16px,#febd41 18px,#fed776 83px,#fed776 93px"></i><i style="--g:#000000 0px,#010001 3px,#170822 4px,#501d6c 5px,#a5345d 6px,#e55d2b 7px,#fa8817 8px,#fdad2a 9px,#fec54f 10px,#fecb5c 11px,#fece63 33px,#fee396 79px,#fee397 93px"></i></div>
<div class="fr" style="left:28px;top:167px;width:100px;height:99px"></div><b style="left:30.50px;top:264px;width:1px;height:1px"></b><b style="left:30.50px;top:168px;width:1px;height:1px"></b><b style="left:29px;top:263.50px;width:1px;height:1px"></b><b style="left:126px;top:263.50px;width:1px;height:1px"></b><b style="left:35.20px;top:264px;width:1px;height:1px"></b><b style="left:35.20px;top:168px;width:1px;height:1px"></b><b style="left:29px;top:258.75px;width:1px;height:1px"></b><b style="left:126px;top:258.75px;width:1px;height:1px"></b><b style="left:39.90px;top:264px;width:1px;height:1px"></b><b style="left:39.90px;top:168px;width:1px;height:1px"></b><b style="left:29px;top:254.00px;width:1px;height:1px"></b><b style="left:126px;top:254.00px;width:1px;height:1px"></b><b style="left:44.60px;top:264px;width:1px;height:1px"></b><b style="left:44.60px;top:168px;width:1px;height:1px"></b><b style="left:29px;top:249.25px;width:1px;height:1px"></b><b style="left:126px;top:249.25px;width:1px;height:1px"></b><b style="left:49.30px;top:264px;width:1px;height:1px"></b><b style="left:49.30px;top:168px;width:1px;height:1px"></b><b style="left:29px;top:244.50px;width:1px;height:1px"></b><b style="left:126px;top:244.50px;width:1px;height:1px"></b><b style="left:54.00px;top:264px;width:1px;height:1px"></b><b style="left:54.00px;top:168px;width:1px;height:1px"></b><b style="left:29px;top:239.75px;width:1px;height:1px"></b><b style="left:126px;top:239.75px;width:1px;height:1px"></b><b style="left:58.70px;top:264px;width:1px;height:1px"></b><b style="left:58.70px;top:168px;width:1px;height:1px"></b><b style="left:29px;top:235.00px;width:1px;height:1px"></b><b style="left:126px;top:235.00px;width:1px;height:1px"></b><b style="left:63.40px;top:264px;width:1px;height:1px"></b><b style="left:63.40px;top:168px;width:1px;height:1px"></b><b style="left:29px;top:230.25px;width:1px;height:1px"></b><b style="left:126px;top:230.25px;width:1px;height:1px"></b><b style="left:68.10px;top:264px;width:1px;height:1px"></b><b style="left:68.10px;top:168px;width:1px;height:1px"></b><b style="left:29px;top:225.50px;width:1px;height:1px"></b><b style="left:126px;top:225.50px;width:1px;height:1px"></b><b style="left:72.80px;top:264px;width:1px;height:1px"></b><b style="left:72.80px;top:168px;width:1px;height:1px"></b><b style="left:29px;top:220.75px;width:1px;height:1px"></b><b style="left:126px;top:220.75px;width:1px;height:1px"></b><b style="left:77.50px;top:264px;width:1px;height:1px"></b><b style="left:77.50px;top:168px;width:1px;height:1px"></b><b style="left:29px;top:216.00px;width:1px;height:1px"></b><b style="left:126px;top:216.00px;width:1px;height:1px"></b><b style="left:82.20px;top:264px;width:1px;height:1px"></b><b style="left:82.20px;top:168px;width:1px;height:1px"></b><b style="left:29px;top:211.25px;width:1px;height:1px"></b><b style="left:126px;top:211.25px;width:1px;height:1px"></b><b style="left:86.90px;top:264px;width:1px;height:1px"></b><b style="left:86.90px;top:168px;width:1px;height:1px"></b><b style="left:29px;top:206.50px;width:1px;height:1px"></b><b style="left:126px;top:206.50px;width:1px;height:1px"></b><b style="left:91.60px;top:264px;width:1px;height:1px"></b><b style="left:91.60px;top:168px;width:1px;height:1px"></b><b style="left:29px;top:201.75px;width:1px;height:1px"></b><b style="left:126px;top:201.75px;width:1px;height:1px"></b><b style="left:96.30px;top:264px;width:1px;height:1px"></b><b style="left:96.30px;top:168px;width:1px;height:1px"></b><b style="left:29px;top:197.00px;width:1px;height:1px"></b><b style="left:126px;top:197.00px;width:1px;height:1px"></b><b style="left:101.00px;top:264px;width:1px;height:1px"></b><b style="left:101.00px;top:168px;width:1px;height:1px"></b><b style="left:29px;top:192.25px;width:1px;height:1px"></b><b style="left:126px;top:192.25px;width:1px;height:1px"></b><b style="left:105.70px;top:264px;width:1px;height:1px"></b><b style="left:105.70px;top:168px;width:1px;height:1px"></b><b style="left:29px;top:187.50px;width:1px;height:1px"></b><b style="left:126px;top:187.50px;width:1px;height:1px"></b><b style="left:110.40px;top:264px;width:1px;height:1px"></b><b style="left:110.40px;top:168px;width:1px;height:1px"></b><b style="left:29px;top:182.75px;width:1px;height:1px"></b><b style="left:126px;top:182.75px;width:1px;height:1px"></b><b style="left:115.10px;top:264px;width:1px;height:1px"></b><b style="left:115.10px;top:168px;width:1px;height:1px"></b><b style="left:29px;top:178.00px;width:1px;height:1px"></b><b style="left:126px;top:178.00px;width:1px;height:1px"></b><b style="left:119.80px;top:264px;width:1px;height:1px"></b><b style="left:119.80px;top:168px;width:1px;height:1px"></b><b style="left:29px;top:173.25px;width:1px;height:1px"></b><b style="left:126px;top:173.25px;width:1px;height:1px"></b><b style="left:124.50px;top:264px;width:1px;height:1px"></b><b style="left:124.50px;top:168px;width:1px;height:1px"></b><b style="left:29px;top:168.50px;width:1px;height:1px"></b><b style="left:126px;top:168.50px;width:1px;height:1px"></b>
<div class="t tk" style="left:30.80px;top:274.90px;transform:translate(-50%,-50%)">0</div><div class="t tk" style="left:26.90px;top:266.10px;transform:translate(-100%,-50%)">0</div><div class="t tk" style="left:49.60px;top:274.90px;transform:translate(-50%,-50%)">2</div><div class="t tk" style="left:26.90px;top:247.10px;transform:translate(-100%,-50%)">2</div><div class="t tk" style="left:68.40px;top:274.90px;transform:translate(-50%,-50%)">4</div><div class="t tk" style="left:26.90px;top:228.10px;transform:translate(-100%,-50%)">4</div><div class="t tk" style="left:87.20px;top:274.90px;transform:translate(-50%,-50%)">6</div><div class="t tk" style="left:26.90px;top:209.10px;transform:translate(-100%,-50%)">6</div><div class="t tk" style="left:106.00px;top:274.90px;transform:translate(-50%,-50%)">8</div><div class="t tk" style="left:26.90px;top:190.10px;transform:translate(-100%,-50%)">8</div><div class="t tk" style="left:124.80px;top:274.90px;transform:translate(-50%,-50%)">10</div><div class="t tk" style="left:26.90px;top:171.10px;transform:translate(-100%,-50%)">10</div>
<div class="cb" style="left:137.3px;top:196.0px;width:7px;height:70.2px;background:linear-gradient(0deg,#000000 0.0%,#14071f 4.3%,#321542 8.7%,#491c63 13.0%,#61227e 17.4%,#802a79 21.7%,#9f3263 26.1%,#b93d4e 30.4%,#cf4a40 34.8%,#de5733 39.1%,#ea6325 43.5%,#f2701b 47.8%,#f77e18 52.2%,#fa8d18 56.5%,#fc9a1c 60.9%,#fda824 65.2%,#feb636 69.6%,#fec34d 73.9%,#fed168 78.3%,#fede85 82.6%,#ffe6a1 87.0%,#ffeebe 91.3%,#fff5da 95.7%,#fffef8 100.0%)"></div><div class="t cl" style="left:147.80px;top:268.30px;transform:translate(0,-50%)">0</div><b class="ct" style="left:144.3px;top:265.7px"></b><div class="t cl" style="left:147.80px;top:255.35px;transform:translate(0,-50%)">1</div><b class="ct" style="left:144.3px;top:252.7px"></b><div class="t cl" style="left:147.80px;top:242.40px;transform:translate(0,-50%)">2</div><b class="ct" style="left:144.3px;top:239.8px"></b><div class="t cl" style="left:147.80px;top:229.44px;transform:translate(0,-50%)">3</div><b class="ct" style="left:144.3px;top:226.8px"></b><div class="t cl" style="left:147.80px;top:216.49px;transform:translate(0,-50%)">4</div><b class="ct" style="left:144.3px;top:213.9px"></b><div class="t cl" style="left:147.80px;top:203.54px;transform:translate(0,-50%)">5</div><b class="ct" style="left:144.3px;top:200.9px"></b><div class="t ctl" style="left:145.70px;top:186.50px;transform:translate(-50%,-50%)"><i>δ</i></div>
<div class="t g0" style="left:78.00px;top:289.50px;transform:translate(-50%,-50%)"><i>g&#771;</i><sub>0</sub></div><div class="t d2" style="left:6.60px;top:216.30px;transform:translate(-50%,-50%) rotate(-90deg)"><i>d&#771;</i><sub>2</sub></div><div class="t cap" style="left:75.60px;top:306.00px;transform:translate(-50%,-50%)">(d)</div>
<div class="hm" style="left:211px;top:169px;width:94px;height:95px"><i style="--g:#000000 0px,#020102 9px,#281036 14px,#511e6d 18px,#672485 23px,#652383 35px,#582075 56px,#4f1d6b 57px,#311541 58px,#07020a 59px,#09030e 60px,#2a1139 61px,#361747 62px,#2a1139 65px,#291138 79px,#230e30 80px,#020103 82px,#09030d 83px,#1c0b28 84px,#281036 85px,#2a1139 93px"></i><i style="--g:#000000 0px,#020103 9px,#281037 14px,#511e6d 18px,#672485 23px,#662484 34px,#571f74 56px,#491c63 57px,#030104 59px,#100519 60px,#311541 61px,#361746 62px,#2b1239 65px,#281037 79px,#1d0b29 80px,#09030e 81px,#020103 82px,#230e30 84px,#2b1239 86px,#2b1239 93px"></i><i style="--g:#000000 0px,#020103 9px,#291137 14px,#511e6e 18px,#662484 22px,#6a2584 32px,#551f71 56px,#421a58 57px,#13061d 58px,#030104 59px,#361746 61px,#2c123b 65px,#2b123a 78px,#261034 79px,#040106 81px,#060209 82px,#281036 84px,#2c123b 93px"></i><i style="--g:#000000 0px,#020103 9px,#291138 14px,#521e6e 18px,#662484 22px,#6b2583 32px,#582075 55px,#521e6e 56px,#38184a 57px,#0a0310 58px,#060209 59px,#260f34 60px,#38174a 61px,#2e133d 64px,#2c123c 78px,#230e30 79px,#0d0415 80px,#020103 81px,#0c0413 82px,#220e2f 83px,#2c123b 84px,#2e133d 93px"></i><i style="--g:#000000 0px,#020103 9px,#2a1139 14px,#531e6f 18px,#682484 22px,#6f2681 31px,#62237f 40px,#582075 55px,#4d1d68 56px,#040107 58px,#0c0413 59px,#301440 60px,#3a184d 61px,#321543 64px,#2e133e 78px,#1e0c2a 79px,#07020b 80px,#040106 81px,#2c123b 83px,#321543 86px,#321543 93px"></i><i style="--g:#000000 0px,#020103 9px,#2b123a 14px,#541f71 18px,#672485 21px,#75277e 29px,#632381 41px,#561f73 55px,#461b5f 56px,#1b0a27 57px,#020103 58px,#160820 59px,#38184b 60px,#3d1952 61px,#39184b 67px,#38174a 77px,#301440 78px,#030105 80px,#0b0410 81px,#260f34 82px,#361747 83px,#39184b 93px"></i><i style="--g:#000000 0px,#020103 9px,#2d133c 14px,#571f74 18px,#662483 20px,#7b297b 26px,#72277f 36px,#632381 43px,#541f71 55px,#3e1953 56px,#0f0517 57px,#040106 58px,#401956 60px,#401a56 76px,#3e1953 77px,#301440 78px,#0e0516 79px,#030105 80px,#180923 81px,#371749 82px,#3f1955 83px,#411a57 93px"></i><i style="--g:#000000 0px,#020103 9px,#240e31 13px,#5a2077 18px,#6b2583 20px,#842b77 26px,#7e297a 35px,#652383 44px,#592076 54px,#501e6d 55px,#331643 56px,#07020b 57px,#09030e 58px,#331644 59px,#491c63 60px,#4b1c65 76px,#451b5d 77px,#2b123a 78px,#07020b 79px,#09030f 80px,#30143f 81px,#461b5e 82px,#4b1c66 85px,#4b1c66 93px"></i><i style="--g:#000000 0px,#020104 9px,#260f33 13px,#5e217b 18px,#672485 19px,#852b77 23px,#902e6f 31px,#7a287c 41px,#642382 46px,#592076 54px,#4b1c66 55px,#030105 57px,#12061b 58px,#411a57 59px,#551f71 60px,#561f73 76px,#481c62 77px,#200d2c 78px,#040106 79px,#1a0a26 80px,#461b5e 81px,#561f72 82px,#592076 93px"></i><i style="--g:#000000 0px,#020104 9px,#271035 13px,#62227f 18px,#78287d 20px,#942f6b 25px,#993167 32px,#8a2c74 41px,#672485 46px,#572074 54px,#441a5b 55px,#15071f 56px,#030104 57px,#220e2f 58px,#4e1d6a 59px,#61227f 60px,#662484 74px,#60227d 76px,#451b5d 77px,#100519 78px,#08030c 79px,#371749 80px,#5a2077 81px,#652383 82px,#662484 93px"></i><i style="--g:#000000 0px,#030104 9px,#1c0b28 12px,#652382 18px,#8e2d71 22px,#a3345f 29px,#9e3263 40px,#6b2583 46px,#5c2179 53px,#541f71 54px,#3a184e 55px,#0b0411 56px,#06020a 57px,#361746 58px,#5c217a 59px,#6f2681 60px,#76277e 64px,#73277f 75px,#622380 76px,#39184b 77px,#07020b 78px,#160821 79px,#4f1d6b 80px,#6d2582 81px,#76277e 83px,#76277e 93px"></i><i style="--g:#000000 0px,#030104 9px,#1d0b29 12px,#662484 18px,#912e6e 22px,#a7355c 29px,#a6355c 37px,#a7355b 40px,#74277f 45px,#652382 48px,#5b2178 53px,#501d6c 54px,#050208 56px,#0e0515 57px,#441b5b 58px,#672485 59px,#7a287c 60px,#7d297a 74px,#77287d 75px,#592076 76px,#210d2e 77px,#050208 78px,#632381 80px,#7a287c 81px,#7e297a 93px"></i><i style="--g:#000000 0px,#030104 9px,#11061b 11px,#030104 12px,#040107 14px,#341645 15px,#3e1953 16px,#07020b 17px,#0a0310 21px,#672485 22px,#0b0411 23px,#0b0412 24px,#74277f 25px,#0c0413 26px,#79287c 27px,#0c0413 28px,#7b297b 29px,#0c0413 30px,#0c0413 31px,#7a287c 32px,#0c0413 33px,#0c0413 36px,#7a287c 37px,#0c0413 38px,#7d297a 39px,#75277e 41px,#0b0411 42px,#09030e 45px,#531e6f 46px,#4e1d6a 48px,#08030c 49px,#4b1c66 50px,#08030c 51px,#08030c 53px,#481c61 54px,#07020c 55px,#020104 56px,#09030d 58px,#0a030f 62px,#5c2179 63px,#5c2179 64px,#0a030f 65px,#0a030f 66px,#5c2179 67px,#5c2179 71px,#0a030f 72px,#5c2179 73px,#0a030f 74px,#0a030f 75px,#461b5f 76px,#0c0413 77px,#0a030f 78px,#491c62 79px,#0a030f 80px,#0a030f 81px,#5c2179 82px,#0a030f 83px,#0a030f 84px,#5c2179 85px,#5c2179 87px,#0a030f 88px,#0a030f 92px,#5c2179 93px"></i><i style="--g:#000000 0px,#030104 9px,#1e0c2a 12px,#642382 18px,#8d2d72 22px,#a13361 29px,#9b3166 40px,#6a2584 46px,#572074 53px,#401a56 54px,#100519 55px,#040106 56px,#571f74 58px,#6b2583 59px,#73277f 62px,#6e2681 74px,#5b2178 75px,#050207 77px,#210d2e 78px,#551f72 79px,#6d2582 80px,#722780 93px"></i><i style="--g:#000000 0px,#030105 9px,#291138 13px,#61227e 18px,#6b2583 19px,#8b2c73 23px,#983068 30px,#862b76 41px,#662484 46px,#5c2179 52px,#531e6f 53px,#361746 54px,#08030c 55px,#09030e 56px,#39184b 57px,#572074 58px,#642381 60px,#632380 73px,#5d217a 74px,#441b5c 75px,#11061a 76px,#07020b 77px,#341645 78px,#572074 79px,#62237f 80px,#632381 93px"></i><i style="--g:#000000 0px,#030105 9px,#291137 13px,#5d217a 18px,#662484 19px,#862b76 24px,#8c2d72 32px,#722780 42px,#61227f 47px,#5a2077 52px,#4c1d67 53px,#030105 55px,#11061a 56px,#3f1954 57px,#521e6e 58px,#531f70 73px,#491c62 74px,#050208 76px,#0f0517 77px,#3c1950 78px,#501e6d 79px,#551f72 93px"></i><i style="--g:#000000 0px,#030105 9px,#3d1951 15px,#62227f 19px,#712680 21px,#842b77 28px,#6f2681 40px,#5e227b 48px,#572074 52px,#441b5c 53px,#160821 54px,#020104 55px,#1d0b29 56px,#411a57 57px,#4a1c64 58px,#481c61 72px,#441b5c 73px,#331643 74px,#0d0415 75px,#040106 76px,#3d1952 78px,#471b60 79px,#481c62 93px"></i><i style="--g:#000000 0px,#030105 9px,#561f73 18px,#6b2583 21px,#7b287b 28px,#642381 42px,#5a2077 51px,#541f70 52px,#3b184e 53px,#0c0412 54px,#050208 55px,#281036 56px,#401955 57px,#3d1951 72px,#351746 73px,#040106 75px,#0a0310 76px,#281137 77px,#3a184e 78px,#3d1951 89px,#311541 90px,#11061a 91px,#0d0414 92px,#2a1139 93px"></i><i style="--g:#000000 0px,#030105 9px,#541f70 18px,#662484 21px,#74277f 29px,#622380 41px,#592076 51px,#4e1d6a 52px,#050208 54px,#0b0411 55px,#301440 56px,#3d1951 57px,#361747 61px,#331643 72px,#220e30 73px,#0a030f 74px,#030105 75px,#2d133c 77px,#361747 78px,#361747 89px,#2a1138 90px,#0f0517 91px,#0b0411 92px,#240e31 93px"></i><i style="--g:#000000 0px,#030105 9px,#531e6f 18px,#682485 22px,#6e2681 31px,#61227f 40px,#572074 51px,#481c61 52px,#1e0c2b 53px,#020103 54px,#13061d 55px,#351646 56px,#38174a 57px,#2c123b 59px,#2c123b 71px,#281036 72px,#030104 74px,#09030d 75px,#1e0c2a 76px,#2c123b 77px,#2c123b 89px,#250f32 90px,#0d0414 91px,#0a030f 92px,#1f0c2c 93px"></i><i style="--g:#000000 0px,#040106 9px,#592076 19px,#692484 23px,#682485 34px,#551f71 51px,#401955 52px,#10051a 53px,#030105 54px,#371748 56px,#210d2e 58px,#200d2d 71px,#1b0a27 72px,#08030c 73px,#030104 74px,#200d2d 76px,#200d2d 90px,#0c0413 91px,#09030e 92px,#1d0b29 93px"></i><i style="--g:#000000 0px,#040106 9px,#592075 19px,#682485 23px,#672485 34px,#592076 50px,#511e6d 51px,#361747 52px,#08030d 53px,#07020b 54px,#281036 55px,#271035 56px,#180923 57px,#11061b 59px,#0f0518 72px,#020104 73px,#11061b 75px,#11061b 90px,#09030e 92px,#11061b 93px"></i><i style="--g:#000000 0px,#040106 9px,#582075 19px,#672485 23px,#662484 34px,#582075 50px,#4b1c66 51px,#030105 53px,#0e0516 54px,#2b123a 55px,#14071f 56px,#0b0410 57px,#07020b 72px,#030104 73px,#08030c 75px,#08030c 93px"></i><i style="--g:#000000 0px,#000000 8px,#1e0c2b 12px,#582075 19px,#692484 24px,#60227e 39px,#561f73 50px,#441b5c 51px,#180923 52px,#020103 53px,#170822 54px,#210d2d 55px,#0e0516 56px,#050208 58px,#050208 93px"></i><i style="--g:#000000 0px,#000000 8px,#1f0c2b 12px,#582075 19px,#692484 24px,#60227e 39px,#592076 49px,#531e6f 50px,#3b184f 51px,#0d0414 52px,#050207 53px,#220e2f 54px,#220d2f 55px,#11061b 56px,#0b0412 58px,#0b0412 70px,#030104 72px,#0b0412 73px,#0b0412 93px"></i><i style="--g:#000000 0px,#000001 8px,#1f0c2c 12px,#582075 19px,#672485 23px,#662484 34px,#582075 49px,#4e1d69 50px,#050208 52px,#0b0410 53px,#2b123a 54px,#291138 55px,#170821 57px,#170821 69px,#020103 71px,#08030d 72px,#170821 73px,#170821 90px,#0c0412 91px,#09030d 92px,#170821 93px"></i><i style="--g:#000000 0px,#000001 8px,#200d2d 12px,#592075 19px,#682485 23px,#662484 34px,#571f73 49px,#461b5f 50px,#1c0b28 51px,#020103 52px,#13071d 53px,#321542 54px,#220e2f 57px,#220e2f 68px,#180923 69px,#06020a 70px,#030105 71px,#220e2f 73px,#1f0c2b 90px,#0c0412 91px,#09030d 92px,#1a0a26 93px"></i><i style="--g:#000000 0px,#000001 8px,#210d2d 12px,#592076 19px,#692484 23px,#682484 33px,#5a2076 48px,#541f70 49px,#3d1951 50px,#0e0516 51px,#040106 52px,#200c2c 53px,#351746 54px,#281036 57px,#281036 67px,#200d2d 68px,#020103 70px,#09030e 71px,#1b0a27 72px,#271035 73px,#281036 89px,#1f0c2c 90px,#0c0412 91px,#09030e 92px,#1a0a26 93px"></i><i style="--g:#000000 0px,#000001 8px,#210d2e 12px,#5a2077 19px,#682485 22px,#6d2582 31px,#5a2077 47px,#4f1d6b 49px,#2f143f 50px,#060209 51px,#0a030f 52px,#2a1139 53px,#361747 54px,#2a1139 57px,#261034 67px,#06020a 69px,#030105 70px,#230e31 72px,#2a1139 75px,#291138 89px,#1f0c2c 90px,#0c0412 91px,#09030e 92px,#1b0a26 93px"></i><i style="--g:#000000 0px,#010001 8px,#220d2f 12px,#5b2178 19px,#6b2583 22px,#712680 30px,#62227f 39px,#572074 48px,#481b61 49px,#1e0c2b 50px,#020104 51px,#12061b 52px,#321542 53px,#361747 54px,#2c123b 57px,#2a1139 66px,#220d2f 67px,#020103 69px,#09030f 70px,#1d0b29 71px,#291137 72px,#2b1239 89px,#210d2d 90px,#0c0413 91px,#09030e 92px,#1c0b27 93px"></i><i style="--g:#000000 0px,#010001 8px,#170822 11px,#4d1d69 17px,#642382 20px,#78287d 26px,#662484 37px,#551f71 48px,#3f1954 49px,#0f0518 50px,#030105 51px,#371749 53px,#2f143e 57px,#2a1139 66px,#06020a 68px,#040106 69px,#271036 71px,#2f143e 74px,#2d133d 89px,#230e30 90px,#0d0414 91px,#09030f 92px,#1e0b2a 93px"></i><i style="--g:#000000 0px,#010001 8px,#170922 11px,#582075 18px,#682484 20px,#7e297a 25px,#76277e 33px,#642382 39px,#5a2077 47px,#501e6c 48px,#321542 49px,#07020b 50px,#09030e 51px,#2b123a 52px,#3b184e 53px,#351645 57px,#331543 65px,#281037 66px,#100518 67px,#020103 68px,#0b0412 69px,#240e31 70px,#311541 71px,#331643 89px,#271036 90px,#0e0516 91px,#0a0310 92px,#220d2f 93px"></i><i style="--g:#000000 0px,#010001 8px,#180923 11px,#5c2179 18px,#652382 19px,#822a78 23px,#882c75 29px,#662484 39px,#5a2077 47px,#4a1c65 48px,#210d2e 49px,#030104 50px,#11061b 51px,#381749 52px,#401a56 53px,#3c184f 64px,#371749 65px,#220e30 66px,#08030c 67px,#050207 68px,#351746 70px,#3c1950 72px,#3b184e 89px,#2f143f 90px,#100519 91px,#0c0413 92px,#291137 93px"></i><i style="--g:#000000 0px,#010001 8px,#190924 11px,#5f227c 18px,#692584 19px,#8a2c74 23px,#902e6f 29px,#652383 40px,#61227f 46px,#5a2077 47px,#431a59 48px,#11061b 49px,#030105 50px,#421a59 52px,#491c63 53px,#451b5d 64px,#3a184c 65px,#160821 66px,#030105 67px,#11061a 68px,#361748 69px,#451b5c 70px,#461b5f 89px,#3a184d 90px,#14071f 91px,#0f0517 92px,#331643 93px"></i><i style="--g:#000000 0px,#010001 8px,#1a0a25 11px,#62237f 18px,#7a287c 20px,#942f6b 24px,#942f6b 30px,#652483 41px,#672485 46px,#5b2178 47px,#39184b 48px,#08030d 49px,#08030d 50px,#351646 51px,#4f1d6b 52px,#572074 54px,#561f73 63px,#4e1d6a 64px,#341645 65px,#0a030f 66px,#08030d 67px,#311441 68px,#4d1d69 69px,#572074 71px,#551f72 89px,#451b5e 90px,#1b0a27 91px,#12061c 92px,#3e1953 93px"></i><i style="--g:#000000 0px,#010001 8px,#1a0a26 11px,#642381 18px,#8f2d70 22px,#9d3264 27px,#862b76 34px,#672485 41px,#75277e 45px,#702681 46px,#592076 47px,#2a1138 48px,#030105 49px,#13061d 50px,#461b5e 51px,#60227d 52px,#6a2584 54px,#642382 63px,#501e6c 64px,#210d2e 65px,#040107 66px,#200d2d 67px,#501d6c 68px,#642382 69px,#6a2584 88px,#662484 89px,#531e6f 90px,#220e30 91px,#180923 92px,#491c63 93px"></i><i style="--g:#000000 0px,#010001 8px,#1b0a27 11px,#642381 18px,#8f2e70 22px,#9e3263 27px,#872b76 34px,#692484 40px,#712680 43px,#7d297a 45px,#74277f 46px,#511e6d 47px,#180923 48px,#030105 49px,#281037 50px,#582075 51px,#74277f 52px,#802a79 54px,#7d297a 62px,#6c2583 63px,#431a5a 64px,#0c0412 65px,#0d0415 66px,#461b5e 67px,#6e2682 68px,#7d297a 69px,#7b297b 89px,#5f227c 90px,#291137 91px,#1c0b29 92px,#541f70 93px"></i><i style="--g:#000000 0px,#010002 8px,#1b0a27 11px,#622380 18px,#8c2d72 22px,#993167 28px,#79287c 36px,#682485 41px,#7b297b 45px,#6a2583 46px,#431a59 47px,#0b0411 48px,#09030d 49px,#3d1952 50px,#692484 51px,#842b77 52px,#8c2d72 54px,#8b2c73 61px,#832a77 62px,#5f227d 63px,#250f33 64px,#050208 65px,#2f143f 66px,#652383 67px,#852b76 68px,#8c2d72 74px,#882b75 89px,#662484 90px,#2d133c 91px,#1f0c2c 92px,#5a2077 93px"></i><i style="--g:#000000 0px,#010002 8px,#1c0b27 11px,#4d1d68 16px,#6a2583 19px,#8c2c73 23px,#922e6e 29px,#662484 41px,#712680 44px,#6e2681 45px,#561f73 46px,#250f33 47px,#030105 48px,#150820 49px,#4e1d69 50px,#76277e 51px,#892c75 52px,#892c75 61px,#74277f 62px,#441a5b 63px,#0b0410 64px,#11061a 65px,#4e1d6a 66px,#7b297b 67px,#8a2c74 68px,#882b75 89px,#662484 90px,#2d133c 91px,#1f0c2c 92px,#5a2077 93px"></i><i style="--g:#000000 0px,#010002 8px,#1c0b28 11px,#431a5a 15px,#652483 19px,#832a77 23px,#8a2c74 29px,#642382 40px,#662484 44px,#5e217b 45px,#3e1952 46px,#0c0412 47px,#060209 48px,#5d217a 50px,#76277e 51px,#802a79 53px,#7f297a 60px,#76277e 61px,#561f72 62px,#1e0b2a 63px,#050208 64px,#60227e 66px,#7a287c 67px,#7f2a79 88px,#7b297b 89px,#5f227c 90px,#291137 91px,#1c0b29 92px,#541f70 93px"></i><i style="--g:#000000 0px,#010002 8px,#1c0b28 11px,#421a58 15px,#692584 20px,#802a79 25px,#7a287c 32px,#642382 39px,#5e217b 44px,#4b1c66 45px,#200d2d 46px,#030104 47px,#13061d 48px,#441b5c 49px,#5f227c 50px,#6a2584 52px,#672485 60px,#592076 61px,#07020b 63px,#100519 64px,#441a5b 65px,#60227e 66px,#6a2584 68px,#662484 89px,#531e6f 90px,#220e30 91px,#180923 92px,#491c63 93px"></i><i style="--g:#000000 0px,#010002 8px,#1c0b28 11px,#401a56 15px,#652383 20px,#79287c 26px,#692484 36px,#5d217b 43px,#541f70 44px,#38184a 45px,#0b0411 46px,#050208 47px,#4b1c65 49px,#561f72 50px,#521e6e 60px,#3d1952 61px,#11061a 62px,#040107 63px,#481c62 65px,#551f71 66px,#551f72 89px,#451b5e 90px,#1b0a27 91px,#12061c 92px,#3e1953 93px"></i><i style="--g:#000000 0px,#010002 8px,#1d0b29 11px,#401955 15px,#672485 21px,#74277f 28px,#632381 38px,#592076 43px,#481b61 44px,#1e0c2a 45px,#030104 46px,#100519 47px,#39184b 48px,#471b60 49px,#431a5a 59px,#3d1951 60px,#040106 62px,#0c0413 63px,#301440 64px,#431a5a 65px,#431a5a 89px,#3a184d 90px,#14071f 91px,#0f0517 92px,#331643 93px"></i><i style="--g:#000000 0px,#010002 8px,#1d0b29 11px,#3f1954 15px,#652383 21px,#6f2681 29px,#622380 38px,#5c2179 42px,#531e6f 43px,#371749 44px,#0b0410 45px,#050208 46px,#3c1950 48px,#39184c 54px,#2f133e 59px,#260f34 60px,#0a030f 61px,#040106 62px,#2f133e 64px,#2f133e 90px,#100519 91px,#0c0413 92px,#291137 93px"></i><i style="--g:#000000 0px,#020102 8px,#1d0b2a 11px,#3f1954 15px,#632381 21px,#6c2582 30px,#5f227d 40px,#592076 42px,#481b61 43px,#1e0c2a 44px,#030104 45px,#0f0518 46px,#311541 47px,#3a184d 48px,#2d133c 54px,#180923 57px,#11061a 60px,#030104 61px,#160821 63px,#160821 90px,#0a0310 92px,#160821 93px"></i><i style="--g:#000000 0px,#020103 8px,#1e0c2a 11px,#3f1953 15px,#632380 21px,#6b2583 30px,#5d217a 41px,#531e6f 42px,#381749 43px,#0b0410 44px,#050208 45px,#210d2d 46px,#361747 47px,#2c123b 53px,#0b0411 57px,#030105 61px,#09030e 63px,#09030e 93px"></i><i style="--g:#000000 0px,#020103 8px,#1e0c2b 11px,#3f1953 15px,#622380 21px,#6a2584 31px,#5a2077 41px,#481b61 42px,#1e0c2b 43px,#030104 44px,#0f0517 45px,#2e133e 46px,#351746 47px,#2c123b 50px,#291138 53px,#09030f 57px,#020103 60px,#08030c 62px,#08030c 93px"></i><i style="--g:#000000 0px,#020103 8px,#1f0c2b 11px,#3a184c 14px,#622380 21px,#692584 31px,#5d217b 40px,#521e6f 41px,#361747 42px,#0a030f 43px,#050208 44px,#200d2d 45px,#341645 46px,#2c123b 50px,#240f32 54px,#020103 59px,#100519 61px,#100519 90px,#09030e 92px,#100519 93px"></i><i style="--g:#000000 0px,#020103 8px,#1f0c2c 11px,#3a184d 14px,#622380 21px,#692584 31px,#60227d 39px,#5a2077 40px,#461b5e 41px,#1a0a26 42px,#020104 43px,#10051a 44px,#2f143f 45px,#361747 46px,#2e133d 50px,#261034 55px,#020103 58px,#09030e 59px,#1a0a25 60px,#1f0c2c 63px,#1f0c2c 90px,#0c0413 91px,#09030e 92px,#1d0b29 93px"></i><i style="--g:#000000 0px,#020103 8px,#200d2d 11px,#3a184d 14px,#622380 21px,#692584 31px,#5e217b 39px,#511e6e 40px,#321542 41px,#08030c 42px,#07020a 43px,#250f32 44px,#38184b 45px,#2f143e 54px,#020103 57px,#09030d 58px,#2c123b 60px,#2f143e 89px,#271035 90px,#0e0515 91px,#0a0310 92px,#210d2e 93px"></i><i style="--g:#000000 0px,#020103 8px,#210d2d 11px,#3a184e 14px,#622380 21px,#692584 31px,#60227e 38px,#5a2077 39px,#441a5b 40px,#160821 41px,#020103 42px,#15071f 43px,#381749 44px,#401955 45px,#39184c 53px,#2b123a 54px,#11061a 55px,#030105 56px,#09030d 57px,#351746 59px,#3c1950 61px,#3c1950 89px,#301440 90px,#10051a 91px,#0c0413 92px,#2a1138 93px"></i><i style="--g:#000000 0px,#020103 8px,#361747 13px,#622380 21px,#692584 31px,#5f227c 38px,#501e6d 39px,#06020a 41px,#09030e 42px,#2e133e 43px,#451b5d 44px,#491c63 48px,#451b5d 52px,#39184b 53px,#1a0a25 54px,#050207 55px,#09030d 56px,#3e1953 58px,#491c63 60px,#481b61 89px,#3b184e 90px,#150720 91px,#0f0517 92px,#351645 93px"></i><i style="--g:#000000 0px,#020104 8px,#361747 13px,#632381 21px,#6b2583 30px,#62227f 37px,#5a2077 38px,#411a58 39px,#12061c 40px,#030104 41px,#1b0a27 42px,#431a59 43px,#511e6d 44px,#4f1d6c 51px,#431a59 52px,#07020a 54px,#08030c 55px,#441b5c 57px,#501e6c 58px,#521e6e 89px,#431a5a 90px,#1a0a25 91px,#11061b 92px,#3c184f 93px"></i><i style="--g:#000000 0px,#020104 8px,#371748 13px,#642382 21px,#6d2582 29px,#642381 36px,#5f227d 37px,#4f1d6b 38px,#050208 40px,#0b0411 41px,#361747 42px,#4e1d6a 43px,#561f73 46px,#531e6f 50px,#461b5f 51px,#08030d 53px,#06020a 54px,#441a5b 56px,#521e6e 57px,#541f70 89px,#451b5c 90px,#1b0a26 91px,#12061c 92px,#3d1952 93px"></i><i style="--g:#000000 0px,#030104 8px,#38184a 13px,#682485 21px,#722680 28px,#632381 36px,#5a2077 37px,#3f1955 38px,#0f0518 39px,#030105 40px,#431a5b 42px,#4f1d6b 43px,#4e1d6a 49px,#461b5e 50px,#0a030f 52px,#050207 53px,#3d1952 55px,#4b1c66 56px,#501e6c 62px,#4c1c67 64px,#4f1d6b 71px,#4a1c64 72px,#501e6c 75px,#4c1d68 81px,#4e1d6a 89px,#401a56 90px,#180923 91px,#11061a 92px,#39184c 93px"></i><i style="--g:#000000 0px,#030104 8px,#3a184c 13px,#61227f 19px,#6f2681 21px,#7a287c 27px,#672485 35px,#62237f 36px,#4f1d6b 37px,#040106 39px,#0d0415 40px,#371748 41px,#491c63 42px,#4b1c65 48px,#461b5e 49px,#331644 50px,#0e0516 51px,#030105 52px,#160821 53px,#38174a 54px,#461b5f 55px,#4b1c66 60px,#471b5f 62px,#3d1951 63px,#4b1c65 64px,#4b1c65 70px,#3d1952 71px,#4b1c66 73px,#4b1c66 78px,#3e1953 80px,#4b1c65 81px,#4a1c64 88px,#3c1850 89px,#481c61 90px,#4b1c66 93px"></i><i style="--g:#000000 0px,#030105 8px,#3c184f 13px,#5e227b 18px,#672485 19px,#822a78 23px,#7f2a79 29px,#692484 35px,#5c217a 36px,#3e1952 37px,#0d0415 38px,#040107 39px,#481b61 41px,#531e70 42px,#501e6d 48px,#421a58 49px,#1c0b28 50px,#040106 51px,#0f0518 52px,#38174a 53px,#4d1d68 54px,#541f71 58px,#501d6c 61px,#2e133d 62px,#4e1d6a 63px,#541f71 66px,#541f70 69px,#3e1952 70px,#3e1952 71px,#541f70 72px,#541f71 77px,#4e1d6a 78px,#2e133d 79px,#501d6c 80px,#531f70 87px,#38174a 88px,#541f71 90px,#541f71 93px"></i><i style="--g:#000000 0px,#030105 8px,#3e1952 13px,#642381 18px,#8a2c74 22px,#8b2c73 28px,#712680 34px,#672485 35px,#501e6c 36px,#230e30 37px,#030105 38px,#11061b 39px,#431a5a 40px,#5f227c 41px,#6b2583 43px,#672485 47px,#592076 48px,#371748 49px,#09030f 50px,#0b0411 51px,#1f0c2b 52px,#5b2178 53px,#672485 54px,#672485 60px,#2b123a 61px,#4e1d6a 62px,#6b2583 63px,#6b2583 68px,#511e6e 69px,#271035 70px,#662484 71px,#6b2583 76px,#662484 77px,#240f32 78px,#541f70 79px,#6b2583 80px,#6a2583 86px,#471b5f 87px,#341645 88px,#692484 89px,#6b2583 93px"></i><i style="--g:#000000 0px,#030105 8px,#3f1954 13px,#672485 18px,#8a2c74 21px,#952f6b 26px,#79287c 33px,#60227d 35px,#3d1951 36px,#0b0412 37px,#060209 38px,#5a2077 40px,#712680 41px,#79287c 43px,#76277e 46px,#692484 47px,#491c62 48px,#13071e 49px,#060209 50px,#180923 51px,#5a2077 52px,#712680 53px,#78287d 58px,#77287d 59px,#411a57 60px,#38184a 61px,#76287e 62px,#78287d 67px,#672485 68px,#13071d 69px,#662484 70px,#78287d 71px,#76287d 76px,#39184b 77px,#401a56 78px,#77287d 79px,#78287d 85px,#5e227b 86px,#170822 87px,#6e2682 88px,#78287d 89px,#78287d 93px"></i><i style="--g:#000000 0px,#040107 12px,#311541 13px,#381749 14px,#060209 15px,#07020a 16px,#481b61 17px,#632381 21px,#0b0411 22px,#692484 23px,#0b0411 24px,#0b0411 25px,#6b2583 26px,#692484 27px,#0b0411 28px,#652382 29px,#0a0310 30px,#0a030f 31px,#5d217a 32px,#09030f 33px,#09030e 34px,#501e6c 35px,#1f0c2c 36px,#030104 37px,#08030d 39px,#08030c 42px,#4c1d68 43px,#4c1d67 45px,#08030c 46px,#08030c 47px,#1e0b2a 48px,#040106 49px,#08030c 52px,#4c1c67 53px,#4c1c67 54px,#08030c 55px,#08030c 56px,#4c1c67 57px,#4c1c67 58px,#08030c 59px,#08030c 60px,#4c1c67 61px,#4c1c67 62px,#08030c 63px,#08030c 64px,#4c1c67 65px,#4c1c67 66px,#08030c 67px,#4c1c67 69px,#08030c 70px,#08030c 73px,#4c1c67 74px,#08030c 75px,#08030c 81px,#4c1c67 82px,#08030c 83px,#08030c 86px,#4c1c67 87px,#4c1c67 88px,#08030c 89px,#08030c 90px,#4c1c67 91px,#4c1c67 92px,#08030c 93px"></i><i style="--g:#000000 0px,#030105 8px,#3e1953 13px,#632380 18px,#882b75 22px,#8a2c74 28px,#722680 33px,#5f227c 34px,#3a184c 35px,#09030e 36px,#07020b 37px,#2d133c 38px,#451b5d 39px,#421a59 45px,#3b184e 46px,#050208 48px,#09030d 49px,#3e1953 51px,#421a59 56px,#421a59 58px,#271035 59px,#411a57 60px,#421a59 66px,#351746 67px,#351645 68px,#421a59 69px,#411a58 75px,#271035 76px,#421a59 77px,#421a59 84px,#2f143f 85px,#421a59 87px,#421a59 93px"></i><i style="--g:#000000 0px,#040106 8px,#3d1951 13px,#5d217a 18px,#662484 19px,#802a79 23px,#7b297b 30px,#73277f 32px,#672485 33px,#4c1c67 34px,#1a0a26 35px,#020104 36px,#160821 37px,#371749 38px,#250f32 40px,#220d2f 45px,#1b0a27 46px,#07020b 47px,#030105 48px,#220d2f 50px,#220d2f 93px"></i><i style="--g:#000000 0px,#000000 7px,#0c0413 9px,#351746 12px,#582075 18px,#672485 20px,#78287d 25px,#6b2583 32px,#5a2077 33px,#07020b 35px,#09030e 36px,#291138 37px,#0d0415 39px,#09030e 42px,#09030e 46px,#020103 47px,#09030e 48px,#09030e 93px"></i><i style="--g:#000000 0px,#000000 7px,#0c0413 9px,#351646 12px,#541f71 18px,#672485 21px,#712680 28px,#6c2583 31px,#622380 32px,#471b60 33px,#15071f 34px,#030104 35px,#190924 36px,#220e30 37px,#0e0515 38px,#050208 40px,#050208 93px"></i><i style="--g:#000000 0px,#000000 7px,#0d0414 9px,#351646 12px,#4b1c65 17px,#672485 22px,#6b2583 30px,#672485 31px,#572074 32px,#060209 34px,#0b0410 35px,#2d133c 36px,#2c123b 37px,#1d0b29 38px,#170822 41px,#170822 44px,#060209 45px,#040106 46px,#13061d 47px,#170822 93px"></i><i style="--g:#000000 0px,#000000 7px,#0d0414 9px,#351746 12px,#4a1c64 17px,#662484 22px,#692584 30px,#61227f 31px,#461b5f 32px,#14071e 33px,#030104 34px,#3a184d 36px,#3a184d 37px,#311541 39px,#311541 42px,#230e30 43px,#0b0411 44px,#020104 45px,#0f0517 46px,#281036 47px,#311541 48px,#311541 93px"></i><i style="--g:#000000 0px,#000000 7px,#0d0415 9px,#361747 12px,#4a1c64 17px,#622380 21px,#6a2583 29px,#662484 30px,#571f73 31px,#060209 33px,#0b0411 34px,#321542 35px,#421a58 36px,#3c1950 41px,#321542 42px,#13071d 43px,#030105 44px,#0b0410 45px,#260f34 46px,#39184b 47px,#3e1952 51px,#3e1952 93px"></i><i style="--g:#000000 0px,#000000 7px,#0e0515 9px,#361747 12px,#4a1c63 17px,#622380 21px,#692584 29px,#61227f 30px,#461b5f 31px,#13071e 32px,#030105 33px,#401a56 35px,#471b60 36px,#441b5c 40px,#3e1953 41px,#271035 42px,#08030d 43px,#060209 44px,#3c184f 46px,#451b5d 48px,#451b5d 93px"></i><i style="--g:#000000 0px,#000000 7px,#0e0515 9px,#371748 12px,#491c63 17px,#622380 21px,#6a2583 28px,#662484 29px,#571f73 30px,#050208 32px,#0c0412 33px,#371748 34px,#491c63 35px,#471b5f 40px,#39184b 41px,#13071e 42px,#030105 43px,#13071e 44px,#39184b 45px,#471b5f 46px,#4a1c64 93px"></i><i style="--g:#000000 0px,#000000 7px,#0e0516 9px,#371748 12px,#491c63 17px,#622380 21px,#692584 28px,#61227f 29px,#461b5f 30px,#13061d 31px,#030105 32px,#441a5b 34px,#4d1d68 35px,#4a1c64 39px,#421a59 40px,#06020a 42px,#09030e 43px,#2c123b 44px,#441b5c 45px,#4b1c66 47px,#4b1c66 93px"></i><i style="--g:#000000 0px,#000000 7px,#0e0516 9px,#371749 12px,#491c63 17px,#622380 21px,#6a2583 27px,#662484 28px,#571f73 29px,#050208 31px,#0c0413 32px,#371748 33px,#491c63 34px,#451b5c 39px,#351645 40px,#0f0517 41px,#030105 42px,#190924 43px,#3b184e 44px,#461b5f 45px,#491c63 93px"></i><i style="--g:#000000 0px,#000000 7px,#0f0517 9px,#38174a 12px,#491c63 17px,#622380 21px,#692584 27px,#61227f 28px,#461b5e 29px,#12061c 30px,#030105 31px,#411a57 33px,#461b5f 34px,#421a58 38px,#39184c 39px,#040106 41px,#0a0310 42px,#2b1239 43px,#3e1953 44px,#431a5a 48px,#411a57 93px"></i><i style="--g:#000000 0px,#000000 7px,#0f0517 9px,#38184a 12px,#431a5a 16px,#622380 21px,#662484 27px,#561f73 28px,#050208 30px,#0c0413 31px,#341645 32px,#421a58 33px,#39184b 38px,#260f34 39px,#0a030f 40px,#040106 41px,#331644 43px,#3d1951 45px,#371748 78px,#1c0b28 93px"></i><i style="--g:#000000 0px,#000001 7px,#0f0518 9px,#39184b 12px,#431a5a 16px,#622380 21px,#692484 26px,#61227e 27px,#461b5e 28px,#12061c 29px,#030105 30px,#3c1950 32px,#371748 37px,#2c123b 38px,#11061b 39px,#030104 40px,#0b0411 41px,#250f33 42px,#351746 43px,#361747 56px,#0d0415 77px,#0b0412 91px,#0d0414 93px"></i><i style="--g:#000000 0px,#000001 7px,#100519 9px,#39184c 12px,#431a5a 16px,#622380 21px,#652483 26px,#561f73 27px,#050208 29px,#0d0414 30px,#331543 31px,#3f1954 32px,#321542 37px,#07020a 39px,#040107 40px,#2f143f 42px,#381749 44px,#301440 51px,#0b0411 58px,#0e0516 70px,#341645 93px"></i><i style="--g:#000000 0px,#000001 7px,#100519 9px,#3a184c 12px,#431a5a 16px,#622380 21px,#652383 25px,#592076 26px,#3e1953 27px,#11061b 28px,#030105 29px,#3e1953 31px,#39184c 36px,#2c123b 37px,#0f0518 38px,#020104 39px,#0f0517 40px,#2b123a 41px,#39184b 42px,#240f32 47px,#0a0310 52px,#11061b 56px,#2b123a 60px,#3e1953 79px,#411a57 93px"></i><i style="--g:#000000 0px,#010001 7px,#10051a 9px,#3a184d 12px,#431a5a 16px,#622380 21px,#642382 24px,#592076 25px,#3f1953 26px,#13071e 27px,#030104 28px,#0e0516 29px,#361747 30px,#451b5d 31px,#421a58 35px,#3b184e 36px,#060209 38px,#08030c 39px,#260f34 40px,#1c0b28 42px,#0c0413 45px,#0f0517 48px,#3f1954 55px,#481c62 63px,#4e1d6a 93px"></i><i style="--g:#000000 0px,#010001 7px,#11061a 9px,#311542 11px,#3e1953 13px,#431a5a 16px,#622380 21px,#632381 23px,#592075 24px,#3f1954 25px,#14071f 26px,#030104 27px,#0f0517 28px,#331644 29px,#481b61 30px,#501e6d 32px,#4a1c64 34px,#401a56 35px,#0d0414 37px,#040106 38px,#0d0414 39px,#180923 42px,#431a5a 47px,#521e6f 52px,#62227f 93px"></i><i style="--g:#000000 0px,#010001 7px,#11061b 9px,#321543 11px,#3f1954 13px,#431a5b 16px,#62237f 21px,#61227f 22px,#582075 23px,#3f1954 24px,#15071f 25px,#030104 26px,#0f0517 27px,#371748 28px,#501e6c 29px,#5b2178 30px,#4b1c65 32px,#200d2d 34px,#0a0310 36px,#050207 37px,#160821 38px,#3e1952 39px,#4c1c67 40px,#5e227c 45px,#6d2582 66px,#7c297b 93px"></i><i style="--g:#000000 0px,#010001 7px,#12061b 9px,#341644 11px,#411a56 13px,#451b5d 16px,#5e217b 20px,#5f227c 21px,#571f73 22px,#3f1954 23px,#150820 24px,#030104 25px,#0e0516 26px,#39184b 27px,#561f72 28px,#521e6f 29px,#250f33 31px,#12061d 32px,#14071f 33px,#210d2e 34px,#07020b 35px,#08030d 36px,#481b61 38px,#5d217a 39px,#672485 40px,#8f2e6f 92px,#8f2e6f 93px"></i><i style="--g:#000000 0px,#010001 7px,#12061c 9px,#361747 11px,#441a5b 13px,#481c61 16px,#5c2179 20px,#551f72 21px,#3f1954 22px,#160821 23px,#030104 24px,#0e0516 25px,#39184b 26px,#401a56 27px,#261034 28px,#13071d 29px,#150720 30px,#3d1952 32px,#160821 33px,#050207 34px,#0d0415 35px,#511e6d 37px,#632380 38px,#6e2682 41px,#942f6c 93px"></i><i style="--g:#000000 0px,#010001 7px,#13071d 9px,#38174a 11px,#471b60 13px,#511e6d 17px,#592076 19px,#531e6f 20px,#3e1953 21px,#160821 22px,#030104 23px,#0d0415 24px,#250f32 25px,#12061c 26px,#13071d 27px,#401955 29px,#4c1d68 30px,#0d0414 32px,#040107 33px,#13071e 34px,#3a184c 35px,#521e6f 36px,#642382 38px,#892c75 93px"></i><i style="--g:#000000 0px,#010001 7px,#14071e 9px,#3a184d 11px,#4c1c67 13px,#561f73 18px,#511e6d 19px,#3e1952 20px,#170821 21px,#030105 22px,#12061c 24px,#481c61 27px,#4e1d6a 28px,#3e1952 29px,#07020b 31px,#060209 32px,#190925 33px,#3a184d 34px,#4d1d68 35px,#582075 37px,#6c2583 81px,#6f2681 93px"></i><i style="--g:#000000 0px,#010002 7px,#15071f 9px,#491c62 12px,#521e6e 14px,#561f72 17px,#501e6c 18px,#3d1951 19px,#170822 20px,#030105 21px,#0b0412 22px,#2c123c 23px,#421a59 24px,#471b60 26px,#3f1955 27px,#10051a 29px,#040106 30px,#08030c 31px,#371749 33px,#441a5b 34px,#4a1c65 38px,#582075 93px"></i><i style="--g:#000000 0px,#010002 7px,#160821 9px,#4c1d68 12px,#582075 14px,#521e6e 17px,#3e1953 18px,#180923 19px,#030105 20px,#0b0411 21px,#291137 22px,#3c1950 23px,#3f1954 24px,#2d133d 26px,#09030f 28px,#020104 29px,#0a030f 30px,#311541 32px,#3e1952 34px,#461b5e 93px"></i><i style="--g:#000000 0px,#010002 7px,#170822 9px,#521e6e 12px,#60227d 14px,#551f72 16px,#411a57 17px,#1b0a27 18px,#030105 19px,#0b0411 20px,#291138 21px,#3b184e 22px,#39184b 23px,#040106 27px,#030104 28px,#2c123b 31px,#361747 34px,#3a184d 93px"></i><i style="--g:#000000 0px,#010002 7px,#190924 9px,#592076 12px,#652383 13px,#652383 14px,#582075 15px,#3f1954 16px,#170822 17px,#040106 18px,#0c0412 19px,#2f143e 20px,#411a57 21px,#381749 22px,#0f0518 24px,#050208 25px,#020103 26px,#100518 28px,#2a1139 30px,#2f143f 38px,#321542 93px"></i><i style="--g:#000000 0px,#010002 7px,#1a0a25 9px,#491c62 11px,#5b2178 12px,#61227f 13px,#531e70 14px,#371748 15px,#0f0517 16px,#030105 17px,#10051a 18px,#321542 19px,#441b5b 20px,#160821 22px,#08030c 23px,#020104 24px,#0f0517 26px,#250f33 28px,#2c123c 32px,#2d133c 93px"></i><i style="--g:#000000 0px,#010002 7px,#08030c 8px,#020104 9px,#040106 10px,#3a184c 11px,#481b61 12px,#09030d 13px,#040107 16px,#08030d 17px,#351645 18px,#351746 19px,#050209 20px,#050207 23px,#0e0515 24px,#040107 25px,#030105 31px,#1f0c2c 32px,#030105 33px,#030105 36px,#1f0c2b 37px,#1f0c2b 38px,#030105 39px,#030105 40px,#1f0c2b 41px,#1f0c2b 42px,#030105 43px,#1f0c2b 44px,#1f0c2b 47px,#030105 48px,#030105 51px,#1f0c2b 52px,#030105 53px,#1f0c2b 54px,#030105 55px,#030105 61px,#1f0c2c 62px,#030105 63px,#030105 67px,#1f0c2c 68px,#1f0c2c 69px,#030105 70px,#030105 75px,#1f0c2c 76px,#030105 77px,#1f0c2c 78px,#030105 79px,#1f0c2c 80px,#030105 81px,#1f0c2c 82px,#1f0c2c 84px,#030105 85px,#1f0c2c 86px,#1f0c2c 88px,#030105 89px,#1f0c2c 90px,#1f0c2c 91px,#030105 92px,#030105 93px"></i><i style="--g:#000000 0px,#020102 7px,#180924 9px,#2d133c 10px,#38184a 11px,#301440 12px,#14071e 13px,#040106 14px,#07020a 15px,#2c123c 17px,#09030e 19px,#030104 20px,#0b0410 22px,#271035 25px,#301440 73px,#341645 93px"></i><i style="--g:#000000 0px,#020102 7px,#1e0c2a 10px,#190924 11px,#020103 13px,#09030e 14px,#180923 15px,#160821 16px,#030104 18px,#07020b 20px,#3c1850 24px,#481b61 27px,#6a2583 82px,#6e2582 93px"></i><i style="--g:#000000 0px,#010002 7px,#0d0414 9px,#020103 12px,#180923 14px,#150820 15px,#040106 16px,#050208 18px,#210d2e 20px,#421a59 22px,#5b2178 25px,#652383 31px,#a13360 86px,#a3345f 93px"></i><i style="--g:#000000 0px,#010002 7px,#050208 9px,#030104 11px,#160821 13px,#190a25 14px,#08030d 16px,#0a030f 17px,#491c63 21px,#692484 24px,#812a78 27px,#c54346 85px,#c74545 93px"></i><i style="--g:#000000 0px,#030104 10px,#150720 13px,#11061a 16px,#1a0a26 17px,#571f74 21px,#642381 22px,#96306a 26px,#d54f3c 74px,#dd5535 93px"></i><i style="--g:#000000 0px,#020104 9px,#12061b 12px,#12061c 15px,#180923 16px,#622380 21px,#872b75 23px,#ab3658 26px,#e35b2e 72px,#ea6325 93px"></i></div>
<div class="fr" style="left:208px;top:167px;width:100px;height:99px"></div><b style="left:210.50px;top:264px;width:1px;height:1px"></b><b style="left:210.50px;top:168px;width:1px;height:1px"></b><b style="left:209px;top:263.50px;width:1px;height:1px"></b><b style="left:306px;top:263.50px;width:1px;height:1px"></b><b style="left:215.20px;top:264px;width:1px;height:1px"></b><b style="left:215.20px;top:168px;width:1px;height:1px"></b><b style="left:209px;top:258.75px;width:1px;height:1px"></b><b style="left:306px;top:258.75px;width:1px;height:1px"></b><b style="left:219.90px;top:264px;width:1px;height:1px"></b><b style="left:219.90px;top:168px;width:1px;height:1px"></b><b style="left:209px;top:254.00px;width:1px;height:1px"></b><b style="left:306px;top:254.00px;width:1px;height:1px"></b><b style="left:224.60px;top:264px;width:1px;height:1px"></b><b style="left:224.60px;top:168px;width:1px;height:1px"></b><b style="left:209px;top:249.25px;width:1px;height:1px"></b><b style="left:306px;top:249.25px;width:1px;height:1px"></b><b style="left:229.30px;top:264px;width:1px;height:1px"></b><b style="left:229.30px;top:168px;width:1px;height:1px"></b><b style="left:209px;top:244.50px;width:1px;height:1px"></b><b style="left:306px;top:244.50px;width:1px;height:1px"></b><b style="left:234.00px;top:264px;width:1px;height:1px"></b><b style="left:234.00px;top:168px;width:1px;height:1px"></b><b style="left:209px;top:239.75px;width:1px;height:1px"></b><b style="left:306px;top:239.75px;width:1px;height:1px"></b><b style="left:238.70px;top:264px;width:1px;height:1px"></b><b style="left:238.70px;top:168px;width:1px;height:1px"></b><b style="left:209px;top:235.00px;width:1px;height:1px"></b><b style="left:306px;top:235.00px;width:1px;height:1px"></b><b style="left:243.40px;top:264px;width:1px;height:1px"></b><b style="left:243.40px;top:168px;width:1px;height:1px"></b><b style="left:209px;top:230.25px;width:1px;height:1px"></b><b style="left:306px;top:230.25px;width:1px;height:1px"></b><b style="left:248.10px;top:264px;width:1px;height:1px"></b><b style="left:248.10px;top:168px;width:1px;height:1px"></b><b style="left:209px;top:225.50px;width:1px;height:1px"></b><b style="left:306px;top:225.50px;width:1px;height:1px"></b><b style="left:252.80px;top:264px;width:1px;height:1px"></b><b style="left:252.80px;top:168px;width:1px;height:1px"></b><b style="left:209px;top:220.75px;width:1px;height:1px"></b><b style="left:306px;top:220.75px;width:1px;height:1px"></b><b style="left:257.50px;top:264px;width:1px;height:1px"></b><b style="left:257.50px;top:168px;width:1px;height:1px"></b><b style="left:209px;top:216.00px;width:1px;height:1px"></b><b style="left:306px;top:216.00px;width:1px;height:1px"></b><b style="left:262.20px;top:264px;width:1px;height:1px"></b><b style="left:262.20px;top:168px;width:1px;height:1px"></b><b style="left:209px;top:211.25px;width:1px;height:1px"></b><b style="left:306px;top:211.25px;width:1px;height:1px"></b><b style="left:266.90px;top:264px;width:1px;height:1px"></b><b style="left:266.90px;top:168px;width:1px;height:1px"></b><b style="left:209px;top:206.50px;width:1px;height:1px"></b><b style="left:306px;top:206.50px;width:1px;height:1px"></b><b style="left:271.60px;top:264px;width:1px;height:1px"></b><b style="left:271.60px;top:168px;width:1px;height:1px"></b><b style="left:209px;top:201.75px;width:1px;height:1px"></b><b style="left:306px;top:201.75px;width:1px;height:1px"></b><b style="left:276.30px;top:264px;width:1px;height:1px"></b><b style="left:276.30px;top:168px;width:1px;height:1px"></b><b style="left:209px;top:197.00px;width:1px;height:1px"></b><b style="left:306px;top:197.00px;width:1px;height:1px"></b><b style="left:281.00px;top:264px;width:1px;height:1px"></b><b style="left:281.00px;top:168px;width:1px;height:1px"></b><b style="left:209px;top:192.25px;width:1px;height:1px"></b><b style="left:306px;top:192.25px;width:1px;height:1px"></b><b style="left:285.70px;top:264px;width:1px;height:1px"></b><b style="left:285.70px;top:168px;width:1px;height:1px"></b><b style="left:209px;top:187.50px;width:1px;height:1px"></b><b style="left:306px;top:187.50px;width:1px;height:1px"></b><b style="left:290.40px;top:264px;width:1px;height:1px"></b><b style="left:290.40px;top:168px;width:1px;height:1px"></b><b style="left:209px;top:182.75px;width:1px;height:1px"></b><b style="left:306px;top:182.75px;width:1px;height:1px"></b><b style="left:295.10px;top:264px;width:1px;height:1px"></b><b style="left:295.10px;top:168px;width:1px;height:1px"></b><b style="left:209px;top:178.00px;width:1px;height:1px"></b><b style="left:306px;top:178.00px;width:1px;height:1px"></b><b style="left:299.80px;top:264px;width:1px;height:1px"></b><b style="left:299.80px;top:168px;width:1px;height:1px"></b><b style="left:209px;top:173.25px;width:1px;height:1px"></b><b style="left:306px;top:173.25px;width:1px;height:1px"></b><b style="left:304.50px;top:264px;width:1px;height:1px"></b><b style="left:304.50px;top:168px;width:1px;height:1px"></b><b style="left:209px;top:168.50px;width:1px;height:1px"></b><b style="left:306px;top:168.50px;width:1px;height:1px"></b>
<div class="t tk" style="left:210.80px;top:275.00px;transform:translate(-50%,-50%)">0</div><div class="t tk" style="left:206.90px;top:266.10px;transform:translate(-100%,-50%)">0</div><div class="t tk" style="left:229.60px;top:275.00px;transform:translate(-50%,-50%)">2</div><div class="t tk" style="left:206.90px;top:247.10px;transform:translate(-100%,-50%)">2</div><div class="t tk" style="left:248.40px;top:275.00px;transform:translate(-50%,-50%)">4</div><div class="t tk" style="left:206.90px;top:228.10px;transform:translate(-100%,-50%)">4</div><div class="t tk" style="left:267.20px;top:275.00px;transform:translate(-50%,-50%)">6</div><div class="t tk" style="left:206.90px;top:209.10px;transform:translate(-100%,-50%)">6</div><div class="t tk" style="left:286.00px;top:275.00px;transform:translate(-50%,-50%)">8</div><div class="t tk" style="left:206.90px;top:190.10px;transform:translate(-100%,-50%)">8</div><div class="t tk" style="left:304.80px;top:275.00px;transform:translate(-50%,-50%)">10</div><div class="t tk" style="left:206.90px;top:171.10px;transform:translate(-100%,-50%)">10</div>
<div class="cb" style="left:318.2px;top:196.7px;width:7px;height:69.5px;background:linear-gradient(0deg,#000000 0.0%,#09030e 4.3%,#13061d 8.7%,#210d2e 13.0%,#2f143e 17.4%,#3b184f 21.7%,#461b5e 26.1%,#501e6d 30.4%,#5c2179 34.8%,#672485 39.1%,#77287d 43.5%,#872b75 47.8%,#96306a 52.2%,#a3345f 56.5%,#b03955 60.9%,#bc3f4c 65.2%,#c74545 69.6%,#d04b3f 73.9%,#d8513a 78.3%,#de5733 82.6%,#e55d2c 87.0%,#e96325 91.3%,#ee6820 95.7%,#f16f1c 100.0%)"></div><div class="t cl" style="left:328.70px;top:268.30px;transform:translate(0,-50%)">0</div><b class="ct" style="left:325.2px;top:265.7px"></b><div class="t cl" style="left:328.70px;top:241.26px;transform:translate(0,-50%)">1</div><b class="ct" style="left:325.2px;top:238.7px"></b><div class="t cl" style="left:328.70px;top:214.21px;transform:translate(0,-50%)">2</div><b class="ct" style="left:325.2px;top:211.6px"></b><div class="t ctl" style="left:325.30px;top:187.50px;transform:translate(-50%,-50%)"><i>δ</i><sub>min</sub></div>
<div class="t g0" style="left:257.90px;top:289.70px;transform:translate(-50%,-50%)"><i>g&#771;</i><sub>0</sub></div><div class="t d2" style="left:186.50px;top:216.30px;transform:translate(-50%,-50%) rotate(-90deg)"><i>d&#771;</i><sub>2</sub></div><div class="t cap" style="left:256.00px;top:306.20px;transform:translate(-50%,-50%)">(e)</div>
<div class="hm" style="left:391px;top:170px;width:93px;height:93px"><i style="--g:#000000 0px,#000000 9px,#381749 12px,#5d217a 15px,#6a2583 16px,#b23a54 21px,#dc5535 26px,#ef6a1e 31px,#eb6523 56px,#e45c2c 58px,#f67918 61px,#fa8b17 64px,#f06b1d 71px,#ea6424 83px,#e75f29 85px,#f88118 89px,#f98817 92px"></i><i style="--g:#000000 0px,#000000 9px,#441a5b 13px,#6a2584 16px,#b23a53 21px,#dd5535 26px,#ef6a1e 31px,#ee6820 55px,#e55d2b 58px,#f67c18 61px,#fa8b17 64px,#f06c1d 70px,#ec6622 82px,#e96226 85px,#f98517 89px,#f98417 92px"></i><i style="--g:#000000 0px,#000000 9px,#421a59 13px,#692484 16px,#b23a54 21px,#dd5634 26px,#ef6a1e 31px,#ed6721 55px,#e45d2c 57px,#ee691f 59px,#fa8b17 63px,#f77e18 66px,#f06b1d 70px,#ed6721 81px,#e86028 84px,#f88217 88px,#f98517 91px,#f88018 92px"></i><i style="--g:#000000 0px,#000000 9px,#4d1d69 14px,#672485 16px,#b13954 21px,#dd5634 26px,#ef6a1e 31px,#ec6622 55px,#e45c2c 57px,#f57719 60px,#fa8b17 63px,#f06b1d 70px,#eb6523 81px,#e75f29 83px,#f77f18 87px,#f98617 90px,#f67c18 92px"></i><i style="--g:#000000 0px,#000000 9px,#09030e 10px,#3e1953 13px,#652483 16px,#b03955 21px,#dd5634 26px,#ef6a1e 31px,#eb6424 55px,#e55d2c 57px,#f67a18 60px,#fa8b17 63px,#f16c1d 69px,#ec6622 80px,#e86127 83px,#f88417 87px,#f88317 90px,#f57819 92px"></i><i style="--g:#000000 0px,#000000 9px,#040107 10px,#3c1850 13px,#632381 16px,#852b77 18px,#c64445 23px,#ef6a1e 30px,#ed6820 54px,#e65e2a 57px,#f67c18 60px,#fa8b17 63px,#f06c1d 69px,#ea6424 80px,#e75f29 82px,#f88118 86px,#f98517 89px,#f4751a 92px"></i><i style="--g:#000000 0px,#000000 10px,#39184c 13px,#61227f 16px,#832a78 18px,#c64346 23px,#ec6523 29px,#ee691f 52px,#e45d2c 56px,#f2711b 59px,#fa8b17 62px,#f57719 66px,#f06a1e 71px,#e96226 82px,#f98517 86px,#f88218 89px,#f3721b 92px"></i><i style="--g:#000000 0px,#000000 10px,#451b5c 14px,#60227d 16px,#6f2681 17px,#b93d4e 22px,#e35b2e 27px,#f06b1d 31px,#ed6721 52px,#d44e3c 56px,#e65e2a 58px,#f67b18 60px,#fa8b17 62px,#f06c1d 69px,#ea6325 76px,#e45c2c 79px,#ed6721 82px,#f98817 86px,#f57719 90px,#f2711b 92px"></i><i style="--g:#000000 0px,#000000 10px,#200d2d 12px,#511e6d 15px,#6e2682 17px,#ba3d4e 22px,#e35b2d 27px,#f06b1d 31px,#ed6721 41px,#ed6820 51px,#df5732 53px,#b13954 55px,#a7355b 56px,#b93d4e 57px,#d8513a 58px,#ec6622 59px,#f98617 61px,#fa8917 63px,#f16d1c 68px,#ee6820 74px,#de5633 76px,#c84544 78px,#eb6424 81px,#f98717 85px,#f88118 88px,#f2701b 92px"></i><i style="--g:#000000 0px,#000000 10px,#0b0411 11px,#431a59 14px,#5e227c 16px,#6e2682 17px,#ba3e4d 22px,#e45c2d 27px,#f06b1d 31px,#ea6325 37px,#e75f29 40px,#f06b1d 45px,#eb6523 51px,#e35b2e 52px,#cb4742 53px,#652383 55px,#5d217a 56px,#832a77 57px,#c34247 58px,#e86127 59px,#f57819 60px,#f98717 61px,#f98817 63px,#f16d1c 68px,#eb6424 74px,#de5733 75px,#bf404b 76px,#922f6d 77px,#8b2c73 78px,#b13954 79px,#da5338 80px,#ed6622 81px,#f98517 84px,#f98417 87px,#f26f1c 91px,#f26f1c 92px"></i><i style="--g:#000000 0px,#000000 10px,#0b0411 11px,#431a5a 14px,#5f227d 16px,#6f2681 17px,#bc3f4c 22px,#e55d2b 27px,#f06c1d 31px,#eb6523 36px,#d95238 39px,#f06b1d 43px,#ee691f 50px,#e96226 51px,#d95239 52px,#a9365a 53px,#592076 54px,#2a1138 55px,#271035 56px,#571f73 57px,#b13954 58px,#e65e2a 59px,#f57918 60px,#f98817 61px,#f98717 63px,#f16d1c 68px,#ee6820 73px,#e65e2a 74px,#ca4643 75px,#812a78 76px,#481b61 77px,#4b1c66 78px,#8e2d71 79px,#d44e3d 80px,#ee6820 81px,#f88217 83px,#f98717 86px,#f16f1c 91px,#f26f1c 92px"></i><i style="--g:#000000 0px,#000000 10px,#220e2f 12px,#371748 13px,#38174a 14px,#0a0310 15px,#0c0412 16px,#582075 17px,#622380 18px,#11061a 19px,#1b0a27 24px,#b53c51 25px,#bf404a 26px,#220d2f 27px,#261034 31px,#d7503a 32px,#261034 33px,#261034 34px,#d7503a 35px,#261034 36px,#d7503a 37px,#261034 38px,#d24c3e 39px,#261034 40px,#261034 41px,#d7503a 42px,#261034 43px,#261034 45px,#d7503a 46px,#261034 47px,#d7503a 48px,#d7503a 50px,#261034 51px,#271035 54px,#050208 55px,#0c0412 56px,#4d1d68 57px,#2c123b 58px,#e86127 59px,#301440 60px,#301440 62px,#e86127 63px,#2c123b 64px,#261034 71px,#d7503a 72px,#d7503a 73px,#261034 74px,#261034 75px,#501d6c 76px,#1c0b28 77px,#351746 78px,#882b75 79px,#d8513a 80px,#2b123a 81px,#e65e2a 82px,#2f143e 83px,#30143f 84px,#ea6325 85px,#e86028 86px,#2c123b 87px,#df5732 88px,#281137 89px,#271036 90px,#d95239 91px,#271036 92px"></i><i style="--g:#000000 0px,#000000 10px,#481c62 14px,#652383 16px,#9a3167 19px,#cd4941 23px,#f06c1d 29px,#ee691f 35px,#d54f3c 38px,#d64f3b 39px,#ef691f 42px,#f06b1d 49px,#e45c2c 51px,#c74445 52px,#7a287c 53px,#301440 54px,#09030d 55px,#1c0b28 56px,#632380 57px,#c74445 58px,#ee691f 59px,#f88118 60px,#fa8b17 61px,#f16e1c 68px,#eb6523 73px,#db5437 74px,#a03361 75px,#491c62 76px,#250f33 77px,#491c63 78px,#a7355c 79px,#e35b2d 80px,#f4741a 81px,#fa8a17 83px,#f88118 86px,#f26f1c 90px,#f2701b 92px"></i><i style="--g:#000000 0px,#010001 10px,#3e1953 13px,#6a2583 16px,#bb3e4d 21px,#e55d2b 26px,#f16e1c 30px,#ef6a1e 35px,#df5832 38px,#f16d1c 43px,#ed6820 50px,#e55d2c 51px,#cb4742 52px,#8d2d72 53px,#4c1d67 54px,#39184b 55px,#521e6e 56px,#9f3362 57px,#de5733 58px,#f4741a 59px,#f98717 60px,#fa8917 62px,#f26f1c 67px,#ec6523 73px,#dd5535 74px,#af3855 75px,#6a2584 76px,#5a2077 77px,#8b2c73 78px,#d04b3f 79px,#ee691f 80px,#f98817 82px,#f98517 85px,#f26f1c 90px,#f2701b 92px"></i><i style="--g:#000000 0px,#000000 9px,#08030c 10px,#431a5a 13px,#60227d 15px,#712680 16px,#bf404a 21px,#e76028 26px,#f16f1c 29px,#ee691f 36px,#ea6325 39px,#f16e1c 45px,#ee691f 50px,#e76028 51px,#d6503b 52px,#892c74 54px,#7f2979 55px,#a2345f 56px,#d44e3d 57px,#ef691f 58px,#f88018 59px,#fa8b17 60px,#f77f18 63px,#f26f1c 67px,#ed6721 73px,#e35b2d 74px,#af3855 76px,#af3856 77px,#e96127 79px,#f47619 80px,#fa8b17 82px,#f88217 85px,#f26f1c 90px,#f26f1c 92px"></i><i style="--g:#000000 0px,#000000 9px,#240f32 11px,#561f73 14px,#652383 15px,#9b3166 18px,#ce4a40 22px,#f16e1c 28px,#f16d1c 41px,#f06a1e 50px,#e25a2f 52px,#c64445 54px,#c84544 55px,#ec6622 57px,#fa8917 59px,#fa8b17 61px,#f2701b 66px,#ef6a1e 73px,#db5437 76px,#ea6325 78px,#f88018 80px,#fa8d18 82px,#f2701b 89px,#f06c1d 92px"></i><i style="--g:#000000 0px,#000000 9px,#3d1952 12px,#5b2178 14px,#6b2583 15px,#af3955 19px,#da5338 23px,#f2701b 28px,#f06c1d 50px,#e25b2e 54px,#ee691f 56px,#fa8d18 59px,#f88118 62px,#f2701b 66px,#ec6622 74px,#ee691f 77px,#fa8c17 81px,#f88218 84px,#f16f1c 89px,#ee691f 92px"></i><i style="--g:#000000 0px,#000000 8px,#040107 9px,#411a58 12px,#5f227d 14px,#712680 15px,#c14149 20px,#e86127 25px,#f26f1c 29px,#f06b1d 50px,#e75f29 53px,#f88218 57px,#fa8d18 59px,#f26f1c 65px,#ed6820 73px,#e96127 75px,#f88217 79px,#fa8917 82px,#f26f1c 87px,#ed6820 92px"></i><i style="--g:#000000 0px,#000000 8px,#09030e 9px,#451b5d 12px,#632381 14px,#8a2c74 16px,#c54346 20px,#ea6325 25px,#f2701b 28px,#ed6721 50px,#e55d2b 52px,#ee691f 54px,#fa8b17 58px,#f77f18 61px,#f06c1d 65px,#ea6325 73px,#e86127 75px,#f88417 79px,#f88417 82px,#f06c1d 87px,#ed6721 92px"></i><i style="--g:#000000 0px,#000000 8px,#0c0413 9px,#481c62 12px,#672485 14px,#ae3856 18px,#da5337 22px,#f2701b 27px,#ea6325 50px,#e25a2f 52px,#f4751a 55px,#fa8817 58px,#ee691f 65px,#e96226 72px,#e55d2b 74px,#f77d18 78px,#f88317 81px,#ef6a1e 86px,#e96226 91px,#ed6721 92px"></i><i style="--g:#000000 0px,#000000 8px,#4b1c65 12px,#6b2583 14px,#b23a54 18px,#dc5535 22px,#f2701b 27px,#ec6622 43px,#e65e2a 50px,#e15930 52px,#f57619 55px,#f98517 58px,#ed6721 64px,#e65e2a 72px,#e55d2b 74px,#f57719 77px,#f88118 80px,#ec6622 86px,#e96226 91px,#ee691f 92px"></i><i style="--g:#000000 0px,#000000 8px,#4d1d68 12px,#6e2682 14px,#b53b51 18px,#de5733 22px,#f16e1c 26px,#e96127 49px,#e05831 51px,#f2701b 54px,#f98517 57px,#ec6622 64px,#e76028 71px,#e35b2e 73px,#f67b18 77px,#f77f18 80px,#ed6721 85px,#e86028 90px,#f16d1c 92px"></i><i style="--g:#000000 0px,#000000 8px,#4e1d6a 12px,#5f227c 13px,#712680 14px,#b73c50 18px,#e05831 22px,#f2701b 26px,#e96226 49px,#e25a2f 51px,#f57619 54px,#fa8817 57px,#ef6a1e 63px,#e75f29 71px,#e75f29 73px,#f67a18 76px,#f88417 79px,#ee6820 85px,#ec6523 90px,#f4741a 92px"></i><i style="--g:#000000 0px,#000000 8px,#401955 11px,#60227d 13px,#73277f 14px,#ba3e4e 18px,#e15a2f 22px,#f3731a 26px,#ee691f 48px,#e75f29 51px,#f77f18 54px,#fa8c18 57px,#f16d1c 63px,#ec6523 70px,#e86127 72px,#f88317 76px,#f98717 79px,#f16d1c 84px,#ed6721 89px,#f77c18 92px"></i><i style="--g:#000000 0px,#000000 8px,#401a56 11px,#61227e 13px,#75277e 14px,#bc3e4d 18px,#e35b2e 22px,#f4751a 26px,#f06b1d 48px,#e86127 50px,#f98717 54px,#fb9019 57px,#f3731a 62px,#f06c1d 69px,#ed6721 72px,#fa8b17 76px,#fa8917 79px,#f2711b 84px,#ef6a1e 88px,#f98517 92px"></i><i style="--g:#000000 0px,#000000 8px,#511e6d 12px,#61227f 13px,#8b2c73 15px,#ca4743 19px,#ef691f 24px,#f57719 27px,#f3721b 47px,#eb6523 50px,#f98617 53px,#fc951a 56px,#f47619 62px,#f16c1d 69px,#ed6820 71px,#fa8c18 75px,#fb8f18 78px,#f3731a 84px,#f2701b 88px,#fa8c18 92px"></i><i style="--g:#000000 0px,#000000 8px,#501e6c 12px,#61227f 13px,#76277e 14px,#be404b 18px,#e55d2b 22px,#f57819 26px,#f3721b 47px,#ec6622 49px,#f4741a 51px,#fb931a 54px,#fb9219 57px,#f57819 62px,#f3711b 68px,#ee691f 70px,#fb9119 75px,#fb8f18 78px,#f4741a 84px,#f2711b 87px,#fb9019 92px"></i><i style="--g:#000000 0px,#000000 8px,#0e0516 9px,#4f1d6b 12px,#60227e 13px,#75277e 14px,#be404b 18px,#e55d2b 22px,#f57918 26px,#f57619 46px,#ed6721 49px,#fb9019 53px,#fc971b 56px,#f67b18 61px,#f2701b 68px,#f06b1d 70px,#fb9019 74px,#fb9219 77px,#f3731a 84px,#f47619 87px,#fb8f19 91px,#fb9119 92px"></i><i style="--g:#000000 0px,#000000 8px,#0b0411 9px,#4d1d69 12px,#5f227c 13px,#73277f 14px,#be404b 18px,#e65e2a 22px,#f67918 26px,#f47619 46px,#ef691f 49px,#fb941a 53px,#fc961a 56px,#f67b18 61px,#f3731a 67px,#f06b1d 69px,#fb941a 74px,#fb9019 77px,#f3721b 84px,#f67b18 87px,#fb9119 91px,#fb9119 92px"></i><i style="--g:#000000 0px,#000000 8px,#060209 9px,#39184b 11px,#5c217a 13px,#702680 14px,#bd3f4b 18px,#e65e2a 22px,#f67918 26px,#f4741a 46px,#ee6820 48px,#f57819 50px,#fc961a 53px,#fb941a 56px,#f67b18 61px,#f2711b 67px,#f16d1c 69px,#fb9219 73px,#fb931a 76px,#f3731a 83px,#f67918 86px,#fb9119 90px,#fb8f18 92px"></i><i style="--g:#000000 0px,#000000 9px,#351645 11px,#592076 13px,#6d2582 14px,#bc3f4c 18px,#e65e2a 22px,#f67a18 26px,#f57819 45px,#ee691f 48px,#fb9319 52px,#fc981b 55px,#f77c18 60px,#f3741a 66px,#f06b1d 68px,#fc951a 73px,#fb9119 76px,#f3721b 83px,#f77e18 86px,#fb9119 90px,#fa8c18 92px"></i><i style="--g:#000000 0px,#000000 9px,#13061d 10px,#441a5b 12px,#692484 14px,#bb3e4d 18px,#e65e2b 22px,#f67a18 26px,#f47619 45px,#ef691f 47px,#f4751a 49px,#fc951a 52px,#fc961a 55px,#f67c18 60px,#f2711b 66px,#f16d1c 68px,#fb9319 72px,#fb931a 75px,#f3731a 82px,#f67c18 85px,#fb9119 89px,#fa8917 92px"></i><i style="--g:#000000 0px,#000000 9px,#0e0516 10px,#411a57 12px,#662484 14px,#b93d4e 18px,#e55d2b 22px,#f67a18 26px,#f57819 44px,#ee691f 47px,#f67a18 49px,#fc971b 52px,#fb941a 55px,#f67b18 60px,#f3741a 65px,#f06c1d 67px,#fc951a 72px,#fb9119 75px,#f3721b 82px,#fb9119 88px,#f98617 92px"></i><i style="--g:#000000 0px,#000000 9px,#0a0310 10px,#3e1953 12px,#642382 14px,#932f6d 16px,#c84544 19px,#eb6523 23px,#f67a18 26px,#f57719 44px,#e96226 47px,#f57918 49px,#fb931a 51px,#fc971b 54px,#f77c18 59px,#f4741a 64px,#f16e1c 67px,#fb931a 71px,#fb931a 74px,#f3721b 81px,#f77e18 84px,#fb9119 88px,#f88317 92px"></i><i style="--g:#000000 0px,#000000 9px,#08030c 10px,#3d1951 12px,#632381 14px,#922f6d 16px,#c84544 19px,#ec6523 23px,#f67a18 26px,#f57918 43px,#eb6424 45px,#d8513a 46px,#ce4a40 47px,#f4751a 49px,#fa8b17 50px,#fc9a1c 52px,#f98817 56px,#f67a18 61px,#f3731a 63px,#e15a2f 65px,#f77d18 68px,#fc961a 71px,#fb9019 74px,#f16d1c 79px,#ed6721 80px,#fa8a17 85px,#fb9019 88px,#f88118 92px"></i><i style="--g:#000000 0px,#000000 9px,#08030c 10px,#3d1952 12px,#642382 14px,#942f6c 16px,#c94643 19px,#ec6622 23px,#f67a18 26px,#f47619 43px,#ee691f 44px,#d34d3d 45px,#9a3166 46px,#9a3167 47px,#d7503b 48px,#f4751a 49px,#fb8e18 50px,#fc9b1c 52px,#f67b18 59px,#f47619 62px,#eb6523 63px,#c94643 64px,#b93d4e 65px,#e25b2e 66px,#f57719 67px,#fb931a 70px,#fb931a 73px,#f67b18 77px,#f16d1c 78px,#db5437 79px,#d7503a 80px,#ef6a1e 81px,#f98817 84px,#fb9119 87px,#f77f18 92px"></i><i style="--g:#000000 0px,#000000 9px,#0a0310 10px,#3f1955 12px,#662484 14px,#ab3758 17px,#d7503a 20px,#f2701b 24px,#f67a18 26px,#f57918 42px,#f3711b 43px,#e25b2e 44px,#9f3362 45px,#561f73 46px,#78287d 47px,#d8513a 48px,#f67a18 49px,#fb9119 50px,#fc9a1c 52px,#f67c18 58px,#f67918 61px,#f26f1c 62px,#d44e3c 63px,#822a78 64px,#973069 65px,#e45d2c 66px,#f77d18 67px,#fc961a 70px,#fb9019 73px,#f47619 77px,#e05831 78px,#a13360 79px,#c34247 80px,#f06c1d 81px,#f98517 83px,#fb9119 86px,#f77e18 92px"></i><i style="--g:#000000 0px,#000000 9px,#0f0517 10px,#431a5a 12px,#6b2583 14px,#af3856 17px,#da5238 20px,#f3721b 24px,#f67a18 26px,#f57719 42px,#f06b1d 43px,#d34d3d 44px,#75277e 45px,#4c1c67 46px,#912e6e 47px,#e65e2a 48px,#f98417 49px,#fc951a 50px,#fc991c 52px,#f67b18 58px,#f57719 61px,#ec6622 62px,#b33b52 63px,#672485 64px,#b03955 65px,#ef691f 66px,#f98517 67px,#fc971b 70px,#f67b18 76px,#f16d1c 77px,#c74544 78px,#8f2e70 79px,#d64f3c 80px,#f47619 81px,#fb8f18 84px,#fa8817 88px,#f77d18 92px"></i><i style="--g:#000000 0px,#000000 9px,#481c61 12px,#5c2179 13px,#722780 14px,#b43b52 17px,#dc5536 20px,#f4751a 24px,#f67918 41px,#f47619 42px,#ed6820 43px,#cc4841 44px,#842b77 45px,#7c297b 46px,#ca4743 47px,#f3711b 48px,#fb8e18 49px,#fc9a1c 51px,#f67b18 58px,#f4751a 61px,#e86028 62px,#b63c51 63px,#a3345f 64px,#de5733 65px,#f67a18 66px,#fa8c17 67px,#fc971b 70px,#f57819 76px,#ee691f 77px,#cd4941 78px,#c84544 79px,#ed6820 80px,#f78018 81px,#fb9119 84px,#f77d18 92px"></i><i style="--g:#000000 0px,#010002 9px,#3a184d 11px,#61227f 13px,#7a287c 14px,#b93d4e 17px,#df5732 20px,#f57819 24px,#f4751a 42px,#ed6820 43px,#ba3e4e 45px,#ca4743 46px,#eb6523 47px,#f88317 48px,#fb931a 49px,#fc991c 51px,#f67b18 57px,#f3721b 61px,#ea6424 62px,#d95139 63px,#df5832 64px,#f3711b 65px,#f98717 66px,#fc971b 69px,#f06c1d 77px,#e75f29 78px,#ed6721 79px,#f98617 81px,#fb9119 84px,#f77c18 91px,#f77e18 92px"></i><i style="--g:#000000 0px,#000000 8px,#0b0410 9px,#401a56 11px,#682485 13px,#ad3757 16px,#d95239 19px,#f3721b 23px,#f67a18 25px,#f47619 41px,#ef6a1e 43px,#e25a2f 45px,#f67b18 47px,#fc961a 49px,#fb9119 52px,#f67918 57px,#ee6820 63px,#fa8d18 66px,#fc951a 69px,#f2701b 77px,#fb9019 83px,#f67b18 90px,#f77f18 92px"></i><i style="--g:#000000 0px,#000000 8px,#11061b 9px,#461b5e 11px,#5a2077 12px,#6f2681 13px,#b23a53 16px,#db5436 19px,#f4751a 23px,#f57819 30px,#f3721b 41px,#ed6721 44px,#fb9019 48px,#fb9219 51px,#f57719 56px,#ef691f 62px,#fb9219 67px,#f88217 71px,#f16d1c 76px,#fa8d18 82px,#f57819 89px,#f78018 92px"></i><i style="--g:#000000 0px,#000000 8px,#371749 10px,#5f227c 12px,#77287d 13px,#b73c50 16px,#de5733 19px,#f57719 23px,#f06b1d 41px,#e96226 43px,#f98817 47px,#fb9119 50px,#f4741a 55px,#eb6523 61px,#fa8d18 66px,#f98717 69px,#ef6a1e 75px,#fa8817 81px,#f3741a 88px,#f77e18 92px"></i><i style="--g:#000000 0px,#030105 8px,#3c184f 10px,#642381 12px,#952f6b 14px,#cb4742 17px,#ee6820 21px,#f67a18 23px,#ef6a1e 40px,#e75f29 43px,#f77e18 46px,#fa8d18 49px,#f16e1c 55px,#e86127 60px,#f98717 65px,#f98417 68px,#ec6622 74px,#f57819 78px,#f88317 81px,#f26f1c 87px,#f67c18 92px"></i><i style="--g:#000000 0px,#000000 7px,#09030e 8px,#3f1955 10px,#672485 12px,#ae3856 15px,#da5238 18px,#f3731a 22px,#f67918 25px,#ec6622 40px,#e45c2c 42px,#f4751a 45px,#fa8b17 48px,#f06b1d 55px,#e86028 60px,#f88217 64px,#f88417 67px,#eb6523 73px,#f16d1c 76px,#f88118 80px,#f16d1c 87px,#f67a18 92px"></i><i style="--g:#000000 0px,#000000 7px,#0c0413 8px,#421a59 10px,#571f73 11px,#6c2583 12px,#b13954 15px,#db5436 18px,#f4751a 22px,#f4751a 28px,#eb6523 40px,#e65e2a 42px,#f67b18 45px,#fa8d18 48px,#f06c1d 55px,#e86028 59px,#f88218 63px,#f98717 66px,#ec6622 72px,#f16d1c 75px,#f88217 79px,#f26f1c 86px,#f67a18 92px"></i><i style="--g:#000000 0px,#000000 7px,#0f0517 8px,#451b5c 10px,#592076 11px,#6f2681 12px,#b43b52 15px,#dd5534 18px,#f57719 22px,#f06c1d 39px,#ea6325 42px,#f88417 45px,#fb9019 48px,#f2711b 54px,#ea6325 58px,#fa8b17 63px,#f98817 66px,#ee691f 72px,#f98717 78px,#f3731a 85px,#f77f18 91px,#f77c18 92px"></i><i style="--g:#000000 0px,#000000 7px,#100519 8px,#461b5f 10px,#5b2178 11px,#722780 12px,#b63c51 15px,#de5733 18px,#f57918 22px,#f16e1c 39px,#eb6424 41px,#fa8c18 45px,#fb931a 48px,#f4741a 54px,#ee6820 58px,#fa8d18 62px,#fb8e18 65px,#f16d1c 71px,#f88118 75px,#fa8c18 78px,#f57819 84px,#f98517 90px,#f77e18 92px"></i><i style="--g:#000000 0px,#000000 7px,#11061b 8px,#481b61 10px,#5c217a 11px,#74277f 12px,#b83d4f 15px,#df5832 18px,#f2711b 21px,#f67a18 23px,#f4741a 38px,#ee6820 41px,#fb9219 45px,#fc951a 48px,#f06b1d 56px,#f2701b 58px,#fb931a 62px,#fb8e18 65px,#f2711b 70px,#f67b18 73px,#fb8f18 77px,#f67b18 83px,#fa8817 89px,#f77e18 92px"></i><i style="--g:#000000 0px,#000000 7px,#12061c 8px,#321542 9px,#5d217b 11px,#76277e 12px,#ba3d4e 15px,#e05930 18px,#f3721b 21px,#f67a18 23px,#f3741a 38px,#ee6820 40px,#f57918 42px,#fc961b 45px,#fb941a 48px,#f06b1d 56px,#fb931a 61px,#fb9119 64px,#f3711b 70px,#fb9119 76px,#f77e18 83px,#fa8a17 88px,#f77d18 92px"></i><i style="--g:#000000 0px,#000000 7px,#11061b 8px,#481c62 10px,#5e217b 11px,#76287e 12px,#bb3e4d 15px,#e15a2f 18px,#f3741a 21px,#f67a18 25px,#f57719 37px,#ef691f 40px,#fb931a 44px,#fc971b 47px,#f06c1d 55px,#f4751a 57px,#fb9219 60px,#fb941a 63px,#f3721b 69px,#fb9119 75px,#f77f18 82px,#fa8b17 87px,#f67c18 92px"></i><i style="--g:#000000 0px,#000000 7px,#0f0518 8px,#471b60 10px,#5d217a 11px,#76277e 12px,#bb3e4d 15px,#e25a2f 18px,#f4741a 21px,#f67a18 31px,#f4751a 37px,#ee691f 39px,#f57719 41px,#fc961a 44px,#fc951a 47px,#f06c1d 55px,#fc961a 60px,#fb9019 63px,#f3721b 68px,#f78018 71px,#fb9119 75px,#f77f18 81px,#fa8917 87px,#f67b18 92px"></i><i style="--g:#000000 0px,#000000 7px,#0c0413 8px,#451b5e 10px,#5b2178 11px,#74277f 12px,#bb3e4d 15px,#e25a2f 18px,#f4751a 21px,#f57819 36px,#ee691f 39px,#fb9219 43px,#fc981b 46px,#f06b1d 54px,#f98417 57px,#fc971b 60px,#f98517 64px,#f3721b 68px,#fb9019 73px,#f98617 77px,#f88118 81px,#fa8a17 86px,#f67a18 92px"></i><i style="--g:#000000 0px,#000000 7px,#07020a 8px,#421a59 10px,#582075 11px,#712680 12px,#b93d4e 15px,#e25a2f 18px,#f4751a 21px,#f47619 36px,#ef691f 38px,#f4751a 40px,#fc951a 43px,#fc961b 46px,#f06c1d 53px,#f4751a 55px,#fb9219 58px,#fb941a 61px,#f3721b 67px,#fb9119 73px,#f77f18 79px,#fa8a17 85px,#f67a18 92px"></i><i style="--g:#000000 0px,#000000 8px,#3e1952 10px,#541f71 11px,#6c2583 12px,#b73c50 15px,#e15a2f 18px,#f4751a 21px,#f57719 35px,#e15930 38px,#f57819 40px,#fc971b 43px,#fb941a 46px,#f06c1d 53px,#fc961a 58px,#fb9019 61px,#f3721b 66px,#fb9119 72px,#f77d18 78px,#fa8a17 84px,#f67918 89px,#f67a18 92px"></i><i style="--g:#000000 0px,#000000 8px,#160821 9px,#38174a 10px,#662484 12px,#b43b52 15px,#e05930 18px,#f4751a 21px,#f57918 34px,#f2711b 35px,#e35b2e 36px,#bc3f4c 37px,#b83d4f 38px,#e15a2f 39px,#f57819 40px,#fa8b17 41px,#fc9a1c 44px,#f26f1c 51px,#f16e1c 54px,#fa8d18 56px,#fc961b 59px,#ef6a1e 65px,#fb9119 71px,#f98717 74px,#f16d1c 76px,#fa8a17 81px,#f98717 84px,#f06a1e 87px,#f67a18 90px,#f67a18 92px"></i><i style="--g:#000000 0px,#000000 8px,#0d0415 9px,#4a1c64 11px,#61227f 12px,#7e297a 13px,#c64446 16px,#f06b1d 20px,#f67a18 22px,#f4751a 34px,#e96325 35px,#b03955 36px,#5b2179 37px,#822a78 38px,#de5733 39px,#f77c18 40px,#fb8f18 41px,#fc9a1c 44px,#f3721b 50px,#eb6424 51px,#c64445 52px,#cb4842 53px,#f16e1c 54px,#fa8917 55px,#fc971b 58px,#f98717 61px,#f57819 62px,#e15930 63px,#bb3e4d 64px,#d95238 65px,#f3721b 66px,#fb9019 70px,#fb8e18 72px,#f67a18 73px,#da5337 74px,#c24248 75px,#e75f29 76px,#f67918 77px,#fa8b17 81px,#f88417 83px,#ef6a1e 84px,#c94643 85px,#c84644 86px,#ec6622 87px,#f57719 88px,#f67a18 92px"></i><i style="--g:#000000 0px,#000000 8px,#060209 9px,#451b5e 11px,#5d217b 12px,#7a287c 13px,#c44346 16px,#e96127 19px,#f67b18 22px,#f67918 33px,#f26f1c 34px,#d44e3d 35px,#5a2077 36px,#250f33 37px,#7c297b 38px,#e75f29 39px,#f98417 40px,#fc991c 42px,#fb931a 45px,#f2701b 49px,#c24148 50px,#4c1d67 51px,#8c2d73 52px,#ed6721 53px,#f98717 54px,#fc981b 57px,#f98717 60px,#ee691f 61px,#902e6f 62px,#4b1c66 63px,#bf404a 64px,#f2711b 65px,#fb9019 69px,#fa8a17 71px,#e75f29 72px,#682484 73px,#61227f 74px,#dd5634 75px,#f67918 76px,#fa8c18 80px,#fa8a17 81px,#f67b18 82px,#cb4742 83px,#4e1d6b 84px,#882c75 85px,#e96127 86px,#f57819 87px,#f67b18 92px"></i><i style="--g:#000000 0px,#000000 9px,#1b0a27 10px,#0b0411 11px,#13061d 13px,#712680 14px,#1e0c2a 15px,#3b184e 22px,#e45c2c 23px,#e45c2c 24px,#3b184e 25px,#3b184e 26px,#e45c2c 27px,#e45c2c 31px,#3b184e 32px,#e45c2c 33px,#3b184e 34px,#361747 37px,#3e1952 38px,#ec6622 39px,#421a58 40px,#441a5b 41px,#f3741a 42px,#451b5d 43px,#431a5b 44px,#ef6a1e 45px,#ec6523 46px,#3d1952 47px,#3c1950 51px,#e96226 52px,#ef6a1e 54px,#431a5a 55px,#441b5c 56px,#f2711b 57px,#431a59 58px,#3d1951 61px,#632380 62px,#da5337 63px,#3c1950 64px,#3d1951 65px,#eb6424 66px,#ed6820 67px,#411a58 68px,#421a59 69px,#f06c1d 70px,#da5338 71px,#3f1955 72px,#3e1953 73px,#e86127 74px,#e86127 75px,#3e1952 76px,#eb6424 77px,#ec6622 78px,#401a56 79px,#3e1953 82px,#531e6f 83px,#3c1950 84px,#3b184f 90px,#e55d2c 91px,#3b184f 92px"></i><i style="--g:#000000 0px,#000000 9px,#431a5a 11px,#5c2179 12px,#79287c 13px,#c64445 16px,#ea6424 19px,#f77c18 22px,#f57719 33px,#e96226 34px,#ab3658 35px,#582074 36px,#872b76 37px,#e35c2d 38px,#f88417 39px,#fc951a 40px,#fc9d1d 42px,#f88417 46px,#f2701b 47px,#d8513a 48px,#cc4841 49px,#ec6523 50px,#f88317 52px,#fc991c 55px,#fc961a 57px,#fa8b17 58px,#f06c1d 59px,#d14c3f 60px,#da5338 61px,#f26f1c 62px,#fb931a 68px,#fa8a17 69px,#ed6721 70px,#d44e3d 71px,#f67a18 73px,#fb8e18 78px,#fa8c18 79px,#f67a18 80px,#df5732 81px,#d14c3e 82px,#ec6622 83px,#f67a18 84px,#f77d18 92px"></i><i style="--g:#000000 0px,#020103 9px,#281036 10px,#60227d 12px,#7f2979 13px,#ca4743 16px,#ed6721 19px,#f77d18 21px,#f67b18 32px,#f4751a 33px,#ea6424 34px,#c84544 35px,#b33a53 36px,#dc5535 37px,#f67918 38px,#fb9119 39px,#fc9e1e 41px,#fa8817 45px,#f3711b 47px,#f47619 50px,#fc9a1c 54px,#fb9119 57px,#f47619 59px,#f67c18 63px,#fc951a 67px,#f77e18 70px,#fb8f18 78px,#f67b18 80px,#f78018 90px,#f78018 92px"></i><i style="--g:#000000 0px,#000000 8px,#0a0310 9px,#311441 10px,#4c1d67 11px,#662484 12px,#a4345e 14px,#cf4a40 16px,#ef6a1e 19px,#f77f18 21px,#f67918 32px,#f06c1d 34px,#e65e2a 35px,#e96127 36px,#f57719 37px,#fb8e18 38px,#fc9f1e 40px,#fa8c18 44px,#f2701b 48px,#fc9a1c 53px,#fc961a 56px,#f57918 61px,#fc961b 66px,#fa8917 73px,#fb9019 78px,#f88217 87px,#f88217 92px"></i><i style="--g:#000000 0px,#000000 8px,#15071f 9px,#3b184e 10px,#551f71 11px,#722680 12px,#c54346 15px,#eb6424 18px,#f88118 21px,#f77c18 31px,#f16e1c 34px,#f77d18 36px,#fc9f1e 39px,#fc971b 42px,#f3721b 47px,#f77d18 49px,#fc9a1c 52px,#fc9a1c 55px,#f67b18 60px,#fc9a1c 66px,#fa8c18 72px,#fb941a 77px,#f98517 85px,#f98517 92px"></i><i style="--g:#000000 0px,#000000 8px,#441b5c 10px,#5f227c 11px,#7f2979 12px,#cc4842 15px,#ee691f 18px,#f88018 20px,#f77f18 30px,#f26f1c 33px,#f88018 35px,#fc9f1e 38px,#fc9b1d 41px,#f3741a 46px,#f67b18 48px,#fc9f1e 52px,#fc971b 55px,#f77d18 59px,#fc9d1d 65px,#fb9119 72px,#fc951a 77px,#fa8917 85px,#fa8917 92px"></i><i style="--g:#000000 0px,#000000 7px,#0a030f 8px,#311541 9px,#4d1d69 10px,#692484 11px,#a9365a 13px,#d34d3d 15px,#f16e1c 18px,#f88317 20px,#f77e18 30px,#f2701b 32px,#f77c18 34px,#fc9e1e 37px,#fc9f1e 40px,#f57619 45px,#f67918 47px,#fc9f1e 51px,#fc9a1c 54px,#f78018 58px,#fb8e18 61px,#fda01f 65px,#fb9219 70px,#fc9a1c 76px,#fa8d18 84px,#fa8d18 92px"></i><i style="--g:#000000 0px,#000000 7px,#15071f 8px,#3b184f 9px,#571f73 10px,#75277e 11px,#b23a54 13px,#d95239 15px,#f3731a 18px,#f98517 20px,#f88118 29px,#f3711b 32px,#fc9c1d 36px,#fda220 39px,#f67918 44px,#f57819 46px,#fc9f1e 50px,#fc9d1d 53px,#f88118 58px,#fda320 64px,#fc971b 70px,#fc9e1e 75px,#fb9019 83px,#fb9019 92px"></i><i style="--g:#000000 0px,#000000 7px,#431a5a 9px,#5e227c 10px,#802a79 11px,#b93d4e 13px,#dd5634 15px,#f06c1d 17px,#f98417 19px,#f88317 28px,#f3721b 31px,#f88217 33px,#fda11f 36px,#fc9f1e 39px,#f47619 44px,#f78018 46px,#fda220 50px,#fc991c 53px,#f88218 57px,#fda521 63px,#fc991b 69px,#fda11f 74px,#fb931a 81px,#fb931a 92px"></i><i style="--g:#000000 0px,#000000 7px,#291137 8px,#491c62 9px,#652382 10px,#882c75 11px,#c0414a 13px,#eb6424 16px,#f98717 19px,#f88118 28px,#f3731a 30px,#f77d18 32px,#fc9f1e 35px,#fda11f 38px,#f57719 43px,#f77c18 45px,#fda11f 49px,#fc9a1c 52px,#f88218 56px,#fda421 62px,#fc991c 68px,#fda320 73px,#fb941a 81px,#fb941a 92px"></i><i style="--g:#000000 0px,#000000 6px,#060209 7px,#2f143f 8px,#4d1d69 9px,#6a2583 10px,#ac3757 12px,#d7503b 14px,#f3731a 17px,#f98817 19px,#f88317 27px,#f3711b 30px,#fc9a1c 34px,#fda01f 37px,#f57719 42px,#f57819 44px,#fc9d1d 48px,#fc9a1c 51px,#f77f18 55px,#fda220 62px,#fc971b 67px,#fda11f 72px,#fb9319 80px,#fb9319 92px"></i><i style="--g:#000000 0px,#000000 6px,#0a030f 7px,#341644 8px,#511e6d 9px,#702681 10px,#b03955 12px,#d95238 14px,#f4751a 17px,#f98817 19px,#f98417 26px,#f2701b 29px,#f77d18 31px,#fc9b1c 34px,#fc991b 37px,#f2701b 42px,#f67b18 44px,#fc971b 47px,#fc971b 50px,#f67b18 54px,#fa8917 57px,#fc9e1e 61px,#fc951a 67px,#fc9d1d 71px,#fb8f18 79px,#fb8f18 92px"></i><i style="--g:#000000 0px,#000000 6px,#0c0413 7px,#371748 8px,#541f70 9px,#74277f 10px,#b43b52 12px,#db5436 14px,#f06b1d 16px,#f98517 18px,#f98617 25px,#f67918 27px,#ec6622 28px,#fb8e18 32px,#fc9a1c 35px,#f77e18 39px,#f16d1c 41px,#f4741a 43px,#fc961a 47px,#fb8e18 50px,#f47619 54px,#fc981b 60px,#fb8f18 66px,#fc961a 71px,#fa8917 79px,#fa8917 92px"></i><i style="--g:#000000 0px,#000000 6px,#0e0516 7px,#39184b 8px,#561f73 9px,#77287d 10px,#b63c50 12px,#dd5634 14px,#f16d1c 16px,#f98717 18px,#f88417 25px,#f77d18 26px,#dd5535 28px,#f2711b 29px,#fb9319 32px,#fc971b 35px,#f06a1e 41px,#fb931a 46px,#fa8d18 49px,#f3731a 53px,#fb941a 59px,#fa8b17 65px,#fb9219 70px,#f98517 78px,#f98517 92px"></i><i style="--g:#000000 0px,#000000 6px,#100519 7px,#3b184e 8px,#582075 9px,#7a287c 10px,#b93d4e 12px,#df5732 14px,#f26f1c 16px,#fa8817 18px,#f98617 24px,#f57619 26px,#da5337 27px,#e05931 28px,#f77d18 29px,#fc991c 32px,#fc951a 35px,#f16c1d 40px,#f98417 43px,#fc971b 46px,#f88018 50px,#f47619 53px,#fc951a 58px,#fa8a17 64px,#fb9219 69px,#f98517 77px,#f98517 92px"></i><i style="--g:#000000 0px,#000000 6px,#11061b 7px,#3c1950 8px,#5a2077 9px,#7d297a 10px,#bc3f4c 12px,#e05931 14px,#f2711b 16px,#fa8917 18px,#f88317 24px,#f16e1c 26px,#de5733 27px,#f2711b 28px,#fa8b17 29px,#fda220 32px,#fb931a 35px,#f3721b 39px,#f67b18 41px,#fc981b 44px,#fc951a 47px,#f67a18 51px,#f98817 54px,#fc991c 58px,#fb8e18 63px,#fc961a 68px,#fa8917 77px,#fa8917 92px"></i><i style="--g:#000000 0px,#000000 6px,#13061d 7px,#3e1952 8px,#5c2179 9px,#802a79 10px,#bf404b 12px,#e25a2f 14px,#f3731a 16px,#fa8917 18px,#f98617 23px,#f2711b 27px,#fa8d18 28px,#fda823 31px,#fc9a1c 34px,#f67c18 37px,#f67b18 39px,#fda11f 43px,#fc971b 46px,#f88218 50px,#fc9f1e 56px,#fb931a 61px,#fc9a1c 66px,#fa8d18 74px,#fa8d18 92px"></i><i style="--g:#000000 0px,#000000 6px,#15071f 7px,#3f1954 8px,#5e217b 9px,#832a77 10px,#c14149 12px,#e45c2d 14px,#f47619 16px,#fa8a17 18px,#fa8817 22px,#f67b18 25px,#fda722 29px,#fdae2b 31px,#fa8a17 35px,#f88118 37px,#fda823 42px,#fa8a17 48px,#fda421 54px,#fc991b 59px,#fc9f1e 64px,#fb9219 72px,#fb9219 92px"></i><i style="--g:#000000 0px,#000000 6px,#170822 7px,#411a57 8px,#60227d 9px,#862b76 10px,#c44347 12px,#e55d2b 14px,#f57819 16px,#f98817 17px,#fa8b17 21px,#f77e18 24px,#fc9f1e 27px,#feb230 29px,#fdae2c 31px,#fb8e18 34px,#fa8917 36px,#fdac28 40px,#fda220 43px,#fb9119 46px,#fdaa25 52px,#fc9e1e 57px,#fda320 62px,#fc961b 69px,#fc961b 92px"></i><i style="--g:#000000 0px,#000000 6px,#190924 7px,#421a59 8px,#62227f 9px,#892c74 10px,#c64445 12px,#e75f29 14px,#f67b18 16px,#fa8b17 17px,#f98817 21px,#f78018 23px,#fda21f 26px,#feb535 28px,#feb230 30px,#fc9c1d 32px,#fb8e18 34px,#fda220 37px,#feb12f 39px,#fc971b 44px,#fdae2c 50px,#fda320 55px,#fda722 60px,#fc9a1c 67px,#fc9a1c 92px"></i><i style="--g:#000000 0px,#000000 6px,#1b0a26 7px,#441a5b 8px,#642381 9px,#8c2d72 10px,#c84544 12px,#e86127 14px,#f77d18 16px,#fa8b17 17px,#f88018 22px,#fb931a 24px,#feb738 27px,#feb433 29px,#fc9e1e 31px,#fb931a 33px,#fdab27 36px,#feb332 38px,#fc9d1e 42px,#fda521 45px,#feb230 48px,#fda722 53px,#fdac29 57px,#fc9d1d 65px,#fc9d1d 92px"></i><i style="--g:#000000 0px,#000000 6px,#1d0b29 7px,#461b5e 8px,#662484 9px,#b03955 11px,#dd5535 13px,#f2701b 15px,#fa8b17 17px,#f77f18 21px,#fb9019 23px,#feb636 26px,#feb331 28px,#fc9e1e 30px,#fc971b 32px,#fda622 34px,#feb231 36px,#fda01f 41px,#feb332 46px,#fda924 51px,#fdad2a 55px,#fc9e1e 62px,#fc9e1e 92px"></i><i style="--g:#000000 0px,#000000 6px,#1f0c2b 7px,#471b60 8px,#682485 9px,#b33a53 11px,#de5733 13px,#f3721b 15px,#fa8917 17px,#f98617 18px,#f3741a 20px,#fc991c 23px,#feaf2c 25px,#fdac28 27px,#fc971b 30px,#fdad29 35px,#fda11f 40px,#feaf2d 44px,#fda722 49px,#fdaa26 53px,#fc9d1d 61px,#fc9d1d 92px"></i><i style="--g:#000000 0px,#000000 6px,#491c63 8px,#6b2583 9px,#b63c51 11px,#e05831 13px,#f2711b 15px,#f77f18 16px,#f88317 17px,#f67b18 18px,#e45c2c 19px,#ee6820 20px,#f98517 21px,#fda320 24px,#fb941a 29px,#fda320 33px,#fda01f 39px,#fda722 43px,#fc991c 65px,#fc991c 92px"></i><i style="--g:#000000 0px,#000000 6px,#4b1c65 8px,#6e2682 9px,#b93d4f 11px,#e25a2f 13px,#ec6622 15px,#f57719 16px,#f67a18 17px,#ef691f 18px,#d85139 19px,#f2711b 20px,#fa8a17 21px,#fc961b 23px,#fb8f18 28px,#fc991b 31px,#fc9b1c 38px,#fc951a 92px"></i><i style="--g:#000000 0px,#000000 6px,#4c1d68 8px,#712680 9px,#bb3e4d 11px,#d34e3d 12px,#e15a30 13px,#d44e3c 15px,#f26f1c 16px,#f3741a 17px,#ec6622 18px,#ea6424 19px,#f88317 20px,#fa8d18 21px,#f98517 26px,#fb8e18 30px,#fb941a 47px,#fb9119 92px"></i><i style="--g:#000000 0px,#000000 6px,#4e1d6a 8px,#74277f 9px,#be404b 11px,#d54f3c 12px,#db5436 13px,#b43b52 14px,#b63c50 15px,#f3721b 16px,#f67c18 19px,#f98517 20px,#f67c18 24px,#f98517 28px,#fb8e18 46px,#fa8d18 92px"></i><i style="--g:#000000 0px,#000000 6px,#501e6c 8px,#78287d 9px,#c14149 11px,#d64f3b 12px,#cf4a40 13px,#993168 14px,#d04b3f 15px,#f4751a 16px,#f88118 18px,#f67918 23px,#f88118 26px,#fa8b17 45px,#fa8b17 92px"></i><i style="--g:#000000 0px,#000001 2px,#12061c 3px,#13061d 4px,#2c123b 5px,#08030d 6px,#0b0411 7px,#6e2682 8px,#0f0517 9px,#0f0517 12px,#832a77 13px,#832a77 14px,#0f0517 15px,#0f0517 16px,#832a77 17px,#832a77 18px,#0f0517 19px,#0f0517 20px,#832a77 21px,#832a77 22px,#0f0517 23px,#0f0517 24px,#832a77 25px,#832a77 26px,#0f0517 27px,#832a77 28px,#832a77 29px,#0f0517 30px,#0f0517 33px,#832a77 34px,#0f0517 35px,#0f0517 41px,#832a77 42px,#0f0517 43px,#0f0517 45px,#832a77 46px,#832a77 47px,#0f0517 48px,#0f0517 49px,#832a77 50px,#832a77 51px,#0f0517 52px,#832a77 53px,#832a77 56px,#0f0517 57px,#0f0517 60px,#832a77 61px,#0f0517 62px,#832a77 63px,#0f0517 64px,#0f0517 70px,#832a77 71px,#0f0517 72px,#0f0517 76px,#832a77 77px,#832a77 78px,#0f0517 79px,#0f0517 84px,#832a77 85px,#0f0517 86px,#832a77 87px,#0f0517 88px,#832a77 89px,#0f0517 90px,#832a77 91px,#832a77 92px"></i><i style="--g:#000000 0px,#000001 2px,#12061c 3px,#461b5f 4px,#902e6f 5px,#d64f3b 6px,#f3731a 7px,#fb941a 8px,#fdaa26 9px,#feaf2c 11px,#fda823 12px,#fc951a 13px,#fc961a 14px,#fdaa26 16px,#fc991c 19px,#fda220 24px,#feaf2d 35px,#feb12f 92px"></i><i style="--g:#000000 0px,#000001 2px,#13061d 3px,#481c61 4px,#942f6b 5px,#da5238 6px,#f57719 7px,#fc9a1c 8px,#feb02e 9px,#feb534 11px,#fda824 13px,#feb332 16px,#fda421 18px,#feb636 33px,#feba3d 92px"></i><i style="--g:#000000 0px,#000001 2px,#14071e 3px,#4a1c65 4px,#9a3167 5px,#dd5634 6px,#f77d18 7px,#fda01f 8px,#feb738 9px,#febc40 11px,#feb535 13px,#feba3d 16px,#feb130 18px,#feb635 20px,#feb636 23px,#febd42 31px,#fec550 92px"></i><i style="--g:#000000 0px,#000001 2px,#150720 3px,#4d1d68 4px,#a03361 5px,#e25a2f 6px,#f88417 7px,#fda823 8px,#febf45 9px,#fec44f 10px,#fec34c 14px,#fec048 22px,#fecb5c 51px,#fed169 92px"></i><i style="--g:#000000 0px,#010001 2px,#160821 3px,#501d6c 4px,#a7355c 5px,#e65e2a 6px,#fa8b17 7px,#feb02e 8px,#fec856 9px,#fecd61 10px,#fecd62 24px,#fede86 84px,#fede86 92px"></i><i style="--g:#000000 0px,#010001 2px,#170922 3px,#531e6f 4px,#ae3856 5px,#ea6325 6px,#fb9219 7px,#feb93b 8px,#fed169 9px,#fed776 10px,#fedb7f 36px,#ffe7a5 81px,#ffe7a5 92px"></i></div>
<div class="fr" style="left:388px;top:168px;width:99px;height:97px"></div><b style="left:390.50px;top:263px;width:1px;height:1px"></b><b style="left:390.50px;top:169px;width:1px;height:1px"></b><b style="left:389px;top:262.50px;width:1px;height:1px"></b><b style="left:485px;top:262.50px;width:1px;height:1px"></b><b style="left:395.15px;top:263px;width:1px;height:1px"></b><b style="left:395.15px;top:169px;width:1px;height:1px"></b><b style="left:389px;top:257.85px;width:1px;height:1px"></b><b style="left:485px;top:257.85px;width:1px;height:1px"></b><b style="left:399.80px;top:263px;width:1px;height:1px"></b><b style="left:399.80px;top:169px;width:1px;height:1px"></b><b style="left:389px;top:253.20px;width:1px;height:1px"></b><b style="left:485px;top:253.20px;width:1px;height:1px"></b><b style="left:404.45px;top:263px;width:1px;height:1px"></b><b style="left:404.45px;top:169px;width:1px;height:1px"></b><b style="left:389px;top:248.55px;width:1px;height:1px"></b><b style="left:485px;top:248.55px;width:1px;height:1px"></b><b style="left:409.10px;top:263px;width:1px;height:1px"></b><b style="left:409.10px;top:169px;width:1px;height:1px"></b><b style="left:389px;top:243.90px;width:1px;height:1px"></b><b style="left:485px;top:243.90px;width:1px;height:1px"></b><b style="left:413.75px;top:263px;width:1px;height:1px"></b><b style="left:413.75px;top:169px;width:1px;height:1px"></b><b style="left:389px;top:239.25px;width:1px;height:1px"></b><b style="left:485px;top:239.25px;width:1px;height:1px"></b><b style="left:418.40px;top:263px;width:1px;height:1px"></b><b style="left:418.40px;top:169px;width:1px;height:1px"></b><b style="left:389px;top:234.60px;width:1px;height:1px"></b><b style="left:485px;top:234.60px;width:1px;height:1px"></b><b style="left:423.05px;top:263px;width:1px;height:1px"></b><b style="left:423.05px;top:169px;width:1px;height:1px"></b><b style="left:389px;top:229.95px;width:1px;height:1px"></b><b style="left:485px;top:229.95px;width:1px;height:1px"></b><b style="left:427.70px;top:263px;width:1px;height:1px"></b><b style="left:427.70px;top:169px;width:1px;height:1px"></b><b style="left:389px;top:225.30px;width:1px;height:1px"></b><b style="left:485px;top:225.30px;width:1px;height:1px"></b><b style="left:432.35px;top:263px;width:1px;height:1px"></b><b style="left:432.35px;top:169px;width:1px;height:1px"></b><b style="left:389px;top:220.65px;width:1px;height:1px"></b><b style="left:485px;top:220.65px;width:1px;height:1px"></b><b style="left:437.00px;top:263px;width:1px;height:1px"></b><b style="left:437.00px;top:169px;width:1px;height:1px"></b><b style="left:389px;top:216.00px;width:1px;height:1px"></b><b style="left:485px;top:216.00px;width:1px;height:1px"></b><b style="left:441.65px;top:263px;width:1px;height:1px"></b><b style="left:441.65px;top:169px;width:1px;height:1px"></b><b style="left:389px;top:211.35px;width:1px;height:1px"></b><b style="left:485px;top:211.35px;width:1px;height:1px"></b><b style="left:446.30px;top:263px;width:1px;height:1px"></b><b style="left:446.30px;top:169px;width:1px;height:1px"></b><b style="left:389px;top:206.70px;width:1px;height:1px"></b><b style="left:485px;top:206.70px;width:1px;height:1px"></b><b style="left:450.95px;top:263px;width:1px;height:1px"></b><b style="left:450.95px;top:169px;width:1px;height:1px"></b><b style="left:389px;top:202.05px;width:1px;height:1px"></b><b style="left:485px;top:202.05px;width:1px;height:1px"></b><b style="left:455.60px;top:263px;width:1px;height:1px"></b><b style="left:455.60px;top:169px;width:1px;height:1px"></b><b style="left:389px;top:197.40px;width:1px;height:1px"></b><b style="left:485px;top:197.40px;width:1px;height:1px"></b><b style="left:460.25px;top:263px;width:1px;height:1px"></b><b style="left:460.25px;top:169px;width:1px;height:1px"></b><b style="left:389px;top:192.75px;width:1px;height:1px"></b><b style="left:485px;top:192.75px;width:1px;height:1px"></b><b style="left:464.90px;top:263px;width:1px;height:1px"></b><b style="left:464.90px;top:169px;width:1px;height:1px"></b><b style="left:389px;top:188.10px;width:1px;height:1px"></b><b style="left:485px;top:188.10px;width:1px;height:1px"></b><b style="left:469.55px;top:263px;width:1px;height:1px"></b><b style="left:469.55px;top:169px;width:1px;height:1px"></b><b style="left:389px;top:183.45px;width:1px;height:1px"></b><b style="left:485px;top:183.45px;width:1px;height:1px"></b><b style="left:474.20px;top:263px;width:1px;height:1px"></b><b style="left:474.20px;top:169px;width:1px;height:1px"></b><b style="left:389px;top:178.80px;width:1px;height:1px"></b><b style="left:485px;top:178.80px;width:1px;height:1px"></b><b style="left:478.85px;top:263px;width:1px;height:1px"></b><b style="left:478.85px;top:169px;width:1px;height:1px"></b><b style="left:389px;top:174.15px;width:1px;height:1px"></b><b style="left:485px;top:174.15px;width:1px;height:1px"></b><b style="left:483.50px;top:263px;width:1px;height:1px"></b><b style="left:483.50px;top:169px;width:1px;height:1px"></b><b style="left:389px;top:169.50px;width:1px;height:1px"></b><b style="left:485px;top:169.50px;width:1px;height:1px"></b>
<div class="t tk" style="left:390.80px;top:275.20px;transform:translate(-50%,-50%)">0</div><div class="t tk" style="left:386.90px;top:265.10px;transform:translate(-100%,-50%)">0</div><div class="t tk" style="left:409.40px;top:275.20px;transform:translate(-50%,-50%)">2</div><div class="t tk" style="left:386.90px;top:246.50px;transform:translate(-100%,-50%)">2</div><div class="t tk" style="left:428.00px;top:275.20px;transform:translate(-50%,-50%)">4</div><div class="t tk" style="left:386.90px;top:227.90px;transform:translate(-100%,-50%)">4</div><div class="t tk" style="left:446.60px;top:275.20px;transform:translate(-50%,-50%)">6</div><div class="t tk" style="left:386.90px;top:209.30px;transform:translate(-100%,-50%)">6</div><div class="t tk" style="left:465.20px;top:275.20px;transform:translate(-50%,-50%)">8</div><div class="t tk" style="left:386.90px;top:190.70px;transform:translate(-100%,-50%)">8</div><div class="t tk" style="left:483.80px;top:275.20px;transform:translate(-50%,-50%)">10</div><div class="t tk" style="left:386.90px;top:172.10px;transform:translate(-100%,-50%)">10</div>
<div class="cb" style="left:497.7px;top:197.2px;width:7px;height:68.9px;background:linear-gradient(0deg,#000000 0.0%,#14071f 4.3%,#321542 8.7%,#491c63 13.0%,#61227e 17.4%,#802a79 21.7%,#9f3263 26.1%,#b93d4e 30.4%,#cf4a40 34.8%,#de5733 39.1%,#ea6325 43.5%,#f2701b 47.8%,#f77e18 52.2%,#fa8d18 56.5%,#fc9a1c 60.9%,#fda824 65.2%,#feb636 69.6%,#fec34d 73.9%,#fed168 78.3%,#fede85 82.6%,#ffe6a1 87.0%,#ffeebe 91.3%,#fff5da 95.7%,#fffef8 100.0%)"></div><div class="t cl" style="left:508.20px;top:268.20px;transform:translate(0,-50%)">0</div><b class="ct" style="left:504.7px;top:265.6px"></b><div class="t cl" style="left:508.20px;top:255.49px;transform:translate(0,-50%)">1</div><b class="ct" style="left:504.7px;top:252.9px"></b><div class="t cl" style="left:508.20px;top:242.78px;transform:translate(0,-50%)">2</div><b class="ct" style="left:504.7px;top:240.2px"></b><div class="t cl" style="left:508.20px;top:230.06px;transform:translate(0,-50%)">3</div><b class="ct" style="left:504.7px;top:227.5px"></b><div class="t cl" style="left:508.20px;top:217.35px;transform:translate(0,-50%)">4</div><b class="ct" style="left:504.7px;top:214.8px"></b><div class="t cl" style="left:508.20px;top:204.64px;transform:translate(0,-50%)">5</div><b class="ct" style="left:504.7px;top:202.0px"></b><div class="t ctl" style="left:505.40px;top:187.90px;transform:translate(-50%,-50%)"><i>δ</i><sub>max</sub></div>
<div class="t g0" style="left:437.10px;top:289.20px;transform:translate(-50%,-50%)"><i>g&#771;</i><sub>0</sub></div><div class="t d2" style="left:366.50px;top:216.80px;transform:translate(-50%,-50%) rotate(-90deg)"><i>d&#771;</i><sub>2</sub></div><div class="t cap" style="left:436.00px;top:306.50px;transform:translate(-50%,-50%)">(f)</div>
</body></html>
